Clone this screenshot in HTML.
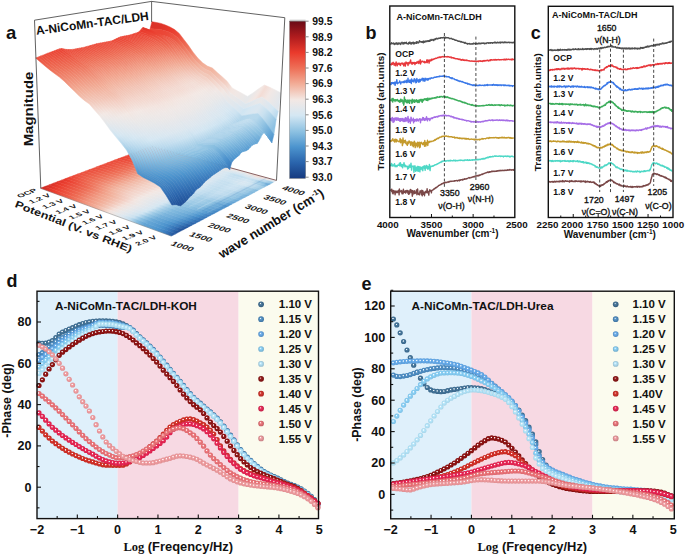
<!DOCTYPE html><html><head><meta charset="utf-8"><style>html,body{margin:0;padding:0;background:#fff;overflow:hidden}svg{display:block}text{font-family:"Liberation Sans",sans-serif}</style></head><body><svg width="685" height="554" viewBox="0 0 685 554" font-family="Liberation Sans, sans-serif"><defs><radialGradient id="dg0" cx="0.5" cy="0.5" r="0.5" fx="0.4" fy="0.38"><stop offset="0" stop-color="#fff" stop-opacity="0.95"/><stop offset="0.12" stop-color="#fff" stop-opacity="0.7"/><stop offset="0.36" stop-color="#49789c"/><stop offset="1" stop-color="#38668a"/></radialGradient><radialGradient id="lg0" cx="0.5" cy="0.5" r="0.5" fx="0.38" fy="0.35"><stop offset="0" stop-color="#fff" stop-opacity="0.9"/><stop offset="0.3" stop-color="#507da0"/><stop offset="1" stop-color="#325b7b"/></radialGradient><radialGradient id="dg1" cx="0.5" cy="0.5" r="0.5" fx="0.4" fy="0.38"><stop offset="0" stop-color="#fff" stop-opacity="0.95"/><stop offset="0.12" stop-color="#fff" stop-opacity="0.7"/><stop offset="0.36" stop-color="#5593c8"/><stop offset="1" stop-color="#4481b4"/></radialGradient><radialGradient id="lg1" cx="0.5" cy="0.5" r="0.5" fx="0.38" fy="0.35"><stop offset="0" stop-color="#fff" stop-opacity="0.9"/><stop offset="0.3" stop-color="#5c98ca"/><stop offset="1" stop-color="#3d73a1"/></radialGradient><radialGradient id="dg2" cx="0.5" cy="0.5" r="0.5" fx="0.4" fy="0.38"><stop offset="0" stop-color="#fff" stop-opacity="0.95"/><stop offset="0.12" stop-color="#fff" stop-opacity="0.7"/><stop offset="0.36" stop-color="#6bafed"/><stop offset="1" stop-color="#5a9cd9"/></radialGradient><radialGradient id="lg2" cx="0.5" cy="0.5" r="0.5" fx="0.38" fy="0.35"><stop offset="0" stop-color="#fff" stop-opacity="0.9"/><stop offset="0.3" stop-color="#72b2ee"/><stop offset="1" stop-color="#508bc2"/></radialGradient><radialGradient id="dg3" cx="0.5" cy="0.5" r="0.5" fx="0.4" fy="0.38"><stop offset="0" stop-color="#fff" stop-opacity="0.95"/><stop offset="0.12" stop-color="#fff" stop-opacity="0.7"/><stop offset="0.36" stop-color="#8dd3f8"/><stop offset="1" stop-color="#7bbfe4"/></radialGradient><radialGradient id="lg3" cx="0.5" cy="0.5" r="0.5" fx="0.38" fy="0.35"><stop offset="0" stop-color="#fff" stop-opacity="0.9"/><stop offset="0.3" stop-color="#92d5f9"/><stop offset="1" stop-color="#6eabcb"/></radialGradient><radialGradient id="dg4" cx="0.5" cy="0.5" r="0.5" fx="0.4" fy="0.38"><stop offset="0" stop-color="#fff" stop-opacity="0.95"/><stop offset="0.12" stop-color="#fff" stop-opacity="0.7"/><stop offset="0.36" stop-color="#b8e8fc"/><stop offset="1" stop-color="#a6d4e8"/></radialGradient><radialGradient id="lg4" cx="0.5" cy="0.5" r="0.5" fx="0.38" fy="0.35"><stop offset="0" stop-color="#fff" stop-opacity="0.9"/><stop offset="0.3" stop-color="#bce8fc"/><stop offset="1" stop-color="#94bdcf"/></radialGradient><radialGradient id="dg5" cx="0.5" cy="0.5" r="0.5" fx="0.4" fy="0.38"><stop offset="0" stop-color="#fff" stop-opacity="0.95"/><stop offset="0.12" stop-color="#fff" stop-opacity="0.7"/><stop offset="0.36" stop-color="#931b1b"/><stop offset="1" stop-color="#810b0b"/></radialGradient><radialGradient id="lg5" cx="0.5" cy="0.5" r="0.5" fx="0.38" fy="0.35"><stop offset="0" stop-color="#fff" stop-opacity="0.9"/><stop offset="0.3" stop-color="#982424"/><stop offset="1" stop-color="#730a0a"/></radialGradient><radialGradient id="dg6" cx="0.5" cy="0.5" r="0.5" fx="0.4" fy="0.38"><stop offset="0" stop-color="#fff" stop-opacity="0.95"/><stop offset="0.12" stop-color="#fff" stop-opacity="0.7"/><stop offset="0.36" stop-color="#d7372f"/><stop offset="1" stop-color="#c3271f"/></radialGradient><radialGradient id="lg6" cx="0.5" cy="0.5" r="0.5" fx="0.38" fy="0.35"><stop offset="0" stop-color="#fff" stop-opacity="0.9"/><stop offset="0.3" stop-color="#d83f38"/><stop offset="1" stop-color="#ae221c"/></radialGradient><radialGradient id="dg7" cx="0.5" cy="0.5" r="0.5" fx="0.4" fy="0.38"><stop offset="0" stop-color="#fff" stop-opacity="0.95"/><stop offset="0.12" stop-color="#fff" stop-opacity="0.7"/><stop offset="0.36" stop-color="#eb2d5a"/><stop offset="1" stop-color="#d71d4a"/></radialGradient><radialGradient id="lg7" cx="0.5" cy="0.5" r="0.5" fx="0.38" fy="0.35"><stop offset="0" stop-color="#fff" stop-opacity="0.9"/><stop offset="0.3" stop-color="#ec3662"/><stop offset="1" stop-color="#c01a42"/></radialGradient><radialGradient id="dg8" cx="0.5" cy="0.5" r="0.5" fx="0.4" fy="0.38"><stop offset="0" stop-color="#fff" stop-opacity="0.95"/><stop offset="0.12" stop-color="#fff" stop-opacity="0.7"/><stop offset="0.36" stop-color="#ef797e"/><stop offset="1" stop-color="#db676d"/></radialGradient><radialGradient id="lg8" cx="0.5" cy="0.5" r="0.5" fx="0.38" fy="0.35"><stop offset="0" stop-color="#fff" stop-opacity="0.9"/><stop offset="0.3" stop-color="#f07e84"/><stop offset="1" stop-color="#c35c61"/></radialGradient><radialGradient id="dg9" cx="0.5" cy="0.5" r="0.5" fx="0.4" fy="0.38"><stop offset="0" stop-color="#fff" stop-opacity="0.95"/><stop offset="0.12" stop-color="#fff" stop-opacity="0.7"/><stop offset="0.36" stop-color="#f3a0a4"/><stop offset="1" stop-color="#df8e91"/></radialGradient><radialGradient id="lg9" cx="0.5" cy="0.5" r="0.5" fx="0.38" fy="0.35"><stop offset="0" stop-color="#fff" stop-opacity="0.9"/><stop offset="0.3" stop-color="#f3a4a8"/><stop offset="1" stop-color="#c67e82"/></radialGradient><linearGradient id="sg0" gradientUnits="userSpaceOnUse" x1="149.9" y1="146.8" x2="274.8" y2="181.5"><stop offset="0.000" stop-color="#e93a2c"/><stop offset="0.044" stop-color="#e8392b"/><stop offset="0.089" stop-color="#e93a2c"/><stop offset="0.135" stop-color="#ea3f30"/><stop offset="0.181" stop-color="#eb4938"/><stop offset="0.227" stop-color="#ec5c47"/><stop offset="0.274" stop-color="#ee745c"/><stop offset="0.322" stop-color="#f0927b"/><stop offset="0.370" stop-color="#f2a892"/><stop offset="0.419" stop-color="#f2baa8"/><stop offset="0.468" stop-color="#f2b9a6"/><stop offset="0.519" stop-color="#f2c6b8"/><stop offset="0.569" stop-color="#f3d4c9"/><stop offset="0.621" stop-color="#f2e8e5"/><stop offset="0.673" stop-color="#ece8e8"/><stop offset="0.726" stop-color="#e8e8e9"/><stop offset="0.779" stop-color="#ece8e7"/><stop offset="0.833" stop-color="#f3e0da"/><stop offset="0.888" stop-color="#f3e0da"/><stop offset="0.944" stop-color="#eae8e8"/><stop offset="1.000" stop-color="#dce7ef"/></linearGradient><linearGradient id="sg1" gradientUnits="userSpaceOnUse" x1="146.6" y1="148.0" x2="271.8" y2="183.1"><stop offset="0.000" stop-color="#eb4b3a"/><stop offset="0.044" stop-color="#eb4938"/><stop offset="0.089" stop-color="#eb4a39"/><stop offset="0.135" stop-color="#ec503e"/><stop offset="0.180" stop-color="#ec5a46"/><stop offset="0.227" stop-color="#ee6d55"/><stop offset="0.274" stop-color="#ef8770"/><stop offset="0.322" stop-color="#f1a48e"/><stop offset="0.370" stop-color="#f2baa8"/><stop offset="0.419" stop-color="#f3ccbf"/><stop offset="0.468" stop-color="#f3ccbf"/><stop offset="0.518" stop-color="#f3dad2"/><stop offset="0.569" stop-color="#f2e8e4"/><stop offset="0.621" stop-color="#e5e8eb"/><stop offset="0.673" stop-color="#dde7ee"/><stop offset="0.725" stop-color="#d7e7f2"/><stop offset="0.779" stop-color="#d8e7f1"/><stop offset="0.833" stop-color="#dfe7ee"/><stop offset="0.888" stop-color="#dae7f0"/><stop offset="0.944" stop-color="#bad9ed"/><stop offset="1.000" stop-color="#8dc2e2"/></linearGradient><linearGradient id="sg2" gradientUnits="userSpaceOnUse" x1="143.4" y1="149.2" x2="268.8" y2="184.7"><stop offset="0.000" stop-color="#e4372b"/><stop offset="0.044" stop-color="#e93a2c"/><stop offset="0.089" stop-color="#ea4031"/><stop offset="0.134" stop-color="#eb4b3a"/><stop offset="0.180" stop-color="#ec5945"/><stop offset="0.227" stop-color="#ee6f57"/><stop offset="0.274" stop-color="#f08c75"/><stop offset="0.322" stop-color="#f2ab95"/><stop offset="0.370" stop-color="#f2c2b3"/><stop offset="0.419" stop-color="#f3d5cb"/><stop offset="0.468" stop-color="#f3d7ce"/><stop offset="0.518" stop-color="#f3e7e2"/><stop offset="0.569" stop-color="#ebe8e8"/><stop offset="0.620" stop-color="#dee7ee"/><stop offset="0.673" stop-color="#d5e7f2"/><stop offset="0.725" stop-color="#c4dfef"/><stop offset="0.779" stop-color="#c2deef"/><stop offset="0.833" stop-color="#cee4f1"/><stop offset="0.888" stop-color="#bfdcee"/><stop offset="0.944" stop-color="#93c5e3"/><stop offset="1.000" stop-color="#64a5d5"/></linearGradient><linearGradient id="sg3" gradientUnits="userSpaceOnUse" x1="140.1" y1="150.5" x2="265.8" y2="186.3"><stop offset="0.000" stop-color="#ea3a2c"/><stop offset="0.044" stop-color="#ea4031"/><stop offset="0.089" stop-color="#eb4737"/><stop offset="0.134" stop-color="#ec5340"/><stop offset="0.180" stop-color="#ed614c"/><stop offset="0.227" stop-color="#ee7760"/><stop offset="0.274" stop-color="#f0947d"/><stop offset="0.321" stop-color="#f2b29e"/><stop offset="0.370" stop-color="#f2c8ba"/><stop offset="0.418" stop-color="#f3dad2"/><stop offset="0.468" stop-color="#f3dcd4"/><stop offset="0.518" stop-color="#f2e8e5"/><stop offset="0.569" stop-color="#eae8e8"/><stop offset="0.620" stop-color="#dee7ee"/><stop offset="0.672" stop-color="#d6e7f2"/><stop offset="0.725" stop-color="#c8e0f0"/><stop offset="0.779" stop-color="#c8e0f0"/><stop offset="0.833" stop-color="#d5e7f3"/><stop offset="0.888" stop-color="#cce3f1"/><stop offset="0.944" stop-color="#a6cfe8"/><stop offset="1.000" stop-color="#7eb7dd"/></linearGradient><linearGradient id="sg4" gradientUnits="userSpaceOnUse" x1="136.9" y1="151.7" x2="262.8" y2="187.9"><stop offset="0.000" stop-color="#ea4131"/><stop offset="0.044" stop-color="#eb4636"/><stop offset="0.089" stop-color="#eb4e3c"/><stop offset="0.134" stop-color="#ec5a46"/><stop offset="0.180" stop-color="#ed6851"/><stop offset="0.227" stop-color="#ef7f67"/><stop offset="0.274" stop-color="#f19b85"/><stop offset="0.321" stop-color="#f2b8a5"/><stop offset="0.369" stop-color="#f3cdc0"/><stop offset="0.418" stop-color="#f3ded7"/><stop offset="0.468" stop-color="#f3dfd9"/><stop offset="0.518" stop-color="#f0e8e5"/><stop offset="0.569" stop-color="#eae8e9"/><stop offset="0.620" stop-color="#dee7ee"/><stop offset="0.672" stop-color="#d7e7f1"/><stop offset="0.725" stop-color="#cce3f1"/><stop offset="0.779" stop-color="#cde3f1"/><stop offset="0.833" stop-color="#d9e7f1"/><stop offset="0.888" stop-color="#d6e7f2"/><stop offset="0.944" stop-color="#bad9ed"/><stop offset="1.000" stop-color="#9ac8e5"/></linearGradient><linearGradient id="sg5" gradientUnits="userSpaceOnUse" x1="133.5" y1="153.0" x2="259.7" y2="189.5"><stop offset="0.000" stop-color="#eb4232"/><stop offset="0.044" stop-color="#eb4837"/><stop offset="0.089" stop-color="#ec503e"/><stop offset="0.134" stop-color="#ed5c48"/><stop offset="0.180" stop-color="#ee6a53"/><stop offset="0.226" stop-color="#ef816a"/><stop offset="0.273" stop-color="#f19d86"/><stop offset="0.321" stop-color="#f2b8a5"/><stop offset="0.369" stop-color="#f3ccc0"/><stop offset="0.418" stop-color="#f3ddd6"/><stop offset="0.468" stop-color="#f3ded8"/><stop offset="0.518" stop-color="#f1e8e5"/><stop offset="0.569" stop-color="#eae8e8"/><stop offset="0.620" stop-color="#e0e7ed"/><stop offset="0.672" stop-color="#d9e7f1"/><stop offset="0.725" stop-color="#cde3f1"/><stop offset="0.778" stop-color="#cee4f1"/><stop offset="0.833" stop-color="#d8e7f1"/><stop offset="0.888" stop-color="#d5e7f2"/><stop offset="0.943" stop-color="#b9d9ec"/><stop offset="1.000" stop-color="#98c7e4"/></linearGradient><linearGradient id="sg6" gradientUnits="userSpaceOnUse" x1="130.2" y1="154.2" x2="256.5" y2="191.1"><stop offset="0.000" stop-color="#eb4334"/><stop offset="0.044" stop-color="#eb4a39"/><stop offset="0.089" stop-color="#ec5240"/><stop offset="0.134" stop-color="#ed5e49"/><stop offset="0.180" stop-color="#ee6c55"/><stop offset="0.226" stop-color="#ef836c"/><stop offset="0.273" stop-color="#f19e87"/><stop offset="0.321" stop-color="#f2b9a6"/><stop offset="0.369" stop-color="#f3ccc0"/><stop offset="0.418" stop-color="#f3ddd5"/><stop offset="0.467" stop-color="#f3ded8"/><stop offset="0.518" stop-color="#f1e8e5"/><stop offset="0.568" stop-color="#eae8e8"/><stop offset="0.620" stop-color="#dfe7ed"/><stop offset="0.672" stop-color="#d8e7f1"/><stop offset="0.725" stop-color="#c9e1f0"/><stop offset="0.778" stop-color="#c5dfef"/><stop offset="0.833" stop-color="#d1e6f2"/><stop offset="0.888" stop-color="#c7e0f0"/><stop offset="0.943" stop-color="#a4cee7"/><stop offset="1.000" stop-color="#7fb7dd"/></linearGradient><linearGradient id="sg7" gradientUnits="userSpaceOnUse" x1="126.8" y1="155.5" x2="253.4" y2="192.8"><stop offset="0.000" stop-color="#eb4334"/><stop offset="0.044" stop-color="#eb4a39"/><stop offset="0.089" stop-color="#ec5340"/><stop offset="0.134" stop-color="#ed5f4a"/><stop offset="0.180" stop-color="#ee6e56"/><stop offset="0.226" stop-color="#ef846d"/><stop offset="0.273" stop-color="#f19e88"/><stop offset="0.321" stop-color="#f2b8a6"/><stop offset="0.369" stop-color="#f3cbbe"/><stop offset="0.418" stop-color="#f3dbd3"/><stop offset="0.467" stop-color="#f3ddd6"/><stop offset="0.517" stop-color="#f2e8e5"/><stop offset="0.568" stop-color="#ebe8e8"/><stop offset="0.620" stop-color="#e0e7ed"/><stop offset="0.672" stop-color="#d9e7f1"/><stop offset="0.725" stop-color="#c9e1f0"/><stop offset="0.778" stop-color="#c4dfef"/><stop offset="0.833" stop-color="#cfe4f2"/><stop offset="0.888" stop-color="#c4deef"/><stop offset="0.943" stop-color="#a0cce6"/><stop offset="1.000" stop-color="#7bb5dc"/></linearGradient><linearGradient id="sg8" gradientUnits="userSpaceOnUse" x1="123.3" y1="156.8" x2="250.2" y2="194.5"><stop offset="0.000" stop-color="#eb4334"/><stop offset="0.044" stop-color="#eb4a39"/><stop offset="0.089" stop-color="#ec5441"/><stop offset="0.134" stop-color="#ed604b"/><stop offset="0.180" stop-color="#ee6e57"/><stop offset="0.226" stop-color="#ef856e"/><stop offset="0.273" stop-color="#f19f88"/><stop offset="0.321" stop-color="#f2b8a5"/><stop offset="0.369" stop-color="#f2cabd"/><stop offset="0.418" stop-color="#f3dad2"/><stop offset="0.467" stop-color="#f3dcd5"/><stop offset="0.517" stop-color="#f2e8e4"/><stop offset="0.568" stop-color="#ece8e7"/><stop offset="0.619" stop-color="#e2e7ec"/><stop offset="0.672" stop-color="#dae7f0"/><stop offset="0.724" stop-color="#cbe2f1"/><stop offset="0.778" stop-color="#c5dfef"/><stop offset="0.832" stop-color="#cee4f2"/><stop offset="0.888" stop-color="#c4deef"/><stop offset="0.943" stop-color="#a1cce7"/><stop offset="1.000" stop-color="#7cb6dd"/></linearGradient><linearGradient id="sg9" gradientUnits="userSpaceOnUse" x1="119.9" y1="158.1" x2="246.9" y2="196.2"><stop offset="0.000" stop-color="#eb4434"/><stop offset="0.044" stop-color="#eb4b3a"/><stop offset="0.089" stop-color="#ec5542"/><stop offset="0.134" stop-color="#ed624c"/><stop offset="0.180" stop-color="#ee7058"/><stop offset="0.226" stop-color="#ef866f"/><stop offset="0.273" stop-color="#f19f89"/><stop offset="0.320" stop-color="#f2b8a5"/><stop offset="0.369" stop-color="#f2cabc"/><stop offset="0.417" stop-color="#f3d9d0"/><stop offset="0.467" stop-color="#f3dcd4"/><stop offset="0.517" stop-color="#f3e8e4"/><stop offset="0.568" stop-color="#ece8e7"/><stop offset="0.619" stop-color="#e2e7ec"/><stop offset="0.671" stop-color="#dae7f0"/><stop offset="0.724" stop-color="#c9e1f0"/><stop offset="0.778" stop-color="#c1ddee"/><stop offset="0.832" stop-color="#c8e1f0"/><stop offset="0.887" stop-color="#bcdaed"/><stop offset="0.943" stop-color="#97c7e4"/><stop offset="1.000" stop-color="#71aed9"/></linearGradient><linearGradient id="sg10" gradientUnits="userSpaceOnUse" x1="116.4" y1="159.4" x2="243.7" y2="197.9"><stop offset="0.000" stop-color="#eb4837"/><stop offset="0.044" stop-color="#ec4f3d"/><stop offset="0.089" stop-color="#ec5945"/><stop offset="0.134" stop-color="#ed664f"/><stop offset="0.180" stop-color="#ee745c"/><stop offset="0.226" stop-color="#f08a73"/><stop offset="0.273" stop-color="#f1a28c"/><stop offset="0.320" stop-color="#f2baa7"/><stop offset="0.369" stop-color="#f2cabd"/><stop offset="0.417" stop-color="#f3d9d1"/><stop offset="0.467" stop-color="#f3dcd4"/><stop offset="0.517" stop-color="#f3e8e4"/><stop offset="0.568" stop-color="#ece8e7"/><stop offset="0.619" stop-color="#e3e7ec"/><stop offset="0.671" stop-color="#dbe7f0"/><stop offset="0.724" stop-color="#cae2f1"/><stop offset="0.778" stop-color="#c0ddee"/><stop offset="0.832" stop-color="#c7e0f0"/><stop offset="0.887" stop-color="#bad9ed"/><stop offset="0.943" stop-color="#96c6e4"/><stop offset="1.000" stop-color="#70add9"/></linearGradient><linearGradient id="sg11" gradientUnits="userSpaceOnUse" x1="112.9" y1="160.8" x2="240.4" y2="199.7"><stop offset="0.000" stop-color="#eb4c3b"/><stop offset="0.044" stop-color="#ec5341"/><stop offset="0.089" stop-color="#ed5d49"/><stop offset="0.134" stop-color="#ee6953"/><stop offset="0.179" stop-color="#ef7861"/><stop offset="0.226" stop-color="#f08d76"/><stop offset="0.273" stop-color="#f1a58e"/><stop offset="0.320" stop-color="#f2bba9"/><stop offset="0.368" stop-color="#f3cbbe"/><stop offset="0.417" stop-color="#f3d9d1"/><stop offset="0.467" stop-color="#f3ddd5"/><stop offset="0.517" stop-color="#f3e8e4"/><stop offset="0.567" stop-color="#ece8e7"/><stop offset="0.619" stop-color="#e3e7ec"/><stop offset="0.671" stop-color="#dbe7ef"/><stop offset="0.724" stop-color="#cbe2f1"/><stop offset="0.778" stop-color="#c0ddee"/><stop offset="0.832" stop-color="#c7e0f0"/><stop offset="0.887" stop-color="#bad9ed"/><stop offset="0.943" stop-color="#97c7e4"/><stop offset="1.000" stop-color="#72aeda"/></linearGradient><linearGradient id="sg12" gradientUnits="userSpaceOnUse" x1="109.3" y1="162.1" x2="237.0" y2="201.4"><stop offset="0.000" stop-color="#eb4c3b"/><stop offset="0.044" stop-color="#ec5441"/><stop offset="0.089" stop-color="#ed5e49"/><stop offset="0.134" stop-color="#ee6a53"/><stop offset="0.179" stop-color="#ef7961"/><stop offset="0.226" stop-color="#f08e77"/><stop offset="0.273" stop-color="#f1a58e"/><stop offset="0.320" stop-color="#f2baa8"/><stop offset="0.368" stop-color="#f2cabd"/><stop offset="0.417" stop-color="#f3d8cf"/><stop offset="0.466" stop-color="#f3dcd4"/><stop offset="0.517" stop-color="#f3e8e4"/><stop offset="0.567" stop-color="#ede8e7"/><stop offset="0.619" stop-color="#e4e8eb"/><stop offset="0.671" stop-color="#dce7ef"/><stop offset="0.724" stop-color="#c9e1f0"/><stop offset="0.778" stop-color="#bcdaed"/><stop offset="0.832" stop-color="#c0dcee"/><stop offset="0.887" stop-color="#b2d5eb"/><stop offset="0.943" stop-color="#8dc2e2"/><stop offset="1.000" stop-color="#67a7d6"/></linearGradient><linearGradient id="sg13" gradientUnits="userSpaceOnUse" x1="105.7" y1="163.5" x2="233.6" y2="203.2"><stop offset="0.000" stop-color="#eb4b3a"/><stop offset="0.044" stop-color="#ec5341"/><stop offset="0.088" stop-color="#ed5e49"/><stop offset="0.134" stop-color="#ee6a53"/><stop offset="0.179" stop-color="#ef7962"/><stop offset="0.225" stop-color="#f08e77"/><stop offset="0.272" stop-color="#f1a48e"/><stop offset="0.320" stop-color="#f2b9a7"/><stop offset="0.368" stop-color="#f2c8bb"/><stop offset="0.417" stop-color="#f3d6cd"/><stop offset="0.466" stop-color="#f3dad2"/><stop offset="0.516" stop-color="#f3e7e2"/><stop offset="0.567" stop-color="#ede8e7"/><stop offset="0.619" stop-color="#e4e8eb"/><stop offset="0.671" stop-color="#dce7ef"/><stop offset="0.724" stop-color="#c7e0f0"/><stop offset="0.777" stop-color="#b8d8ec"/><stop offset="0.832" stop-color="#bad9ed"/><stop offset="0.887" stop-color="#abd1e9"/><stop offset="0.943" stop-color="#86bce0"/><stop offset="1.000" stop-color="#5fa1d4"/></linearGradient><linearGradient id="sg14" gradientUnits="userSpaceOnUse" x1="102.1" y1="164.9" x2="230.2" y2="205.0"><stop offset="0.000" stop-color="#eb4b3a"/><stop offset="0.044" stop-color="#ec5341"/><stop offset="0.088" stop-color="#ed5e49"/><stop offset="0.133" stop-color="#ee6b54"/><stop offset="0.179" stop-color="#ef7a62"/><stop offset="0.225" stop-color="#f08e77"/><stop offset="0.272" stop-color="#f1a48d"/><stop offset="0.320" stop-color="#f2b8a6"/><stop offset="0.368" stop-color="#f2c7b9"/><stop offset="0.417" stop-color="#f3d5cb"/><stop offset="0.466" stop-color="#f3dad2"/><stop offset="0.516" stop-color="#f3e7e2"/><stop offset="0.567" stop-color="#ede8e7"/><stop offset="0.618" stop-color="#e4e8eb"/><stop offset="0.671" stop-color="#dbe7f0"/><stop offset="0.724" stop-color="#c2deef"/><stop offset="0.777" stop-color="#b0d4ea"/><stop offset="0.832" stop-color="#afd3ea"/><stop offset="0.887" stop-color="#9ecae6"/><stop offset="0.943" stop-color="#78b3db"/><stop offset="1.000" stop-color="#4e95cf"/></linearGradient><linearGradient id="sg15" gradientUnits="userSpaceOnUse" x1="98.4" y1="166.2" x2="226.7" y2="206.9"><stop offset="0.000" stop-color="#eb4b39"/><stop offset="0.044" stop-color="#ec5341"/><stop offset="0.088" stop-color="#ed5e4a"/><stop offset="0.133" stop-color="#ee6b54"/><stop offset="0.179" stop-color="#ef7a62"/><stop offset="0.225" stop-color="#f08e77"/><stop offset="0.272" stop-color="#f1a38d"/><stop offset="0.320" stop-color="#f2b8a5"/><stop offset="0.368" stop-color="#f2c6b8"/><stop offset="0.416" stop-color="#f3d4c9"/><stop offset="0.466" stop-color="#f3d9d1"/><stop offset="0.516" stop-color="#f3e7e2"/><stop offset="0.567" stop-color="#ede8e7"/><stop offset="0.618" stop-color="#e3e7ec"/><stop offset="0.671" stop-color="#dae7f0"/><stop offset="0.723" stop-color="#bedbee"/><stop offset="0.777" stop-color="#a8d0e8"/><stop offset="0.832" stop-color="#a4cee7"/><stop offset="0.887" stop-color="#91c4e3"/><stop offset="0.943" stop-color="#6ba9d7"/><stop offset="1.000" stop-color="#458ac7"/></linearGradient><linearGradient id="sg16" gradientUnits="userSpaceOnUse" x1="94.7" y1="167.6" x2="223.2" y2="208.7"><stop offset="0.000" stop-color="#eb4c3a"/><stop offset="0.044" stop-color="#ec5542"/><stop offset="0.088" stop-color="#ed604b"/><stop offset="0.133" stop-color="#ee6d55"/><stop offset="0.179" stop-color="#ef7c64"/><stop offset="0.225" stop-color="#f08f78"/><stop offset="0.272" stop-color="#f1a48e"/><stop offset="0.319" stop-color="#f2b8a5"/><stop offset="0.367" stop-color="#f2c6b7"/><stop offset="0.416" stop-color="#f3d3c8"/><stop offset="0.466" stop-color="#f3d9d1"/><stop offset="0.516" stop-color="#f3e6e2"/><stop offset="0.567" stop-color="#ede8e7"/><stop offset="0.618" stop-color="#e4e8eb"/><stop offset="0.670" stop-color="#dbe7f0"/><stop offset="0.723" stop-color="#bddbed"/><stop offset="0.777" stop-color="#a7cfe8"/><stop offset="0.832" stop-color="#a2cde7"/><stop offset="0.887" stop-color="#91c4e3"/><stop offset="0.943" stop-color="#6cabd8"/><stop offset="1.000" stop-color="#478dc9"/></linearGradient><linearGradient id="sg17" gradientUnits="userSpaceOnUse" x1="90.9" y1="169.1" x2="219.7" y2="210.6"><stop offset="0.000" stop-color="#eb4d3b"/><stop offset="0.044" stop-color="#ec5643"/><stop offset="0.088" stop-color="#ed624c"/><stop offset="0.133" stop-color="#ee6e56"/><stop offset="0.179" stop-color="#ef7d66"/><stop offset="0.225" stop-color="#f0917a"/><stop offset="0.272" stop-color="#f1a58f"/><stop offset="0.319" stop-color="#f2b8a5"/><stop offset="0.367" stop-color="#f2c6b7"/><stop offset="0.416" stop-color="#f3d3c8"/><stop offset="0.465" stop-color="#f3dad1"/><stop offset="0.516" stop-color="#f3e7e3"/><stop offset="0.566" stop-color="#ede8e7"/><stop offset="0.618" stop-color="#e4e8eb"/><stop offset="0.670" stop-color="#dbe7f0"/><stop offset="0.723" stop-color="#bad9ed"/><stop offset="0.777" stop-color="#a2cde7"/><stop offset="0.832" stop-color="#9cc9e5"/><stop offset="0.887" stop-color="#8bc0e1"/><stop offset="0.943" stop-color="#68a7d6"/><stop offset="1.000" stop-color="#458ac7"/></linearGradient><linearGradient id="sg18" gradientUnits="userSpaceOnUse" x1="87.1" y1="170.5" x2="216.1" y2="212.5"><stop offset="0.000" stop-color="#eb4e3c"/><stop offset="0.044" stop-color="#ec5744"/><stop offset="0.088" stop-color="#ed634e"/><stop offset="0.133" stop-color="#ee7058"/><stop offset="0.179" stop-color="#ef7f67"/><stop offset="0.225" stop-color="#f0927b"/><stop offset="0.272" stop-color="#f1a690"/><stop offset="0.319" stop-color="#f2b8a6"/><stop offset="0.367" stop-color="#f2c6b7"/><stop offset="0.416" stop-color="#f3d3c8"/><stop offset="0.465" stop-color="#f3dad2"/><stop offset="0.515" stop-color="#f3e8e4"/><stop offset="0.566" stop-color="#ece8e7"/><stop offset="0.618" stop-color="#e3e7ec"/><stop offset="0.670" stop-color="#dae7f0"/><stop offset="0.723" stop-color="#b6d7ec"/><stop offset="0.777" stop-color="#9cc9e5"/><stop offset="0.831" stop-color="#95c6e4"/><stop offset="0.887" stop-color="#84bbdf"/><stop offset="0.943" stop-color="#61a3d4"/><stop offset="1.000" stop-color="#4185c3"/></linearGradient><linearGradient id="sg19" gradientUnits="userSpaceOnUse" x1="83.3" y1="171.9" x2="212.5" y2="214.4"><stop offset="0.000" stop-color="#eb4e3c"/><stop offset="0.044" stop-color="#ec5844"/><stop offset="0.088" stop-color="#ed644e"/><stop offset="0.133" stop-color="#ee7058"/><stop offset="0.179" stop-color="#ef7f68"/><stop offset="0.225" stop-color="#f0927b"/><stop offset="0.271" stop-color="#f1a690"/><stop offset="0.319" stop-color="#f2b8a5"/><stop offset="0.367" stop-color="#f2c5b6"/><stop offset="0.416" stop-color="#f3d2c7"/><stop offset="0.465" stop-color="#f3dad2"/><stop offset="0.515" stop-color="#f3e8e4"/><stop offset="0.566" stop-color="#ebe8e8"/><stop offset="0.618" stop-color="#e2e7ec"/><stop offset="0.670" stop-color="#d9e7f1"/><stop offset="0.723" stop-color="#b2d5eb"/><stop offset="0.777" stop-color="#96c6e4"/><stop offset="0.831" stop-color="#8ec2e2"/><stop offset="0.887" stop-color="#7eb7dd"/><stop offset="0.943" stop-color="#5b9fd3"/><stop offset="1.000" stop-color="#3e81c0"/></linearGradient><linearGradient id="sg20" gradientUnits="userSpaceOnUse" x1="79.4" y1="173.4" x2="208.8" y2="216.3"><stop offset="0.000" stop-color="#eb4d3c"/><stop offset="0.044" stop-color="#ec5844"/><stop offset="0.088" stop-color="#ed644e"/><stop offset="0.133" stop-color="#ee7159"/><stop offset="0.178" stop-color="#ef8068"/><stop offset="0.225" stop-color="#f0927b"/><stop offset="0.271" stop-color="#f1a690"/><stop offset="0.319" stop-color="#f2b8a5"/><stop offset="0.367" stop-color="#f2c4b5"/><stop offset="0.415" stop-color="#f3d2c7"/><stop offset="0.465" stop-color="#f3dbd3"/><stop offset="0.515" stop-color="#f2e8e4"/><stop offset="0.566" stop-color="#eae8e8"/><stop offset="0.617" stop-color="#e1e7ed"/><stop offset="0.670" stop-color="#d8e7f1"/><stop offset="0.723" stop-color="#add2e9"/><stop offset="0.777" stop-color="#8fc2e2"/><stop offset="0.831" stop-color="#85bcdf"/><stop offset="0.887" stop-color="#75b1db"/><stop offset="0.943" stop-color="#5399d0"/><stop offset="1.000" stop-color="#3a7abc"/></linearGradient><linearGradient id="sg21" gradientUnits="userSpaceOnUse" x1="75.5" y1="174.9" x2="205.1" y2="218.3"><stop offset="0.000" stop-color="#eb4c3b"/><stop offset="0.044" stop-color="#ec5744"/><stop offset="0.088" stop-color="#ed644e"/><stop offset="0.133" stop-color="#ee7058"/><stop offset="0.178" stop-color="#ef7f68"/><stop offset="0.224" stop-color="#f0927b"/><stop offset="0.271" stop-color="#f1a58f"/><stop offset="0.319" stop-color="#f2b7a4"/><stop offset="0.367" stop-color="#f2c4b4"/><stop offset="0.415" stop-color="#f3d1c6"/><stop offset="0.465" stop-color="#f3dbd3"/><stop offset="0.515" stop-color="#f2e8e5"/><stop offset="0.566" stop-color="#e9e8e9"/><stop offset="0.617" stop-color="#e0e7ed"/><stop offset="0.669" stop-color="#d6e7f2"/><stop offset="0.723" stop-color="#a8d0e8"/><stop offset="0.776" stop-color="#89bee0"/><stop offset="0.831" stop-color="#7eb7dd"/><stop offset="0.887" stop-color="#6eacd8"/><stop offset="0.943" stop-color="#4c94ce"/><stop offset="1.000" stop-color="#3675b8"/></linearGradient><linearGradient id="sg22" gradientUnits="userSpaceOnUse" x1="71.6" y1="176.4" x2="201.3" y2="220.3"><stop offset="0.000" stop-color="#eb4636"/><stop offset="0.044" stop-color="#ec523f"/><stop offset="0.088" stop-color="#ed5f4a"/><stop offset="0.133" stop-color="#ee6c55"/><stop offset="0.178" stop-color="#ef7b63"/><stop offset="0.224" stop-color="#f08d76"/><stop offset="0.271" stop-color="#f1a18a"/><stop offset="0.318" stop-color="#f2b39e"/><stop offset="0.366" stop-color="#f2c0af"/><stop offset="0.415" stop-color="#f3cdc1"/><stop offset="0.465" stop-color="#f3d9d0"/><stop offset="0.515" stop-color="#f2e8e4"/><stop offset="0.565" stop-color="#e9e8e9"/><stop offset="0.617" stop-color="#e0e7ed"/><stop offset="0.669" stop-color="#d5e7f2"/><stop offset="0.722" stop-color="#a4cde7"/><stop offset="0.776" stop-color="#83bbdf"/><stop offset="0.831" stop-color="#77b2db"/><stop offset="0.886" stop-color="#67a7d6"/><stop offset="0.943" stop-color="#478dc9"/><stop offset="1.000" stop-color="#306db2"/></linearGradient><linearGradient id="sg23" gradientUnits="userSpaceOnUse" x1="67.6" y1="177.9" x2="197.5" y2="222.3"><stop offset="0.000" stop-color="#ea3e2f"/><stop offset="0.044" stop-color="#eb4a39"/><stop offset="0.088" stop-color="#ec5744"/><stop offset="0.133" stop-color="#ed654f"/><stop offset="0.178" stop-color="#ee725b"/><stop offset="0.224" stop-color="#ef856e"/><stop offset="0.271" stop-color="#f19982"/><stop offset="0.318" stop-color="#f2ab95"/><stop offset="0.366" stop-color="#f2b9a6"/><stop offset="0.415" stop-color="#f2c7b9"/><stop offset="0.464" stop-color="#f3d4ca"/><stop offset="0.514" stop-color="#f3e6e1"/><stop offset="0.565" stop-color="#ebe8e8"/><stop offset="0.617" stop-color="#e1e7ed"/><stop offset="0.669" stop-color="#d5e7f2"/><stop offset="0.722" stop-color="#a3cde7"/><stop offset="0.776" stop-color="#81b9de"/><stop offset="0.831" stop-color="#74b0da"/><stop offset="0.886" stop-color="#62a4d5"/><stop offset="0.943" stop-color="#458ac7"/><stop offset="1.000" stop-color="#2c68ae"/></linearGradient><linearGradient id="sg24" gradientUnits="userSpaceOnUse" x1="63.6" y1="179.4" x2="193.6" y2="224.3"><stop offset="0.000" stop-color="#e4372b"/><stop offset="0.044" stop-color="#eb4132"/><stop offset="0.088" stop-color="#ec4f3d"/><stop offset="0.133" stop-color="#ed5d49"/><stop offset="0.178" stop-color="#ee6b54"/><stop offset="0.224" stop-color="#ef7d65"/><stop offset="0.271" stop-color="#f0917a"/><stop offset="0.318" stop-color="#f1a48d"/><stop offset="0.366" stop-color="#f2b29d"/><stop offset="0.415" stop-color="#f2c1b0"/><stop offset="0.464" stop-color="#f3cfc4"/><stop offset="0.514" stop-color="#f3e2dd"/><stop offset="0.565" stop-color="#ece8e7"/><stop offset="0.617" stop-color="#e1e7ed"/><stop offset="0.669" stop-color="#d5e7f2"/><stop offset="0.722" stop-color="#a0cce6"/><stop offset="0.776" stop-color="#7db6dd"/><stop offset="0.831" stop-color="#6facd9"/><stop offset="0.886" stop-color="#5c9fd3"/><stop offset="0.943" stop-color="#4185c3"/><stop offset="1.000" stop-color="#2961a9"/></linearGradient><linearGradient id="sg25" gradientUnits="userSpaceOnUse" x1="59.5" y1="180.9" x2="189.7" y2="226.4"><stop offset="0.000" stop-color="#e1352a"/><stop offset="0.044" stop-color="#ea3f30"/><stop offset="0.088" stop-color="#eb4d3c"/><stop offset="0.132" stop-color="#ec5b47"/><stop offset="0.178" stop-color="#ed6852"/><stop offset="0.224" stop-color="#ef7a62"/><stop offset="0.271" stop-color="#f08e77"/><stop offset="0.318" stop-color="#f1a18a"/><stop offset="0.366" stop-color="#f2af99"/><stop offset="0.415" stop-color="#f2bead"/><stop offset="0.464" stop-color="#f3cec2"/><stop offset="0.514" stop-color="#f3e2dc"/><stop offset="0.565" stop-color="#ebe8e8"/><stop offset="0.616" stop-color="#e0e7ed"/><stop offset="0.669" stop-color="#d4e7f3"/><stop offset="0.722" stop-color="#9bc9e5"/><stop offset="0.776" stop-color="#77b2db"/><stop offset="0.831" stop-color="#68a8d7"/><stop offset="0.886" stop-color="#569bd1"/><stop offset="0.943" stop-color="#3d7fbf"/><stop offset="1.000" stop-color="#255aa2"/></linearGradient><linearGradient id="sg26" gradientUnits="userSpaceOnUse" x1="55.4" y1="182.5" x2="185.8" y2="228.5"><stop offset="0.000" stop-color="#dd3329"/><stop offset="0.044" stop-color="#ea3c2d"/><stop offset="0.088" stop-color="#eb4a39"/><stop offset="0.132" stop-color="#ec5844"/><stop offset="0.178" stop-color="#ed654f"/><stop offset="0.224" stop-color="#ee765f"/><stop offset="0.270" stop-color="#f08a73"/><stop offset="0.318" stop-color="#f19d86"/><stop offset="0.366" stop-color="#f2ab95"/><stop offset="0.414" stop-color="#f2bba9"/><stop offset="0.464" stop-color="#f3cdc0"/><stop offset="0.514" stop-color="#f3e2dc"/><stop offset="0.565" stop-color="#ebe8e8"/><stop offset="0.616" stop-color="#dfe7ee"/><stop offset="0.669" stop-color="#d0e5f2"/><stop offset="0.722" stop-color="#96c6e4"/><stop offset="0.776" stop-color="#71aed9"/><stop offset="0.830" stop-color="#61a3d4"/><stop offset="0.886" stop-color="#4d95ce"/><stop offset="0.943" stop-color="#3979bb"/><stop offset="1.000" stop-color="#22539a"/></linearGradient><linearGradient id="sg27" gradientUnits="userSpaceOnUse" x1="51.2" y1="184.1" x2="181.8" y2="230.6"><stop offset="0.000" stop-color="#d93128"/><stop offset="0.043" stop-color="#e8392b"/><stop offset="0.088" stop-color="#eb4736"/><stop offset="0.132" stop-color="#ec5441"/><stop offset="0.178" stop-color="#ed624c"/><stop offset="0.224" stop-color="#ee725a"/><stop offset="0.270" stop-color="#ef866f"/><stop offset="0.317" stop-color="#f19982"/><stop offset="0.365" stop-color="#f2a891"/><stop offset="0.414" stop-color="#f2b8a5"/><stop offset="0.463" stop-color="#f3cbbe"/><stop offset="0.514" stop-color="#f3e2dc"/><stop offset="0.564" stop-color="#eae8e8"/><stop offset="0.616" stop-color="#dee7ee"/><stop offset="0.668" stop-color="#cce3f1"/><stop offset="0.722" stop-color="#90c3e3"/><stop offset="0.776" stop-color="#6baad7"/><stop offset="0.830" stop-color="#5b9fd3"/><stop offset="0.886" stop-color="#4a91cc"/><stop offset="0.943" stop-color="#3675b8"/><stop offset="1.000" stop-color="#204e95"/></linearGradient><linearGradient id="sg28" gradientUnits="userSpaceOnUse" x1="47.0" y1="185.7" x2="177.7" y2="232.7"><stop offset="0.000" stop-color="#d42e27"/><stop offset="0.043" stop-color="#e3362a"/><stop offset="0.088" stop-color="#eb4333"/><stop offset="0.132" stop-color="#ec503e"/><stop offset="0.177" stop-color="#ed5d49"/><stop offset="0.223" stop-color="#ee6e56"/><stop offset="0.270" stop-color="#ef816a"/><stop offset="0.317" stop-color="#f0957e"/><stop offset="0.365" stop-color="#f1a48d"/><stop offset="0.414" stop-color="#f2b5a1"/><stop offset="0.463" stop-color="#f2cabc"/><stop offset="0.513" stop-color="#f3e2dc"/><stop offset="0.564" stop-color="#e9e8e9"/><stop offset="0.616" stop-color="#dde7ef"/><stop offset="0.668" stop-color="#c9e1f0"/><stop offset="0.721" stop-color="#8dc1e2"/><stop offset="0.775" stop-color="#68a8d7"/><stop offset="0.830" stop-color="#5a9ed2"/><stop offset="0.886" stop-color="#4a92cc"/><stop offset="0.943" stop-color="#3877ba"/><stop offset="1.000" stop-color="#215198"/></linearGradient><linearGradient id="sg29" gradientUnits="userSpaceOnUse" x1="42.7" y1="187.3" x2="173.6" y2="234.9"><stop offset="0.000" stop-color="#ce2c25"/><stop offset="0.043" stop-color="#de3429"/><stop offset="0.087" stop-color="#ea3e2f"/><stop offset="0.132" stop-color="#eb4b3a"/><stop offset="0.177" stop-color="#ec5945"/><stop offset="0.223" stop-color="#ed6952"/><stop offset="0.270" stop-color="#ef7c65"/><stop offset="0.317" stop-color="#f09079"/><stop offset="0.365" stop-color="#f1a089"/><stop offset="0.414" stop-color="#f2b29e"/><stop offset="0.463" stop-color="#f2c9bb"/><stop offset="0.513" stop-color="#f3e3dd"/><stop offset="0.564" stop-color="#e8e8e9"/><stop offset="0.616" stop-color="#dbe7f0"/><stop offset="0.668" stop-color="#c4deef"/><stop offset="0.721" stop-color="#88bee0"/><stop offset="0.775" stop-color="#64a5d5"/><stop offset="0.830" stop-color="#589dd2"/><stop offset="0.886" stop-color="#4b93cd"/><stop offset="0.942" stop-color="#3b7bbd"/><stop offset="1.000" stop-color="#23569d"/></linearGradient><linearGradient id="sg30" gradientUnits="userSpaceOnUse" x1="151.0" y1="25.2" x2="279.4" y2="102.9"><stop offset="0.000" stop-color="#dc3329"/><stop offset="0.027" stop-color="#dc3329"/><stop offset="0.055" stop-color="#dd3329"/><stop offset="0.085" stop-color="#e1362a"/><stop offset="0.117" stop-color="#e8392b"/><stop offset="0.152" stop-color="#ea4031"/><stop offset="0.190" stop-color="#eb4b3a"/><stop offset="0.237" stop-color="#ed5f4a"/><stop offset="0.285" stop-color="#ee725a"/><stop offset="0.334" stop-color="#f08a72"/><stop offset="0.381" stop-color="#f19d87"/><stop offset="0.424" stop-color="#f2ac95"/><stop offset="0.463" stop-color="#f2b39e"/><stop offset="0.498" stop-color="#f2b49f"/><stop offset="0.542" stop-color="#f2beac"/><stop offset="0.586" stop-color="#f2c7b9"/><stop offset="0.630" stop-color="#f3d2c7"/><stop offset="0.682" stop-color="#f3e6e1"/><stop offset="0.722" stop-color="#f1e8e5"/><stop offset="0.762" stop-color="#ece8e7"/><stop offset="0.804" stop-color="#e6e8ea"/><stop offset="0.825" stop-color="#ede8e7"/><stop offset="0.846" stop-color="#f3e7e3"/><stop offset="0.867" stop-color="#f3dcd5"/><stop offset="0.910" stop-color="#f2e8e5"/><stop offset="0.954" stop-color="#e9e8e9"/><stop offset="1.000" stop-color="#e1e7ed"/></linearGradient><linearGradient id="sg31" gradientUnits="userSpaceOnUse" x1="149.2" y1="32.4" x2="277.3" y2="115.1"><stop offset="0.000" stop-color="#eb4938"/><stop offset="0.024" stop-color="#eb4636"/><stop offset="0.048" stop-color="#eb4434"/><stop offset="0.076" stop-color="#eb4636"/><stop offset="0.106" stop-color="#eb4a39"/><stop offset="0.139" stop-color="#ec513f"/><stop offset="0.176" stop-color="#ec5b47"/><stop offset="0.221" stop-color="#ee6d55"/><stop offset="0.268" stop-color="#ef816a"/><stop offset="0.316" stop-color="#f19780"/><stop offset="0.362" stop-color="#f2aa94"/><stop offset="0.405" stop-color="#f2b7a4"/><stop offset="0.444" stop-color="#f2bead"/><stop offset="0.479" stop-color="#f2bfae"/><stop offset="0.522" stop-color="#f2c9bc"/><stop offset="0.566" stop-color="#f3d3c9"/><stop offset="0.611" stop-color="#f3ded7"/><stop offset="0.664" stop-color="#ede8e7"/><stop offset="0.705" stop-color="#e9e8e9"/><stop offset="0.747" stop-color="#e3e7ec"/><stop offset="0.790" stop-color="#dbe7ef"/><stop offset="0.812" stop-color="#e0e7ed"/><stop offset="0.834" stop-color="#e5e8eb"/><stop offset="0.858" stop-color="#e9e8e9"/><stop offset="0.903" stop-color="#dfe7ee"/><stop offset="0.950" stop-color="#d4e7f3"/><stop offset="1.000" stop-color="#b9d9ed"/></linearGradient><linearGradient id="sg32" gradientUnits="userSpaceOnUse" x1="147.4" y1="34.0" x2="275.2" y2="125.0"><stop offset="0.000" stop-color="#eb4e3c"/><stop offset="0.023" stop-color="#eb4b3a"/><stop offset="0.046" stop-color="#eb4a39"/><stop offset="0.073" stop-color="#eb4d3b"/><stop offset="0.102" stop-color="#ec513f"/><stop offset="0.134" stop-color="#ec5845"/><stop offset="0.170" stop-color="#ed634d"/><stop offset="0.215" stop-color="#ee755d"/><stop offset="0.261" stop-color="#f08a73"/><stop offset="0.310" stop-color="#f1a08a"/><stop offset="0.355" stop-color="#f2b39e"/><stop offset="0.398" stop-color="#f2c0b0"/><stop offset="0.436" stop-color="#f2c8b9"/><stop offset="0.471" stop-color="#f2c9bb"/><stop offset="0.514" stop-color="#f3d4c9"/><stop offset="0.558" stop-color="#f3ded7"/><stop offset="0.603" stop-color="#f2e8e4"/><stop offset="0.656" stop-color="#e7e8ea"/><stop offset="0.697" stop-color="#e2e7ec"/><stop offset="0.740" stop-color="#dbe7f0"/><stop offset="0.784" stop-color="#d0e5f2"/><stop offset="0.806" stop-color="#d6e7f2"/><stop offset="0.828" stop-color="#d9e7f1"/><stop offset="0.852" stop-color="#dbe7f0"/><stop offset="0.898" stop-color="#c9e1f0"/><stop offset="0.948" stop-color="#acd2e9"/><stop offset="1.000" stop-color="#8dc1e2"/></linearGradient><linearGradient id="sg33" gradientUnits="userSpaceOnUse" x1="145.6" y1="31.9" x2="272.9" y2="139.9"><stop offset="0.000" stop-color="#eb4434"/><stop offset="0.023" stop-color="#eb4434"/><stop offset="0.046" stop-color="#eb4535"/><stop offset="0.072" stop-color="#eb4a39"/><stop offset="0.100" stop-color="#ec503e"/><stop offset="0.131" stop-color="#ec5945"/><stop offset="0.166" stop-color="#ed654f"/><stop offset="0.211" stop-color="#ef7962"/><stop offset="0.256" stop-color="#f08f78"/><stop offset="0.304" stop-color="#f2a790"/><stop offset="0.349" stop-color="#f2b9a7"/><stop offset="0.390" stop-color="#f2c7b9"/><stop offset="0.427" stop-color="#f3d0c5"/><stop offset="0.460" stop-color="#f3d3c8"/><stop offset="0.503" stop-color="#f3ded7"/><stop offset="0.547" stop-color="#f2e8e5"/><stop offset="0.591" stop-color="#ebe8e8"/><stop offset="0.644" stop-color="#dfe7ee"/><stop offset="0.685" stop-color="#d9e7f1"/><stop offset="0.727" stop-color="#cde3f1"/><stop offset="0.772" stop-color="#b4d6eb"/><stop offset="0.794" stop-color="#b7d8ec"/><stop offset="0.817" stop-color="#b9d9ec"/><stop offset="0.842" stop-color="#b7d8ec"/><stop offset="0.890" stop-color="#96c6e4"/><stop offset="0.943" stop-color="#72afda"/><stop offset="1.000" stop-color="#4c94ce"/></linearGradient><linearGradient id="sg34" gradientUnits="userSpaceOnUse" x1="143.8" y1="29.1" x2="271.2" y2="141.7"><stop offset="0.000" stop-color="#e7382b"/><stop offset="0.024" stop-color="#ea3a2c"/><stop offset="0.049" stop-color="#ea3e2f"/><stop offset="0.077" stop-color="#eb4535"/><stop offset="0.106" stop-color="#eb4d3c"/><stop offset="0.138" stop-color="#ec5844"/><stop offset="0.174" stop-color="#ed654f"/><stop offset="0.219" stop-color="#ef7a63"/><stop offset="0.265" stop-color="#f0917a"/><stop offset="0.313" stop-color="#f2a993"/><stop offset="0.358" stop-color="#f2bcab"/><stop offset="0.399" stop-color="#f2cbbe"/><stop offset="0.437" stop-color="#f3d4ca"/><stop offset="0.470" stop-color="#f3d7ce"/><stop offset="0.512" stop-color="#f3e3dd"/><stop offset="0.555" stop-color="#efe8e6"/><stop offset="0.600" stop-color="#e9e8e9"/><stop offset="0.652" stop-color="#dde7ef"/><stop offset="0.692" stop-color="#d6e7f2"/><stop offset="0.734" stop-color="#c7e0f0"/><stop offset="0.779" stop-color="#aed3ea"/><stop offset="0.801" stop-color="#b1d4ea"/><stop offset="0.822" stop-color="#b2d5eb"/><stop offset="0.846" stop-color="#b0d4ea"/><stop offset="0.893" stop-color="#8fc3e2"/><stop offset="0.945" stop-color="#6dabd8"/><stop offset="1.000" stop-color="#4a91cc"/></linearGradient><linearGradient id="sg35" gradientUnits="userSpaceOnUse" x1="142.0" y1="27.9" x2="269.7" y2="139.5"><stop offset="0.000" stop-color="#e0352a"/><stop offset="0.026" stop-color="#e5382b"/><stop offset="0.052" stop-color="#ea3b2d"/><stop offset="0.081" stop-color="#eb4333"/><stop offset="0.112" stop-color="#eb4d3b"/><stop offset="0.145" stop-color="#ec5844"/><stop offset="0.182" stop-color="#ed6650"/><stop offset="0.227" stop-color="#ef7c64"/><stop offset="0.274" stop-color="#f0937c"/><stop offset="0.322" stop-color="#f2ab95"/><stop offset="0.367" stop-color="#f2bead"/><stop offset="0.409" stop-color="#f3cdc0"/><stop offset="0.446" stop-color="#f3d6cc"/><stop offset="0.480" stop-color="#f3d9d0"/><stop offset="0.523" stop-color="#f3e4df"/><stop offset="0.566" stop-color="#efe8e6"/><stop offset="0.610" stop-color="#e8e8e9"/><stop offset="0.662" stop-color="#dde7ef"/><stop offset="0.703" stop-color="#d7e7f2"/><stop offset="0.744" stop-color="#c9e1f0"/><stop offset="0.789" stop-color="#b0d4ea"/><stop offset="0.810" stop-color="#b4d6eb"/><stop offset="0.830" stop-color="#b6d7ec"/><stop offset="0.853" stop-color="#b6d7ec"/><stop offset="0.898" stop-color="#98c7e4"/><stop offset="0.947" stop-color="#78b2db"/><stop offset="1.000" stop-color="#569bd1"/></linearGradient><linearGradient id="sg36" gradientUnits="userSpaceOnUse" x1="140.2" y1="30.5" x2="268.2" y2="137.3"><stop offset="0.000" stop-color="#ea3a2c"/><stop offset="0.026" stop-color="#ea3e2f"/><stop offset="0.053" stop-color="#eb4333"/><stop offset="0.082" stop-color="#eb4a39"/><stop offset="0.113" stop-color="#ec5441"/><stop offset="0.146" stop-color="#ed5f4a"/><stop offset="0.183" stop-color="#ee6c55"/><stop offset="0.229" stop-color="#ef826b"/><stop offset="0.275" stop-color="#f19982"/><stop offset="0.324" stop-color="#f2b09b"/><stop offset="0.369" stop-color="#f2c2b3"/><stop offset="0.411" stop-color="#f3d0c5"/><stop offset="0.449" stop-color="#f3d9d0"/><stop offset="0.484" stop-color="#f3dcd4"/><stop offset="0.527" stop-color="#f3e7e2"/><stop offset="0.571" stop-color="#eee8e6"/><stop offset="0.615" stop-color="#e8e8e9"/><stop offset="0.667" stop-color="#dde7ef"/><stop offset="0.708" stop-color="#d7e7f1"/><stop offset="0.750" stop-color="#cae2f1"/><stop offset="0.795" stop-color="#b2d5eb"/><stop offset="0.816" stop-color="#b6d7ec"/><stop offset="0.836" stop-color="#bad9ed"/><stop offset="0.858" stop-color="#bbdaed"/><stop offset="0.902" stop-color="#a0cbe6"/><stop offset="0.950" stop-color="#82bade"/><stop offset="1.000" stop-color="#64a5d5"/></linearGradient><linearGradient id="sg37" gradientUnits="userSpaceOnUse" x1="138.3" y1="32.2" x2="266.7" y2="134.9"><stop offset="0.000" stop-color="#ea3f30"/><stop offset="0.027" stop-color="#eb4333"/><stop offset="0.054" stop-color="#eb4837"/><stop offset="0.084" stop-color="#ec503e"/><stop offset="0.115" stop-color="#ec5945"/><stop offset="0.149" stop-color="#ed644e"/><stop offset="0.186" stop-color="#ee7159"/><stop offset="0.232" stop-color="#f08870"/><stop offset="0.279" stop-color="#f19e87"/><stop offset="0.327" stop-color="#f2b4a0"/><stop offset="0.373" stop-color="#f2c6b7"/><stop offset="0.415" stop-color="#f3d3c9"/><stop offset="0.454" stop-color="#f3dcd4"/><stop offset="0.489" stop-color="#f3ded7"/><stop offset="0.533" stop-color="#f3e8e4"/><stop offset="0.577" stop-color="#ede8e7"/><stop offset="0.622" stop-color="#e7e8ea"/><stop offset="0.674" stop-color="#dde7ef"/><stop offset="0.714" stop-color="#d8e7f1"/><stop offset="0.757" stop-color="#cce3f1"/><stop offset="0.801" stop-color="#b4d6eb"/><stop offset="0.822" stop-color="#b9d9ed"/><stop offset="0.842" stop-color="#bfdcee"/><stop offset="0.864" stop-color="#c1ddee"/><stop offset="0.906" stop-color="#a9d0e8"/><stop offset="0.952" stop-color="#8dc1e2"/><stop offset="1.000" stop-color="#72afda"/></linearGradient><linearGradient id="sg38" gradientUnits="userSpaceOnUse" x1="136.5" y1="32.9" x2="265.1" y2="132.4"><stop offset="0.000" stop-color="#ea4131"/><stop offset="0.028" stop-color="#eb4535"/><stop offset="0.055" stop-color="#eb4a39"/><stop offset="0.086" stop-color="#ec523f"/><stop offset="0.117" stop-color="#ec5b47"/><stop offset="0.152" stop-color="#ed6650"/><stop offset="0.190" stop-color="#ee745c"/><stop offset="0.236" stop-color="#f08a73"/><stop offset="0.283" stop-color="#f1a089"/><stop offset="0.332" stop-color="#f2b6a2"/><stop offset="0.378" stop-color="#f2c7b9"/><stop offset="0.420" stop-color="#f3d4ca"/><stop offset="0.460" stop-color="#f3ddd5"/><stop offset="0.495" stop-color="#f3dfd9"/><stop offset="0.539" stop-color="#f2e8e4"/><stop offset="0.584" stop-color="#ede8e7"/><stop offset="0.629" stop-color="#e7e8ea"/><stop offset="0.680" stop-color="#dde7ef"/><stop offset="0.721" stop-color="#d9e7f1"/><stop offset="0.764" stop-color="#cee4f2"/><stop offset="0.808" stop-color="#b7d8ec"/><stop offset="0.829" stop-color="#bddbed"/><stop offset="0.849" stop-color="#c3deef"/><stop offset="0.869" stop-color="#c8e1f0"/><stop offset="0.910" stop-color="#b2d5eb"/><stop offset="0.954" stop-color="#99c8e5"/><stop offset="1.000" stop-color="#81b9de"/></linearGradient><linearGradient id="sg39" gradientUnits="userSpaceOnUse" x1="134.6" y1="33.5" x2="263.4" y2="133.4"><stop offset="0.000" stop-color="#eb4132"/><stop offset="0.028" stop-color="#eb4636"/><stop offset="0.055" stop-color="#eb4b3a"/><stop offset="0.086" stop-color="#ec5340"/><stop offset="0.118" stop-color="#ed5c48"/><stop offset="0.152" stop-color="#ed6751"/><stop offset="0.190" stop-color="#ee755d"/><stop offset="0.236" stop-color="#f08b74"/><stop offset="0.282" stop-color="#f1a08a"/><stop offset="0.331" stop-color="#f2b6a2"/><stop offset="0.377" stop-color="#f2c7b9"/><stop offset="0.419" stop-color="#f3d4ca"/><stop offset="0.459" stop-color="#f3dcd5"/><stop offset="0.494" stop-color="#f3dfd8"/><stop offset="0.538" stop-color="#f3e8e4"/><stop offset="0.583" stop-color="#ede8e7"/><stop offset="0.628" stop-color="#e8e8e9"/><stop offset="0.680" stop-color="#dee7ee"/><stop offset="0.721" stop-color="#d9e7f0"/><stop offset="0.763" stop-color="#d0e5f2"/><stop offset="0.809" stop-color="#b8d8ec"/><stop offset="0.830" stop-color="#bddbed"/><stop offset="0.849" stop-color="#c3deef"/><stop offset="0.870" stop-color="#c7e0f0"/><stop offset="0.910" stop-color="#b1d5eb"/><stop offset="0.954" stop-color="#98c7e5"/><stop offset="1.000" stop-color="#80b8de"/></linearGradient><linearGradient id="sg40" gradientUnits="userSpaceOnUse" x1="132.8" y1="34.1" x2="261.7" y2="135.4"><stop offset="0.000" stop-color="#eb4233"/><stop offset="0.027" stop-color="#eb4736"/><stop offset="0.055" stop-color="#eb4c3a"/><stop offset="0.085" stop-color="#ec5441"/><stop offset="0.117" stop-color="#ed5d49"/><stop offset="0.151" stop-color="#ed6852"/><stop offset="0.189" stop-color="#ee765e"/><stop offset="0.234" stop-color="#f08c75"/><stop offset="0.281" stop-color="#f1a18b"/><stop offset="0.329" stop-color="#f2b6a3"/><stop offset="0.375" stop-color="#f2c7b9"/><stop offset="0.417" stop-color="#f3d4c9"/><stop offset="0.456" stop-color="#f3dcd4"/><stop offset="0.492" stop-color="#f3ded8"/><stop offset="0.536" stop-color="#f3e8e4"/><stop offset="0.581" stop-color="#eee8e7"/><stop offset="0.626" stop-color="#e8e8e9"/><stop offset="0.677" stop-color="#dfe7ee"/><stop offset="0.718" stop-color="#dae7f0"/><stop offset="0.761" stop-color="#d0e5f2"/><stop offset="0.807" stop-color="#b7d8ec"/><stop offset="0.828" stop-color="#bcdaed"/><stop offset="0.848" stop-color="#c0ddee"/><stop offset="0.869" stop-color="#c3deef"/><stop offset="0.910" stop-color="#add2e9"/><stop offset="0.954" stop-color="#93c5e3"/><stop offset="1.000" stop-color="#7bb5dc"/></linearGradient><linearGradient id="sg41" gradientUnits="userSpaceOnUse" x1="130.9" y1="34.7" x2="259.9" y2="139.2"><stop offset="0.000" stop-color="#eb4333"/><stop offset="0.027" stop-color="#eb4737"/><stop offset="0.055" stop-color="#eb4d3b"/><stop offset="0.084" stop-color="#ec5542"/><stop offset="0.116" stop-color="#ed5f4a"/><stop offset="0.149" stop-color="#ee6a53"/><stop offset="0.186" stop-color="#ee7760"/><stop offset="0.232" stop-color="#f08d76"/><stop offset="0.278" stop-color="#f1a28b"/><stop offset="0.325" stop-color="#f2b7a3"/><stop offset="0.370" stop-color="#f2c7b9"/><stop offset="0.412" stop-color="#f3d4c9"/><stop offset="0.451" stop-color="#f3dcd4"/><stop offset="0.487" stop-color="#f3ded8"/><stop offset="0.531" stop-color="#f3e8e4"/><stop offset="0.576" stop-color="#ede8e7"/><stop offset="0.620" stop-color="#e8e8e9"/><stop offset="0.672" stop-color="#dee7ee"/><stop offset="0.713" stop-color="#d9e7f0"/><stop offset="0.756" stop-color="#cee4f2"/><stop offset="0.803" stop-color="#b4d6eb"/><stop offset="0.825" stop-color="#b7d8ec"/><stop offset="0.845" stop-color="#bad9ed"/><stop offset="0.866" stop-color="#bbdaed"/><stop offset="0.907" stop-color="#a3cde7"/><stop offset="0.953" stop-color="#88bee0"/><stop offset="1.000" stop-color="#6dabd8"/></linearGradient><linearGradient id="sg42" gradientUnits="userSpaceOnUse" x1="129.0" y1="35.2" x2="258.0" y2="142.8"><stop offset="0.000" stop-color="#eb4434"/><stop offset="0.027" stop-color="#eb4838"/><stop offset="0.054" stop-color="#eb4e3c"/><stop offset="0.083" stop-color="#ec5643"/><stop offset="0.114" stop-color="#ed604b"/><stop offset="0.147" stop-color="#ee6b54"/><stop offset="0.184" stop-color="#ef7961"/><stop offset="0.229" stop-color="#f08e77"/><stop offset="0.275" stop-color="#f1a38c"/><stop offset="0.322" stop-color="#f2b7a4"/><stop offset="0.366" stop-color="#f2c7b9"/><stop offset="0.408" stop-color="#f3d3c9"/><stop offset="0.447" stop-color="#f3dcd4"/><stop offset="0.482" stop-color="#f3dfd8"/><stop offset="0.526" stop-color="#f3e8e4"/><stop offset="0.571" stop-color="#ede8e7"/><stop offset="0.615" stop-color="#e8e8e9"/><stop offset="0.667" stop-color="#dee7ee"/><stop offset="0.708" stop-color="#d9e7f1"/><stop offset="0.752" stop-color="#cce3f1"/><stop offset="0.799" stop-color="#b1d4ea"/><stop offset="0.821" stop-color="#b2d5eb"/><stop offset="0.842" stop-color="#b4d6eb"/><stop offset="0.864" stop-color="#b3d6eb"/><stop offset="0.905" stop-color="#9ac8e5"/><stop offset="0.951" stop-color="#7db6dd"/><stop offset="1.000" stop-color="#61a3d4"/></linearGradient><linearGradient id="sg43" gradientUnits="userSpaceOnUse" x1="127.1" y1="35.6" x2="256.3" y2="143.6"><stop offset="0.000" stop-color="#eb4434"/><stop offset="0.027" stop-color="#eb4838"/><stop offset="0.054" stop-color="#eb4e3c"/><stop offset="0.084" stop-color="#ec5643"/><stop offset="0.114" stop-color="#ed604b"/><stop offset="0.148" stop-color="#ee6b54"/><stop offset="0.184" stop-color="#ef7962"/><stop offset="0.229" stop-color="#f08e77"/><stop offset="0.274" stop-color="#f1a38c"/><stop offset="0.321" stop-color="#f2b7a3"/><stop offset="0.366" stop-color="#f2c7b9"/><stop offset="0.407" stop-color="#f3d3c8"/><stop offset="0.446" stop-color="#f3dbd3"/><stop offset="0.482" stop-color="#f3ded7"/><stop offset="0.526" stop-color="#f3e8e4"/><stop offset="0.570" stop-color="#eee8e6"/><stop offset="0.615" stop-color="#e9e8e9"/><stop offset="0.666" stop-color="#dfe7ee"/><stop offset="0.708" stop-color="#dae7f0"/><stop offset="0.752" stop-color="#cee4f1"/><stop offset="0.800" stop-color="#b1d5eb"/><stop offset="0.822" stop-color="#b3d5eb"/><stop offset="0.843" stop-color="#b4d6eb"/><stop offset="0.865" stop-color="#b2d5eb"/><stop offset="0.906" stop-color="#99c8e5"/><stop offset="0.952" stop-color="#7db6dd"/><stop offset="1.000" stop-color="#61a3d4"/></linearGradient><linearGradient id="sg44" gradientUnits="userSpaceOnUse" x1="125.2" y1="36.0" x2="254.6" y2="144.2"><stop offset="0.000" stop-color="#eb4334"/><stop offset="0.027" stop-color="#eb4838"/><stop offset="0.054" stop-color="#eb4e3c"/><stop offset="0.084" stop-color="#ec5743"/><stop offset="0.115" stop-color="#ed614b"/><stop offset="0.148" stop-color="#ee6c55"/><stop offset="0.185" stop-color="#ef7a62"/><stop offset="0.229" stop-color="#f08f78"/><stop offset="0.275" stop-color="#f1a38c"/><stop offset="0.321" stop-color="#f2b6a3"/><stop offset="0.366" stop-color="#f2c6b8"/><stop offset="0.407" stop-color="#f3d2c7"/><stop offset="0.446" stop-color="#f3dad2"/><stop offset="0.482" stop-color="#f3ddd6"/><stop offset="0.526" stop-color="#f3e7e3"/><stop offset="0.571" stop-color="#eee8e6"/><stop offset="0.616" stop-color="#e9e8e9"/><stop offset="0.667" stop-color="#e0e7ed"/><stop offset="0.708" stop-color="#dae7f0"/><stop offset="0.752" stop-color="#cfe4f2"/><stop offset="0.801" stop-color="#b2d5eb"/><stop offset="0.823" stop-color="#b3d6eb"/><stop offset="0.844" stop-color="#b4d6eb"/><stop offset="0.866" stop-color="#b2d5eb"/><stop offset="0.907" stop-color="#9ac8e5"/><stop offset="0.952" stop-color="#7eb7dd"/><stop offset="1.000" stop-color="#62a3d5"/></linearGradient><linearGradient id="sg45" gradientUnits="userSpaceOnUse" x1="123.3" y1="36.3" x2="252.8" y2="144.8"><stop offset="0.000" stop-color="#eb4334"/><stop offset="0.027" stop-color="#eb4838"/><stop offset="0.055" stop-color="#ec4e3d"/><stop offset="0.084" stop-color="#ec5744"/><stop offset="0.115" stop-color="#ed614c"/><stop offset="0.148" stop-color="#ee6c55"/><stop offset="0.185" stop-color="#ef7a63"/><stop offset="0.229" stop-color="#f08f78"/><stop offset="0.275" stop-color="#f1a38c"/><stop offset="0.321" stop-color="#f2b6a3"/><stop offset="0.366" stop-color="#f2c6b7"/><stop offset="0.407" stop-color="#f3d1c6"/><stop offset="0.446" stop-color="#f3dad1"/><stop offset="0.482" stop-color="#f3ddd5"/><stop offset="0.526" stop-color="#f3e6e2"/><stop offset="0.571" stop-color="#efe8e6"/><stop offset="0.616" stop-color="#eae8e9"/><stop offset="0.667" stop-color="#e0e7ed"/><stop offset="0.709" stop-color="#dbe7f0"/><stop offset="0.753" stop-color="#d0e5f2"/><stop offset="0.802" stop-color="#b2d5eb"/><stop offset="0.824" stop-color="#b3d6eb"/><stop offset="0.845" stop-color="#b4d6eb"/><stop offset="0.867" stop-color="#b2d5eb"/><stop offset="0.907" stop-color="#9ac8e5"/><stop offset="0.953" stop-color="#7eb7dd"/><stop offset="1.000" stop-color="#63a4d5"/></linearGradient><linearGradient id="sg46" gradientUnits="userSpaceOnUse" x1="121.3" y1="36.7" x2="251.1" y2="146.5"><stop offset="0.000" stop-color="#eb4333"/><stop offset="0.027" stop-color="#eb4938"/><stop offset="0.055" stop-color="#ec4f3d"/><stop offset="0.084" stop-color="#ec5844"/><stop offset="0.115" stop-color="#ed624c"/><stop offset="0.148" stop-color="#ee6d55"/><stop offset="0.185" stop-color="#ef7b63"/><stop offset="0.229" stop-color="#f08f78"/><stop offset="0.274" stop-color="#f1a38c"/><stop offset="0.320" stop-color="#f2b6a3"/><stop offset="0.364" stop-color="#f2c5b7"/><stop offset="0.405" stop-color="#f3d1c5"/><stop offset="0.444" stop-color="#f3d9d1"/><stop offset="0.481" stop-color="#f3dcd5"/><stop offset="0.525" stop-color="#f3e6e1"/><stop offset="0.570" stop-color="#efe8e6"/><stop offset="0.614" stop-color="#eae8e8"/><stop offset="0.665" stop-color="#e1e7ed"/><stop offset="0.707" stop-color="#dbe7ef"/><stop offset="0.752" stop-color="#d0e5f2"/><stop offset="0.801" stop-color="#b1d5eb"/><stop offset="0.824" stop-color="#b2d5eb"/><stop offset="0.845" stop-color="#b1d5eb"/><stop offset="0.867" stop-color="#afd4ea"/><stop offset="0.907" stop-color="#97c7e4"/><stop offset="0.952" stop-color="#7bb5dc"/><stop offset="1.000" stop-color="#5fa1d4"/></linearGradient><linearGradient id="sg47" gradientUnits="userSpaceOnUse" x1="119.4" y1="37.2" x2="249.2" y2="148.7"><stop offset="0.000" stop-color="#eb4434"/><stop offset="0.027" stop-color="#eb4938"/><stop offset="0.054" stop-color="#ec4f3d"/><stop offset="0.084" stop-color="#ec5845"/><stop offset="0.114" stop-color="#ed624d"/><stop offset="0.147" stop-color="#ee6e56"/><stop offset="0.183" stop-color="#ef7c64"/><stop offset="0.227" stop-color="#f09079"/><stop offset="0.272" stop-color="#f1a38d"/><stop offset="0.318" stop-color="#f2b6a2"/><stop offset="0.362" stop-color="#f2c5b6"/><stop offset="0.402" stop-color="#f3d0c5"/><stop offset="0.441" stop-color="#f3d9d0"/><stop offset="0.478" stop-color="#f3dcd4"/><stop offset="0.522" stop-color="#f3e6e1"/><stop offset="0.567" stop-color="#efe8e6"/><stop offset="0.611" stop-color="#eae8e8"/><stop offset="0.662" stop-color="#e1e7ed"/><stop offset="0.704" stop-color="#dbe7ef"/><stop offset="0.749" stop-color="#d0e5f2"/><stop offset="0.799" stop-color="#b0d4ea"/><stop offset="0.822" stop-color="#afd4ea"/><stop offset="0.843" stop-color="#aed3ea"/><stop offset="0.866" stop-color="#abd1e9"/><stop offset="0.906" stop-color="#92c4e3"/><stop offset="0.952" stop-color="#76b1db"/><stop offset="1.000" stop-color="#599dd2"/></linearGradient><linearGradient id="sg48" gradientUnits="userSpaceOnUse" x1="117.4" y1="38.2" x2="247.4" y2="150.1"><stop offset="0.000" stop-color="#eb4636"/><stop offset="0.027" stop-color="#eb4b3a"/><stop offset="0.054" stop-color="#ec523f"/><stop offset="0.084" stop-color="#ec5a46"/><stop offset="0.114" stop-color="#ed644f"/><stop offset="0.147" stop-color="#ee6f58"/><stop offset="0.183" stop-color="#ef7e66"/><stop offset="0.226" stop-color="#f0927b"/><stop offset="0.271" stop-color="#f1a48e"/><stop offset="0.317" stop-color="#f2b7a4"/><stop offset="0.360" stop-color="#f2c6b7"/><stop offset="0.400" stop-color="#f3d0c5"/><stop offset="0.440" stop-color="#f3d9d0"/><stop offset="0.476" stop-color="#f3dcd4"/><stop offset="0.520" stop-color="#f3e6e1"/><stop offset="0.565" stop-color="#efe8e6"/><stop offset="0.610" stop-color="#eae8e8"/><stop offset="0.660" stop-color="#e1e7ed"/><stop offset="0.702" stop-color="#dce7ef"/><stop offset="0.748" stop-color="#d0e5f2"/><stop offset="0.798" stop-color="#b0d4ea"/><stop offset="0.821" stop-color="#aed3ea"/><stop offset="0.843" stop-color="#add2e9"/><stop offset="0.866" stop-color="#a9d0e9"/><stop offset="0.906" stop-color="#90c3e3"/><stop offset="0.952" stop-color="#73b0da"/><stop offset="1.000" stop-color="#569bd1"/></linearGradient><linearGradient id="sg49" gradientUnits="userSpaceOnUse" x1="115.5" y1="39.1" x2="245.7" y2="150.9"><stop offset="0.000" stop-color="#eb4837"/><stop offset="0.027" stop-color="#eb4d3c"/><stop offset="0.055" stop-color="#ec5441"/><stop offset="0.084" stop-color="#ed5d48"/><stop offset="0.114" stop-color="#ed6650"/><stop offset="0.147" stop-color="#ee725a"/><stop offset="0.183" stop-color="#ef8068"/><stop offset="0.226" stop-color="#f0937c"/><stop offset="0.270" stop-color="#f1a68f"/><stop offset="0.316" stop-color="#f2b8a5"/><stop offset="0.359" stop-color="#f2c6b8"/><stop offset="0.399" stop-color="#f3d0c5"/><stop offset="0.439" stop-color="#f3d9d0"/><stop offset="0.475" stop-color="#f3dcd4"/><stop offset="0.519" stop-color="#f3e6e1"/><stop offset="0.564" stop-color="#efe8e6"/><stop offset="0.609" stop-color="#eae8e8"/><stop offset="0.659" stop-color="#e2e7ec"/><stop offset="0.701" stop-color="#dce7ef"/><stop offset="0.747" stop-color="#d1e5f2"/><stop offset="0.798" stop-color="#b0d4ea"/><stop offset="0.821" stop-color="#aed3ea"/><stop offset="0.843" stop-color="#acd2e9"/><stop offset="0.866" stop-color="#a9d0e8"/><stop offset="0.906" stop-color="#90c3e2"/><stop offset="0.952" stop-color="#73b0da"/><stop offset="1.000" stop-color="#579bd1"/></linearGradient><linearGradient id="sg50" gradientUnits="userSpaceOnUse" x1="113.5" y1="40.0" x2="243.9" y2="151.5"><stop offset="0.000" stop-color="#eb4a39"/><stop offset="0.027" stop-color="#ec4f3d"/><stop offset="0.055" stop-color="#ec5643"/><stop offset="0.084" stop-color="#ed5f4a"/><stop offset="0.115" stop-color="#ed6952"/><stop offset="0.147" stop-color="#ee745c"/><stop offset="0.183" stop-color="#ef826a"/><stop offset="0.226" stop-color="#f0957e"/><stop offset="0.270" stop-color="#f2a791"/><stop offset="0.316" stop-color="#f2b9a6"/><stop offset="0.359" stop-color="#f2c7b8"/><stop offset="0.398" stop-color="#f3d1c6"/><stop offset="0.438" stop-color="#f3d9d0"/><stop offset="0.475" stop-color="#f3dcd5"/><stop offset="0.519" stop-color="#f3e6e1"/><stop offset="0.564" stop-color="#efe8e6"/><stop offset="0.609" stop-color="#ebe8e8"/><stop offset="0.659" stop-color="#e2e7ec"/><stop offset="0.701" stop-color="#dce7ef"/><stop offset="0.747" stop-color="#d1e6f2"/><stop offset="0.798" stop-color="#b0d4ea"/><stop offset="0.822" stop-color="#aed3ea"/><stop offset="0.844" stop-color="#acd2e9"/><stop offset="0.867" stop-color="#a9d0e8"/><stop offset="0.906" stop-color="#90c3e3"/><stop offset="0.952" stop-color="#74b0da"/><stop offset="1.000" stop-color="#589cd2"/></linearGradient><linearGradient id="sg51" gradientUnits="userSpaceOnUse" x1="111.5" y1="41.0" x2="242.1" y2="152.0"><stop offset="0.000" stop-color="#eb4c3b"/><stop offset="0.027" stop-color="#ec513f"/><stop offset="0.055" stop-color="#ec5844"/><stop offset="0.085" stop-color="#ed614c"/><stop offset="0.115" stop-color="#ee6b54"/><stop offset="0.147" stop-color="#ee765e"/><stop offset="0.183" stop-color="#ef846c"/><stop offset="0.226" stop-color="#f09780"/><stop offset="0.270" stop-color="#f2a892"/><stop offset="0.315" stop-color="#f2baa7"/><stop offset="0.358" stop-color="#f2c7b9"/><stop offset="0.398" stop-color="#f3d1c6"/><stop offset="0.437" stop-color="#f3d9d1"/><stop offset="0.474" stop-color="#f3ddd5"/><stop offset="0.518" stop-color="#f3e6e1"/><stop offset="0.564" stop-color="#efe8e6"/><stop offset="0.608" stop-color="#ebe8e8"/><stop offset="0.658" stop-color="#e2e7ec"/><stop offset="0.701" stop-color="#dde7ef"/><stop offset="0.747" stop-color="#d2e6f2"/><stop offset="0.798" stop-color="#b0d4ea"/><stop offset="0.822" stop-color="#aed3ea"/><stop offset="0.844" stop-color="#acd2e9"/><stop offset="0.867" stop-color="#a8d0e8"/><stop offset="0.907" stop-color="#91c3e3"/><stop offset="0.952" stop-color="#75b0da"/><stop offset="1.000" stop-color="#599dd2"/></linearGradient><linearGradient id="sg52" gradientUnits="userSpaceOnUse" x1="109.5" y1="41.4" x2="240.2" y2="153.9"><stop offset="0.000" stop-color="#eb4c3b"/><stop offset="0.027" stop-color="#ec523f"/><stop offset="0.055" stop-color="#ec5845"/><stop offset="0.084" stop-color="#ed614c"/><stop offset="0.115" stop-color="#ee6b54"/><stop offset="0.147" stop-color="#ee775f"/><stop offset="0.183" stop-color="#ef846d"/><stop offset="0.225" stop-color="#f19780"/><stop offset="0.269" stop-color="#f2a892"/><stop offset="0.313" stop-color="#f2b9a7"/><stop offset="0.356" stop-color="#f2c7b8"/><stop offset="0.395" stop-color="#f3d0c5"/><stop offset="0.435" stop-color="#f3d8d0"/><stop offset="0.472" stop-color="#f3dcd4"/><stop offset="0.516" stop-color="#f3e5e0"/><stop offset="0.561" stop-color="#efe8e6"/><stop offset="0.606" stop-color="#ebe8e8"/><stop offset="0.656" stop-color="#e2e7ec"/><stop offset="0.698" stop-color="#dde7ef"/><stop offset="0.745" stop-color="#d2e6f2"/><stop offset="0.797" stop-color="#afd3ea"/><stop offset="0.821" stop-color="#add2e9"/><stop offset="0.843" stop-color="#aad1e9"/><stop offset="0.867" stop-color="#a5cee8"/><stop offset="0.906" stop-color="#8dc2e2"/><stop offset="0.952" stop-color="#71aed9"/><stop offset="1.000" stop-color="#549ad0"/></linearGradient><linearGradient id="sg53" gradientUnits="userSpaceOnUse" x1="107.5" y1="41.8" x2="238.4" y2="156.0"><stop offset="0.000" stop-color="#eb4c3a"/><stop offset="0.027" stop-color="#ec523f"/><stop offset="0.055" stop-color="#ec5845"/><stop offset="0.084" stop-color="#ed614c"/><stop offset="0.114" stop-color="#ee6b54"/><stop offset="0.146" stop-color="#ee775f"/><stop offset="0.182" stop-color="#ef846d"/><stop offset="0.224" stop-color="#f19780"/><stop offset="0.267" stop-color="#f2a892"/><stop offset="0.311" stop-color="#f2b9a6"/><stop offset="0.354" stop-color="#f2c6b7"/><stop offset="0.393" stop-color="#f3cfc4"/><stop offset="0.432" stop-color="#f3d8cf"/><stop offset="0.469" stop-color="#f3dbd4"/><stop offset="0.513" stop-color="#f3e5e0"/><stop offset="0.558" stop-color="#f0e8e6"/><stop offset="0.603" stop-color="#ebe8e8"/><stop offset="0.653" stop-color="#e3e7ec"/><stop offset="0.695" stop-color="#dde7ef"/><stop offset="0.742" stop-color="#d1e5f2"/><stop offset="0.795" stop-color="#aed3ea"/><stop offset="0.819" stop-color="#aad1e9"/><stop offset="0.842" stop-color="#a7cfe8"/><stop offset="0.866" stop-color="#a1cce7"/><stop offset="0.905" stop-color="#89bfe1"/><stop offset="0.951" stop-color="#6cabd8"/><stop offset="1.000" stop-color="#4f96cf"/></linearGradient><linearGradient id="sg54" gradientUnits="userSpaceOnUse" x1="105.5" y1="42.1" x2="236.5" y2="157.4"><stop offset="0.000" stop-color="#eb4c3a"/><stop offset="0.027" stop-color="#ec513f"/><stop offset="0.055" stop-color="#ec5845"/><stop offset="0.084" stop-color="#ed614c"/><stop offset="0.114" stop-color="#ee6b54"/><stop offset="0.146" stop-color="#ee775f"/><stop offset="0.181" stop-color="#ef846d"/><stop offset="0.223" stop-color="#f09780"/><stop offset="0.266" stop-color="#f2a892"/><stop offset="0.310" stop-color="#f2b8a5"/><stop offset="0.352" stop-color="#f2c5b6"/><stop offset="0.391" stop-color="#f3cec3"/><stop offset="0.431" stop-color="#f3d7ce"/><stop offset="0.468" stop-color="#f3dbd3"/><stop offset="0.512" stop-color="#f3e4df"/><stop offset="0.557" stop-color="#f0e8e6"/><stop offset="0.602" stop-color="#ebe8e8"/><stop offset="0.651" stop-color="#e3e7ec"/><stop offset="0.694" stop-color="#dde7ef"/><stop offset="0.741" stop-color="#d1e5f2"/><stop offset="0.794" stop-color="#add2ea"/><stop offset="0.819" stop-color="#a9d0e9"/><stop offset="0.842" stop-color="#a5cee8"/><stop offset="0.866" stop-color="#9fcbe6"/><stop offset="0.905" stop-color="#88bee0"/><stop offset="0.951" stop-color="#6aa9d7"/><stop offset="1.000" stop-color="#4c94ce"/></linearGradient><linearGradient id="sg55" gradientUnits="userSpaceOnUse" x1="103.5" y1="42.5" x2="234.6" y2="159.0"><stop offset="0.000" stop-color="#eb4b3a"/><stop offset="0.027" stop-color="#ec513f"/><stop offset="0.055" stop-color="#ec5845"/><stop offset="0.084" stop-color="#ed624c"/><stop offset="0.114" stop-color="#ee6b54"/><stop offset="0.146" stop-color="#ee775f"/><stop offset="0.181" stop-color="#ef846d"/><stop offset="0.223" stop-color="#f09780"/><stop offset="0.265" stop-color="#f2a791"/><stop offset="0.309" stop-color="#f2b8a5"/><stop offset="0.351" stop-color="#f2c5b6"/><stop offset="0.389" stop-color="#f3cec1"/><stop offset="0.429" stop-color="#f3d6cd"/><stop offset="0.466" stop-color="#f3dad2"/><stop offset="0.510" stop-color="#f3e4de"/><stop offset="0.555" stop-color="#f0e8e5"/><stop offset="0.600" stop-color="#ebe8e8"/><stop offset="0.649" stop-color="#e3e7ec"/><stop offset="0.692" stop-color="#dde7ef"/><stop offset="0.739" stop-color="#d1e5f2"/><stop offset="0.793" stop-color="#acd2e9"/><stop offset="0.818" stop-color="#a7cfe8"/><stop offset="0.841" stop-color="#a3cde7"/><stop offset="0.865" stop-color="#9ccae6"/><stop offset="0.904" stop-color="#85bcdf"/><stop offset="0.951" stop-color="#67a7d6"/><stop offset="1.000" stop-color="#4a92cc"/></linearGradient><linearGradient id="sg56" gradientUnits="userSpaceOnUse" x1="101.5" y1="42.8" x2="232.7" y2="161.0"><stop offset="0.000" stop-color="#eb4b3a"/><stop offset="0.027" stop-color="#ec513f"/><stop offset="0.055" stop-color="#ec5845"/><stop offset="0.084" stop-color="#ed624c"/><stop offset="0.114" stop-color="#ee6c54"/><stop offset="0.145" stop-color="#ee775f"/><stop offset="0.180" stop-color="#ef856d"/><stop offset="0.222" stop-color="#f09780"/><stop offset="0.264" stop-color="#f2a791"/><stop offset="0.307" stop-color="#f2b7a4"/><stop offset="0.349" stop-color="#f2c4b5"/><stop offset="0.387" stop-color="#f3cdc0"/><stop offset="0.426" stop-color="#f3d6cc"/><stop offset="0.464" stop-color="#f3dad2"/><stop offset="0.507" stop-color="#f3e4de"/><stop offset="0.553" stop-color="#f0e8e5"/><stop offset="0.597" stop-color="#ebe8e8"/><stop offset="0.647" stop-color="#e3e7ec"/><stop offset="0.689" stop-color="#dde7ef"/><stop offset="0.737" stop-color="#d0e5f2"/><stop offset="0.791" stop-color="#aad1e9"/><stop offset="0.816" stop-color="#a5cee8"/><stop offset="0.840" stop-color="#a0cbe6"/><stop offset="0.864" stop-color="#99c8e5"/><stop offset="0.903" stop-color="#81b9de"/><stop offset="0.950" stop-color="#63a4d5"/><stop offset="1.000" stop-color="#488eca"/></linearGradient><linearGradient id="sg57" gradientUnits="userSpaceOnUse" x1="99.4" y1="43.2" x2="230.6" y2="169.5"><stop offset="0.000" stop-color="#eb4b3a"/><stop offset="0.026" stop-color="#ec513f"/><stop offset="0.053" stop-color="#ec5845"/><stop offset="0.081" stop-color="#ed624c"/><stop offset="0.110" stop-color="#ee6c55"/><stop offset="0.140" stop-color="#ee7760"/><stop offset="0.174" stop-color="#ef856d"/><stop offset="0.214" stop-color="#f09680"/><stop offset="0.256" stop-color="#f2a791"/><stop offset="0.298" stop-color="#f2b7a4"/><stop offset="0.338" stop-color="#f2c4b4"/><stop offset="0.376" stop-color="#f3cdc0"/><stop offset="0.414" stop-color="#f3d5cc"/><stop offset="0.451" stop-color="#f3dad2"/><stop offset="0.494" stop-color="#f3e4df"/><stop offset="0.539" stop-color="#efe8e6"/><stop offset="0.583" stop-color="#eae8e8"/><stop offset="0.632" stop-color="#e1e7ec"/><stop offset="0.675" stop-color="#dbe7f0"/><stop offset="0.723" stop-color="#c9e1f0"/><stop offset="0.778" stop-color="#a0cce6"/><stop offset="0.805" stop-color="#98c7e5"/><stop offset="0.829" stop-color="#90c3e2"/><stop offset="0.856" stop-color="#85bcdf"/><stop offset="0.897" stop-color="#6aa9d7"/><stop offset="0.947" stop-color="#4a90cc"/><stop offset="1.000" stop-color="#3776b9"/></linearGradient><linearGradient id="sg58" gradientUnits="userSpaceOnUse" x1="97.3" y1="43.6" x2="228.8" y2="168.6"><stop offset="0.000" stop-color="#eb4a39"/><stop offset="0.027" stop-color="#ec513f"/><stop offset="0.054" stop-color="#ec5845"/><stop offset="0.082" stop-color="#ed624d"/><stop offset="0.111" stop-color="#ee6c55"/><stop offset="0.142" stop-color="#ee7860"/><stop offset="0.176" stop-color="#ef856d"/><stop offset="0.216" stop-color="#f09680"/><stop offset="0.257" stop-color="#f2a791"/><stop offset="0.300" stop-color="#f2b6a3"/><stop offset="0.340" stop-color="#f2c3b3"/><stop offset="0.377" stop-color="#f3ccbf"/><stop offset="0.416" stop-color="#f3d5cb"/><stop offset="0.453" stop-color="#f3dad1"/><stop offset="0.496" stop-color="#f3e4de"/><stop offset="0.542" stop-color="#f0e8e6"/><stop offset="0.586" stop-color="#ebe8e8"/><stop offset="0.634" stop-color="#e2e7ec"/><stop offset="0.677" stop-color="#dce7ef"/><stop offset="0.726" stop-color="#cae2f1"/><stop offset="0.781" stop-color="#a2cde7"/><stop offset="0.808" stop-color="#9bc9e5"/><stop offset="0.833" stop-color="#92c4e3"/><stop offset="0.858" stop-color="#89bee0"/><stop offset="0.899" stop-color="#6facd9"/><stop offset="0.948" stop-color="#4d95ce"/><stop offset="1.000" stop-color="#3b7bbd"/></linearGradient><linearGradient id="sg59" gradientUnits="userSpaceOnUse" x1="95.3" y1="44.1" x2="227.0" y2="167.3"><stop offset="0.000" stop-color="#eb4b3a"/><stop offset="0.027" stop-color="#ec523f"/><stop offset="0.054" stop-color="#ec5945"/><stop offset="0.083" stop-color="#ed634d"/><stop offset="0.113" stop-color="#ee6d55"/><stop offset="0.144" stop-color="#ef7860"/><stop offset="0.178" stop-color="#ef856e"/><stop offset="0.218" stop-color="#f09780"/><stop offset="0.260" stop-color="#f2a791"/><stop offset="0.302" stop-color="#f2b6a3"/><stop offset="0.342" stop-color="#f2c2b3"/><stop offset="0.380" stop-color="#f3cbbe"/><stop offset="0.419" stop-color="#f3d4ca"/><stop offset="0.456" stop-color="#f3d9d1"/><stop offset="0.500" stop-color="#f3e3de"/><stop offset="0.545" stop-color="#f0e8e5"/><stop offset="0.589" stop-color="#ebe8e8"/><stop offset="0.638" stop-color="#e3e7ec"/><stop offset="0.681" stop-color="#dce7ef"/><stop offset="0.729" stop-color="#cce3f1"/><stop offset="0.785" stop-color="#a4cee7"/><stop offset="0.812" stop-color="#9dcae6"/><stop offset="0.836" stop-color="#96c6e4"/><stop offset="0.861" stop-color="#8dc1e2"/><stop offset="0.901" stop-color="#75b1da"/><stop offset="0.949" stop-color="#559ad1"/><stop offset="1.000" stop-color="#3f82c1"/></linearGradient><linearGradient id="sg60" gradientUnits="userSpaceOnUse" x1="93.2" y1="44.7" x2="225.1" y2="167.7"><stop offset="0.000" stop-color="#eb4b3a"/><stop offset="0.027" stop-color="#ec5240"/><stop offset="0.055" stop-color="#ec5a46"/><stop offset="0.084" stop-color="#ed634e"/><stop offset="0.113" stop-color="#ee6d56"/><stop offset="0.144" stop-color="#ef7961"/><stop offset="0.178" stop-color="#ef866f"/><stop offset="0.219" stop-color="#f19781"/><stop offset="0.260" stop-color="#f2a791"/><stop offset="0.302" stop-color="#f2b6a3"/><stop offset="0.342" stop-color="#f2c2b3"/><stop offset="0.379" stop-color="#f2cbbe"/><stop offset="0.419" stop-color="#f3d4ca"/><stop offset="0.456" stop-color="#f3d9d1"/><stop offset="0.500" stop-color="#f3e3de"/><stop offset="0.545" stop-color="#f0e8e5"/><stop offset="0.589" stop-color="#ebe8e8"/><stop offset="0.638" stop-color="#e3e7ec"/><stop offset="0.681" stop-color="#dce7ef"/><stop offset="0.730" stop-color="#cde3f1"/><stop offset="0.786" stop-color="#a4cee7"/><stop offset="0.812" stop-color="#9dcae6"/><stop offset="0.837" stop-color="#96c6e4"/><stop offset="0.862" stop-color="#8dc1e2"/><stop offset="0.901" stop-color="#76b1db"/><stop offset="0.949" stop-color="#569bd1"/><stop offset="1.000" stop-color="#4083c2"/></linearGradient><linearGradient id="sg61" gradientUnits="userSpaceOnUse" x1="91.1" y1="45.3" x2="223.2" y2="168.3"><stop offset="0.000" stop-color="#eb4c3b"/><stop offset="0.027" stop-color="#ec5340"/><stop offset="0.055" stop-color="#ec5b47"/><stop offset="0.084" stop-color="#ed644e"/><stop offset="0.114" stop-color="#ee6e57"/><stop offset="0.145" stop-color="#ef7a62"/><stop offset="0.179" stop-color="#ef8770"/><stop offset="0.219" stop-color="#f19881"/><stop offset="0.260" stop-color="#f2a891"/><stop offset="0.302" stop-color="#f2b6a3"/><stop offset="0.342" stop-color="#f2c2b3"/><stop offset="0.379" stop-color="#f2cabd"/><stop offset="0.418" stop-color="#f3d4c9"/><stop offset="0.456" stop-color="#f3d9d1"/><stop offset="0.500" stop-color="#f3e3de"/><stop offset="0.545" stop-color="#f0e8e6"/><stop offset="0.589" stop-color="#ebe8e8"/><stop offset="0.638" stop-color="#e3e7ec"/><stop offset="0.681" stop-color="#dce7ef"/><stop offset="0.730" stop-color="#cce3f1"/><stop offset="0.787" stop-color="#a3cde7"/><stop offset="0.813" stop-color="#9cc9e5"/><stop offset="0.838" stop-color="#95c6e4"/><stop offset="0.863" stop-color="#8cc1e2"/><stop offset="0.902" stop-color="#76b1db"/><stop offset="0.949" stop-color="#579cd1"/><stop offset="1.000" stop-color="#4184c3"/></linearGradient><linearGradient id="sg62" gradientUnits="userSpaceOnUse" x1="89.0" y1="45.9" x2="221.2" y2="169.7"><stop offset="0.000" stop-color="#eb4d3b"/><stop offset="0.028" stop-color="#ec5441"/><stop offset="0.055" stop-color="#ec5c47"/><stop offset="0.084" stop-color="#ed654f"/><stop offset="0.114" stop-color="#ee6f57"/><stop offset="0.145" stop-color="#ef7b63"/><stop offset="0.179" stop-color="#f08871"/><stop offset="0.219" stop-color="#f19982"/><stop offset="0.259" stop-color="#f2a892"/><stop offset="0.301" stop-color="#f2b7a3"/><stop offset="0.341" stop-color="#f2c2b3"/><stop offset="0.378" stop-color="#f2cabd"/><stop offset="0.417" stop-color="#f3d4c9"/><stop offset="0.455" stop-color="#f3d9d1"/><stop offset="0.498" stop-color="#f3e4de"/><stop offset="0.544" stop-color="#f0e8e6"/><stop offset="0.588" stop-color="#ebe8e8"/><stop offset="0.636" stop-color="#e3e7ec"/><stop offset="0.679" stop-color="#dce7ef"/><stop offset="0.729" stop-color="#cbe2f1"/><stop offset="0.786" stop-color="#a2cce7"/><stop offset="0.813" stop-color="#9ac8e5"/><stop offset="0.838" stop-color="#93c5e3"/><stop offset="0.863" stop-color="#8abfe1"/><stop offset="0.901" stop-color="#74b0da"/><stop offset="0.949" stop-color="#559ad1"/><stop offset="1.000" stop-color="#4083c2"/></linearGradient><linearGradient id="sg63" gradientUnits="userSpaceOnUse" x1="86.9" y1="46.5" x2="219.3" y2="171.0"><stop offset="0.000" stop-color="#eb4d3c"/><stop offset="0.028" stop-color="#ec5442"/><stop offset="0.055" stop-color="#ed5c48"/><stop offset="0.084" stop-color="#ed6650"/><stop offset="0.114" stop-color="#ee7058"/><stop offset="0.145" stop-color="#ef7c64"/><stop offset="0.178" stop-color="#f08971"/><stop offset="0.218" stop-color="#f19982"/><stop offset="0.259" stop-color="#f2a892"/><stop offset="0.300" stop-color="#f2b7a4"/><stop offset="0.340" stop-color="#f2c2b3"/><stop offset="0.376" stop-color="#f2cabd"/><stop offset="0.416" stop-color="#f3d4c9"/><stop offset="0.453" stop-color="#f3dad1"/><stop offset="0.497" stop-color="#f3e4df"/><stop offset="0.543" stop-color="#efe8e6"/><stop offset="0.587" stop-color="#eae8e8"/><stop offset="0.635" stop-color="#e2e7ec"/><stop offset="0.678" stop-color="#dce7ef"/><stop offset="0.728" stop-color="#cae2f1"/><stop offset="0.785" stop-color="#a0cbe6"/><stop offset="0.812" stop-color="#98c7e4"/><stop offset="0.837" stop-color="#91c3e3"/><stop offset="0.863" stop-color="#88bee0"/><stop offset="0.901" stop-color="#72afda"/><stop offset="0.949" stop-color="#5399d0"/><stop offset="1.000" stop-color="#3f81c1"/></linearGradient><linearGradient id="sg64" gradientUnits="userSpaceOnUse" x1="84.7" y1="47.1" x2="217.3" y2="172.3"><stop offset="0.000" stop-color="#eb4e3c"/><stop offset="0.028" stop-color="#ec5542"/><stop offset="0.056" stop-color="#ed5d49"/><stop offset="0.085" stop-color="#ed6751"/><stop offset="0.114" stop-color="#ee7159"/><stop offset="0.145" stop-color="#ef7d65"/><stop offset="0.178" stop-color="#f08972"/><stop offset="0.218" stop-color="#f19a83"/><stop offset="0.258" stop-color="#f2a993"/><stop offset="0.299" stop-color="#f2b7a4"/><stop offset="0.339" stop-color="#f2c2b3"/><stop offset="0.375" stop-color="#f2cabd"/><stop offset="0.414" stop-color="#f3d4ca"/><stop offset="0.452" stop-color="#f3dad2"/><stop offset="0.496" stop-color="#f3e5e0"/><stop offset="0.542" stop-color="#efe8e6"/><stop offset="0.586" stop-color="#eae8e8"/><stop offset="0.633" stop-color="#e2e7ec"/><stop offset="0.676" stop-color="#dbe7ef"/><stop offset="0.726" stop-color="#c8e1f0"/><stop offset="0.785" stop-color="#9ecae6"/><stop offset="0.812" stop-color="#96c6e4"/><stop offset="0.837" stop-color="#8ec2e2"/><stop offset="0.863" stop-color="#86bcdf"/><stop offset="0.901" stop-color="#70add9"/><stop offset="0.949" stop-color="#5197cf"/><stop offset="1.000" stop-color="#3e80c0"/></linearGradient><linearGradient id="sg65" gradientUnits="userSpaceOnUse" x1="82.6" y1="47.6" x2="215.3" y2="173.6"><stop offset="0.000" stop-color="#eb4e3c"/><stop offset="0.028" stop-color="#ec5542"/><stop offset="0.056" stop-color="#ed5d49"/><stop offset="0.085" stop-color="#ed6751"/><stop offset="0.114" stop-color="#ee7159"/><stop offset="0.145" stop-color="#ef7d65"/><stop offset="0.179" stop-color="#f08a73"/><stop offset="0.218" stop-color="#f19a83"/><stop offset="0.258" stop-color="#f2a993"/><stop offset="0.299" stop-color="#f2b7a4"/><stop offset="0.338" stop-color="#f2c2b2"/><stop offset="0.374" stop-color="#f2cabd"/><stop offset="0.413" stop-color="#f3d4c9"/><stop offset="0.451" stop-color="#f3dad2"/><stop offset="0.495" stop-color="#f3e5e0"/><stop offset="0.541" stop-color="#efe8e6"/><stop offset="0.585" stop-color="#e9e8e9"/><stop offset="0.632" stop-color="#e2e7ec"/><stop offset="0.675" stop-color="#dbe7f0"/><stop offset="0.726" stop-color="#c7e0f0"/><stop offset="0.784" stop-color="#9cc9e5"/><stop offset="0.812" stop-color="#94c5e3"/><stop offset="0.837" stop-color="#8cc1e1"/><stop offset="0.863" stop-color="#83bbdf"/><stop offset="0.901" stop-color="#6eacd8"/><stop offset="0.949" stop-color="#4f96cf"/><stop offset="1.000" stop-color="#3d7fbf"/></linearGradient><linearGradient id="sg66" gradientUnits="userSpaceOnUse" x1="80.4" y1="48.0" x2="213.3" y2="174.8"><stop offset="0.000" stop-color="#eb4e3c"/><stop offset="0.028" stop-color="#ec5542"/><stop offset="0.056" stop-color="#ed5e49"/><stop offset="0.085" stop-color="#ed6751"/><stop offset="0.114" stop-color="#ee715a"/><stop offset="0.145" stop-color="#ef7d66"/><stop offset="0.179" stop-color="#f08a73"/><stop offset="0.218" stop-color="#f19a83"/><stop offset="0.258" stop-color="#f2a993"/><stop offset="0.298" stop-color="#f2b7a3"/><stop offset="0.337" stop-color="#f2c2b2"/><stop offset="0.373" stop-color="#f2cabc"/><stop offset="0.412" stop-color="#f3d3c9"/><stop offset="0.451" stop-color="#f3dad2"/><stop offset="0.494" stop-color="#f3e5e0"/><stop offset="0.540" stop-color="#eee8e6"/><stop offset="0.584" stop-color="#e9e8e9"/><stop offset="0.631" stop-color="#e1e7ed"/><stop offset="0.674" stop-color="#dae7f0"/><stop offset="0.725" stop-color="#c6dff0"/><stop offset="0.784" stop-color="#9ac8e5"/><stop offset="0.812" stop-color="#92c4e3"/><stop offset="0.837" stop-color="#8abfe1"/><stop offset="0.864" stop-color="#81b9de"/><stop offset="0.901" stop-color="#6cabd8"/><stop offset="0.949" stop-color="#4e95cf"/><stop offset="1.000" stop-color="#3c7dbe"/></linearGradient><linearGradient id="sg67" gradientUnits="userSpaceOnUse" x1="78.2" y1="48.4" x2="211.3" y2="176.4"><stop offset="0.000" stop-color="#eb4d3c"/><stop offset="0.028" stop-color="#ec5542"/><stop offset="0.056" stop-color="#ed5e49"/><stop offset="0.085" stop-color="#ed6851"/><stop offset="0.115" stop-color="#ee725a"/><stop offset="0.145" stop-color="#ef7d66"/><stop offset="0.179" stop-color="#f08a73"/><stop offset="0.217" stop-color="#f19a83"/><stop offset="0.257" stop-color="#f2a993"/><stop offset="0.297" stop-color="#f2b7a3"/><stop offset="0.336" stop-color="#f2c2b2"/><stop offset="0.371" stop-color="#f2c9bc"/><stop offset="0.411" stop-color="#f3d3c9"/><stop offset="0.449" stop-color="#f3dbd2"/><stop offset="0.493" stop-color="#f3e6e1"/><stop offset="0.538" stop-color="#eee8e6"/><stop offset="0.582" stop-color="#e9e8e9"/><stop offset="0.629" stop-color="#e1e7ed"/><stop offset="0.673" stop-color="#dae7f0"/><stop offset="0.723" stop-color="#c4deef"/><stop offset="0.783" stop-color="#97c7e4"/><stop offset="0.811" stop-color="#8fc2e2"/><stop offset="0.837" stop-color="#87bde0"/><stop offset="0.863" stop-color="#7eb7dd"/><stop offset="0.901" stop-color="#6aa9d7"/><stop offset="0.948" stop-color="#4b93cd"/><stop offset="1.000" stop-color="#3a7bbc"/></linearGradient><linearGradient id="sg68" gradientUnits="userSpaceOnUse" x1="76.1" y1="48.8" x2="209.3" y2="178.2"><stop offset="0.000" stop-color="#eb4d3c"/><stop offset="0.028" stop-color="#ec5542"/><stop offset="0.056" stop-color="#ed5e49"/><stop offset="0.085" stop-color="#ed6851"/><stop offset="0.115" stop-color="#ee725a"/><stop offset="0.145" stop-color="#ef7e66"/><stop offset="0.178" stop-color="#f08a73"/><stop offset="0.217" stop-color="#f19a83"/><stop offset="0.256" stop-color="#f2a993"/><stop offset="0.296" stop-color="#f2b6a3"/><stop offset="0.334" stop-color="#f2c1b1"/><stop offset="0.370" stop-color="#f2c9bb"/><stop offset="0.409" stop-color="#f3d3c9"/><stop offset="0.448" stop-color="#f3dbd3"/><stop offset="0.491" stop-color="#f3e6e2"/><stop offset="0.537" stop-color="#ede8e7"/><stop offset="0.580" stop-color="#e8e8e9"/><stop offset="0.627" stop-color="#e0e7ed"/><stop offset="0.671" stop-color="#d9e7f1"/><stop offset="0.722" stop-color="#c2ddef"/><stop offset="0.782" stop-color="#95c6e4"/><stop offset="0.810" stop-color="#8cc0e1"/><stop offset="0.836" stop-color="#84bbdf"/><stop offset="0.863" stop-color="#7bb5dc"/><stop offset="0.900" stop-color="#66a6d6"/><stop offset="0.948" stop-color="#4a91cc"/><stop offset="1.000" stop-color="#3878ba"/></linearGradient><linearGradient id="sg69" gradientUnits="userSpaceOnUse" x1="73.9" y1="49.2" x2="207.3" y2="179.8"><stop offset="0.000" stop-color="#eb4d3b"/><stop offset="0.028" stop-color="#ec5542"/><stop offset="0.057" stop-color="#ed5e49"/><stop offset="0.086" stop-color="#ed6851"/><stop offset="0.115" stop-color="#ee725a"/><stop offset="0.145" stop-color="#ef7e66"/><stop offset="0.178" stop-color="#f08a73"/><stop offset="0.217" stop-color="#f19a83"/><stop offset="0.256" stop-color="#f2a993"/><stop offset="0.295" stop-color="#f2b6a3"/><stop offset="0.333" stop-color="#f2c1b1"/><stop offset="0.368" stop-color="#f2c9bb"/><stop offset="0.408" stop-color="#f3d3c9"/><stop offset="0.446" stop-color="#f3dbd3"/><stop offset="0.490" stop-color="#f3e7e3"/><stop offset="0.535" stop-color="#ede8e7"/><stop offset="0.579" stop-color="#e7e8ea"/><stop offset="0.626" stop-color="#e0e7ed"/><stop offset="0.669" stop-color="#d8e7f1"/><stop offset="0.720" stop-color="#bfdcee"/><stop offset="0.781" stop-color="#92c4e3"/><stop offset="0.810" stop-color="#89bee0"/><stop offset="0.836" stop-color="#81b9de"/><stop offset="0.863" stop-color="#78b2db"/><stop offset="0.900" stop-color="#63a4d5"/><stop offset="0.948" stop-color="#488eca"/><stop offset="1.000" stop-color="#3776b9"/></linearGradient><linearGradient id="sg70" gradientUnits="userSpaceOnUse" x1="71.6" y1="49.6" x2="205.2" y2="181.4"><stop offset="0.000" stop-color="#eb4d3b"/><stop offset="0.028" stop-color="#ec5542"/><stop offset="0.057" stop-color="#ed5e49"/><stop offset="0.086" stop-color="#ed6852"/><stop offset="0.115" stop-color="#ee725a"/><stop offset="0.145" stop-color="#ef7e66"/><stop offset="0.178" stop-color="#f08b73"/><stop offset="0.216" stop-color="#f19a84"/><stop offset="0.255" stop-color="#f2a993"/><stop offset="0.295" stop-color="#f2b6a3"/><stop offset="0.332" stop-color="#f2c1b1"/><stop offset="0.367" stop-color="#f2c9bb"/><stop offset="0.407" stop-color="#f3d3c9"/><stop offset="0.445" stop-color="#f3dcd4"/><stop offset="0.489" stop-color="#f3e8e4"/><stop offset="0.534" stop-color="#ece8e7"/><stop offset="0.578" stop-color="#e7e8ea"/><stop offset="0.624" stop-color="#dfe7ee"/><stop offset="0.668" stop-color="#d7e7f1"/><stop offset="0.719" stop-color="#bddbed"/><stop offset="0.780" stop-color="#8fc2e2"/><stop offset="0.809" stop-color="#86bce0"/><stop offset="0.836" stop-color="#7eb7dd"/><stop offset="0.863" stop-color="#74b0da"/><stop offset="0.899" stop-color="#61a2d4"/><stop offset="0.948" stop-color="#478cc9"/><stop offset="1.000" stop-color="#3574b7"/></linearGradient><linearGradient id="sg71" gradientUnits="userSpaceOnUse" x1="69.4" y1="49.5" x2="203.1" y2="183.8"><stop offset="0.000" stop-color="#eb4b3a"/><stop offset="0.028" stop-color="#ec5341"/><stop offset="0.057" stop-color="#ed5d48"/><stop offset="0.086" stop-color="#ed6750"/><stop offset="0.115" stop-color="#ee7159"/><stop offset="0.145" stop-color="#ef7d65"/><stop offset="0.178" stop-color="#f08972"/><stop offset="0.216" stop-color="#f19982"/><stop offset="0.254" stop-color="#f2a891"/><stop offset="0.293" stop-color="#f2b5a1"/><stop offset="0.330" stop-color="#f2c0af"/><stop offset="0.365" stop-color="#f2c7b9"/><stop offset="0.404" stop-color="#f3d3c8"/><stop offset="0.443" stop-color="#f3dcd4"/><stop offset="0.486" stop-color="#f3e8e4"/><stop offset="0.531" stop-color="#ece8e7"/><stop offset="0.575" stop-color="#e6e8ea"/><stop offset="0.621" stop-color="#dee7ee"/><stop offset="0.664" stop-color="#d6e7f2"/><stop offset="0.716" stop-color="#bad9ed"/><stop offset="0.778" stop-color="#8bc0e1"/><stop offset="0.807" stop-color="#82bade"/><stop offset="0.834" stop-color="#79b3dc"/><stop offset="0.861" stop-color="#6fadd9"/><stop offset="0.898" stop-color="#5b9fd3"/><stop offset="0.947" stop-color="#4488c6"/><stop offset="1.000" stop-color="#326fb4"/></linearGradient><linearGradient id="sg72" gradientUnits="userSpaceOnUse" x1="67.2" y1="49.5" x2="201.0" y2="186.4"><stop offset="0.000" stop-color="#eb4938"/><stop offset="0.028" stop-color="#ec523f"/><stop offset="0.057" stop-color="#ec5b47"/><stop offset="0.086" stop-color="#ed654f"/><stop offset="0.115" stop-color="#ee6f58"/><stop offset="0.144" stop-color="#ef7b63"/><stop offset="0.177" stop-color="#f08871"/><stop offset="0.214" stop-color="#f19781"/><stop offset="0.253" stop-color="#f1a690"/><stop offset="0.291" stop-color="#f2b49f"/><stop offset="0.328" stop-color="#f2beae"/><stop offset="0.362" stop-color="#f2c6b8"/><stop offset="0.401" stop-color="#f3d2c7"/><stop offset="0.440" stop-color="#f3dbd3"/><stop offset="0.483" stop-color="#f3e8e4"/><stop offset="0.528" stop-color="#ece8e8"/><stop offset="0.572" stop-color="#e6e8eb"/><stop offset="0.617" stop-color="#dde7ee"/><stop offset="0.661" stop-color="#d6e7f2"/><stop offset="0.713" stop-color="#b8d8ec"/><stop offset="0.776" stop-color="#88bee0"/><stop offset="0.805" stop-color="#7eb7dd"/><stop offset="0.832" stop-color="#75b0da"/><stop offset="0.860" stop-color="#6aa9d7"/><stop offset="0.897" stop-color="#569bd1"/><stop offset="0.946" stop-color="#4084c2"/><stop offset="1.000" stop-color="#2e6ab0"/></linearGradient><linearGradient id="sg73" gradientUnits="userSpaceOnUse" x1="64.9" y1="49.2" x2="199.0" y2="187.9"><stop offset="0.000" stop-color="#eb4636"/><stop offset="0.028" stop-color="#ec4f3d"/><stop offset="0.057" stop-color="#ec5945"/><stop offset="0.086" stop-color="#ed634e"/><stop offset="0.115" stop-color="#ee6d56"/><stop offset="0.145" stop-color="#ef7961"/><stop offset="0.177" stop-color="#ef866e"/><stop offset="0.214" stop-color="#f0957e"/><stop offset="0.252" stop-color="#f1a48e"/><stop offset="0.290" stop-color="#f2b29d"/><stop offset="0.327" stop-color="#f2bcab"/><stop offset="0.361" stop-color="#f2c4b5"/><stop offset="0.400" stop-color="#f3d0c5"/><stop offset="0.438" stop-color="#f3dad2"/><stop offset="0.482" stop-color="#f3e7e3"/><stop offset="0.527" stop-color="#ece8e7"/><stop offset="0.570" stop-color="#e5e8eb"/><stop offset="0.616" stop-color="#dde7ee"/><stop offset="0.659" stop-color="#d5e7f2"/><stop offset="0.712" stop-color="#b6d7ec"/><stop offset="0.775" stop-color="#86bce0"/><stop offset="0.804" stop-color="#7cb5dc"/><stop offset="0.832" stop-color="#72afda"/><stop offset="0.860" stop-color="#68a7d6"/><stop offset="0.897" stop-color="#5499d0"/><stop offset="0.946" stop-color="#3f82c1"/><stop offset="1.000" stop-color="#2d68af"/></linearGradient><linearGradient id="sg74" gradientUnits="userSpaceOnUse" x1="62.6" y1="48.7" x2="196.9" y2="189.4"><stop offset="0.000" stop-color="#eb4333"/><stop offset="0.028" stop-color="#eb4c3b"/><stop offset="0.057" stop-color="#ec5643"/><stop offset="0.086" stop-color="#ed604b"/><stop offset="0.115" stop-color="#ee6b54"/><stop offset="0.145" stop-color="#ee765e"/><stop offset="0.177" stop-color="#ef836b"/><stop offset="0.214" stop-color="#f0927b"/><stop offset="0.252" stop-color="#f1a18b"/><stop offset="0.290" stop-color="#f2af99"/><stop offset="0.326" stop-color="#f2baa8"/><stop offset="0.360" stop-color="#f2c2b2"/><stop offset="0.399" stop-color="#f3cec2"/><stop offset="0.437" stop-color="#f3d9d0"/><stop offset="0.480" stop-color="#f3e6e2"/><stop offset="0.526" stop-color="#ece8e7"/><stop offset="0.569" stop-color="#e5e8eb"/><stop offset="0.614" stop-color="#dde7ef"/><stop offset="0.658" stop-color="#d5e7f3"/><stop offset="0.711" stop-color="#b5d7eb"/><stop offset="0.774" stop-color="#84bbdf"/><stop offset="0.804" stop-color="#7ab4dc"/><stop offset="0.831" stop-color="#70add9"/><stop offset="0.860" stop-color="#65a6d6"/><stop offset="0.896" stop-color="#5298d0"/><stop offset="0.946" stop-color="#3e80c0"/><stop offset="1.000" stop-color="#2c66ae"/></linearGradient><linearGradient id="sg75" gradientUnits="userSpaceOnUse" x1="60.3" y1="48.5" x2="194.8" y2="191.8"><stop offset="0.000" stop-color="#ea4031"/><stop offset="0.028" stop-color="#eb4a39"/><stop offset="0.057" stop-color="#ec5441"/><stop offset="0.086" stop-color="#ed5f4a"/><stop offset="0.115" stop-color="#ed6952"/><stop offset="0.144" stop-color="#ee745c"/><stop offset="0.177" stop-color="#ef8169"/><stop offset="0.213" stop-color="#f09079"/><stop offset="0.250" stop-color="#f19f89"/><stop offset="0.288" stop-color="#f2ad97"/><stop offset="0.324" stop-color="#f2b8a6"/><stop offset="0.357" stop-color="#f2c0b0"/><stop offset="0.396" stop-color="#f3cdc1"/><stop offset="0.435" stop-color="#f3d8cf"/><stop offset="0.478" stop-color="#f3e6e1"/><stop offset="0.523" stop-color="#ece8e7"/><stop offset="0.566" stop-color="#e5e8eb"/><stop offset="0.611" stop-color="#dde7ef"/><stop offset="0.655" stop-color="#d4e7f3"/><stop offset="0.708" stop-color="#b2d5eb"/><stop offset="0.771" stop-color="#81b9de"/><stop offset="0.802" stop-color="#76b1db"/><stop offset="0.830" stop-color="#6caad8"/><stop offset="0.858" stop-color="#61a2d4"/><stop offset="0.895" stop-color="#4d95ce"/><stop offset="0.945" stop-color="#3b7cbd"/><stop offset="1.000" stop-color="#2962aa"/></linearGradient><linearGradient id="sg76" gradientUnits="userSpaceOnUse" x1="58.0" y1="49.4" x2="192.6" y2="194.8"><stop offset="0.000" stop-color="#eb4232"/><stop offset="0.028" stop-color="#eb4b3a"/><stop offset="0.057" stop-color="#ec5542"/><stop offset="0.086" stop-color="#ed604b"/><stop offset="0.114" stop-color="#ee6a53"/><stop offset="0.144" stop-color="#ee755e"/><stop offset="0.175" stop-color="#ef826b"/><stop offset="0.212" stop-color="#f0927b"/><stop offset="0.249" stop-color="#f1a08a"/><stop offset="0.285" stop-color="#f2ae98"/><stop offset="0.321" stop-color="#f2b9a7"/><stop offset="0.354" stop-color="#f2c1b1"/><stop offset="0.393" stop-color="#f3cec2"/><stop offset="0.431" stop-color="#f3dad1"/><stop offset="0.474" stop-color="#f3e8e4"/><stop offset="0.519" stop-color="#ebe8e8"/><stop offset="0.562" stop-color="#e3e7ec"/><stop offset="0.607" stop-color="#dbe7f0"/><stop offset="0.650" stop-color="#d0e5f2"/><stop offset="0.703" stop-color="#add3ea"/><stop offset="0.768" stop-color="#7cb5dc"/><stop offset="0.799" stop-color="#70add9"/><stop offset="0.827" stop-color="#65a6d6"/><stop offset="0.856" stop-color="#5a9ed2"/><stop offset="0.894" stop-color="#498fcb"/><stop offset="0.944" stop-color="#3777b9"/><stop offset="1.000" stop-color="#265da4"/></linearGradient><linearGradient id="sg77" gradientUnits="userSpaceOnUse" x1="55.7" y1="50.2" x2="190.5" y2="196.4"><stop offset="0.000" stop-color="#eb4333"/><stop offset="0.028" stop-color="#eb4d3b"/><stop offset="0.057" stop-color="#ec5744"/><stop offset="0.086" stop-color="#ed624c"/><stop offset="0.115" stop-color="#ee6c55"/><stop offset="0.144" stop-color="#ee775f"/><stop offset="0.176" stop-color="#ef846c"/><stop offset="0.211" stop-color="#f0937c"/><stop offset="0.248" stop-color="#f1a28b"/><stop offset="0.285" stop-color="#f2af9a"/><stop offset="0.320" stop-color="#f2baa8"/><stop offset="0.352" stop-color="#f2c2b2"/><stop offset="0.391" stop-color="#f3cfc4"/><stop offset="0.430" stop-color="#f3dbd3"/><stop offset="0.473" stop-color="#f2e8e4"/><stop offset="0.518" stop-color="#e9e8e9"/><stop offset="0.560" stop-color="#e2e7ec"/><stop offset="0.605" stop-color="#dae7f0"/><stop offset="0.648" stop-color="#cce3f1"/><stop offset="0.702" stop-color="#aad1e9"/><stop offset="0.767" stop-color="#78b3db"/><stop offset="0.798" stop-color="#6caad8"/><stop offset="0.827" stop-color="#62a3d5"/><stop offset="0.856" stop-color="#569bd1"/><stop offset="0.893" stop-color="#478dc9"/><stop offset="0.944" stop-color="#3675b8"/><stop offset="1.000" stop-color="#265ba2"/></linearGradient><linearGradient id="sg78" gradientUnits="userSpaceOnUse" x1="53.4" y1="51.1" x2="188.3" y2="198.5"><stop offset="0.000" stop-color="#eb4434"/><stop offset="0.029" stop-color="#eb4e3c"/><stop offset="0.057" stop-color="#ec5945"/><stop offset="0.086" stop-color="#ed634e"/><stop offset="0.115" stop-color="#ee6d56"/><stop offset="0.144" stop-color="#ef7861"/><stop offset="0.175" stop-color="#ef856e"/><stop offset="0.211" stop-color="#f0947d"/><stop offset="0.247" stop-color="#f1a38c"/><stop offset="0.283" stop-color="#f2b09b"/><stop offset="0.318" stop-color="#f2bba9"/><stop offset="0.350" stop-color="#f2c3b4"/><stop offset="0.389" stop-color="#f3d1c5"/><stop offset="0.428" stop-color="#f3ddd5"/><stop offset="0.471" stop-color="#f1e8e5"/><stop offset="0.515" stop-color="#e8e8e9"/><stop offset="0.558" stop-color="#e1e7ed"/><stop offset="0.602" stop-color="#d8e7f1"/><stop offset="0.646" stop-color="#c8e1f0"/><stop offset="0.700" stop-color="#a5cee8"/><stop offset="0.765" stop-color="#73afda"/><stop offset="0.796" stop-color="#67a7d6"/><stop offset="0.825" stop-color="#5da0d3"/><stop offset="0.855" stop-color="#5198d0"/><stop offset="0.892" stop-color="#458ac7"/><stop offset="0.944" stop-color="#3471b6"/><stop offset="1.000" stop-color="#24589f"/></linearGradient><linearGradient id="sg79" gradientUnits="userSpaceOnUse" x1="51.1" y1="52.0" x2="186.2" y2="201.3"><stop offset="0.000" stop-color="#eb4636"/><stop offset="0.029" stop-color="#ec503e"/><stop offset="0.057" stop-color="#ec5a46"/><stop offset="0.086" stop-color="#ed654f"/><stop offset="0.114" stop-color="#ee6f57"/><stop offset="0.143" stop-color="#ef7a62"/><stop offset="0.174" stop-color="#ef866f"/><stop offset="0.210" stop-color="#f0967f"/><stop offset="0.246" stop-color="#f1a48e"/><stop offset="0.281" stop-color="#f2b19c"/><stop offset="0.316" stop-color="#f2bcab"/><stop offset="0.348" stop-color="#f2c4b5"/><stop offset="0.386" stop-color="#f3d2c7"/><stop offset="0.425" stop-color="#f3dfd8"/><stop offset="0.467" stop-color="#f0e8e6"/><stop offset="0.512" stop-color="#e7e8ea"/><stop offset="0.555" stop-color="#dfe7ee"/><stop offset="0.598" stop-color="#d6e7f2"/><stop offset="0.642" stop-color="#c4deef"/><stop offset="0.696" stop-color="#a0cce6"/><stop offset="0.762" stop-color="#6eabd8"/><stop offset="0.794" stop-color="#61a3d5"/><stop offset="0.823" stop-color="#579bd1"/><stop offset="0.854" stop-color="#4b93cd"/><stop offset="0.891" stop-color="#4285c4"/><stop offset="0.943" stop-color="#306cb2"/><stop offset="1.000" stop-color="#22539a"/></linearGradient><linearGradient id="sg80" gradientUnits="userSpaceOnUse" x1="48.8" y1="52.9" x2="184.0" y2="203.2"><stop offset="0.000" stop-color="#eb4737"/><stop offset="0.029" stop-color="#ec513f"/><stop offset="0.057" stop-color="#ec5c47"/><stop offset="0.086" stop-color="#ed6650"/><stop offset="0.115" stop-color="#ee7058"/><stop offset="0.143" stop-color="#ef7b64"/><stop offset="0.174" stop-color="#f08870"/><stop offset="0.209" stop-color="#f19780"/><stop offset="0.245" stop-color="#f1a58f"/><stop offset="0.280" stop-color="#f2b29e"/><stop offset="0.314" stop-color="#f2bdac"/><stop offset="0.346" stop-color="#f2c5b6"/><stop offset="0.384" stop-color="#f3d3c9"/><stop offset="0.423" stop-color="#f3e1da"/><stop offset="0.466" stop-color="#eee8e6"/><stop offset="0.510" stop-color="#e5e8eb"/><stop offset="0.553" stop-color="#dde7ef"/><stop offset="0.596" stop-color="#d4e7f3"/><stop offset="0.640" stop-color="#bfdcee"/><stop offset="0.694" stop-color="#9bc9e5"/><stop offset="0.761" stop-color="#69a8d7"/><stop offset="0.793" stop-color="#5da0d3"/><stop offset="0.822" stop-color="#5298d0"/><stop offset="0.853" stop-color="#4990cb"/><stop offset="0.890" stop-color="#3f82c1"/><stop offset="0.942" stop-color="#2e69b0"/><stop offset="1.000" stop-color="#205097"/></linearGradient><linearGradient id="sg81" gradientUnits="userSpaceOnUse" x1="46.4" y1="53.8" x2="181.8" y2="205.0"><stop offset="0.000" stop-color="#eb4938"/><stop offset="0.029" stop-color="#ec5340"/><stop offset="0.058" stop-color="#ed5d49"/><stop offset="0.087" stop-color="#ed6851"/><stop offset="0.115" stop-color="#ee725a"/><stop offset="0.144" stop-color="#ef7d65"/><stop offset="0.175" stop-color="#f08972"/><stop offset="0.209" stop-color="#f19881"/><stop offset="0.245" stop-color="#f2a690"/><stop offset="0.280" stop-color="#f2b49f"/><stop offset="0.313" stop-color="#f2beae"/><stop offset="0.345" stop-color="#f2c6b8"/><stop offset="0.383" stop-color="#f3d5cb"/><stop offset="0.422" stop-color="#f3e3dd"/><stop offset="0.464" stop-color="#ede8e7"/><stop offset="0.509" stop-color="#e4e8eb"/><stop offset="0.551" stop-color="#dbe7ef"/><stop offset="0.594" stop-color="#d0e5f2"/><stop offset="0.638" stop-color="#bbdaed"/><stop offset="0.693" stop-color="#96c6e4"/><stop offset="0.760" stop-color="#63a4d5"/><stop offset="0.792" stop-color="#579cd1"/><stop offset="0.822" stop-color="#4d95ce"/><stop offset="0.853" stop-color="#478cc9"/><stop offset="0.890" stop-color="#3d7fbf"/><stop offset="0.942" stop-color="#2c67ae"/><stop offset="1.000" stop-color="#1f4e95"/></linearGradient><linearGradient id="sg82" gradientUnits="userSpaceOnUse" x1="44.0" y1="54.7" x2="179.6" y2="205.8"><stop offset="0.000" stop-color="#eb4a39"/><stop offset="0.029" stop-color="#ec5441"/><stop offset="0.058" stop-color="#ed5f4a"/><stop offset="0.087" stop-color="#ee6953"/><stop offset="0.116" stop-color="#ee735c"/><stop offset="0.144" stop-color="#ef7e67"/><stop offset="0.175" stop-color="#f08b73"/><stop offset="0.210" stop-color="#f19983"/><stop offset="0.245" stop-color="#f2a892"/><stop offset="0.280" stop-color="#f2b5a1"/><stop offset="0.314" stop-color="#f2c0af"/><stop offset="0.345" stop-color="#f2c8ba"/><stop offset="0.383" stop-color="#f3d7cd"/><stop offset="0.422" stop-color="#f3e5e0"/><stop offset="0.465" stop-color="#ece8e8"/><stop offset="0.509" stop-color="#e2e7ec"/><stop offset="0.552" stop-color="#d9e7f0"/><stop offset="0.594" stop-color="#cce3f1"/><stop offset="0.638" stop-color="#b6d7ec"/><stop offset="0.693" stop-color="#91c4e3"/><stop offset="0.760" stop-color="#5fa1d4"/><stop offset="0.792" stop-color="#5399d0"/><stop offset="0.823" stop-color="#4b92cd"/><stop offset="0.854" stop-color="#458ac7"/><stop offset="0.890" stop-color="#3d7ebf"/><stop offset="0.942" stop-color="#2c66ae"/><stop offset="1.000" stop-color="#1f4e95"/></linearGradient><linearGradient id="sg83" gradientUnits="userSpaceOnUse" x1="41.7" y1="55.6" x2="177.4" y2="205.0"><stop offset="0.000" stop-color="#eb4c3a"/><stop offset="0.029" stop-color="#ec5643"/><stop offset="0.059" stop-color="#ed614b"/><stop offset="0.089" stop-color="#ee6b54"/><stop offset="0.117" stop-color="#ee755d"/><stop offset="0.146" stop-color="#ef8068"/><stop offset="0.177" stop-color="#f08c75"/><stop offset="0.212" stop-color="#f19b84"/><stop offset="0.247" stop-color="#f2a993"/><stop offset="0.282" stop-color="#f2b6a3"/><stop offset="0.316" stop-color="#f2c1b1"/><stop offset="0.347" stop-color="#f2c9bc"/><stop offset="0.386" stop-color="#f3d8cf"/><stop offset="0.425" stop-color="#f3e7e3"/><stop offset="0.467" stop-color="#eae8e8"/><stop offset="0.512" stop-color="#e0e7ed"/><stop offset="0.555" stop-color="#d8e7f1"/><stop offset="0.597" stop-color="#c8e1f0"/><stop offset="0.641" stop-color="#b2d5eb"/><stop offset="0.696" stop-color="#8dc2e2"/><stop offset="0.764" stop-color="#5b9fd3"/><stop offset="0.796" stop-color="#5197cf"/><stop offset="0.826" stop-color="#4a91cc"/><stop offset="0.856" stop-color="#458bc7"/><stop offset="0.892" stop-color="#3e80c0"/><stop offset="0.943" stop-color="#2e6ab0"/><stop offset="1.000" stop-color="#215299"/></linearGradient><linearGradient id="sg84" gradientUnits="userSpaceOnUse" x1="39.3" y1="56.6" x2="175.2" y2="204.7"><stop offset="0.000" stop-color="#eb4d3c"/><stop offset="0.030" stop-color="#ec5844"/><stop offset="0.060" stop-color="#ed624d"/><stop offset="0.090" stop-color="#ee6d55"/><stop offset="0.119" stop-color="#ee775f"/><stop offset="0.148" stop-color="#ef816a"/><stop offset="0.179" stop-color="#f08d76"/><stop offset="0.214" stop-color="#f19c86"/><stop offset="0.249" stop-color="#f2ab94"/><stop offset="0.284" stop-color="#f2b7a4"/><stop offset="0.318" stop-color="#f2c2b3"/><stop offset="0.349" stop-color="#f2cbbe"/><stop offset="0.388" stop-color="#f3dad2"/><stop offset="0.427" stop-color="#f2e8e4"/><stop offset="0.470" stop-color="#e9e8e9"/><stop offset="0.515" stop-color="#dee7ee"/><stop offset="0.557" stop-color="#d5e7f2"/><stop offset="0.600" stop-color="#c3deef"/><stop offset="0.643" stop-color="#acd2e9"/><stop offset="0.699" stop-color="#88bee0"/><stop offset="0.767" stop-color="#579bd1"/><stop offset="0.799" stop-color="#4d95ce"/><stop offset="0.828" stop-color="#4990cb"/><stop offset="0.858" stop-color="#458ac7"/><stop offset="0.893" stop-color="#3f81c1"/><stop offset="0.944" stop-color="#306cb2"/><stop offset="1.000" stop-color="#23559c"/></linearGradient><linearGradient id="sg85" gradientUnits="userSpaceOnUse" x1="36.9" y1="57.5" x2="173.0" y2="204.9"><stop offset="0.000" stop-color="#ec4e3d"/><stop offset="0.030" stop-color="#ec5945"/><stop offset="0.061" stop-color="#ed644e"/><stop offset="0.091" stop-color="#ee6e56"/><stop offset="0.120" stop-color="#ef7860"/><stop offset="0.149" stop-color="#ef826b"/><stop offset="0.181" stop-color="#f08e77"/><stop offset="0.216" stop-color="#f19d87"/><stop offset="0.251" stop-color="#f2ac96"/><stop offset="0.286" stop-color="#f2b9a6"/><stop offset="0.319" stop-color="#f2c4b5"/><stop offset="0.350" stop-color="#f3cdc0"/><stop offset="0.389" stop-color="#f3ddd6"/><stop offset="0.429" stop-color="#f0e8e5"/><stop offset="0.472" stop-color="#e6e8ea"/><stop offset="0.517" stop-color="#dbe7ef"/><stop offset="0.559" stop-color="#cfe5f2"/><stop offset="0.601" stop-color="#bbdaed"/><stop offset="0.645" stop-color="#a4cee7"/><stop offset="0.700" stop-color="#80b9de"/><stop offset="0.768" stop-color="#4f96cf"/><stop offset="0.801" stop-color="#4990cb"/><stop offset="0.830" stop-color="#468cc8"/><stop offset="0.860" stop-color="#4387c5"/><stop offset="0.894" stop-color="#3e80c0"/><stop offset="0.945" stop-color="#306cb2"/><stop offset="1.000" stop-color="#24569e"/></linearGradient><linearGradient id="cbg" x1="0" y1="0" x2="0" y2="1"><stop offset="0" stop-color="#6a0a16"/><stop offset="0.1" stop-color="#b01c1e"/><stop offset="0.2" stop-color="#ea3a2c"/><stop offset="0.3" stop-color="#ee7058"/><stop offset="0.4" stop-color="#f2ae98"/><stop offset="0.5" stop-color="#f3e8e4"/><stop offset="0.6" stop-color="#d4e7f3"/><stop offset="0.7" stop-color="#8ec2e2"/><stop offset="0.8" stop-color="#4c94ce"/><stop offset="0.9" stop-color="#2a64ac"/><stop offset="1" stop-color="#163a80"/></linearGradient></defs><rect width="685" height="554" fill="#fff"/><rect x="37" y="291.2" width="80.64" height="227.40000000000003" fill="#dff0fb"/><rect x="117.64" y="291.2" width="120.96" height="227.40000000000003" fill="#f7d9e3"/><rect x="238.60" y="291.2" width="79.90" height="227.40000000000003" fill="#fbfbee"/><g fill="url(#dg0)"><circle cx="39.0" cy="343.1" r="2.6"/><circle cx="42.4" cy="343.3" r="2.6"/><circle cx="45.7" cy="343.1" r="2.6"/><circle cx="49.1" cy="342.2" r="2.6"/><circle cx="52.4" cy="340.6" r="2.6"/><circle cx="55.8" cy="337.7" r="2.6"/><circle cx="59.2" cy="334.1" r="2.6"/><circle cx="62.5" cy="332.0" r="2.6"/><circle cx="65.9" cy="330.5" r="2.6"/><circle cx="69.2" cy="329.1" r="2.6"/><circle cx="72.6" cy="327.7" r="2.6"/><circle cx="76.0" cy="326.2" r="2.6"/><circle cx="79.3" cy="324.7" r="2.6"/><circle cx="82.7" cy="323.5" r="2.6"/><circle cx="86.0" cy="322.5" r="2.6"/><circle cx="89.4" cy="321.8" r="2.6"/><circle cx="92.8" cy="321.3" r="2.6"/><circle cx="96.1" cy="321.0" r="2.6"/><circle cx="99.5" cy="320.8" r="2.6"/><circle cx="102.8" cy="320.8" r="2.6"/><circle cx="106.2" cy="320.9" r="2.6"/><circle cx="109.6" cy="321.0" r="2.6"/><circle cx="112.9" cy="321.3" r="2.6"/><circle cx="116.3" cy="321.9" r="2.6"/><circle cx="119.6" cy="322.7" r="2.6"/><circle cx="123.0" cy="323.8" r="2.6"/><circle cx="126.4" cy="325.5" r="2.6"/><circle cx="129.7" cy="327.5" r="2.6"/><circle cx="133.1" cy="330.4" r="2.6"/><circle cx="136.4" cy="333.7" r="2.6"/><circle cx="139.8" cy="336.8" r="2.6"/><circle cx="143.2" cy="339.8" r="2.6"/><circle cx="146.5" cy="342.8" r="2.6"/><circle cx="149.9" cy="346.1" r="2.6"/><circle cx="153.2" cy="349.4" r="2.6"/><circle cx="156.6" cy="353.0" r="2.6"/><circle cx="160.0" cy="357.0" r="2.6"/><circle cx="163.3" cy="361.1" r="2.6"/><circle cx="166.7" cy="365.2" r="2.6"/><circle cx="170.0" cy="369.3" r="2.6"/><circle cx="173.4" cy="373.3" r="2.6"/><circle cx="176.8" cy="377.3" r="2.6"/><circle cx="180.1" cy="381.3" r="2.6"/><circle cx="183.5" cy="385.4" r="2.6"/><circle cx="186.8" cy="389.6" r="2.6"/><circle cx="190.2" cy="393.7" r="2.6"/><circle cx="193.6" cy="397.3" r="2.6"/><circle cx="196.9" cy="400.3" r="2.6"/><circle cx="200.3" cy="403.2" r="2.6"/><circle cx="203.6" cy="406.1" r="2.6"/><circle cx="207.0" cy="409.0" r="2.6"/><circle cx="210.4" cy="411.9" r="2.6"/><circle cx="213.7" cy="414.8" r="2.6"/><circle cx="217.1" cy="418.1" r="2.6"/><circle cx="220.4" cy="421.8" r="2.6"/><circle cx="223.8" cy="426.1" r="2.6"/><circle cx="227.2" cy="430.6" r="2.6"/><circle cx="230.5" cy="435.2" r="2.6"/><circle cx="233.9" cy="439.9" r="2.6"/><circle cx="237.2" cy="444.8" r="2.6"/><circle cx="240.6" cy="449.6" r="2.6"/><circle cx="244.0" cy="453.7" r="2.6"/><circle cx="247.3" cy="457.2" r="2.6"/><circle cx="250.7" cy="460.4" r="2.6"/><circle cx="254.0" cy="463.5" r="2.6"/><circle cx="257.4" cy="466.4" r="2.6"/><circle cx="260.8" cy="469.2" r="2.6"/><circle cx="264.1" cy="471.5" r="2.6"/><circle cx="267.5" cy="473.4" r="2.6"/><circle cx="270.8" cy="475.0" r="2.6"/><circle cx="274.2" cy="476.5" r="2.6"/><circle cx="277.6" cy="478.2" r="2.6"/><circle cx="280.9" cy="479.9" r="2.6"/><circle cx="284.3" cy="481.6" r="2.6"/><circle cx="287.6" cy="483.1" r="2.6"/><circle cx="291.0" cy="484.3" r="2.6"/><circle cx="294.4" cy="485.6" r="2.6"/><circle cx="297.7" cy="487.1" r="2.6"/><circle cx="301.1" cy="488.9" r="2.6"/><circle cx="304.4" cy="491.0" r="2.6"/><circle cx="307.8" cy="493.4" r="2.6"/><circle cx="311.2" cy="496.3" r="2.6"/><circle cx="314.5" cy="499.7" r="2.6"/><circle cx="317.9" cy="503.5" r="2.6"/></g><g fill="url(#dg1)"><circle cx="39.0" cy="354.7" r="2.6"/><circle cx="42.4" cy="352.7" r="2.6"/><circle cx="45.7" cy="350.0" r="2.6"/><circle cx="49.1" cy="347.0" r="2.6"/><circle cx="52.4" cy="344.3" r="2.6"/><circle cx="55.8" cy="341.7" r="2.6"/><circle cx="59.2" cy="339.6" r="2.6"/><circle cx="62.5" cy="337.7" r="2.6"/><circle cx="65.9" cy="335.9" r="2.6"/><circle cx="69.2" cy="333.9" r="2.6"/><circle cx="72.6" cy="332.0" r="2.6"/><circle cx="76.0" cy="330.4" r="2.6"/><circle cx="79.3" cy="329.0" r="2.6"/><circle cx="82.7" cy="327.8" r="2.6"/><circle cx="86.0" cy="326.9" r="2.6"/><circle cx="89.4" cy="326.2" r="2.6"/><circle cx="92.8" cy="325.7" r="2.6"/><circle cx="96.1" cy="325.4" r="2.6"/><circle cx="99.5" cy="325.3" r="2.6"/><circle cx="102.8" cy="325.3" r="2.6"/><circle cx="106.2" cy="325.4" r="2.6"/><circle cx="109.6" cy="325.5" r="2.6"/><circle cx="112.9" cy="325.9" r="2.6"/><circle cx="116.3" cy="326.7" r="2.6"/><circle cx="119.6" cy="327.3" r="2.6"/><circle cx="123.0" cy="327.4" r="2.6"/><circle cx="126.4" cy="327.4" r="2.6"/><circle cx="129.7" cy="327.6" r="2.6"/><circle cx="133.1" cy="330.2" r="2.6"/><circle cx="136.4" cy="334.1" r="2.6"/><circle cx="139.8" cy="337.3" r="2.6"/><circle cx="143.2" cy="340.3" r="2.6"/><circle cx="146.5" cy="343.3" r="2.6"/><circle cx="149.9" cy="346.6" r="2.6"/><circle cx="153.2" cy="349.9" r="2.6"/><circle cx="156.6" cy="353.5" r="2.6"/><circle cx="160.0" cy="357.5" r="2.6"/><circle cx="163.3" cy="361.6" r="2.6"/><circle cx="166.7" cy="365.7" r="2.6"/><circle cx="170.0" cy="369.8" r="2.6"/><circle cx="173.4" cy="373.8" r="2.6"/><circle cx="176.8" cy="377.8" r="2.6"/><circle cx="180.1" cy="381.8" r="2.6"/><circle cx="183.5" cy="385.9" r="2.6"/><circle cx="186.8" cy="390.1" r="2.6"/><circle cx="190.2" cy="394.2" r="2.6"/><circle cx="193.6" cy="397.8" r="2.6"/><circle cx="196.9" cy="400.8" r="2.6"/><circle cx="200.3" cy="403.7" r="2.6"/><circle cx="203.6" cy="406.6" r="2.6"/><circle cx="207.0" cy="409.5" r="2.6"/><circle cx="210.4" cy="412.4" r="2.6"/><circle cx="213.7" cy="415.3" r="2.6"/><circle cx="217.1" cy="418.6" r="2.6"/><circle cx="220.4" cy="422.3" r="2.6"/><circle cx="223.8" cy="426.6" r="2.6"/><circle cx="227.2" cy="431.1" r="2.6"/><circle cx="230.5" cy="435.7" r="2.6"/><circle cx="233.9" cy="440.4" r="2.6"/><circle cx="237.2" cy="445.3" r="2.6"/><circle cx="240.6" cy="450.1" r="2.6"/><circle cx="244.0" cy="454.2" r="2.6"/><circle cx="247.3" cy="457.7" r="2.6"/><circle cx="250.7" cy="460.9" r="2.6"/><circle cx="254.0" cy="464.0" r="2.6"/><circle cx="257.4" cy="466.9" r="2.6"/><circle cx="260.8" cy="469.7" r="2.6"/><circle cx="264.1" cy="472.0" r="2.6"/><circle cx="267.5" cy="473.9" r="2.6"/><circle cx="270.8" cy="475.5" r="2.6"/><circle cx="274.2" cy="477.0" r="2.6"/><circle cx="277.6" cy="478.7" r="2.6"/><circle cx="280.9" cy="480.4" r="2.6"/><circle cx="284.3" cy="482.1" r="2.6"/><circle cx="287.6" cy="483.6" r="2.6"/><circle cx="291.0" cy="484.8" r="2.6"/><circle cx="294.4" cy="486.1" r="2.6"/><circle cx="297.7" cy="487.6" r="2.6"/><circle cx="301.1" cy="489.4" r="2.6"/><circle cx="304.4" cy="491.5" r="2.6"/><circle cx="307.8" cy="493.9" r="2.6"/><circle cx="311.2" cy="496.8" r="2.6"/><circle cx="314.5" cy="500.2" r="2.6"/><circle cx="317.9" cy="504.0" r="2.6"/></g><g fill="url(#dg2)"><circle cx="39.0" cy="360.4" r="2.6"/><circle cx="42.4" cy="357.4" r="2.6"/><circle cx="45.7" cy="354.5" r="2.6"/><circle cx="49.1" cy="351.5" r="2.6"/><circle cx="52.4" cy="348.6" r="2.6"/><circle cx="55.8" cy="345.8" r="2.6"/><circle cx="59.2" cy="343.1" r="2.6"/><circle cx="62.5" cy="340.7" r="2.6"/><circle cx="65.9" cy="338.5" r="2.6"/><circle cx="69.2" cy="336.5" r="2.6"/><circle cx="72.6" cy="334.5" r="2.6"/><circle cx="76.0" cy="332.6" r="2.6"/><circle cx="79.3" cy="330.8" r="2.6"/><circle cx="82.7" cy="329.3" r="2.6"/><circle cx="86.0" cy="328.0" r="2.6"/><circle cx="89.4" cy="326.7" r="2.6"/><circle cx="92.8" cy="325.1" r="2.6"/><circle cx="96.1" cy="323.4" r="2.6"/><circle cx="99.5" cy="322.4" r="2.6"/><circle cx="102.8" cy="322.4" r="2.6"/><circle cx="106.2" cy="322.5" r="2.6"/><circle cx="109.6" cy="322.6" r="2.6"/><circle cx="112.9" cy="322.9" r="2.6"/><circle cx="116.3" cy="323.5" r="2.6"/><circle cx="119.6" cy="324.3" r="2.6"/><circle cx="123.0" cy="325.3" r="2.6"/><circle cx="126.4" cy="326.5" r="2.6"/><circle cx="129.7" cy="328.2" r="2.6"/><circle cx="133.1" cy="331.1" r="2.6"/><circle cx="136.4" cy="334.5" r="2.6"/><circle cx="139.8" cy="337.6" r="2.6"/><circle cx="143.2" cy="340.6" r="2.6"/><circle cx="146.5" cy="343.6" r="2.6"/><circle cx="149.9" cy="346.9" r="2.6"/><circle cx="153.2" cy="350.2" r="2.6"/><circle cx="156.6" cy="353.8" r="2.6"/><circle cx="160.0" cy="357.8" r="2.6"/><circle cx="163.3" cy="361.9" r="2.6"/><circle cx="166.7" cy="366.0" r="2.6"/><circle cx="170.0" cy="370.1" r="2.6"/><circle cx="173.4" cy="374.1" r="2.6"/><circle cx="176.8" cy="378.1" r="2.6"/><circle cx="180.1" cy="382.1" r="2.6"/><circle cx="183.5" cy="386.2" r="2.6"/><circle cx="186.8" cy="390.4" r="2.6"/><circle cx="190.2" cy="394.5" r="2.6"/><circle cx="193.6" cy="398.1" r="2.6"/><circle cx="196.9" cy="401.1" r="2.6"/><circle cx="200.3" cy="404.0" r="2.6"/><circle cx="203.6" cy="406.9" r="2.6"/><circle cx="207.0" cy="409.8" r="2.6"/><circle cx="210.4" cy="412.7" r="2.6"/><circle cx="213.7" cy="415.6" r="2.6"/><circle cx="217.1" cy="418.9" r="2.6"/><circle cx="220.4" cy="422.6" r="2.6"/><circle cx="223.8" cy="426.9" r="2.6"/><circle cx="227.2" cy="431.4" r="2.6"/><circle cx="230.5" cy="436.0" r="2.6"/><circle cx="233.9" cy="440.7" r="2.6"/><circle cx="237.2" cy="445.6" r="2.6"/><circle cx="240.6" cy="450.4" r="2.6"/><circle cx="244.0" cy="454.5" r="2.6"/><circle cx="247.3" cy="458.0" r="2.6"/><circle cx="250.7" cy="461.2" r="2.6"/><circle cx="254.0" cy="464.3" r="2.6"/><circle cx="257.4" cy="467.2" r="2.6"/><circle cx="260.8" cy="470.0" r="2.6"/><circle cx="264.1" cy="472.3" r="2.6"/><circle cx="267.5" cy="474.2" r="2.6"/><circle cx="270.8" cy="475.8" r="2.6"/><circle cx="274.2" cy="477.3" r="2.6"/><circle cx="277.6" cy="479.0" r="2.6"/><circle cx="280.9" cy="480.7" r="2.6"/><circle cx="284.3" cy="482.4" r="2.6"/><circle cx="287.6" cy="483.9" r="2.6"/><circle cx="291.0" cy="485.1" r="2.6"/><circle cx="294.4" cy="486.4" r="2.6"/><circle cx="297.7" cy="487.9" r="2.6"/><circle cx="301.1" cy="489.7" r="2.6"/><circle cx="304.4" cy="491.8" r="2.6"/><circle cx="307.8" cy="494.2" r="2.6"/><circle cx="311.2" cy="497.1" r="2.6"/><circle cx="314.5" cy="500.5" r="2.6"/><circle cx="317.9" cy="504.3" r="2.6"/></g><g fill="url(#dg3)"><circle cx="39.0" cy="367.0" r="2.6"/><circle cx="42.4" cy="363.6" r="2.6"/><circle cx="45.7" cy="360.3" r="2.6"/><circle cx="49.1" cy="356.9" r="2.6"/><circle cx="52.4" cy="353.6" r="2.6"/><circle cx="55.8" cy="350.3" r="2.6"/><circle cx="59.2" cy="347.2" r="2.6"/><circle cx="62.5" cy="344.4" r="2.6"/><circle cx="65.9" cy="341.9" r="2.6"/><circle cx="69.2" cy="339.5" r="2.6"/><circle cx="72.6" cy="337.3" r="2.6"/><circle cx="76.0" cy="335.2" r="2.6"/><circle cx="79.3" cy="333.3" r="2.6"/><circle cx="82.7" cy="331.8" r="2.6"/><circle cx="86.0" cy="330.5" r="2.6"/><circle cx="89.4" cy="329.2" r="2.6"/><circle cx="92.8" cy="327.6" r="2.6"/><circle cx="96.1" cy="325.1" r="2.6"/><circle cx="99.5" cy="323.4" r="2.6"/><circle cx="102.8" cy="323.4" r="2.6"/><circle cx="106.2" cy="323.5" r="2.6"/><circle cx="109.6" cy="323.6" r="2.6"/><circle cx="112.9" cy="323.9" r="2.6"/><circle cx="116.3" cy="324.5" r="2.6"/><circle cx="119.6" cy="325.3" r="2.6"/><circle cx="123.0" cy="326.1" r="2.6"/><circle cx="126.4" cy="327.1" r="2.6"/><circle cx="129.7" cy="328.5" r="2.6"/><circle cx="133.1" cy="331.3" r="2.6"/><circle cx="136.4" cy="334.8" r="2.6"/><circle cx="139.8" cy="337.9" r="2.6"/><circle cx="143.2" cy="340.9" r="2.6"/><circle cx="146.5" cy="343.9" r="2.6"/><circle cx="149.9" cy="347.2" r="2.6"/><circle cx="153.2" cy="350.5" r="2.6"/><circle cx="156.6" cy="354.1" r="2.6"/><circle cx="160.0" cy="358.1" r="2.6"/><circle cx="163.3" cy="362.2" r="2.6"/><circle cx="166.7" cy="366.3" r="2.6"/><circle cx="170.0" cy="370.4" r="2.6"/><circle cx="173.4" cy="374.4" r="2.6"/><circle cx="176.8" cy="378.4" r="2.6"/><circle cx="180.1" cy="382.4" r="2.6"/><circle cx="183.5" cy="386.5" r="2.6"/><circle cx="186.8" cy="390.7" r="2.6"/><circle cx="190.2" cy="394.8" r="2.6"/><circle cx="193.6" cy="398.4" r="2.6"/><circle cx="196.9" cy="401.4" r="2.6"/><circle cx="200.3" cy="404.3" r="2.6"/><circle cx="203.6" cy="407.2" r="2.6"/><circle cx="207.0" cy="410.1" r="2.6"/><circle cx="210.4" cy="413.0" r="2.6"/><circle cx="213.7" cy="415.9" r="2.6"/><circle cx="217.1" cy="419.2" r="2.6"/><circle cx="220.4" cy="422.9" r="2.6"/><circle cx="223.8" cy="427.2" r="2.6"/><circle cx="227.2" cy="431.7" r="2.6"/><circle cx="230.5" cy="436.3" r="2.6"/><circle cx="233.9" cy="441.0" r="2.6"/><circle cx="237.2" cy="445.9" r="2.6"/><circle cx="240.6" cy="450.7" r="2.6"/><circle cx="244.0" cy="454.8" r="2.6"/><circle cx="247.3" cy="458.3" r="2.6"/><circle cx="250.7" cy="461.5" r="2.6"/><circle cx="254.0" cy="464.6" r="2.6"/><circle cx="257.4" cy="467.5" r="2.6"/><circle cx="260.8" cy="470.3" r="2.6"/><circle cx="264.1" cy="472.6" r="2.6"/><circle cx="267.5" cy="474.5" r="2.6"/><circle cx="270.8" cy="476.1" r="2.6"/><circle cx="274.2" cy="477.6" r="2.6"/><circle cx="277.6" cy="479.3" r="2.6"/><circle cx="280.9" cy="481.0" r="2.6"/><circle cx="284.3" cy="482.7" r="2.6"/><circle cx="287.6" cy="484.2" r="2.6"/><circle cx="291.0" cy="485.4" r="2.6"/><circle cx="294.4" cy="486.7" r="2.6"/><circle cx="297.7" cy="488.2" r="2.6"/><circle cx="301.1" cy="490.0" r="2.6"/><circle cx="304.4" cy="492.1" r="2.6"/><circle cx="307.8" cy="494.5" r="2.6"/><circle cx="311.2" cy="497.4" r="2.6"/><circle cx="314.5" cy="500.8" r="2.6"/><circle cx="317.9" cy="504.6" r="2.6"/></g><g fill="url(#dg4)"><circle cx="39.0" cy="373.4" r="2.6"/><circle cx="42.4" cy="369.8" r="2.6"/><circle cx="45.7" cy="366.2" r="2.6"/><circle cx="49.1" cy="362.6" r="2.6"/><circle cx="52.4" cy="359.0" r="2.6"/><circle cx="55.8" cy="355.3" r="2.6"/><circle cx="59.2" cy="351.8" r="2.6"/><circle cx="62.5" cy="348.8" r="2.6"/><circle cx="65.9" cy="346.1" r="2.6"/><circle cx="69.2" cy="343.6" r="2.6"/><circle cx="72.6" cy="341.1" r="2.6"/><circle cx="76.0" cy="338.6" r="2.6"/><circle cx="79.3" cy="336.4" r="2.6"/><circle cx="82.7" cy="334.6" r="2.6"/><circle cx="86.0" cy="333.0" r="2.6"/><circle cx="89.4" cy="331.4" r="2.6"/><circle cx="92.8" cy="329.5" r="2.6"/><circle cx="96.1" cy="326.4" r="2.6"/><circle cx="99.5" cy="324.3" r="2.6"/><circle cx="102.8" cy="324.2" r="2.6"/><circle cx="106.2" cy="324.3" r="2.6"/><circle cx="109.6" cy="324.4" r="2.6"/><circle cx="112.9" cy="324.7" r="2.6"/><circle cx="116.3" cy="325.4" r="2.6"/><circle cx="119.6" cy="326.1" r="2.6"/><circle cx="123.0" cy="326.8" r="2.6"/><circle cx="126.4" cy="327.5" r="2.6"/><circle cx="129.7" cy="328.7" r="2.6"/><circle cx="133.1" cy="331.5" r="2.6"/><circle cx="136.4" cy="335.1" r="2.6"/><circle cx="139.8" cy="338.2" r="2.6"/><circle cx="143.2" cy="341.2" r="2.6"/><circle cx="146.5" cy="344.2" r="2.6"/><circle cx="149.9" cy="347.5" r="2.6"/><circle cx="153.2" cy="350.8" r="2.6"/><circle cx="156.6" cy="354.4" r="2.6"/><circle cx="160.0" cy="358.4" r="2.6"/><circle cx="163.3" cy="362.5" r="2.6"/><circle cx="166.7" cy="366.6" r="2.6"/><circle cx="170.0" cy="370.7" r="2.6"/><circle cx="173.4" cy="374.7" r="2.6"/><circle cx="176.8" cy="378.7" r="2.6"/><circle cx="180.1" cy="382.7" r="2.6"/><circle cx="183.5" cy="386.8" r="2.6"/><circle cx="186.8" cy="391.0" r="2.6"/><circle cx="190.2" cy="395.1" r="2.6"/><circle cx="193.6" cy="398.7" r="2.6"/><circle cx="196.9" cy="401.7" r="2.6"/><circle cx="200.3" cy="404.6" r="2.6"/><circle cx="203.6" cy="407.5" r="2.6"/><circle cx="207.0" cy="410.4" r="2.6"/><circle cx="210.4" cy="413.3" r="2.6"/><circle cx="213.7" cy="416.2" r="2.6"/><circle cx="217.1" cy="419.5" r="2.6"/><circle cx="220.4" cy="423.2" r="2.6"/><circle cx="223.8" cy="427.5" r="2.6"/><circle cx="227.2" cy="432.0" r="2.6"/><circle cx="230.5" cy="436.6" r="2.6"/><circle cx="233.9" cy="441.3" r="2.6"/><circle cx="237.2" cy="446.2" r="2.6"/><circle cx="240.6" cy="451.0" r="2.6"/><circle cx="244.0" cy="455.1" r="2.6"/><circle cx="247.3" cy="458.6" r="2.6"/><circle cx="250.7" cy="461.8" r="2.6"/><circle cx="254.0" cy="464.9" r="2.6"/><circle cx="257.4" cy="467.8" r="2.6"/><circle cx="260.8" cy="470.6" r="2.6"/><circle cx="264.1" cy="472.9" r="2.6"/><circle cx="267.5" cy="474.8" r="2.6"/><circle cx="270.8" cy="476.4" r="2.6"/><circle cx="274.2" cy="477.9" r="2.6"/><circle cx="277.6" cy="479.6" r="2.6"/><circle cx="280.9" cy="481.3" r="2.6"/><circle cx="284.3" cy="483.0" r="2.6"/><circle cx="287.6" cy="484.5" r="2.6"/><circle cx="291.0" cy="485.7" r="2.6"/><circle cx="294.4" cy="487.0" r="2.6"/><circle cx="297.7" cy="488.5" r="2.6"/><circle cx="301.1" cy="490.3" r="2.6"/><circle cx="304.4" cy="492.4" r="2.6"/><circle cx="307.8" cy="494.8" r="2.6"/><circle cx="311.2" cy="497.7" r="2.6"/><circle cx="314.5" cy="501.1" r="2.6"/><circle cx="317.9" cy="504.9" r="2.6"/></g><g fill="url(#dg5)"><circle cx="39.0" cy="385.5" r="2.6"/><circle cx="42.4" cy="379.8" r="2.6"/><circle cx="45.7" cy="374.2" r="2.6"/><circle cx="49.1" cy="369.0" r="2.6"/><circle cx="52.4" cy="364.6" r="2.6"/><circle cx="55.8" cy="359.8" r="2.6"/><circle cx="59.2" cy="355.3" r="2.6"/><circle cx="62.5" cy="352.2" r="2.6"/><circle cx="65.9" cy="349.6" r="2.6"/><circle cx="69.2" cy="347.0" r="2.6"/><circle cx="72.6" cy="344.6" r="2.6"/><circle cx="76.0" cy="342.3" r="2.6"/><circle cx="79.3" cy="340.2" r="2.6"/><circle cx="82.7" cy="338.2" r="2.6"/><circle cx="86.0" cy="336.3" r="2.6"/><circle cx="89.4" cy="334.8" r="2.6"/><circle cx="92.8" cy="333.6" r="2.6"/><circle cx="96.1" cy="332.6" r="2.6"/><circle cx="99.5" cy="331.9" r="2.6"/><circle cx="102.8" cy="331.5" r="2.6"/><circle cx="106.2" cy="331.1" r="2.6"/><circle cx="109.6" cy="331.0" r="2.6"/><circle cx="112.9" cy="331.2" r="2.6"/><circle cx="116.3" cy="331.7" r="2.6"/><circle cx="119.6" cy="332.4" r="2.6"/><circle cx="123.0" cy="333.6" r="2.6"/><circle cx="126.4" cy="335.4" r="2.6"/><circle cx="129.7" cy="337.5" r="2.6"/><circle cx="133.1" cy="340.0" r="2.6"/><circle cx="136.4" cy="342.9" r="2.6"/><circle cx="139.8" cy="345.7" r="2.6"/><circle cx="143.2" cy="348.7" r="2.6"/><circle cx="146.5" cy="351.8" r="2.6"/><circle cx="149.9" cy="355.1" r="2.6"/><circle cx="153.2" cy="358.5" r="2.6"/><circle cx="156.6" cy="362.1" r="2.6"/><circle cx="160.0" cy="366.1" r="2.6"/><circle cx="163.3" cy="370.2" r="2.6"/><circle cx="166.7" cy="374.1" r="2.6"/><circle cx="170.0" cy="377.7" r="2.6"/><circle cx="173.4" cy="381.4" r="2.6"/><circle cx="176.8" cy="385.6" r="2.6"/><circle cx="180.1" cy="390.0" r="2.6"/><circle cx="183.5" cy="394.2" r="2.6"/><circle cx="186.8" cy="398.0" r="2.6"/><circle cx="190.2" cy="401.6" r="2.6"/><circle cx="193.6" cy="404.7" r="2.6"/><circle cx="196.9" cy="407.2" r="2.6"/><circle cx="200.3" cy="409.8" r="2.6"/><circle cx="203.6" cy="413.5" r="2.6"/><circle cx="207.0" cy="417.9" r="2.6"/><circle cx="210.4" cy="422.1" r="2.6"/><circle cx="213.7" cy="425.5" r="2.6"/><circle cx="217.1" cy="428.6" r="2.6"/><circle cx="220.4" cy="432.1" r="2.6"/><circle cx="223.8" cy="436.4" r="2.6"/><circle cx="227.2" cy="441.2" r="2.6"/><circle cx="230.5" cy="446.0" r="2.6"/><circle cx="233.9" cy="450.4" r="2.6"/><circle cx="237.2" cy="454.7" r="2.6"/><circle cx="240.6" cy="458.6" r="2.6"/><circle cx="244.0" cy="462.0" r="2.6"/><circle cx="247.3" cy="464.9" r="2.6"/><circle cx="250.7" cy="467.5" r="2.6"/><circle cx="254.0" cy="469.7" r="2.6"/><circle cx="257.4" cy="471.6" r="2.6"/><circle cx="260.8" cy="473.2" r="2.6"/><circle cx="264.1" cy="474.7" r="2.6"/><circle cx="267.5" cy="476.1" r="2.6"/><circle cx="270.8" cy="477.4" r="2.6"/><circle cx="274.2" cy="478.7" r="2.6"/><circle cx="277.6" cy="480.0" r="2.6"/><circle cx="280.9" cy="481.4" r="2.6"/><circle cx="284.3" cy="482.8" r="2.6"/><circle cx="287.6" cy="484.1" r="2.6"/><circle cx="291.0" cy="485.3" r="2.6"/><circle cx="294.4" cy="486.7" r="2.6"/><circle cx="297.7" cy="488.3" r="2.6"/><circle cx="301.1" cy="490.5" r="2.6"/><circle cx="304.4" cy="493.0" r="2.6"/><circle cx="307.8" cy="495.6" r="2.6"/><circle cx="311.2" cy="498.2" r="2.6"/><circle cx="314.5" cy="500.9" r="2.6"/><circle cx="317.9" cy="503.6" r="2.6"/></g><g fill="url(#dg6)"><circle cx="39.0" cy="427.4" r="2.6"/><circle cx="42.4" cy="431.1" r="2.6"/><circle cx="45.7" cy="434.8" r="2.6"/><circle cx="49.1" cy="438.1" r="2.6"/><circle cx="52.4" cy="441.1" r="2.6"/><circle cx="55.8" cy="443.7" r="2.6"/><circle cx="59.2" cy="446.1" r="2.6"/><circle cx="62.5" cy="448.3" r="2.6"/><circle cx="65.9" cy="450.4" r="2.6"/><circle cx="69.2" cy="452.2" r="2.6"/><circle cx="72.6" cy="454.0" r="2.6"/><circle cx="76.0" cy="455.6" r="2.6"/><circle cx="79.3" cy="457.1" r="2.6"/><circle cx="82.7" cy="458.5" r="2.6"/><circle cx="86.0" cy="459.8" r="2.6"/><circle cx="89.4" cy="460.9" r="2.6"/><circle cx="92.8" cy="461.9" r="2.6"/><circle cx="96.1" cy="463.0" r="2.6"/><circle cx="99.5" cy="464.0" r="2.6"/><circle cx="102.8" cy="464.8" r="2.6"/><circle cx="106.2" cy="465.2" r="2.6"/><circle cx="109.6" cy="465.2" r="2.6"/><circle cx="112.9" cy="465.3" r="2.6"/><circle cx="116.3" cy="465.3" r="2.6"/><circle cx="119.6" cy="465.3" r="2.6"/><circle cx="123.0" cy="465.2" r="2.6"/><circle cx="126.4" cy="464.0" r="2.6"/><circle cx="129.7" cy="462.0" r="2.6"/><circle cx="133.1" cy="459.5" r="2.6"/><circle cx="136.4" cy="456.9" r="2.6"/><circle cx="139.8" cy="454.6" r="2.6"/><circle cx="143.2" cy="452.1" r="2.6"/><circle cx="146.5" cy="449.5" r="2.6"/><circle cx="149.9" cy="446.7" r="2.6"/><circle cx="153.2" cy="443.9" r="2.6"/><circle cx="156.6" cy="441.0" r="2.6"/><circle cx="160.0" cy="437.6" r="2.6"/><circle cx="163.3" cy="434.0" r="2.6"/><circle cx="166.7" cy="430.4" r="2.6"/><circle cx="170.0" cy="427.1" r="2.6"/><circle cx="173.4" cy="424.6" r="2.6"/><circle cx="176.8" cy="422.9" r="2.6"/><circle cx="180.1" cy="421.3" r="2.6"/><circle cx="183.5" cy="419.9" r="2.6"/><circle cx="186.8" cy="419.0" r="2.6"/><circle cx="190.2" cy="418.8" r="2.6"/><circle cx="193.6" cy="419.6" r="2.6"/><circle cx="196.9" cy="421.0" r="2.6"/><circle cx="200.3" cy="422.8" r="2.6"/><circle cx="203.6" cy="424.7" r="2.6"/><circle cx="207.0" cy="427.2" r="2.6"/><circle cx="210.4" cy="430.3" r="2.6"/><circle cx="213.7" cy="434.0" r="2.6"/><circle cx="217.1" cy="439.5" r="2.6"/><circle cx="220.4" cy="445.9" r="2.6"/><circle cx="223.8" cy="450.9" r="2.6"/><circle cx="227.2" cy="455.4" r="2.6"/><circle cx="230.5" cy="459.3" r="2.6"/><circle cx="233.9" cy="462.8" r="2.6"/><circle cx="237.2" cy="465.9" r="2.6"/><circle cx="240.6" cy="468.6" r="2.6"/><circle cx="244.0" cy="470.6" r="2.6"/><circle cx="247.3" cy="472.3" r="2.6"/><circle cx="250.7" cy="473.7" r="2.6"/><circle cx="254.0" cy="475.0" r="2.6"/><circle cx="257.4" cy="476.1" r="2.6"/><circle cx="260.8" cy="477.0" r="2.6"/><circle cx="264.1" cy="478.0" r="2.6"/><circle cx="267.5" cy="479.0" r="2.6"/><circle cx="270.8" cy="480.0" r="2.6"/><circle cx="274.2" cy="481.0" r="2.6"/><circle cx="277.6" cy="482.0" r="2.6"/><circle cx="280.9" cy="482.9" r="2.6"/><circle cx="284.3" cy="484.0" r="2.6"/><circle cx="287.6" cy="485.1" r="2.6"/><circle cx="291.0" cy="486.4" r="2.6"/><circle cx="294.4" cy="487.8" r="2.6"/><circle cx="297.7" cy="489.4" r="2.6"/><circle cx="301.1" cy="491.2" r="2.6"/><circle cx="304.4" cy="493.3" r="2.6"/><circle cx="307.8" cy="495.6" r="2.6"/><circle cx="311.2" cy="497.9" r="2.6"/><circle cx="314.5" cy="500.5" r="2.6"/><circle cx="317.9" cy="503.2" r="2.6"/></g><g fill="url(#dg7)"><circle cx="39.0" cy="412.9" r="2.6"/><circle cx="42.4" cy="416.4" r="2.6"/><circle cx="45.7" cy="420.2" r="2.6"/><circle cx="49.1" cy="423.9" r="2.6"/><circle cx="52.4" cy="427.3" r="2.6"/><circle cx="55.8" cy="430.2" r="2.6"/><circle cx="59.2" cy="432.9" r="2.6"/><circle cx="62.5" cy="435.5" r="2.6"/><circle cx="65.9" cy="437.9" r="2.6"/><circle cx="69.2" cy="440.2" r="2.6"/><circle cx="72.6" cy="442.4" r="2.6"/><circle cx="76.0" cy="444.5" r="2.6"/><circle cx="79.3" cy="446.6" r="2.6"/><circle cx="82.7" cy="448.6" r="2.6"/><circle cx="86.0" cy="450.5" r="2.6"/><circle cx="89.4" cy="452.3" r="2.6"/><circle cx="92.8" cy="454.2" r="2.6"/><circle cx="96.1" cy="456.2" r="2.6"/><circle cx="99.5" cy="458.0" r="2.6"/><circle cx="102.8" cy="459.6" r="2.6"/><circle cx="106.2" cy="460.9" r="2.6"/><circle cx="109.6" cy="461.8" r="2.6"/><circle cx="112.9" cy="462.6" r="2.6"/><circle cx="116.3" cy="463.2" r="2.6"/><circle cx="119.6" cy="463.4" r="2.6"/><circle cx="123.0" cy="463.0" r="2.6"/><circle cx="126.4" cy="462.4" r="2.6"/><circle cx="129.7" cy="461.6" r="2.6"/><circle cx="133.1" cy="460.5" r="2.6"/><circle cx="136.4" cy="459.2" r="2.6"/><circle cx="139.8" cy="457.5" r="2.6"/><circle cx="143.2" cy="455.4" r="2.6"/><circle cx="146.5" cy="453.2" r="2.6"/><circle cx="149.9" cy="450.9" r="2.6"/><circle cx="153.2" cy="448.5" r="2.6"/><circle cx="156.6" cy="446.0" r="2.6"/><circle cx="160.0" cy="443.5" r="2.6"/><circle cx="163.3" cy="440.7" r="2.6"/><circle cx="166.7" cy="437.1" r="2.6"/><circle cx="170.0" cy="432.7" r="2.6"/><circle cx="173.4" cy="429.2" r="2.6"/><circle cx="176.8" cy="427.4" r="2.6"/><circle cx="180.1" cy="425.8" r="2.6"/><circle cx="183.5" cy="424.6" r="2.6"/><circle cx="186.8" cy="423.9" r="2.6"/><circle cx="190.2" cy="423.9" r="2.6"/><circle cx="193.6" cy="424.5" r="2.6"/><circle cx="196.9" cy="425.7" r="2.6"/><circle cx="200.3" cy="427.1" r="2.6"/><circle cx="203.6" cy="428.9" r="2.6"/><circle cx="207.0" cy="431.7" r="2.6"/><circle cx="210.4" cy="435.1" r="2.6"/><circle cx="213.7" cy="438.8" r="2.6"/><circle cx="217.1" cy="443.2" r="2.6"/><circle cx="220.4" cy="448.0" r="2.6"/><circle cx="223.8" cy="452.4" r="2.6"/><circle cx="227.2" cy="456.5" r="2.6"/><circle cx="230.5" cy="460.3" r="2.6"/><circle cx="233.9" cy="463.6" r="2.6"/><circle cx="237.2" cy="466.6" r="2.6"/><circle cx="240.6" cy="469.3" r="2.6"/><circle cx="244.0" cy="471.3" r="2.6"/><circle cx="247.3" cy="473.0" r="2.6"/><circle cx="250.7" cy="474.5" r="2.6"/><circle cx="254.0" cy="475.8" r="2.6"/><circle cx="257.4" cy="476.9" r="2.6"/><circle cx="260.8" cy="477.8" r="2.6"/><circle cx="264.1" cy="478.8" r="2.6"/><circle cx="267.5" cy="479.8" r="2.6"/><circle cx="270.8" cy="480.8" r="2.6"/><circle cx="274.2" cy="481.8" r="2.6"/><circle cx="277.6" cy="482.8" r="2.6"/><circle cx="280.9" cy="483.7" r="2.6"/><circle cx="284.3" cy="484.8" r="2.6"/><circle cx="287.6" cy="485.9" r="2.6"/><circle cx="291.0" cy="487.1" r="2.6"/><circle cx="294.4" cy="488.5" r="2.6"/><circle cx="297.7" cy="490.1" r="2.6"/><circle cx="301.1" cy="491.9" r="2.6"/><circle cx="304.4" cy="494.0" r="2.6"/><circle cx="307.8" cy="496.3" r="2.6"/><circle cx="311.2" cy="498.6" r="2.6"/><circle cx="314.5" cy="501.1" r="2.6"/><circle cx="317.9" cy="503.7" r="2.6"/></g><g fill="url(#dg8)"><circle cx="39.0" cy="393.5" r="2.6"/><circle cx="42.4" cy="396.2" r="2.6"/><circle cx="45.7" cy="399.0" r="2.6"/><circle cx="49.1" cy="401.8" r="2.6"/><circle cx="52.4" cy="404.8" r="2.6"/><circle cx="55.8" cy="407.9" r="2.6"/><circle cx="59.2" cy="411.2" r="2.6"/><circle cx="62.5" cy="414.6" r="2.6"/><circle cx="65.9" cy="418.0" r="2.6"/><circle cx="69.2" cy="421.4" r="2.6"/><circle cx="72.6" cy="424.8" r="2.6"/><circle cx="76.0" cy="428.3" r="2.6"/><circle cx="79.3" cy="431.9" r="2.6"/><circle cx="82.7" cy="435.3" r="2.6"/><circle cx="86.0" cy="438.6" r="2.6"/><circle cx="89.4" cy="441.6" r="2.6"/><circle cx="92.8" cy="444.3" r="2.6"/><circle cx="96.1" cy="447.0" r="2.6"/><circle cx="99.5" cy="449.5" r="2.6"/><circle cx="102.8" cy="451.7" r="2.6"/><circle cx="106.2" cy="453.5" r="2.6"/><circle cx="109.6" cy="455.1" r="2.6"/><circle cx="112.9" cy="456.6" r="2.6"/><circle cx="116.3" cy="457.7" r="2.6"/><circle cx="119.6" cy="458.0" r="2.6"/><circle cx="123.0" cy="457.7" r="2.6"/><circle cx="126.4" cy="457.3" r="2.6"/><circle cx="129.7" cy="456.7" r="2.6"/><circle cx="133.1" cy="455.8" r="2.6"/><circle cx="136.4" cy="454.6" r="2.6"/><circle cx="139.8" cy="453.0" r="2.6"/><circle cx="143.2" cy="451.2" r="2.6"/><circle cx="146.5" cy="449.1" r="2.6"/><circle cx="149.9" cy="446.9" r="2.6"/><circle cx="153.2" cy="444.4" r="2.6"/><circle cx="156.6" cy="441.6" r="2.6"/><circle cx="160.0" cy="438.6" r="2.6"/><circle cx="163.3" cy="435.5" r="2.6"/><circle cx="166.7" cy="432.6" r="2.6"/><circle cx="170.0" cy="430.5" r="2.6"/><circle cx="173.4" cy="428.9" r="2.6"/><circle cx="176.8" cy="428.1" r="2.6"/><circle cx="180.1" cy="427.8" r="2.6"/><circle cx="183.5" cy="428.7" r="2.6"/><circle cx="186.8" cy="430.5" r="2.6"/><circle cx="190.2" cy="432.8" r="2.6"/><circle cx="193.6" cy="435.2" r="2.6"/><circle cx="196.9" cy="438.4" r="2.6"/><circle cx="200.3" cy="442.2" r="2.6"/><circle cx="203.6" cy="446.2" r="2.6"/><circle cx="207.0" cy="450.9" r="2.6"/><circle cx="210.4" cy="455.1" r="2.6"/><circle cx="213.7" cy="458.6" r="2.6"/><circle cx="217.1" cy="461.7" r="2.6"/><circle cx="220.4" cy="464.7" r="2.6"/><circle cx="223.8" cy="467.6" r="2.6"/><circle cx="227.2" cy="470.4" r="2.6"/><circle cx="230.5" cy="472.8" r="2.6"/><circle cx="233.9" cy="474.9" r="2.6"/><circle cx="237.2" cy="476.7" r="2.6"/><circle cx="240.6" cy="478.2" r="2.6"/><circle cx="244.0" cy="479.5" r="2.6"/><circle cx="247.3" cy="480.7" r="2.6"/><circle cx="250.7" cy="481.7" r="2.6"/><circle cx="254.0" cy="482.4" r="2.6"/><circle cx="257.4" cy="483.0" r="2.6"/><circle cx="260.8" cy="483.5" r="2.6"/><circle cx="264.1" cy="484.0" r="2.6"/><circle cx="267.5" cy="484.4" r="2.6"/><circle cx="270.8" cy="484.8" r="2.6"/><circle cx="274.2" cy="485.4" r="2.6"/><circle cx="277.6" cy="486.0" r="2.6"/><circle cx="280.9" cy="486.7" r="2.6"/><circle cx="284.3" cy="487.4" r="2.6"/><circle cx="287.6" cy="488.2" r="2.6"/><circle cx="291.0" cy="489.1" r="2.6"/><circle cx="294.4" cy="490.2" r="2.6"/><circle cx="297.7" cy="491.5" r="2.6"/><circle cx="301.1" cy="493.2" r="2.6"/><circle cx="304.4" cy="495.3" r="2.6"/><circle cx="307.8" cy="497.7" r="2.6"/><circle cx="311.2" cy="500.4" r="2.6"/><circle cx="314.5" cy="503.5" r="2.6"/><circle cx="317.9" cy="506.9" r="2.6"/></g><g fill="url(#dg9)"><circle cx="39.0" cy="345.3" r="2.6"/><circle cx="42.4" cy="347.1" r="2.6"/><circle cx="45.7" cy="349.1" r="2.6"/><circle cx="49.1" cy="351.7" r="2.6"/><circle cx="52.4" cy="354.8" r="2.6"/><circle cx="55.8" cy="358.8" r="2.6"/><circle cx="59.2" cy="363.3" r="2.6"/><circle cx="62.5" cy="368.2" r="2.6"/><circle cx="65.9" cy="373.8" r="2.6"/><circle cx="69.2" cy="379.3" r="2.6"/><circle cx="72.6" cy="385.0" r="2.6"/><circle cx="76.0" cy="391.1" r="2.6"/><circle cx="79.3" cy="396.8" r="2.6"/><circle cx="82.7" cy="401.7" r="2.6"/><circle cx="86.0" cy="406.1" r="2.6"/><circle cx="89.4" cy="411.0" r="2.6"/><circle cx="92.8" cy="417.5" r="2.6"/><circle cx="96.1" cy="424.7" r="2.6"/><circle cx="99.5" cy="431.0" r="2.6"/><circle cx="102.8" cy="436.9" r="2.6"/><circle cx="106.2" cy="442.0" r="2.6"/><circle cx="109.6" cy="445.7" r="2.6"/><circle cx="112.9" cy="448.6" r="2.6"/><circle cx="116.3" cy="451.3" r="2.6"/><circle cx="119.6" cy="453.9" r="2.6"/><circle cx="123.0" cy="456.3" r="2.6"/><circle cx="126.4" cy="458.1" r="2.6"/><circle cx="129.7" cy="459.6" r="2.6"/><circle cx="133.1" cy="460.6" r="2.6"/><circle cx="136.4" cy="461.4" r="2.6"/><circle cx="139.8" cy="462.3" r="2.6"/><circle cx="143.2" cy="463.0" r="2.6"/><circle cx="146.5" cy="463.0" r="2.6"/><circle cx="149.9" cy="463.0" r="2.6"/><circle cx="153.2" cy="462.7" r="2.6"/><circle cx="156.6" cy="461.8" r="2.6"/><circle cx="160.0" cy="461.0" r="2.6"/><circle cx="163.3" cy="460.0" r="2.6"/><circle cx="166.7" cy="459.2" r="2.6"/><circle cx="170.0" cy="458.3" r="2.6"/><circle cx="173.4" cy="457.2" r="2.6"/><circle cx="176.8" cy="456.2" r="2.6"/><circle cx="180.1" cy="455.8" r="2.6"/><circle cx="183.5" cy="456.0" r="2.6"/><circle cx="186.8" cy="456.5" r="2.6"/><circle cx="190.2" cy="457.2" r="2.6"/><circle cx="193.6" cy="458.0" r="2.6"/><circle cx="196.9" cy="459.3" r="2.6"/><circle cx="200.3" cy="461.2" r="2.6"/><circle cx="203.6" cy="463.2" r="2.6"/><circle cx="207.0" cy="465.0" r="2.6"/><circle cx="210.4" cy="466.7" r="2.6"/><circle cx="213.7" cy="468.4" r="2.6"/><circle cx="217.1" cy="470.2" r="2.6"/><circle cx="220.4" cy="472.2" r="2.6"/><circle cx="223.8" cy="474.5" r="2.6"/><circle cx="227.2" cy="476.8" r="2.6"/><circle cx="230.5" cy="478.9" r="2.6"/><circle cx="233.9" cy="480.5" r="2.6"/><circle cx="237.2" cy="481.8" r="2.6"/><circle cx="240.6" cy="482.9" r="2.6"/><circle cx="244.0" cy="483.8" r="2.6"/><circle cx="247.3" cy="484.5" r="2.6"/><circle cx="250.7" cy="485.1" r="2.6"/><circle cx="254.0" cy="485.6" r="2.6"/><circle cx="257.4" cy="486.0" r="2.6"/><circle cx="260.8" cy="486.3" r="2.6"/><circle cx="264.1" cy="486.6" r="2.6"/><circle cx="267.5" cy="486.9" r="2.6"/><circle cx="270.8" cy="487.2" r="2.6"/><circle cx="274.2" cy="487.6" r="2.6"/><circle cx="277.6" cy="488.1" r="2.6"/><circle cx="280.9" cy="488.7" r="2.6"/><circle cx="284.3" cy="489.5" r="2.6"/><circle cx="287.6" cy="490.3" r="2.6"/><circle cx="291.0" cy="491.3" r="2.6"/><circle cx="294.4" cy="492.3" r="2.6"/><circle cx="297.7" cy="493.5" r="2.6"/><circle cx="301.1" cy="494.9" r="2.6"/><circle cx="304.4" cy="496.7" r="2.6"/><circle cx="307.8" cy="498.8" r="2.6"/><circle cx="311.2" cy="501.3" r="2.6"/><circle cx="314.5" cy="504.4" r="2.6"/><circle cx="317.9" cy="507.9" r="2.6"/></g><rect x="37" y="291.2" width="281.5" height="227.40000000000003" fill="none" stroke="#111" stroke-width="1.4"/><line x1="57.16" y1="518.60" x2="57.16" y2="516.10" stroke="#111" stroke-width="1.1" /><line x1="77.32" y1="518.60" x2="77.32" y2="514.60" stroke="#111" stroke-width="1.1" /><line x1="97.48" y1="518.60" x2="97.48" y2="516.10" stroke="#111" stroke-width="1.1" /><line x1="117.64" y1="518.60" x2="117.64" y2="514.60" stroke="#111" stroke-width="1.1" /><line x1="137.80" y1="518.60" x2="137.80" y2="516.10" stroke="#111" stroke-width="1.1" /><line x1="157.96" y1="518.60" x2="157.96" y2="514.60" stroke="#111" stroke-width="1.1" /><line x1="178.12" y1="518.60" x2="178.12" y2="516.10" stroke="#111" stroke-width="1.1" /><line x1="198.28" y1="518.60" x2="198.28" y2="514.60" stroke="#111" stroke-width="1.1" /><line x1="218.44" y1="518.60" x2="218.44" y2="516.10" stroke="#111" stroke-width="1.1" /><line x1="238.60" y1="518.60" x2="238.60" y2="514.60" stroke="#111" stroke-width="1.1" /><line x1="258.76" y1="518.60" x2="258.76" y2="516.10" stroke="#111" stroke-width="1.1" /><line x1="278.92" y1="518.60" x2="278.92" y2="514.60" stroke="#111" stroke-width="1.1" /><line x1="299.08" y1="518.60" x2="299.08" y2="516.10" stroke="#111" stroke-width="1.1" /><text x="37.0" y="533.8" font-size="12.6" font-weight="bold" text-anchor="middle" fill="#111" >−2</text><text x="77.3" y="533.8" font-size="12.6" font-weight="bold" text-anchor="middle" fill="#111" >−1</text><text x="117.6" y="533.8" font-size="12.6" font-weight="bold" text-anchor="middle" fill="#111" >0</text><text x="158.0" y="533.8" font-size="12.6" font-weight="bold" text-anchor="middle" fill="#111" >1</text><text x="198.3" y="533.8" font-size="12.6" font-weight="bold" text-anchor="middle" fill="#111" >2</text><text x="238.6" y="533.8" font-size="12.6" font-weight="bold" text-anchor="middle" fill="#111" >3</text><text x="278.9" y="533.8" font-size="12.6" font-weight="bold" text-anchor="middle" fill="#111" >4</text><text x="319.2" y="533.8" font-size="12.6" font-weight="bold" text-anchor="middle" fill="#111" >5</text><line x1="37.00" y1="507.85" x2="39.50" y2="507.85" stroke="#111" stroke-width="1.1" /><line x1="37.00" y1="487.20" x2="41.00" y2="487.20" stroke="#111" stroke-width="1.1" /><text x="31.5" y="491.6" font-size="12.6" font-weight="bold" text-anchor="end" fill="#111" >0</text><line x1="37.00" y1="466.55" x2="39.50" y2="466.55" stroke="#111" stroke-width="1.1" /><line x1="37.00" y1="445.90" x2="41.00" y2="445.90" stroke="#111" stroke-width="1.1" /><text x="31.5" y="450.3" font-size="12.6" font-weight="bold" text-anchor="end" fill="#111" >20</text><line x1="37.00" y1="425.25" x2="39.50" y2="425.25" stroke="#111" stroke-width="1.1" /><line x1="37.00" y1="404.60" x2="41.00" y2="404.60" stroke="#111" stroke-width="1.1" /><text x="31.5" y="409.0" font-size="12.6" font-weight="bold" text-anchor="end" fill="#111" >40</text><line x1="37.00" y1="383.95" x2="39.50" y2="383.95" stroke="#111" stroke-width="1.1" /><line x1="37.00" y1="363.30" x2="41.00" y2="363.30" stroke="#111" stroke-width="1.1" /><text x="31.5" y="367.7" font-size="12.6" font-weight="bold" text-anchor="end" fill="#111" >60</text><line x1="37.00" y1="342.65" x2="39.50" y2="342.65" stroke="#111" stroke-width="1.1" /><line x1="37.00" y1="322.00" x2="41.00" y2="322.00" stroke="#111" stroke-width="1.1" /><text x="31.5" y="326.4" font-size="12.6" font-weight="bold" text-anchor="end" fill="#111" >80</text><line x1="37.00" y1="301.35" x2="39.50" y2="301.35" stroke="#111" stroke-width="1.1" /><text x="54.9" y="309.5" font-size="11.8" font-weight="bold" text-anchor="start" fill="#111" >A-NiCoMn-TAC/LDH-KOH</text><text x="6.5" y="286.8" font-size="18" font-weight="bold" text-anchor="start" fill="#111" >d</text><text x="0" y="0" font-size="12.4" font-weight="bold" fill="#111" text-anchor="middle" transform="translate(11.2,400.5) rotate(-90)">-Phase (deg)</text><text x="123.4" y="550.5" font-size="12.5" font-weight="bold" fill="#111"><tspan font-family="Liberation Serif, serif">Log</tspan><tspan font-size="12.9"> (Freqency/Hz)</tspan></text><circle cx="261.1" cy="304.3" r="2.85" fill="url(#lg0)"/><text x="278.8" y="308.4" font-size="11.5" font-weight="bold" text-anchor="start" fill="#111" >1.10 V</text><circle cx="261.1" cy="319.2" r="2.85" fill="url(#lg1)"/><text x="278.8" y="323.3" font-size="11.5" font-weight="bold" text-anchor="start" fill="#111" >1.15 V</text><circle cx="261.1" cy="334.1" r="2.85" fill="url(#lg2)"/><text x="278.8" y="338.2" font-size="11.5" font-weight="bold" text-anchor="start" fill="#111" >1.20 V</text><circle cx="261.1" cy="349.0" r="2.85" fill="url(#lg3)"/><text x="278.8" y="353.1" font-size="11.5" font-weight="bold" text-anchor="start" fill="#111" >1.25 V</text><circle cx="261.1" cy="363.9" r="2.85" fill="url(#lg4)"/><text x="278.8" y="368.0" font-size="11.5" font-weight="bold" text-anchor="start" fill="#111" >1.30 V</text><circle cx="261.1" cy="378.8" r="2.85" fill="url(#lg5)"/><text x="278.8" y="382.9" font-size="11.5" font-weight="bold" text-anchor="start" fill="#111" >1.35 V</text><circle cx="261.1" cy="393.7" r="2.85" fill="url(#lg6)"/><text x="278.8" y="397.8" font-size="11.5" font-weight="bold" text-anchor="start" fill="#111" >1.40 V</text><circle cx="261.1" cy="408.6" r="2.85" fill="url(#lg7)"/><text x="278.8" y="412.7" font-size="11.5" font-weight="bold" text-anchor="start" fill="#111" >1.45 V</text><circle cx="261.1" cy="423.5" r="2.85" fill="url(#lg8)"/><text x="278.8" y="427.6" font-size="11.5" font-weight="bold" text-anchor="start" fill="#111" >1.50 V</text><circle cx="261.1" cy="438.4" r="2.85" fill="url(#lg9)"/><text x="278.8" y="442.5" font-size="11.5" font-weight="bold" text-anchor="start" fill="#111" >1.55 V</text><rect x="390.7" y="291.2" width="80.72" height="227.59999999999997" fill="#dff0fb"/><rect x="471.42" y="291.2" width="121.08" height="227.59999999999997" fill="#f7d9e3"/><rect x="592.50" y="291.2" width="81.80" height="227.59999999999997" fill="#fbfbee"/><g fill="url(#dg0)"><circle cx="393.4" cy="319.0" r="2.6"/><circle cx="396.8" cy="324.9" r="2.6"/><circle cx="400.2" cy="332.8" r="2.6"/><circle cx="403.6" cy="341.5" r="2.6"/><circle cx="407.0" cy="350.0" r="2.6"/><circle cx="410.3" cy="357.6" r="2.6"/><circle cx="413.7" cy="365.2" r="2.6"/><circle cx="417.1" cy="372.0" r="2.6"/><circle cx="420.5" cy="378.2" r="2.6"/><circle cx="423.9" cy="383.8" r="2.6"/><circle cx="427.3" cy="387.5" r="2.6"/><circle cx="430.7" cy="389.9" r="2.6"/><circle cx="434.1" cy="391.0" r="2.6"/><circle cx="437.5" cy="391.4" r="2.6"/><circle cx="440.9" cy="391.7" r="2.6"/><circle cx="444.2" cy="391.5" r="2.6"/><circle cx="447.6" cy="390.7" r="2.6"/><circle cx="451.0" cy="389.9" r="2.6"/><circle cx="454.4" cy="389.4" r="2.6"/><circle cx="457.8" cy="389.0" r="2.6"/><circle cx="461.2" cy="388.6" r="2.6"/><circle cx="464.6" cy="388.0" r="2.6"/><circle cx="468.0" cy="387.6" r="2.6"/><circle cx="471.4" cy="387.6" r="2.6"/><circle cx="474.8" cy="387.8" r="2.6"/><circle cx="478.1" cy="388.1" r="2.6"/><circle cx="481.5" cy="388.7" r="2.6"/><circle cx="484.9" cy="389.7" r="2.6"/><circle cx="488.3" cy="390.8" r="2.6"/><circle cx="491.7" cy="392.0" r="2.6"/><circle cx="495.1" cy="393.3" r="2.6"/><circle cx="498.5" cy="394.7" r="2.6"/><circle cx="501.9" cy="396.2" r="2.6"/><circle cx="505.3" cy="397.9" r="2.6"/><circle cx="508.7" cy="399.9" r="2.6"/><circle cx="512.0" cy="402.5" r="2.6"/><circle cx="515.4" cy="405.8" r="2.6"/><circle cx="518.8" cy="410.0" r="2.6"/><circle cx="522.2" cy="415.1" r="2.6"/><circle cx="525.6" cy="420.7" r="2.6"/><circle cx="529.0" cy="427.0" r="2.6"/><circle cx="532.4" cy="434.1" r="2.6"/><circle cx="535.8" cy="441.9" r="2.6"/><circle cx="539.2" cy="451.6" r="2.6"/><circle cx="542.6" cy="459.5" r="2.6"/><circle cx="546.0" cy="465.0" r="2.6"/><circle cx="549.3" cy="468.6" r="2.6"/><circle cx="552.7" cy="470.9" r="2.6"/><circle cx="556.1" cy="472.7" r="2.6"/><circle cx="559.5" cy="474.2" r="2.6"/><circle cx="562.9" cy="475.5" r="2.6"/><circle cx="566.3" cy="476.9" r="2.6"/><circle cx="569.7" cy="478.3" r="2.6"/><circle cx="573.1" cy="479.6" r="2.6"/><circle cx="576.5" cy="480.9" r="2.6"/><circle cx="579.9" cy="482.1" r="2.6"/><circle cx="583.2" cy="483.3" r="2.6"/><circle cx="586.6" cy="484.5" r="2.6"/><circle cx="590.0" cy="485.6" r="2.6"/><circle cx="593.4" cy="486.6" r="2.6"/><circle cx="596.8" cy="487.3" r="2.6"/><circle cx="600.2" cy="487.8" r="2.6"/><circle cx="603.6" cy="488.4" r="2.6"/><circle cx="607.0" cy="488.8" r="2.6"/><circle cx="610.4" cy="489.2" r="2.6"/><circle cx="613.8" cy="489.5" r="2.6"/><circle cx="617.1" cy="489.7" r="2.6"/><circle cx="620.5" cy="489.9" r="2.6"/><circle cx="623.9" cy="490.1" r="2.6"/><circle cx="627.3" cy="490.3" r="2.6"/><circle cx="630.7" cy="490.4" r="2.6"/><circle cx="634.1" cy="490.6" r="2.6"/><circle cx="637.5" cy="490.8" r="2.6"/><circle cx="640.9" cy="491.1" r="2.6"/><circle cx="644.3" cy="491.4" r="2.6"/><circle cx="647.6" cy="491.7" r="2.6"/><circle cx="651.0" cy="492.2" r="2.6"/><circle cx="654.4" cy="492.6" r="2.6"/><circle cx="657.8" cy="493.1" r="2.6"/><circle cx="661.2" cy="493.7" r="2.6"/><circle cx="664.6" cy="494.4" r="2.6"/><circle cx="668.0" cy="495.3" r="2.6"/><circle cx="671.4" cy="496.2" r="2.6"/></g><g fill="url(#dg1)"><circle cx="393.4" cy="375.1" r="2.6"/><circle cx="396.8" cy="376.4" r="2.6"/><circle cx="400.2" cy="376.6" r="2.6"/><circle cx="403.6" cy="376.1" r="2.6"/><circle cx="407.0" cy="375.5" r="2.6"/><circle cx="410.3" cy="374.6" r="2.6"/><circle cx="413.7" cy="373.4" r="2.6"/><circle cx="417.1" cy="372.4" r="2.6"/><circle cx="420.5" cy="371.3" r="2.6"/><circle cx="423.9" cy="370.3" r="2.6"/><circle cx="427.3" cy="369.6" r="2.6"/><circle cx="430.7" cy="368.9" r="2.6"/><circle cx="434.1" cy="368.4" r="2.6"/><circle cx="437.5" cy="367.9" r="2.6"/><circle cx="440.9" cy="367.6" r="2.6"/><circle cx="444.2" cy="367.6" r="2.6"/><circle cx="447.6" cy="367.8" r="2.6"/><circle cx="451.0" cy="368.0" r="2.6"/><circle cx="454.4" cy="368.3" r="2.6"/><circle cx="457.8" cy="368.9" r="2.6"/><circle cx="461.2" cy="369.6" r="2.6"/><circle cx="464.6" cy="370.6" r="2.6"/><circle cx="468.0" cy="371.7" r="2.6"/><circle cx="471.4" cy="372.9" r="2.6"/><circle cx="474.8" cy="374.2" r="2.6"/><circle cx="478.1" cy="375.6" r="2.6"/><circle cx="481.5" cy="377.2" r="2.6"/><circle cx="484.9" cy="378.9" r="2.6"/><circle cx="488.3" cy="380.9" r="2.6"/><circle cx="491.7" cy="383.3" r="2.6"/><circle cx="495.1" cy="386.0" r="2.6"/><circle cx="498.5" cy="389.0" r="2.6"/><circle cx="501.9" cy="392.1" r="2.6"/><circle cx="505.3" cy="395.3" r="2.6"/><circle cx="508.7" cy="398.6" r="2.6"/><circle cx="512.0" cy="401.9" r="2.6"/><circle cx="515.4" cy="405.7" r="2.6"/><circle cx="518.8" cy="410.6" r="2.6"/><circle cx="522.2" cy="416.3" r="2.6"/><circle cx="525.6" cy="422.2" r="2.6"/><circle cx="529.0" cy="428.7" r="2.6"/><circle cx="532.4" cy="436.0" r="2.6"/><circle cx="535.8" cy="444.4" r="2.6"/><circle cx="539.2" cy="455.0" r="2.6"/><circle cx="542.6" cy="461.5" r="2.6"/><circle cx="546.0" cy="466.2" r="2.6"/><circle cx="549.3" cy="469.2" r="2.6"/><circle cx="552.7" cy="471.3" r="2.6"/><circle cx="556.1" cy="473.0" r="2.6"/><circle cx="559.5" cy="474.5" r="2.6"/><circle cx="562.9" cy="475.8" r="2.6"/><circle cx="566.3" cy="477.2" r="2.6"/><circle cx="569.7" cy="478.6" r="2.6"/><circle cx="573.1" cy="480.0" r="2.6"/><circle cx="576.5" cy="481.3" r="2.6"/><circle cx="579.9" cy="482.4" r="2.6"/><circle cx="583.2" cy="483.6" r="2.6"/><circle cx="586.6" cy="484.7" r="2.6"/><circle cx="590.0" cy="485.7" r="2.6"/><circle cx="593.4" cy="486.6" r="2.6"/><circle cx="596.8" cy="487.3" r="2.6"/><circle cx="600.2" cy="487.9" r="2.6"/><circle cx="603.6" cy="488.5" r="2.6"/><circle cx="607.0" cy="489.0" r="2.6"/><circle cx="610.4" cy="489.5" r="2.6"/><circle cx="613.8" cy="489.9" r="2.6"/><circle cx="617.1" cy="490.2" r="2.6"/><circle cx="620.5" cy="490.5" r="2.6"/><circle cx="623.9" cy="490.8" r="2.6"/><circle cx="627.3" cy="491.0" r="2.6"/><circle cx="630.7" cy="491.2" r="2.6"/><circle cx="634.1" cy="491.5" r="2.6"/><circle cx="637.5" cy="491.8" r="2.6"/><circle cx="640.9" cy="492.1" r="2.6"/><circle cx="644.3" cy="492.4" r="2.6"/><circle cx="647.6" cy="492.8" r="2.6"/><circle cx="651.0" cy="493.1" r="2.6"/><circle cx="654.4" cy="493.6" r="2.6"/><circle cx="657.8" cy="494.1" r="2.6"/><circle cx="661.2" cy="494.8" r="2.6"/><circle cx="664.6" cy="495.7" r="2.6"/><circle cx="668.0" cy="496.9" r="2.6"/><circle cx="671.4" cy="498.3" r="2.6"/></g><g fill="url(#dg2)"><circle cx="393.4" cy="362.8" r="2.6"/><circle cx="396.8" cy="362.3" r="2.6"/><circle cx="400.2" cy="361.8" r="2.6"/><circle cx="403.6" cy="361.5" r="2.6"/><circle cx="407.0" cy="361.3" r="2.6"/><circle cx="410.3" cy="361.1" r="2.6"/><circle cx="413.7" cy="361.0" r="2.6"/><circle cx="417.1" cy="360.9" r="2.6"/><circle cx="420.5" cy="360.8" r="2.6"/><circle cx="423.9" cy="360.8" r="2.6"/><circle cx="427.3" cy="360.9" r="2.6"/><circle cx="430.7" cy="361.1" r="2.6"/><circle cx="434.1" cy="361.3" r="2.6"/><circle cx="437.5" cy="361.7" r="2.6"/><circle cx="440.9" cy="362.1" r="2.6"/><circle cx="444.2" cy="362.5" r="2.6"/><circle cx="447.6" cy="363.0" r="2.6"/><circle cx="451.0" cy="363.6" r="2.6"/><circle cx="454.4" cy="364.4" r="2.6"/><circle cx="457.8" cy="365.2" r="2.6"/><circle cx="461.2" cy="366.3" r="2.6"/><circle cx="464.6" cy="367.6" r="2.6"/><circle cx="468.0" cy="368.9" r="2.6"/><circle cx="471.4" cy="370.2" r="2.6"/><circle cx="474.8" cy="371.5" r="2.6"/><circle cx="478.1" cy="372.9" r="2.6"/><circle cx="481.5" cy="374.6" r="2.6"/><circle cx="484.9" cy="377.0" r="2.6"/><circle cx="488.3" cy="380.2" r="2.6"/><circle cx="491.7" cy="383.5" r="2.6"/><circle cx="495.1" cy="386.5" r="2.6"/><circle cx="498.5" cy="389.1" r="2.6"/><circle cx="501.9" cy="391.7" r="2.6"/><circle cx="505.3" cy="394.5" r="2.6"/><circle cx="508.7" cy="397.6" r="2.6"/><circle cx="512.0" cy="401.2" r="2.6"/><circle cx="515.4" cy="405.6" r="2.6"/><circle cx="518.8" cy="411.1" r="2.6"/><circle cx="522.2" cy="417.0" r="2.6"/><circle cx="525.6" cy="423.4" r="2.6"/><circle cx="529.0" cy="430.3" r="2.6"/><circle cx="532.4" cy="438.2" r="2.6"/><circle cx="535.8" cy="448.0" r="2.6"/><circle cx="539.2" cy="456.8" r="2.6"/><circle cx="542.6" cy="462.2" r="2.6"/><circle cx="546.0" cy="466.0" r="2.6"/><circle cx="549.3" cy="468.4" r="2.6"/><circle cx="552.7" cy="470.2" r="2.6"/><circle cx="556.1" cy="471.8" r="2.6"/><circle cx="559.5" cy="473.1" r="2.6"/><circle cx="562.9" cy="474.4" r="2.6"/><circle cx="566.3" cy="475.8" r="2.6"/><circle cx="569.7" cy="477.2" r="2.6"/><circle cx="573.1" cy="478.5" r="2.6"/><circle cx="576.5" cy="479.6" r="2.6"/><circle cx="579.9" cy="480.7" r="2.6"/><circle cx="583.2" cy="481.8" r="2.6"/><circle cx="586.6" cy="482.8" r="2.6"/><circle cx="590.0" cy="483.7" r="2.6"/><circle cx="593.4" cy="484.6" r="2.6"/><circle cx="596.8" cy="485.3" r="2.6"/><circle cx="600.2" cy="485.9" r="2.6"/><circle cx="603.6" cy="486.5" r="2.6"/><circle cx="607.0" cy="487.0" r="2.6"/><circle cx="610.4" cy="487.5" r="2.6"/><circle cx="613.8" cy="487.9" r="2.6"/><circle cx="617.1" cy="488.2" r="2.6"/><circle cx="620.5" cy="488.5" r="2.6"/><circle cx="623.9" cy="488.8" r="2.6"/><circle cx="627.3" cy="489.0" r="2.6"/><circle cx="630.7" cy="489.2" r="2.6"/><circle cx="634.1" cy="489.5" r="2.6"/><circle cx="637.5" cy="489.8" r="2.6"/><circle cx="640.9" cy="490.1" r="2.6"/><circle cx="644.3" cy="490.4" r="2.6"/><circle cx="647.6" cy="490.8" r="2.6"/><circle cx="651.0" cy="491.1" r="2.6"/><circle cx="654.4" cy="491.6" r="2.6"/><circle cx="657.8" cy="492.1" r="2.6"/><circle cx="661.2" cy="492.8" r="2.6"/><circle cx="664.6" cy="493.7" r="2.6"/><circle cx="668.0" cy="494.9" r="2.6"/><circle cx="671.4" cy="496.3" r="2.6"/></g><g fill="url(#dg3)"><circle cx="393.4" cy="421.5" r="2.6"/><circle cx="396.8" cy="416.1" r="2.6"/><circle cx="400.2" cy="410.3" r="2.6"/><circle cx="403.6" cy="405.1" r="2.6"/><circle cx="407.0" cy="400.4" r="2.6"/><circle cx="410.3" cy="396.2" r="2.6"/><circle cx="413.7" cy="392.3" r="2.6"/><circle cx="417.1" cy="388.5" r="2.6"/><circle cx="420.5" cy="384.6" r="2.6"/><circle cx="423.9" cy="381.3" r="2.6"/><circle cx="427.3" cy="378.9" r="2.6"/><circle cx="430.7" cy="376.8" r="2.6"/><circle cx="434.1" cy="375.3" r="2.6"/><circle cx="437.5" cy="374.0" r="2.6"/><circle cx="440.9" cy="373.1" r="2.6"/><circle cx="444.2" cy="372.9" r="2.6"/><circle cx="447.6" cy="372.8" r="2.6"/><circle cx="451.0" cy="372.7" r="2.6"/><circle cx="454.4" cy="372.8" r="2.6"/><circle cx="457.8" cy="373.1" r="2.6"/><circle cx="461.2" cy="373.5" r="2.6"/><circle cx="464.6" cy="374.3" r="2.6"/><circle cx="468.0" cy="375.3" r="2.6"/><circle cx="471.4" cy="376.4" r="2.6"/><circle cx="474.8" cy="377.8" r="2.6"/><circle cx="478.1" cy="379.3" r="2.6"/><circle cx="481.5" cy="380.9" r="2.6"/><circle cx="484.9" cy="382.6" r="2.6"/><circle cx="488.3" cy="384.5" r="2.6"/><circle cx="491.7" cy="386.5" r="2.6"/><circle cx="495.1" cy="388.7" r="2.6"/><circle cx="498.5" cy="391.0" r="2.6"/><circle cx="501.9" cy="393.6" r="2.6"/><circle cx="505.3" cy="396.4" r="2.6"/><circle cx="508.7" cy="399.7" r="2.6"/><circle cx="512.0" cy="403.6" r="2.6"/><circle cx="515.4" cy="408.4" r="2.6"/><circle cx="518.8" cy="414.1" r="2.6"/><circle cx="522.2" cy="420.3" r="2.6"/><circle cx="525.6" cy="426.9" r="2.6"/><circle cx="529.0" cy="434.2" r="2.6"/><circle cx="532.4" cy="442.5" r="2.6"/><circle cx="535.8" cy="453.2" r="2.6"/><circle cx="539.2" cy="460.2" r="2.6"/><circle cx="542.6" cy="465.1" r="2.6"/><circle cx="546.0" cy="468.2" r="2.6"/><circle cx="549.3" cy="470.3" r="2.6"/><circle cx="552.7" cy="472.1" r="2.6"/><circle cx="556.1" cy="473.5" r="2.6"/><circle cx="559.5" cy="474.8" r="2.6"/><circle cx="562.9" cy="476.1" r="2.6"/><circle cx="566.3" cy="477.5" r="2.6"/><circle cx="569.7" cy="478.8" r="2.6"/><circle cx="573.1" cy="480.0" r="2.6"/><circle cx="576.5" cy="481.2" r="2.6"/><circle cx="579.9" cy="482.2" r="2.6"/><circle cx="583.2" cy="483.2" r="2.6"/><circle cx="586.6" cy="484.2" r="2.6"/><circle cx="590.0" cy="485.1" r="2.6"/><circle cx="593.4" cy="485.9" r="2.6"/><circle cx="596.8" cy="486.6" r="2.6"/><circle cx="600.2" cy="487.2" r="2.6"/><circle cx="603.6" cy="487.8" r="2.6"/><circle cx="607.0" cy="488.3" r="2.6"/><circle cx="610.4" cy="488.8" r="2.6"/><circle cx="613.8" cy="489.2" r="2.6"/><circle cx="617.1" cy="489.5" r="2.6"/><circle cx="620.5" cy="489.8" r="2.6"/><circle cx="623.9" cy="490.1" r="2.6"/><circle cx="627.3" cy="490.3" r="2.6"/><circle cx="630.7" cy="490.5" r="2.6"/><circle cx="634.1" cy="490.8" r="2.6"/><circle cx="637.5" cy="491.1" r="2.6"/><circle cx="640.9" cy="491.4" r="2.6"/><circle cx="644.3" cy="491.7" r="2.6"/><circle cx="647.6" cy="492.1" r="2.6"/><circle cx="651.0" cy="492.4" r="2.6"/><circle cx="654.4" cy="492.9" r="2.6"/><circle cx="657.8" cy="493.4" r="2.6"/><circle cx="661.2" cy="494.1" r="2.6"/><circle cx="664.6" cy="495.0" r="2.6"/><circle cx="668.0" cy="496.2" r="2.6"/><circle cx="671.4" cy="497.6" r="2.6"/></g><g fill="url(#dg4)"><circle cx="393.4" cy="462.9" r="2.6"/><circle cx="396.8" cy="460.6" r="2.6"/><circle cx="400.2" cy="457.9" r="2.6"/><circle cx="403.6" cy="455.0" r="2.6"/><circle cx="407.0" cy="451.5" r="2.6"/><circle cx="410.3" cy="447.9" r="2.6"/><circle cx="413.7" cy="444.0" r="2.6"/><circle cx="417.1" cy="439.8" r="2.6"/><circle cx="420.5" cy="435.4" r="2.6"/><circle cx="423.9" cy="430.5" r="2.6"/><circle cx="427.3" cy="425.7" r="2.6"/><circle cx="430.7" cy="420.8" r="2.6"/><circle cx="434.1" cy="416.0" r="2.6"/><circle cx="437.5" cy="411.5" r="2.6"/><circle cx="440.9" cy="407.0" r="2.6"/><circle cx="444.2" cy="403.1" r="2.6"/><circle cx="447.6" cy="400.3" r="2.6"/><circle cx="451.0" cy="398.2" r="2.6"/><circle cx="454.4" cy="396.4" r="2.6"/><circle cx="457.8" cy="394.5" r="2.6"/><circle cx="461.2" cy="392.7" r="2.6"/><circle cx="464.6" cy="391.5" r="2.6"/><circle cx="468.0" cy="390.6" r="2.6"/><circle cx="471.4" cy="390.0" r="2.6"/><circle cx="474.8" cy="390.0" r="2.6"/><circle cx="478.1" cy="390.3" r="2.6"/><circle cx="481.5" cy="390.7" r="2.6"/><circle cx="484.9" cy="391.4" r="2.6"/><circle cx="488.3" cy="392.3" r="2.6"/><circle cx="491.7" cy="393.4" r="2.6"/><circle cx="495.1" cy="394.5" r="2.6"/><circle cx="498.5" cy="395.8" r="2.6"/><circle cx="501.9" cy="397.3" r="2.6"/><circle cx="505.3" cy="399.3" r="2.6"/><circle cx="508.7" cy="402.4" r="2.6"/><circle cx="512.0" cy="406.7" r="2.6"/><circle cx="515.4" cy="411.9" r="2.6"/><circle cx="518.8" cy="417.9" r="2.6"/><circle cx="522.2" cy="424.2" r="2.6"/><circle cx="525.6" cy="431.0" r="2.6"/><circle cx="529.0" cy="438.7" r="2.6"/><circle cx="532.4" cy="447.5" r="2.6"/><circle cx="535.8" cy="457.9" r="2.6"/><circle cx="539.2" cy="464.0" r="2.6"/><circle cx="542.6" cy="468.4" r="2.6"/><circle cx="546.0" cy="471.1" r="2.6"/><circle cx="549.3" cy="473.1" r="2.6"/><circle cx="552.7" cy="474.7" r="2.6"/><circle cx="556.1" cy="476.1" r="2.6"/><circle cx="559.5" cy="477.3" r="2.6"/><circle cx="562.9" cy="478.7" r="2.6"/><circle cx="566.3" cy="480.0" r="2.6"/><circle cx="569.7" cy="481.3" r="2.6"/><circle cx="573.1" cy="482.5" r="2.6"/><circle cx="576.5" cy="483.6" r="2.6"/><circle cx="579.9" cy="484.6" r="2.6"/><circle cx="583.2" cy="485.6" r="2.6"/><circle cx="586.6" cy="486.5" r="2.6"/><circle cx="590.0" cy="487.3" r="2.6"/><circle cx="593.4" cy="488.1" r="2.6"/><circle cx="596.8" cy="488.8" r="2.6"/><circle cx="600.2" cy="489.4" r="2.6"/><circle cx="603.6" cy="490.0" r="2.6"/><circle cx="607.0" cy="490.5" r="2.6"/><circle cx="610.4" cy="491.0" r="2.6"/><circle cx="613.8" cy="491.4" r="2.6"/><circle cx="617.1" cy="491.7" r="2.6"/><circle cx="620.5" cy="492.0" r="2.6"/><circle cx="623.9" cy="492.3" r="2.6"/><circle cx="627.3" cy="492.5" r="2.6"/><circle cx="630.7" cy="492.7" r="2.6"/><circle cx="634.1" cy="493.0" r="2.6"/><circle cx="637.5" cy="493.3" r="2.6"/><circle cx="640.9" cy="493.6" r="2.6"/><circle cx="644.3" cy="493.9" r="2.6"/><circle cx="647.6" cy="494.3" r="2.6"/><circle cx="651.0" cy="494.6" r="2.6"/><circle cx="654.4" cy="495.1" r="2.6"/><circle cx="657.8" cy="495.6" r="2.6"/><circle cx="661.2" cy="496.3" r="2.6"/><circle cx="664.6" cy="497.2" r="2.6"/><circle cx="668.0" cy="498.4" r="2.6"/><circle cx="671.4" cy="499.8" r="2.6"/></g><g fill="url(#dg5)"><circle cx="393.4" cy="483.5" r="2.6"/><circle cx="396.8" cy="483.1" r="2.6"/><circle cx="400.2" cy="482.6" r="2.6"/><circle cx="403.6" cy="482.0" r="2.6"/><circle cx="407.0" cy="481.4" r="2.6"/><circle cx="410.3" cy="480.8" r="2.6"/><circle cx="413.7" cy="480.1" r="2.6"/><circle cx="417.1" cy="479.4" r="2.6"/><circle cx="420.5" cy="478.5" r="2.6"/><circle cx="423.9" cy="477.6" r="2.6"/><circle cx="427.3" cy="476.5" r="2.6"/><circle cx="430.7" cy="475.3" r="2.6"/><circle cx="434.1" cy="473.8" r="2.6"/><circle cx="437.5" cy="472.2" r="2.6"/><circle cx="440.9" cy="470.5" r="2.6"/><circle cx="444.2" cy="468.8" r="2.6"/><circle cx="447.6" cy="467.0" r="2.6"/><circle cx="451.0" cy="465.0" r="2.6"/><circle cx="454.4" cy="463.0" r="2.6"/><circle cx="457.8" cy="460.7" r="2.6"/><circle cx="461.2" cy="458.3" r="2.6"/><circle cx="464.6" cy="455.8" r="2.6"/><circle cx="468.0" cy="453.3" r="2.6"/><circle cx="471.4" cy="450.7" r="2.6"/><circle cx="474.8" cy="447.9" r="2.6"/><circle cx="478.1" cy="445.2" r="2.6"/><circle cx="481.5" cy="442.8" r="2.6"/><circle cx="484.9" cy="440.7" r="2.6"/><circle cx="488.3" cy="438.7" r="2.6"/><circle cx="491.7" cy="437.9" r="2.6"/><circle cx="495.1" cy="438.3" r="2.6"/><circle cx="498.5" cy="439.1" r="2.6"/><circle cx="501.9" cy="440.3" r="2.6"/><circle cx="505.3" cy="442.0" r="2.6"/><circle cx="508.7" cy="445.0" r="2.6"/><circle cx="512.0" cy="448.3" r="2.6"/><circle cx="515.4" cy="452.0" r="2.6"/><circle cx="518.8" cy="455.9" r="2.6"/><circle cx="522.2" cy="459.8" r="2.6"/><circle cx="525.6" cy="463.5" r="2.6"/><circle cx="529.0" cy="467.2" r="2.6"/><circle cx="532.4" cy="470.7" r="2.6"/><circle cx="535.8" cy="473.9" r="2.6"/><circle cx="539.2" cy="476.5" r="2.6"/><circle cx="542.6" cy="478.8" r="2.6"/><circle cx="546.0" cy="480.9" r="2.6"/><circle cx="549.3" cy="482.8" r="2.6"/><circle cx="552.7" cy="484.3" r="2.6"/><circle cx="556.1" cy="485.5" r="2.6"/><circle cx="559.5" cy="486.7" r="2.6"/><circle cx="562.9" cy="487.6" r="2.6"/><circle cx="566.3" cy="488.4" r="2.6"/><circle cx="569.7" cy="488.9" r="2.6"/><circle cx="573.1" cy="489.5" r="2.6"/><circle cx="576.5" cy="490.0" r="2.6"/><circle cx="579.9" cy="490.4" r="2.6"/><circle cx="583.2" cy="490.8" r="2.6"/><circle cx="586.6" cy="491.1" r="2.6"/><circle cx="590.0" cy="491.4" r="2.6"/><circle cx="593.4" cy="491.5" r="2.6"/><circle cx="596.8" cy="491.5" r="2.6"/><circle cx="600.2" cy="491.5" r="2.6"/><circle cx="603.6" cy="491.5" r="2.6"/><circle cx="607.0" cy="491.5" r="2.6"/><circle cx="610.4" cy="491.5" r="2.6"/><circle cx="613.8" cy="491.5" r="2.6"/><circle cx="617.1" cy="491.5" r="2.6"/><circle cx="620.5" cy="491.4" r="2.6"/><circle cx="623.9" cy="491.2" r="2.6"/><circle cx="627.3" cy="491.1" r="2.6"/><circle cx="630.7" cy="490.9" r="2.6"/><circle cx="634.1" cy="490.7" r="2.6"/><circle cx="637.5" cy="490.6" r="2.6"/><circle cx="640.9" cy="490.5" r="2.6"/><circle cx="644.3" cy="490.5" r="2.6"/><circle cx="647.6" cy="490.6" r="2.6"/><circle cx="651.0" cy="490.9" r="2.6"/><circle cx="654.4" cy="491.2" r="2.6"/><circle cx="657.8" cy="491.6" r="2.6"/><circle cx="661.2" cy="492.2" r="2.6"/><circle cx="664.6" cy="493.2" r="2.6"/><circle cx="668.0" cy="494.5" r="2.6"/><circle cx="671.4" cy="495.9" r="2.6"/></g><g fill="url(#dg6)"><circle cx="393.4" cy="484.3" r="2.6"/><circle cx="396.8" cy="484.0" r="2.6"/><circle cx="400.2" cy="483.7" r="2.6"/><circle cx="403.6" cy="483.3" r="2.6"/><circle cx="407.0" cy="482.9" r="2.6"/><circle cx="410.3" cy="482.5" r="2.6"/><circle cx="413.7" cy="482.0" r="2.6"/><circle cx="417.1" cy="481.5" r="2.6"/><circle cx="420.5" cy="480.9" r="2.6"/><circle cx="423.9" cy="480.3" r="2.6"/><circle cx="427.3" cy="479.6" r="2.6"/><circle cx="430.7" cy="478.9" r="2.6"/><circle cx="434.1" cy="478.2" r="2.6"/><circle cx="437.5" cy="477.4" r="2.6"/><circle cx="440.9" cy="476.6" r="2.6"/><circle cx="444.2" cy="475.6" r="2.6"/><circle cx="447.6" cy="474.6" r="2.6"/><circle cx="451.0" cy="473.4" r="2.6"/><circle cx="454.4" cy="472.0" r="2.6"/><circle cx="457.8" cy="470.6" r="2.6"/><circle cx="461.2" cy="469.1" r="2.6"/><circle cx="464.6" cy="467.5" r="2.6"/><circle cx="468.0" cy="465.8" r="2.6"/><circle cx="471.4" cy="464.0" r="2.6"/><circle cx="474.8" cy="462.3" r="2.6"/><circle cx="478.1" cy="460.7" r="2.6"/><circle cx="481.5" cy="459.1" r="2.6"/><circle cx="484.9" cy="457.5" r="2.6"/><circle cx="488.3" cy="456.1" r="2.6"/><circle cx="491.7" cy="454.6" r="2.6"/><circle cx="495.1" cy="453.5" r="2.6"/><circle cx="498.5" cy="452.6" r="2.6"/><circle cx="501.9" cy="451.9" r="2.6"/><circle cx="505.3" cy="451.7" r="2.6"/><circle cx="508.7" cy="452.5" r="2.6"/><circle cx="512.0" cy="453.9" r="2.6"/><circle cx="515.4" cy="455.7" r="2.6"/><circle cx="518.8" cy="458.3" r="2.6"/><circle cx="522.2" cy="461.7" r="2.6"/><circle cx="525.6" cy="464.9" r="2.6"/><circle cx="529.0" cy="467.6" r="2.6"/><circle cx="532.4" cy="470.3" r="2.6"/><circle cx="535.8" cy="472.7" r="2.6"/><circle cx="539.2" cy="474.8" r="2.6"/><circle cx="542.6" cy="476.6" r="2.6"/><circle cx="546.0" cy="478.3" r="2.6"/><circle cx="549.3" cy="479.9" r="2.6"/><circle cx="552.7" cy="481.4" r="2.6"/><circle cx="556.1" cy="483.0" r="2.6"/><circle cx="559.5" cy="484.5" r="2.6"/><circle cx="562.9" cy="485.9" r="2.6"/><circle cx="566.3" cy="486.9" r="2.6"/><circle cx="569.7" cy="487.5" r="2.6"/><circle cx="573.1" cy="488.1" r="2.6"/><circle cx="576.5" cy="488.7" r="2.6"/><circle cx="579.9" cy="489.1" r="2.6"/><circle cx="583.2" cy="489.6" r="2.6"/><circle cx="586.6" cy="489.9" r="2.6"/><circle cx="590.0" cy="490.2" r="2.6"/><circle cx="593.4" cy="490.4" r="2.6"/><circle cx="596.8" cy="490.6" r="2.6"/><circle cx="600.2" cy="490.7" r="2.6"/><circle cx="603.6" cy="490.8" r="2.6"/><circle cx="607.0" cy="490.9" r="2.6"/><circle cx="610.4" cy="490.9" r="2.6"/><circle cx="613.8" cy="491.0" r="2.6"/><circle cx="617.1" cy="491.0" r="2.6"/><circle cx="620.5" cy="491.1" r="2.6"/><circle cx="623.9" cy="491.1" r="2.6"/><circle cx="627.3" cy="491.1" r="2.6"/><circle cx="630.7" cy="491.1" r="2.6"/><circle cx="634.1" cy="491.2" r="2.6"/><circle cx="637.5" cy="491.2" r="2.6"/><circle cx="640.9" cy="491.3" r="2.6"/><circle cx="644.3" cy="491.3" r="2.6"/><circle cx="647.6" cy="491.6" r="2.6"/><circle cx="651.0" cy="491.9" r="2.6"/><circle cx="654.4" cy="492.3" r="2.6"/><circle cx="657.8" cy="492.8" r="2.6"/><circle cx="661.2" cy="493.4" r="2.6"/><circle cx="664.6" cy="494.3" r="2.6"/><circle cx="668.0" cy="495.4" r="2.6"/><circle cx="671.4" cy="496.7" r="2.6"/></g><g fill="url(#dg7)"><circle cx="393.4" cy="484.1" r="2.6"/><circle cx="396.8" cy="483.6" r="2.6"/><circle cx="400.2" cy="483.1" r="2.6"/><circle cx="403.6" cy="482.6" r="2.6"/><circle cx="407.0" cy="482.1" r="2.6"/><circle cx="410.3" cy="481.6" r="2.6"/><circle cx="413.7" cy="481.1" r="2.6"/><circle cx="417.1" cy="480.6" r="2.6"/><circle cx="420.5" cy="480.1" r="2.6"/><circle cx="423.9" cy="479.7" r="2.6"/><circle cx="427.3" cy="479.2" r="2.6"/><circle cx="430.7" cy="478.7" r="2.6"/><circle cx="434.1" cy="478.3" r="2.6"/><circle cx="437.5" cy="477.8" r="2.6"/><circle cx="440.9" cy="477.3" r="2.6"/><circle cx="444.2" cy="476.8" r="2.6"/><circle cx="447.6" cy="476.3" r="2.6"/><circle cx="451.0" cy="475.8" r="2.6"/><circle cx="454.4" cy="475.3" r="2.6"/><circle cx="457.8" cy="474.7" r="2.6"/><circle cx="461.2" cy="474.2" r="2.6"/><circle cx="464.6" cy="473.5" r="2.6"/><circle cx="468.0" cy="472.9" r="2.6"/><circle cx="471.4" cy="472.1" r="2.6"/><circle cx="474.8" cy="471.1" r="2.6"/><circle cx="478.1" cy="470.1" r="2.6"/><circle cx="481.5" cy="469.1" r="2.6"/><circle cx="484.9" cy="468.1" r="2.6"/><circle cx="488.3" cy="467.0" r="2.6"/><circle cx="491.7" cy="466.0" r="2.6"/><circle cx="495.1" cy="465.1" r="2.6"/><circle cx="498.5" cy="464.2" r="2.6"/><circle cx="501.9" cy="463.3" r="2.6"/><circle cx="505.3" cy="462.7" r="2.6"/><circle cx="508.7" cy="462.4" r="2.6"/><circle cx="512.0" cy="462.6" r="2.6"/><circle cx="515.4" cy="463.2" r="2.6"/><circle cx="518.8" cy="464.0" r="2.6"/><circle cx="522.2" cy="465.0" r="2.6"/><circle cx="525.6" cy="466.1" r="2.6"/><circle cx="529.0" cy="467.7" r="2.6"/><circle cx="532.4" cy="469.6" r="2.6"/><circle cx="535.8" cy="471.5" r="2.6"/><circle cx="539.2" cy="473.2" r="2.6"/><circle cx="542.6" cy="475.0" r="2.6"/><circle cx="546.0" cy="476.7" r="2.6"/><circle cx="549.3" cy="478.4" r="2.6"/><circle cx="552.7" cy="480.0" r="2.6"/><circle cx="556.1" cy="481.6" r="2.6"/><circle cx="559.5" cy="483.1" r="2.6"/><circle cx="562.9" cy="484.4" r="2.6"/><circle cx="566.3" cy="485.5" r="2.6"/><circle cx="569.7" cy="486.2" r="2.6"/><circle cx="573.1" cy="486.9" r="2.6"/><circle cx="576.5" cy="487.5" r="2.6"/><circle cx="579.9" cy="488.1" r="2.6"/><circle cx="583.2" cy="488.6" r="2.6"/><circle cx="586.6" cy="489.0" r="2.6"/><circle cx="590.0" cy="489.4" r="2.6"/><circle cx="593.4" cy="489.7" r="2.6"/><circle cx="596.8" cy="489.9" r="2.6"/><circle cx="600.2" cy="490.1" r="2.6"/><circle cx="603.6" cy="490.2" r="2.6"/><circle cx="607.0" cy="490.3" r="2.6"/><circle cx="610.4" cy="490.4" r="2.6"/><circle cx="613.8" cy="490.5" r="2.6"/><circle cx="617.1" cy="490.5" r="2.6"/><circle cx="620.5" cy="490.6" r="2.6"/><circle cx="623.9" cy="490.6" r="2.6"/><circle cx="627.3" cy="490.6" r="2.6"/><circle cx="630.7" cy="490.7" r="2.6"/><circle cx="634.1" cy="490.7" r="2.6"/><circle cx="637.5" cy="490.7" r="2.6"/><circle cx="640.9" cy="490.8" r="2.6"/><circle cx="644.3" cy="490.8" r="2.6"/><circle cx="647.6" cy="491.1" r="2.6"/><circle cx="651.0" cy="491.4" r="2.6"/><circle cx="654.4" cy="491.9" r="2.6"/><circle cx="657.8" cy="492.4" r="2.6"/><circle cx="661.2" cy="493.1" r="2.6"/><circle cx="664.6" cy="493.9" r="2.6"/><circle cx="668.0" cy="495.0" r="2.6"/><circle cx="671.4" cy="496.2" r="2.6"/></g><g fill="url(#dg8)"><circle cx="393.4" cy="486.4" r="2.6"/><circle cx="396.8" cy="486.1" r="2.6"/><circle cx="400.2" cy="485.8" r="2.6"/><circle cx="403.6" cy="485.4" r="2.6"/><circle cx="407.0" cy="485.0" r="2.6"/><circle cx="410.3" cy="484.7" r="2.6"/><circle cx="413.7" cy="484.3" r="2.6"/><circle cx="417.1" cy="484.0" r="2.6"/><circle cx="420.5" cy="483.6" r="2.6"/><circle cx="423.9" cy="483.2" r="2.6"/><circle cx="427.3" cy="482.8" r="2.6"/><circle cx="430.7" cy="482.4" r="2.6"/><circle cx="434.1" cy="482.0" r="2.6"/><circle cx="437.5" cy="481.7" r="2.6"/><circle cx="440.9" cy="481.3" r="2.6"/><circle cx="444.2" cy="480.9" r="2.6"/><circle cx="447.6" cy="480.6" r="2.6"/><circle cx="451.0" cy="480.1" r="2.6"/><circle cx="454.4" cy="479.7" r="2.6"/><circle cx="457.8" cy="479.2" r="2.6"/><circle cx="461.2" cy="478.7" r="2.6"/><circle cx="464.6" cy="477.9" r="2.6"/><circle cx="468.0" cy="477.0" r="2.6"/><circle cx="471.4" cy="476.0" r="2.6"/><circle cx="474.8" cy="475.0" r="2.6"/><circle cx="478.1" cy="474.2" r="2.6"/><circle cx="481.5" cy="473.7" r="2.6"/><circle cx="484.9" cy="473.3" r="2.6"/><circle cx="488.3" cy="473.0" r="2.6"/><circle cx="491.7" cy="472.7" r="2.6"/><circle cx="495.1" cy="472.4" r="2.6"/><circle cx="498.5" cy="472.2" r="2.6"/><circle cx="501.9" cy="471.9" r="2.6"/><circle cx="505.3" cy="471.6" r="2.6"/><circle cx="508.7" cy="471.3" r="2.6"/><circle cx="512.0" cy="471.1" r="2.6"/><circle cx="515.4" cy="471.0" r="2.6"/><circle cx="518.8" cy="471.0" r="2.6"/><circle cx="522.2" cy="471.4" r="2.6"/><circle cx="525.6" cy="472.1" r="2.6"/><circle cx="529.0" cy="473.0" r="2.6"/><circle cx="532.4" cy="473.9" r="2.6"/><circle cx="535.8" cy="474.9" r="2.6"/><circle cx="539.2" cy="475.8" r="2.6"/><circle cx="542.6" cy="476.8" r="2.6"/><circle cx="546.0" cy="477.8" r="2.6"/><circle cx="549.3" cy="478.9" r="2.6"/><circle cx="552.7" cy="480.1" r="2.6"/><circle cx="556.1" cy="481.2" r="2.6"/><circle cx="559.5" cy="482.2" r="2.6"/><circle cx="562.9" cy="483.2" r="2.6"/><circle cx="566.3" cy="484.0" r="2.6"/><circle cx="569.7" cy="484.6" r="2.6"/><circle cx="573.1" cy="485.2" r="2.6"/><circle cx="576.5" cy="485.8" r="2.6"/><circle cx="579.9" cy="486.3" r="2.6"/><circle cx="583.2" cy="486.8" r="2.6"/><circle cx="586.6" cy="487.3" r="2.6"/><circle cx="590.0" cy="487.7" r="2.6"/><circle cx="593.4" cy="488.2" r="2.6"/><circle cx="596.8" cy="488.6" r="2.6"/><circle cx="600.2" cy="488.9" r="2.6"/><circle cx="603.6" cy="489.3" r="2.6"/><circle cx="607.0" cy="489.6" r="2.6"/><circle cx="610.4" cy="489.9" r="2.6"/><circle cx="613.8" cy="490.3" r="2.6"/><circle cx="617.1" cy="490.7" r="2.6"/><circle cx="620.5" cy="491.1" r="2.6"/><circle cx="623.9" cy="491.5" r="2.6"/><circle cx="627.3" cy="491.9" r="2.6"/><circle cx="630.7" cy="492.3" r="2.6"/><circle cx="634.1" cy="492.7" r="2.6"/><circle cx="637.5" cy="493.2" r="2.6"/><circle cx="640.9" cy="493.7" r="2.6"/><circle cx="644.3" cy="494.3" r="2.6"/><circle cx="647.6" cy="494.9" r="2.6"/><circle cx="651.0" cy="495.7" r="2.6"/><circle cx="654.4" cy="496.6" r="2.6"/><circle cx="657.8" cy="497.7" r="2.6"/><circle cx="661.2" cy="499.1" r="2.6"/><circle cx="664.6" cy="500.8" r="2.6"/><circle cx="668.0" cy="502.7" r="2.6"/><circle cx="671.4" cy="505.0" r="2.6"/></g><g fill="url(#dg9)"><circle cx="393.4" cy="488.4" r="2.6"/><circle cx="396.8" cy="488.7" r="2.6"/><circle cx="400.2" cy="489.0" r="2.6"/><circle cx="403.6" cy="489.4" r="2.6"/><circle cx="407.0" cy="489.8" r="2.6"/><circle cx="410.3" cy="490.0" r="2.6"/><circle cx="413.7" cy="489.1" r="2.6"/><circle cx="417.1" cy="487.8" r="2.6"/><circle cx="420.5" cy="486.8" r="2.6"/><circle cx="423.9" cy="486.0" r="2.6"/><circle cx="427.3" cy="485.2" r="2.6"/><circle cx="430.7" cy="484.6" r="2.6"/><circle cx="434.1" cy="484.2" r="2.6"/><circle cx="437.5" cy="483.9" r="2.6"/><circle cx="440.9" cy="483.7" r="2.6"/><circle cx="444.2" cy="483.5" r="2.6"/><circle cx="447.6" cy="483.3" r="2.6"/><circle cx="451.0" cy="483.1" r="2.6"/><circle cx="454.4" cy="482.8" r="2.6"/><circle cx="457.8" cy="482.6" r="2.6"/><circle cx="461.2" cy="482.3" r="2.6"/><circle cx="464.6" cy="481.8" r="2.6"/><circle cx="468.0" cy="481.2" r="2.6"/><circle cx="471.4" cy="480.6" r="2.6"/><circle cx="474.8" cy="480.1" r="2.6"/><circle cx="478.1" cy="479.8" r="2.6"/><circle cx="481.5" cy="479.7" r="2.6"/><circle cx="484.9" cy="479.8" r="2.6"/><circle cx="488.3" cy="480.0" r="2.6"/><circle cx="491.7" cy="480.2" r="2.6"/><circle cx="495.1" cy="480.5" r="2.6"/><circle cx="498.5" cy="480.7" r="2.6"/><circle cx="501.9" cy="480.9" r="2.6"/><circle cx="505.3" cy="481.0" r="2.6"/><circle cx="508.7" cy="481.1" r="2.6"/><circle cx="512.0" cy="481.1" r="2.6"/><circle cx="515.4" cy="481.1" r="2.6"/><circle cx="518.8" cy="481.1" r="2.6"/><circle cx="522.2" cy="481.1" r="2.6"/><circle cx="525.6" cy="481.1" r="2.6"/><circle cx="529.0" cy="481.1" r="2.6"/><circle cx="532.4" cy="481.1" r="2.6"/><circle cx="535.8" cy="481.1" r="2.6"/><circle cx="539.2" cy="481.1" r="2.6"/><circle cx="542.6" cy="481.4" r="2.6"/><circle cx="546.0" cy="481.8" r="2.6"/><circle cx="549.3" cy="482.3" r="2.6"/><circle cx="552.7" cy="483.0" r="2.6"/><circle cx="556.1" cy="483.7" r="2.6"/><circle cx="559.5" cy="484.4" r="2.6"/><circle cx="562.9" cy="485.0" r="2.6"/><circle cx="566.3" cy="485.5" r="2.6"/><circle cx="569.7" cy="485.9" r="2.6"/><circle cx="573.1" cy="486.2" r="2.6"/><circle cx="576.5" cy="486.5" r="2.6"/><circle cx="579.9" cy="486.9" r="2.6"/><circle cx="583.2" cy="487.2" r="2.6"/><circle cx="586.6" cy="487.5" r="2.6"/><circle cx="590.0" cy="487.8" r="2.6"/><circle cx="593.4" cy="488.2" r="2.6"/><circle cx="596.8" cy="488.6" r="2.6"/><circle cx="600.2" cy="489.0" r="2.6"/><circle cx="603.6" cy="489.5" r="2.6"/><circle cx="607.0" cy="489.9" r="2.6"/><circle cx="610.4" cy="490.4" r="2.6"/><circle cx="613.8" cy="491.0" r="2.6"/><circle cx="617.1" cy="491.5" r="2.6"/><circle cx="620.5" cy="492.1" r="2.6"/><circle cx="623.9" cy="492.6" r="2.6"/><circle cx="627.3" cy="493.2" r="2.6"/><circle cx="630.7" cy="493.8" r="2.6"/><circle cx="634.1" cy="494.5" r="2.6"/><circle cx="637.5" cy="495.1" r="2.6"/><circle cx="640.9" cy="495.9" r="2.6"/><circle cx="644.3" cy="496.7" r="2.6"/><circle cx="647.6" cy="497.5" r="2.6"/><circle cx="651.0" cy="498.5" r="2.6"/><circle cx="654.4" cy="499.6" r="2.6"/><circle cx="657.8" cy="500.8" r="2.6"/><circle cx="661.2" cy="502.4" r="2.6"/><circle cx="664.6" cy="504.2" r="2.6"/><circle cx="668.0" cy="506.4" r="2.6"/><circle cx="671.4" cy="508.9" r="2.6"/></g><rect x="390.7" y="291.2" width="283.59999999999997" height="227.59999999999997" fill="none" stroke="#111" stroke-width="1.4"/><line x1="410.88" y1="518.80" x2="410.88" y2="516.30" stroke="#111" stroke-width="1.1" /><line x1="431.06" y1="518.80" x2="431.06" y2="514.80" stroke="#111" stroke-width="1.1" /><line x1="451.24" y1="518.80" x2="451.24" y2="516.30" stroke="#111" stroke-width="1.1" /><line x1="471.42" y1="518.80" x2="471.42" y2="514.80" stroke="#111" stroke-width="1.1" /><line x1="491.60" y1="518.80" x2="491.60" y2="516.30" stroke="#111" stroke-width="1.1" /><line x1="511.78" y1="518.80" x2="511.78" y2="514.80" stroke="#111" stroke-width="1.1" /><line x1="531.96" y1="518.80" x2="531.96" y2="516.30" stroke="#111" stroke-width="1.1" /><line x1="552.14" y1="518.80" x2="552.14" y2="514.80" stroke="#111" stroke-width="1.1" /><line x1="572.32" y1="518.80" x2="572.32" y2="516.30" stroke="#111" stroke-width="1.1" /><line x1="592.50" y1="518.80" x2="592.50" y2="514.80" stroke="#111" stroke-width="1.1" /><line x1="612.68" y1="518.80" x2="612.68" y2="516.30" stroke="#111" stroke-width="1.1" /><line x1="632.86" y1="518.80" x2="632.86" y2="514.80" stroke="#111" stroke-width="1.1" /><line x1="653.04" y1="518.80" x2="653.04" y2="516.30" stroke="#111" stroke-width="1.1" /><text x="390.7" y="534.0" font-size="12.6" font-weight="bold" text-anchor="middle" fill="#111" >−2</text><text x="431.1" y="534.0" font-size="12.6" font-weight="bold" text-anchor="middle" fill="#111" >−1</text><text x="471.4" y="534.0" font-size="12.6" font-weight="bold" text-anchor="middle" fill="#111" >0</text><text x="511.8" y="534.0" font-size="12.6" font-weight="bold" text-anchor="middle" fill="#111" >1</text><text x="552.1" y="534.0" font-size="12.6" font-weight="bold" text-anchor="middle" fill="#111" >2</text><text x="592.5" y="534.0" font-size="12.6" font-weight="bold" text-anchor="middle" fill="#111" >3</text><text x="632.9" y="534.0" font-size="12.6" font-weight="bold" text-anchor="middle" fill="#111" >4</text><text x="673.2" y="534.0" font-size="12.6" font-weight="bold" text-anchor="middle" fill="#111" >5</text><line x1="390.70" y1="510.10" x2="393.20" y2="510.10" stroke="#111" stroke-width="1.1" /><line x1="390.70" y1="494.40" x2="394.70" y2="494.40" stroke="#111" stroke-width="1.1" /><text x="385.2" y="498.8" font-size="12.6" font-weight="bold" text-anchor="end" fill="#111" >0</text><line x1="390.70" y1="478.70" x2="393.20" y2="478.70" stroke="#111" stroke-width="1.1" /><line x1="390.70" y1="463.00" x2="394.70" y2="463.00" stroke="#111" stroke-width="1.1" /><text x="385.2" y="467.4" font-size="12.6" font-weight="bold" text-anchor="end" fill="#111" >20</text><line x1="390.70" y1="447.30" x2="393.20" y2="447.30" stroke="#111" stroke-width="1.1" /><line x1="390.70" y1="431.60" x2="394.70" y2="431.60" stroke="#111" stroke-width="1.1" /><text x="385.2" y="436.0" font-size="12.6" font-weight="bold" text-anchor="end" fill="#111" >40</text><line x1="390.70" y1="415.90" x2="393.20" y2="415.90" stroke="#111" stroke-width="1.1" /><line x1="390.70" y1="400.20" x2="394.70" y2="400.20" stroke="#111" stroke-width="1.1" /><text x="385.2" y="404.6" font-size="12.6" font-weight="bold" text-anchor="end" fill="#111" >60</text><line x1="390.70" y1="384.50" x2="393.20" y2="384.50" stroke="#111" stroke-width="1.1" /><line x1="390.70" y1="368.80" x2="394.70" y2="368.80" stroke="#111" stroke-width="1.1" /><text x="385.2" y="373.2" font-size="12.6" font-weight="bold" text-anchor="end" fill="#111" >80</text><line x1="390.70" y1="353.10" x2="393.20" y2="353.10" stroke="#111" stroke-width="1.1" /><line x1="390.70" y1="337.40" x2="394.70" y2="337.40" stroke="#111" stroke-width="1.1" /><text x="385.2" y="341.8" font-size="12.6" font-weight="bold" text-anchor="end" fill="#111" >100</text><line x1="390.70" y1="321.70" x2="393.20" y2="321.70" stroke="#111" stroke-width="1.1" /><line x1="390.70" y1="306.00" x2="394.70" y2="306.00" stroke="#111" stroke-width="1.1" /><text x="385.2" y="310.4" font-size="12.6" font-weight="bold" text-anchor="end" fill="#111" >120</text><line x1="390.70" y1="290.30" x2="393.20" y2="290.30" stroke="#111" stroke-width="1.1" /><text x="411.5" y="309.5" font-size="11.8" font-weight="bold" text-anchor="start" fill="#111" >A-NiCoMn-TAC/LDH-Urea</text><text x="361.5" y="289.6" font-size="18" font-weight="bold" text-anchor="start" fill="#111" >e</text><text x="0" y="0" font-size="12.4" font-weight="bold" fill="#111" text-anchor="middle" transform="translate(361.3,404.6) rotate(-90)">-Phase (deg)</text><text x="477.5" y="550.5" font-size="12.5" font-weight="bold" fill="#111"><tspan font-family="Liberation Serif, serif">Log</tspan><tspan font-size="12.9"> (Freqency/Hz)</tspan></text><circle cx="615.7" cy="304.3" r="2.85" fill="url(#lg0)"/><text x="632.5" y="308.4" font-size="11.5" font-weight="bold" text-anchor="start" fill="#111" >1.10 V</text><circle cx="615.7" cy="319.2" r="2.85" fill="url(#lg1)"/><text x="632.5" y="323.3" font-size="11.5" font-weight="bold" text-anchor="start" fill="#111" >1.15 V</text><circle cx="615.7" cy="334.1" r="2.85" fill="url(#lg2)"/><text x="632.5" y="338.2" font-size="11.5" font-weight="bold" text-anchor="start" fill="#111" >1.20 V</text><circle cx="615.7" cy="349.0" r="2.85" fill="url(#lg3)"/><text x="632.5" y="353.1" font-size="11.5" font-weight="bold" text-anchor="start" fill="#111" >1.25 V</text><circle cx="615.7" cy="363.9" r="2.85" fill="url(#lg4)"/><text x="632.5" y="368.0" font-size="11.5" font-weight="bold" text-anchor="start" fill="#111" >1.30 V</text><circle cx="615.7" cy="378.8" r="2.85" fill="url(#lg5)"/><text x="632.5" y="382.9" font-size="11.5" font-weight="bold" text-anchor="start" fill="#111" >1.35 V</text><circle cx="615.7" cy="393.7" r="2.85" fill="url(#lg6)"/><text x="632.5" y="397.8" font-size="11.5" font-weight="bold" text-anchor="start" fill="#111" >1.40V</text><circle cx="615.7" cy="408.6" r="2.85" fill="url(#lg7)"/><text x="632.5" y="412.7" font-size="11.5" font-weight="bold" text-anchor="start" fill="#111" >1.45 V</text><circle cx="615.7" cy="423.5" r="2.85" fill="url(#lg8)"/><text x="632.5" y="427.6" font-size="11.5" font-weight="bold" text-anchor="start" fill="#111" >1.50 V</text><circle cx="615.7" cy="438.4" r="2.85" fill="url(#lg9)"/><text x="632.5" y="442.5" font-size="11.5" font-weight="bold" text-anchor="start" fill="#111" >1.55 V</text><polyline points="390.5,44.6 390.8,43.9 391.2,43.7 391.5,42.7 391.8,43.5 392.1,43.5 392.5,43.6 392.8,43.4 393.1,43.7 393.5,43.4 393.8,43.0 394.1,44.1 394.5,44.1 394.8,44.5 395.1,43.7 395.4,43.4 395.8,43.4 396.1,42.8 396.4,44.1 396.8,43.0 397.1,43.0 397.4,43.5 397.8,44.4 398.1,43.7 398.4,43.0 398.7,43.2 399.1,43.9 399.4,43.5 399.7,43.1 400.1,43.4 400.4,43.9 400.7,44.5 401.1,42.9 401.4,43.2 401.7,43.1 402.0,42.2 402.4,43.0 402.7,42.9 403.0,44.0 403.4,43.4 403.7,42.6 404.0,43.7 404.4,43.2 404.7,42.5 405.0,43.1 405.3,43.1 405.7,42.9 406.0,43.4 406.3,42.2 406.7,43.2 407.0,43.8 407.3,43.7 407.7,43.8 408.0,43.8 408.3,44.0 408.6,42.6 409.0,43.6 409.3,42.2 409.6,42.9 410.0,42.2 410.3,43.7 410.6,43.8 411.0,43.0 411.3,44.0 411.6,42.7 411.9,43.1 412.3,43.1 412.6,42.4 412.9,43.2 413.3,43.9 413.6,42.3 413.9,43.3 414.3,42.7 414.6,43.7 414.9,43.0 415.2,43.1 415.6,43.0 415.9,42.8 416.2,41.9 416.6,43.3 416.9,41.8 417.2,42.6 417.6,42.8 417.9,42.0 418.2,42.5 418.5,43.0 418.9,42.3 419.2,41.8 419.5,40.7 419.9,41.7 420.2,41.8 420.5,41.8 420.9,41.6 421.2,42.2 421.5,41.7 421.8,41.9 422.2,42.3 422.5,41.4 422.8,41.7 423.2,42.9 423.5,42.2 423.8,41.0 424.2,41.6 424.5,41.9 424.8,42.2 425.1,41.6 425.5,41.2 425.8,41.0 426.1,41.7 426.5,41.5 426.8,41.0 427.1,41.1 427.5,40.9 427.8,41.5 428.1,40.7 428.4,41.2 428.8,41.3 429.1,41.1 429.4,40.3 429.8,41.4 430.1,40.2 430.4,40.7 430.8,40.0 431.1,39.4 431.4,40.4 431.7,40.3 432.1,40.0 432.4,40.1 432.7,39.6 433.1,39.4 433.4,39.6 433.7,40.5 434.1,39.9 434.4,39.2 434.7,39.6 435.0,39.0 435.4,39.0 435.7,39.4 436.0,38.8 436.4,38.3 436.7,38.5 437.0,38.7 437.4,38.7 437.7,38.9 438.0,38.2 438.3,38.6 438.7,38.4 439.0,38.2 439.3,38.4 439.7,38.2 440.0,37.9 440.3,38.2 440.7,37.7 441.0,37.9 441.3,37.8 441.6,37.9 442.0,37.6 442.3,37.7 442.6,37.6 443.0,37.9 443.3,37.5 443.6,37.6 444.0,37.5 444.3,37.3 444.6,38.2 444.9,37.6 445.3,37.3 445.6,38.0 445.9,37.4 446.3,37.8 446.6,37.9 446.9,37.6 447.3,37.7 447.6,37.8 447.9,37.9 448.2,37.6 448.6,37.8 448.9,38.1 449.2,38.4 449.6,38.4 449.9,38.7 450.2,38.6 450.6,38.4 450.9,38.6 451.2,38.3 451.5,38.6 451.9,38.7 452.2,39.1 452.5,39.3 452.9,39.1 453.2,39.2 453.5,39.1 453.9,39.5 454.2,39.7 454.5,39.8 454.8,39.7 455.2,40.4 455.5,40.3 455.8,40.1 456.2,40.2 456.5,40.3 456.8,40.5 457.2,40.6 457.5,40.8 457.8,40.9 458.1,41.2 458.5,41.2 458.8,41.0 459.1,41.2 459.5,41.2 459.8,41.2 460.1,41.8 460.5,41.4 460.8,42.0 461.1,41.6 461.4,41.8 461.8,42.1 462.1,42.0 462.4,42.2 462.8,42.1 463.1,42.2 463.4,42.4 463.8,42.4 464.1,43.0 464.4,42.7 464.7,43.2 465.1,42.3 465.4,43.0 465.7,43.2 466.1,43.1 466.4,43.5 466.7,43.5 467.1,43.4 467.4,43.6 467.7,44.2 468.0,43.6 468.4,43.7 468.7,43.6 469.0,43.7 469.4,43.4 469.7,43.7 470.0,44.2 470.4,43.9 470.7,43.8 471.0,43.9 471.3,44.1 471.7,43.8 472.0,44.1 472.3,43.9 472.7,43.7 473.0,44.0 473.3,43.1 473.7,43.5 474.0,43.7 474.3,43.4 474.6,43.6 475.0,43.5 475.3,43.4 475.6,44.2 476.0,43.7 476.3,43.5 476.6,43.8 477.0,43.5 477.3,43.7 477.6,43.6 477.9,43.9 478.3,43.2 478.6,43.6 478.9,43.5 479.3,43.2 479.6,43.7 479.9,43.2 480.3,43.8 480.6,43.5 480.9,43.5 481.2,43.4 481.6,43.5 481.9,42.9 482.2,43.3 482.6,43.2 482.9,43.4 483.2,43.3 483.6,43.4 483.9,43.1 484.2,43.7 484.5,43.7 484.9,43.2 485.2,43.2 485.5,43.3 485.9,43.5 486.2,43.6 486.5,42.9 486.9,43.0 487.2,42.9 487.5,42.8 487.8,42.7 488.2,43.1 488.5,42.8 488.8,43.3 489.2,43.2 489.5,42.8 489.8,42.7 490.2,42.8 490.5,43.2 490.8,42.7 491.1,42.6 491.5,42.9 491.8,42.9 492.1,42.7 492.5,43.2 492.8,42.8 493.1,42.9 493.5,42.6 493.8,42.7 494.1,42.7 494.4,42.2 494.8,42.8 495.1,42.3 495.4,42.7 495.8,42.3 496.1,43.1 496.4,42.7 496.8,42.8 497.1,42.8 497.4,42.3 497.7,42.1 498.1,42.5 498.4,42.8 498.7,42.6 499.1,42.7 499.4,42.7 499.7,42.2 500.1,42.6 500.4,42.9 500.7,42.4 501.0,42.1 501.4,42.5 501.7,42.4 502.0,42.6 502.4,42.3 502.7,42.5 503.0,42.0 503.4,42.7 503.7,42.8 504.0,42.8 504.3,42.2 504.7,42.6 505.0,41.8 505.3,42.6 505.7,42.5 506.0,42.3 506.3,42.6 506.7,42.5 507.0,42.7 507.3,42.5 507.6,42.6 508.0,42.1 508.3,42.2 508.6,42.4 509.0,42.6 509.3,42.5 509.6,42.8 510.0,42.3 510.3,42.4 510.6,42.6 510.9,42.4 511.3,42.6 511.6,42.4 511.9,42.8 512.3,42.4 512.6,42.7 512.9,42.5 513.3,42.8 513.6,42.2 513.9,42.6" fill="none" stroke="#505050" stroke-width="1.4" stroke-linejoin="round" /><polyline points="390.5,63.9 390.8,64.3 391.2,65.0 391.5,63.3 391.8,63.2 392.1,64.4 392.5,64.3 392.8,62.7 393.1,62.3 393.5,63.1 393.8,63.2 394.1,65.1 394.5,64.3 394.8,63.5 395.1,63.6 395.4,65.7 395.8,63.7 396.1,62.0 396.4,63.6 396.8,63.0 397.1,65.9 397.4,65.3 397.8,64.3 398.1,63.9 398.4,63.1 398.7,63.8 399.1,64.3 399.4,64.6 399.7,63.1 400.1,63.8 400.4,65.5 400.7,65.0 401.1,63.8 401.4,63.2 401.7,63.1 402.0,63.3 402.4,63.1 402.7,64.1 403.0,64.3 403.4,64.0 403.7,65.8 404.0,63.1 404.4,63.7 404.7,63.1 405.0,63.4 405.3,66.1 405.7,63.3 406.0,61.9 406.3,63.1 406.7,63.6 407.0,62.7 407.3,62.6 407.7,63.8 408.0,65.5 408.3,62.8 408.6,62.7 409.0,63.9 409.3,62.2 409.6,63.0 410.0,62.9 410.3,62.1 410.6,59.9 411.0,62.6 411.3,63.6 411.6,63.8 411.9,64.1 412.3,62.5 412.6,64.1 412.9,63.2 413.3,62.8 413.6,63.2 413.9,62.4 414.3,63.0 414.6,62.5 414.9,64.6 415.2,62.7 415.6,63.5 415.9,63.2 416.2,62.6 416.6,62.1 416.9,63.3 417.2,62.1 417.6,61.9 417.9,61.9 418.2,61.2 418.5,63.0 418.9,63.5 419.2,61.5 419.5,62.1 419.9,61.3 420.2,59.7 420.5,64.0 420.9,62.6 421.2,61.5 421.5,61.9 421.8,61.3 422.2,61.2 422.5,61.1 422.8,61.1 423.2,61.9 423.5,62.1 423.8,61.9 424.2,62.4 424.5,61.4 424.8,62.9 425.1,62.7 425.5,62.0 425.8,62.3 426.1,61.8 426.5,61.9 426.8,59.9 427.1,62.8 427.5,61.9 427.8,60.0 428.1,61.0 428.4,61.6 428.8,60.1 429.1,63.1 429.4,60.3 429.8,59.9 430.1,61.1 430.4,60.4 430.8,59.8 431.1,60.4 431.4,59.1 431.7,60.6 432.1,59.4 432.4,59.7 432.7,59.3 433.1,59.5 433.4,59.5 433.7,58.9 434.1,59.2 434.4,58.8 434.7,58.6 435.0,58.6 435.4,58.3 435.7,58.3 436.0,58.5 436.4,58.2 436.7,58.4 437.0,58.1 437.4,57.7 437.7,57.4 438.0,57.5 438.3,57.7 438.7,57.5 439.0,57.2 439.3,57.5 439.7,56.9 440.0,56.9 440.3,57.1 440.7,57.5 441.0,57.0 441.3,56.7 441.6,57.0 442.0,56.9 442.3,56.9 442.6,56.6 443.0,56.5 443.3,56.7 443.6,56.7 444.0,57.0 444.3,57.1 444.6,56.4 444.9,56.5 445.3,56.6 445.6,56.6 445.9,56.8 446.3,56.8 446.6,56.8 446.9,57.0 447.3,56.8 447.6,56.6 447.9,56.5 448.2,56.7 448.6,56.7 448.9,56.6 449.2,57.2 449.6,57.2 449.9,57.1 450.2,57.1 450.6,57.0 450.9,57.2 451.2,57.9 451.5,57.1 451.9,57.7 452.2,57.9 452.5,57.8 452.9,57.8 453.2,58.1 453.5,57.8 453.9,58.2 454.2,58.5 454.5,58.0 454.8,58.2 455.2,58.5 455.5,58.7 455.8,58.9 456.2,58.8 456.5,58.6 456.8,58.6 457.2,58.9 457.5,59.0 457.8,58.8 458.1,59.1 458.5,59.2 458.8,59.4 459.1,59.0 459.5,59.4 459.8,59.1 460.1,59.3 460.5,59.4 460.8,59.8 461.1,60.3 461.4,59.6 461.8,59.7 462.1,59.9 462.4,59.4 462.8,60.0 463.1,59.6 463.4,60.2 463.8,60.3 464.1,60.1 464.4,59.9 464.7,60.5 465.1,60.2 465.4,60.2 465.7,60.4 466.1,59.9 466.4,60.4 466.7,60.6 467.1,60.5 467.4,60.5 467.7,60.3 468.0,60.7 468.4,60.7 468.7,60.7 469.0,60.6 469.4,60.9 469.7,61.1 470.0,60.9 470.4,61.1 470.7,61.2 471.0,61.3 471.3,61.0 471.7,61.0 472.0,60.9 472.3,61.1 472.7,61.2 473.0,61.3 473.3,61.1 473.7,61.2 474.0,61.0 474.3,61.5 474.6,61.1 475.0,61.3 475.3,61.1 475.6,61.2 476.0,61.1 476.3,61.7 476.6,61.4 477.0,61.3 477.3,61.1 477.6,61.2 477.9,61.4 478.3,61.7 478.6,61.0 478.9,61.1 479.3,61.2 479.6,61.1 479.9,60.8 480.3,61.2 480.6,61.3 480.9,60.8 481.2,61.2 481.6,61.3 481.9,61.3 482.2,60.9 482.6,61.5 482.9,61.1 483.2,60.7 483.6,61.1 483.9,60.6 484.2,61.0 484.5,60.5 484.9,60.9 485.2,60.6 485.5,60.9 485.9,60.8 486.2,60.7 486.5,60.5 486.9,60.7 487.2,60.1 487.5,60.5 487.8,60.5 488.2,60.5 488.5,60.5 488.8,61.1 489.2,60.3 489.5,60.4 489.8,60.2 490.2,60.5 490.5,59.7 490.8,60.5 491.1,59.9 491.5,59.6 491.8,59.8 492.1,60.0 492.5,60.0 492.8,60.0 493.1,60.1 493.5,59.9 493.8,59.9 494.1,59.5 494.4,60.0 494.8,60.1 495.1,59.8 495.4,59.5 495.8,59.6 496.1,60.2 496.4,59.7 496.8,59.7 497.1,59.6 497.4,59.9 497.7,59.7 498.1,59.6 498.4,59.4 498.7,59.7 499.1,60.0 499.4,59.7 499.7,59.9 500.1,59.7 500.4,59.7 500.7,59.7 501.0,59.7 501.4,59.9 501.7,59.7 502.0,59.5 502.4,59.6 502.7,59.6 503.0,59.7 503.4,59.6 503.7,59.7 504.0,59.2 504.3,59.6 504.7,59.8 505.0,59.2 505.3,59.9 505.7,59.6 506.0,59.5 506.3,59.1 506.7,59.7 507.0,59.3 507.3,59.4 507.6,59.6 508.0,59.2 508.3,59.2 508.6,59.2 509.0,59.4 509.3,59.6 509.6,59.5 510.0,59.5 510.3,59.4 510.6,59.5 510.9,59.3 511.3,59.9 511.6,59.5 511.9,59.0 512.3,59.2 512.6,59.8 512.9,59.1 513.3,59.3 513.6,59.5 513.9,59.2" fill="none" stroke="#e8383c" stroke-width="1.4" stroke-linejoin="round" /><polyline points="390.5,84.2 390.8,84.6 391.2,82.8 391.5,84.1 391.8,82.7 392.1,82.5 392.5,83.4 392.8,83.4 393.1,82.7 393.5,83.7 393.8,82.8 394.1,83.9 394.5,82.2 394.8,83.5 395.1,85.4 395.4,83.4 395.8,81.9 396.1,82.9 396.4,83.1 396.8,79.6 397.1,82.1 397.4,83.7 397.8,83.2 398.1,82.8 398.4,83.0 398.7,82.8 399.1,82.6 399.4,82.4 399.7,81.0 400.1,82.2 400.4,82.1 400.7,84.0 401.1,82.5 401.4,82.2 401.7,82.0 402.0,82.1 402.4,81.9 402.7,82.5 403.0,82.0 403.4,82.6 403.7,81.5 404.0,81.4 404.4,82.5 404.7,81.0 405.0,81.9 405.3,82.0 405.7,82.1 406.0,81.4 406.3,80.3 406.7,82.5 407.0,80.9 407.3,80.7 407.7,82.0 408.0,78.3 408.3,81.5 408.6,81.7 409.0,81.8 409.3,82.3 409.6,80.4 410.0,79.9 410.3,82.3 410.6,80.8 411.0,80.8 411.3,83.5 411.6,78.9 411.9,80.9 412.3,81.4 412.6,80.9 412.9,80.2 413.3,80.5 413.6,81.8 413.9,82.0 414.3,78.6 414.6,79.3 414.9,80.9 415.2,80.6 415.6,80.4 415.9,82.8 416.2,79.3 416.6,82.3 416.9,78.5 417.2,80.8 417.6,80.6 417.9,81.0 418.2,80.1 418.5,79.9 418.9,82.4 419.2,80.3 419.5,79.3 419.9,79.8 420.2,81.5 420.5,79.5 420.9,80.1 421.2,80.2 421.5,79.6 421.8,79.2 422.2,78.2 422.5,79.9 422.8,79.3 423.2,81.0 423.5,78.5 423.8,79.7 424.2,79.1 424.5,80.4 424.8,81.3 425.1,78.3 425.5,80.1 425.8,78.9 426.1,78.5 426.5,79.8 426.8,79.5 427.1,79.6 427.5,78.7 427.8,80.2 428.1,78.5 428.4,79.9 428.8,78.7 429.1,78.8 429.4,78.9 429.8,78.2 430.1,78.7 430.4,78.9 430.8,78.1 431.1,78.0 431.4,77.7 431.7,78.1 432.1,78.2 432.4,78.1 432.7,78.0 433.1,78.1 433.4,77.7 433.7,77.8 434.1,77.3 434.4,77.2 434.7,77.4 435.0,77.1 435.4,77.3 435.7,77.4 436.0,77.1 436.4,76.8 436.7,76.7 437.0,77.1 437.4,76.6 437.7,76.7 438.0,76.6 438.3,76.6 438.7,76.7 439.0,76.3 439.3,76.1 439.7,76.7 440.0,76.3 440.3,76.4 440.7,76.2 441.0,76.4 441.3,76.4 441.6,76.4 442.0,76.1 442.3,76.0 442.6,76.2 443.0,76.1 443.3,76.2 443.6,76.0 444.0,75.6 444.3,76.3 444.6,76.4 444.9,76.4 445.3,76.6 445.6,76.5 445.9,76.3 446.3,76.7 446.6,76.5 446.9,76.9 447.3,76.7 447.6,76.9 447.9,76.9 448.2,76.9 448.6,76.7 448.9,77.1 449.2,76.7 449.6,77.5 449.9,77.7 450.2,78.0 450.6,77.8 450.9,77.6 451.2,77.6 451.5,78.5 451.9,77.9 452.2,78.5 452.5,77.9 452.9,78.5 453.2,78.8 453.5,78.9 453.9,78.9 454.2,78.9 454.5,79.0 454.8,79.6 455.2,79.6 455.5,79.6 455.8,79.8 456.2,79.7 456.5,80.2 456.8,80.4 457.2,80.1 457.5,80.4 457.8,80.7 458.1,80.4 458.5,81.1 458.8,81.1 459.1,80.9 459.5,81.2 459.8,81.5 460.1,80.9 460.5,81.4 460.8,81.4 461.1,81.5 461.4,81.8 461.8,81.6 462.1,81.5 462.4,81.6 462.8,82.0 463.1,82.3 463.4,82.3 463.8,82.3 464.1,82.5 464.4,82.9 464.7,82.8 465.1,82.7 465.4,82.9 465.7,83.3 466.1,83.1 466.4,83.2 466.7,83.4 467.1,83.3 467.4,83.8 467.7,83.3 468.0,84.2 468.4,83.9 468.7,83.8 469.0,84.2 469.4,83.9 469.7,84.5 470.0,84.6 470.4,84.4 470.7,84.6 471.0,84.9 471.3,84.7 471.7,84.9 472.0,85.0 472.3,85.4 472.7,85.0 473.0,85.2 473.3,85.5 473.7,84.7 474.0,85.2 474.3,84.9 474.6,84.9 475.0,85.8 475.3,85.4 475.6,85.7 476.0,85.3 476.3,85.5 476.6,85.3 477.0,85.3 477.3,85.4 477.6,85.4 477.9,85.7 478.3,85.3 478.6,85.5 478.9,85.3 479.3,85.4 479.6,85.1 479.9,85.6 480.3,85.2 480.6,85.3 480.9,85.3 481.2,85.5 481.6,85.4 481.9,85.3 482.2,85.3 482.6,85.3 482.9,85.4 483.2,85.3 483.6,85.5 483.9,85.6 484.2,85.3 484.5,84.9 484.9,85.6 485.2,85.6 485.5,85.1 485.9,85.0 486.2,84.7 486.5,85.3 486.9,84.9 487.2,85.5 487.5,84.5 487.8,85.1 488.2,85.2 488.5,85.0 488.8,84.9 489.2,85.1 489.5,84.9 489.8,85.0 490.2,85.0 490.5,84.9 490.8,85.0 491.1,85.2 491.5,84.9 491.8,85.0 492.1,84.8 492.5,85.2 492.8,84.7 493.1,85.2 493.5,84.3 493.8,84.8 494.1,84.7 494.4,85.2 494.8,85.1 495.1,84.7 495.4,84.9 495.8,85.3 496.1,85.0 496.4,85.2 496.8,84.7 497.1,84.7 497.4,85.2 497.7,85.6 498.1,84.9 498.4,85.2 498.7,84.9 499.1,85.4 499.4,85.0 499.7,85.0 500.1,84.7 500.4,85.0 500.7,85.2 501.0,85.5 501.4,84.9 501.7,85.4 502.0,85.1 502.4,85.1 502.7,85.0 503.0,84.9 503.4,85.0 503.7,85.6 504.0,85.0 504.3,85.2 504.7,85.5 505.0,84.9 505.3,85.4 505.7,85.2 506.0,85.4 506.3,85.6 506.7,85.4 507.0,85.4 507.3,85.6 507.6,85.6 508.0,85.3 508.3,85.5 508.6,85.2 509.0,85.8 509.3,85.3 509.6,85.6 510.0,86.0 510.3,85.8 510.6,85.6 510.9,85.5 511.3,85.6 511.6,85.9 511.9,85.8 512.3,85.8 512.6,86.4 512.9,85.7 513.3,85.8 513.6,85.8 513.9,86.0" fill="none" stroke="#3a78e8" stroke-width="1.4" stroke-linejoin="round" /><polyline points="390.5,100.5 390.8,100.0 391.2,100.8 391.5,100.7 391.8,100.1 392.1,98.5 392.5,101.0 392.8,102.0 393.1,98.4 393.5,100.3 393.8,99.5 394.1,99.8 394.5,100.5 394.8,100.2 395.1,101.5 395.4,99.8 395.8,100.3 396.1,99.7 396.4,100.3 396.8,100.8 397.1,100.4 397.4,99.5 397.8,100.5 398.1,100.7 398.4,101.5 398.7,100.6 399.1,100.3 399.4,100.7 399.7,102.2 400.1,102.0 400.4,101.7 400.7,99.1 401.1,99.3 401.4,101.5 401.7,100.8 402.0,101.1 402.4,100.0 402.7,100.3 403.0,103.2 403.4,101.4 403.7,105.1 404.0,103.6 404.4,97.0 404.7,99.7 405.0,100.5 405.3,101.6 405.7,99.7 406.0,101.1 406.3,102.2 406.7,101.2 407.0,103.0 407.3,100.3 407.7,100.5 408.0,100.0 408.3,102.6 408.6,100.9 409.0,100.5 409.3,100.0 409.6,103.4 410.0,100.9 410.3,100.6 410.6,100.3 411.0,100.5 411.3,100.4 411.6,101.1 411.9,103.4 412.3,99.1 412.6,101.0 412.9,102.3 413.3,100.6 413.6,100.2 413.9,100.0 414.3,100.1 414.6,102.4 414.9,100.0 415.2,100.3 415.6,101.0 415.9,100.9 416.2,101.9 416.6,99.7 416.9,100.9 417.2,100.4 417.6,102.2 417.9,102.5 418.2,100.7 418.5,100.3 418.9,100.1 419.2,102.5 419.5,100.4 419.9,99.8 420.2,99.4 420.5,100.5 420.9,100.9 421.2,100.0 421.5,99.4 421.8,100.1 422.2,102.4 422.5,99.5 422.8,99.7 423.2,100.6 423.5,100.7 423.8,99.2 424.2,99.5 424.5,99.1 424.8,98.7 425.1,99.5 425.5,99.6 425.8,98.8 426.1,100.2 426.5,98.8 426.8,100.2 427.1,98.6 427.5,98.2 427.8,100.6 428.1,98.2 428.4,99.5 428.8,99.2 429.1,99.6 429.4,99.1 429.8,98.2 430.1,98.5 430.4,99.1 430.8,98.6 431.1,99.0 431.4,98.2 431.7,98.2 432.1,98.0 432.4,98.1 432.7,98.4 433.1,97.9 433.4,98.2 433.7,98.1 434.1,98.1 434.4,97.8 434.7,97.8 435.0,98.2 435.4,97.4 435.7,97.7 436.0,97.9 436.4,97.6 436.7,97.8 437.0,96.7 437.4,97.2 437.7,97.0 438.0,97.1 438.3,97.1 438.7,97.2 439.0,96.9 439.3,97.2 439.7,96.6 440.0,97.2 440.3,96.9 440.7,96.5 441.0,96.5 441.3,96.4 441.6,96.6 442.0,96.8 442.3,97.1 442.6,97.0 443.0,96.5 443.3,96.3 443.6,96.7 444.0,96.5 444.3,96.8 444.6,96.7 444.9,97.4 445.3,96.5 445.6,97.0 445.9,97.4 446.3,97.0 446.6,96.9 446.9,97.5 447.3,96.8 447.6,96.9 447.9,97.1 448.2,97.5 448.6,97.7 448.9,97.6 449.2,98.2 449.6,97.8 449.9,97.9 450.2,97.9 450.6,98.4 450.9,98.2 451.2,98.2 451.5,98.8 451.9,98.8 452.2,98.8 452.5,98.5 452.9,98.6 453.2,98.9 453.5,99.0 453.9,99.1 454.2,99.2 454.5,99.6 454.8,99.3 455.2,99.7 455.5,99.7 455.8,99.8 456.2,99.9 456.5,100.2 456.8,100.3 457.2,100.1 457.5,100.5 457.8,100.5 458.1,100.7 458.5,100.7 458.8,101.0 459.1,101.0 459.5,100.8 459.8,100.8 460.1,100.9 460.5,101.4 460.8,101.2 461.1,101.4 461.4,101.6 461.8,102.0 462.1,102.3 462.4,101.9 462.8,102.5 463.1,102.2 463.4,102.5 463.8,102.3 464.1,102.2 464.4,102.7 464.7,103.0 465.1,102.5 465.4,102.9 465.7,103.1 466.1,103.3 466.4,103.1 466.7,103.3 467.1,103.8 467.4,104.1 467.7,103.8 468.0,104.1 468.4,104.1 468.7,104.2 469.0,104.2 469.4,104.3 469.7,104.3 470.0,104.6 470.4,104.9 470.7,104.8 471.0,105.0 471.3,104.8 471.7,105.2 472.0,104.5 472.3,104.9 472.7,105.2 473.0,105.0 473.3,105.6 473.7,105.6 474.0,105.4 474.3,105.7 474.6,105.4 475.0,105.5 475.3,105.7 475.6,105.5 476.0,106.1 476.3,105.7 476.6,106.1 477.0,105.9 477.3,106.0 477.6,105.7 477.9,105.8 478.3,105.8 478.6,105.9 478.9,106.2 479.3,105.7 479.6,105.8 479.9,105.9 480.3,106.0 480.6,105.8 480.9,105.7 481.2,105.6 481.6,105.7 481.9,105.7 482.2,105.5 482.6,105.6 482.9,105.8 483.2,105.6 483.6,105.4 483.9,105.7 484.2,105.7 484.5,105.6 484.9,105.6 485.2,105.3 485.5,105.4 485.9,105.4 486.2,105.4 486.5,104.9 486.9,105.3 487.2,105.3 487.5,105.3 487.8,105.1 488.2,105.2 488.5,104.7 488.8,104.8 489.2,104.5 489.5,105.0 489.8,105.4 490.2,105.4 490.5,104.8 490.8,105.2 491.1,105.3 491.5,104.9 491.8,104.6 492.1,105.3 492.5,104.9 492.8,104.9 493.1,105.4 493.5,105.1 493.8,105.2 494.1,105.4 494.4,105.0 494.8,104.8 495.1,105.2 495.4,105.0 495.8,105.2 496.1,105.1 496.4,104.9 496.8,105.0 497.1,105.0 497.4,105.0 497.7,105.0 498.1,105.1 498.4,105.1 498.7,104.8 499.1,105.2 499.4,104.8 499.7,105.6 500.1,104.9 500.4,105.1 500.7,105.4 501.0,105.1 501.4,104.8 501.7,104.8 502.0,105.2 502.4,105.2 502.7,105.3 503.0,105.2 503.4,105.1 503.7,105.3 504.0,105.5 504.3,105.0 504.7,106.0 505.0,105.1 505.3,105.5 505.7,105.7 506.0,105.5 506.3,105.4 506.7,105.5 507.0,105.6 507.3,104.8 507.6,105.5 508.0,105.3 508.3,105.2 508.6,105.4 509.0,105.5 509.3,105.6 509.6,105.4 510.0,105.8 510.3,105.1 510.6,105.3 510.9,105.3 511.3,105.6 511.6,105.5 511.9,105.8 512.3,105.5 512.6,106.0 512.9,105.9 513.3,105.6 513.6,105.4 513.9,105.6" fill="none" stroke="#3cae5c" stroke-width="1.4" stroke-linejoin="round" /><polyline points="390.5,118.0 390.8,120.3 391.2,119.9 391.5,118.3 391.8,120.9 392.1,119.1 392.5,117.5 392.8,118.3 393.1,122.4 393.5,119.4 393.8,118.7 394.1,121.7 394.5,119.1 394.8,119.5 395.1,117.7 395.4,119.8 395.8,119.2 396.1,118.7 396.4,120.2 396.8,117.8 397.1,119.9 397.4,119.8 397.8,120.1 398.1,117.9 398.4,119.8 398.7,120.3 399.1,118.8 399.4,119.7 399.7,121.0 400.1,118.7 400.4,121.2 400.7,121.0 401.1,118.4 401.4,119.1 401.7,120.3 402.0,120.1 402.4,120.9 402.7,118.4 403.0,118.6 403.4,119.5 403.7,121.5 404.0,121.1 404.4,119.3 404.7,118.8 405.0,121.5 405.3,117.8 405.7,119.8 406.0,117.8 406.3,121.0 406.7,120.3 407.0,118.8 407.3,120.8 407.7,118.4 408.0,116.4 408.3,122.5 408.6,118.3 409.0,120.3 409.3,121.2 409.6,121.2 410.0,119.6 410.3,123.3 410.6,120.5 411.0,117.2 411.3,118.0 411.6,120.8 411.9,119.5 412.3,120.2 412.6,120.0 412.9,120.8 413.3,118.3 413.6,122.9 413.9,120.4 414.3,119.6 414.6,120.0 414.9,121.3 415.2,119.9 415.6,119.5 415.9,119.9 416.2,119.1 416.6,121.0 416.9,118.9 417.2,119.0 417.6,119.8 417.9,120.2 418.2,121.1 418.5,120.8 418.9,119.5 419.2,119.0 419.5,118.9 419.9,118.8 420.2,119.2 420.5,122.7 420.9,119.0 421.2,119.9 421.5,119.4 421.8,120.1 422.2,119.0 422.5,120.0 422.8,117.4 423.2,119.9 423.5,117.8 423.8,119.7 424.2,119.9 424.5,120.4 424.8,119.9 425.1,118.4 425.5,120.0 425.8,119.2 426.1,119.7 426.5,116.7 426.8,118.4 427.1,119.3 427.5,120.8 427.8,118.5 428.1,119.3 428.4,119.2 428.8,118.6 429.1,118.4 429.4,119.3 429.8,120.5 430.1,118.9 430.4,119.2 430.8,118.6 431.1,118.1 431.4,118.5 431.7,117.9 432.1,117.9 432.4,118.6 432.7,117.7 433.1,117.9 433.4,117.5 433.7,117.6 434.1,117.6 434.4,116.8 434.7,117.2 435.0,117.4 435.4,117.3 435.7,117.1 436.0,116.7 436.4,116.9 436.7,116.6 437.0,116.5 437.4,116.6 437.7,117.0 438.0,116.2 438.3,116.5 438.7,116.3 439.0,115.8 439.3,115.9 439.7,116.0 440.0,115.8 440.3,115.9 440.7,115.6 441.0,115.5 441.3,115.9 441.6,115.6 442.0,115.4 442.3,115.5 442.6,115.9 443.0,115.3 443.3,115.1 443.6,115.6 444.0,115.9 444.3,115.7 444.6,115.1 444.9,115.0 445.3,115.7 445.6,115.4 445.9,115.6 446.3,115.5 446.6,115.9 446.9,115.6 447.3,115.6 447.6,115.7 447.9,115.5 448.2,115.9 448.6,115.9 448.9,115.5 449.2,115.8 449.6,115.9 449.9,115.9 450.2,116.4 450.6,116.7 450.9,116.6 451.2,116.3 451.5,116.3 451.9,117.0 452.2,116.8 452.5,117.0 452.9,116.8 453.2,116.8 453.5,117.8 453.9,117.3 454.2,117.5 454.5,117.4 454.8,118.1 455.2,117.8 455.5,117.9 455.8,118.1 456.2,118.2 456.5,118.6 456.8,118.0 457.2,118.6 457.5,118.4 457.8,118.6 458.1,118.6 458.5,118.9 458.8,118.6 459.1,118.9 459.5,119.2 459.8,119.0 460.1,119.1 460.5,119.3 460.8,119.4 461.1,119.3 461.4,119.5 461.8,119.3 462.1,119.8 462.4,119.4 462.8,119.4 463.1,119.9 463.4,119.6 463.8,119.8 464.1,120.0 464.4,120.3 464.7,120.1 465.1,120.2 465.4,120.3 465.7,120.5 466.1,120.4 466.4,120.6 466.7,121.0 467.1,120.7 467.4,120.7 467.7,120.7 468.0,120.8 468.4,120.7 468.7,120.8 469.0,121.0 469.4,121.3 469.7,121.4 470.0,121.2 470.4,121.5 470.7,121.2 471.0,122.0 471.3,122.1 471.7,121.6 472.0,121.8 472.3,121.7 472.7,121.9 473.0,121.7 473.3,121.5 473.7,122.1 474.0,121.7 474.3,122.0 474.6,121.8 475.0,121.8 475.3,122.2 475.6,122.4 476.0,122.0 476.3,122.0 476.6,122.1 477.0,122.0 477.3,121.7 477.6,122.1 477.9,121.6 478.3,122.2 478.6,121.9 478.9,122.1 479.3,121.7 479.6,121.8 479.9,122.0 480.3,122.2 480.6,122.0 480.9,121.9 481.2,121.5 481.6,121.8 481.9,121.7 482.2,121.5 482.6,121.8 482.9,121.3 483.2,121.8 483.6,121.2 483.9,121.2 484.2,121.2 484.5,120.9 484.9,121.0 485.2,121.1 485.5,120.6 485.9,120.8 486.2,120.6 486.5,120.7 486.9,121.0 487.2,120.6 487.5,120.6 487.8,120.6 488.2,120.3 488.5,120.5 488.8,120.3 489.2,120.3 489.5,120.0 489.8,120.2 490.2,120.5 490.5,120.5 490.8,120.2 491.1,120.2 491.5,120.1 491.8,120.0 492.1,119.8 492.5,120.6 492.8,120.0 493.1,120.2 493.5,120.5 493.8,120.1 494.1,120.2 494.4,120.2 494.8,120.1 495.1,120.2 495.4,120.1 495.8,120.4 496.1,120.3 496.4,119.9 496.8,119.9 497.1,120.1 497.4,120.1 497.7,120.0 498.1,120.4 498.4,120.1 498.7,120.1 499.1,120.2 499.4,119.8 499.7,120.3 500.1,120.4 500.4,120.5 500.7,120.0 501.0,120.1 501.4,120.3 501.7,120.2 502.0,119.9 502.4,120.5 502.7,120.2 503.0,120.4 503.4,120.1 503.7,120.5 504.0,120.2 504.3,120.2 504.7,120.5 505.0,120.6 505.3,120.2 505.7,120.6 506.0,120.8 506.3,120.5 506.7,120.1 507.0,120.6 507.3,120.7 507.6,120.3 508.0,120.9 508.3,120.5 508.6,120.5 509.0,120.8 509.3,120.6 509.6,120.9 510.0,120.6 510.3,120.7 510.6,120.7 510.9,120.8 511.3,120.9 511.6,120.9 511.9,120.7 512.3,121.0 512.6,120.8 512.9,121.2 513.3,121.1 513.6,120.9 513.9,120.8" fill="none" stroke="#a66ee6" stroke-width="1.4" stroke-linejoin="round" /><polyline points="390.5,140.2 390.8,141.5 391.2,140.4 391.5,141.1 391.8,140.2 392.1,140.0 392.5,139.7 392.8,138.6 393.1,140.7 393.5,140.4 393.8,140.4 394.1,141.2 394.5,139.6 394.8,142.1 395.1,139.2 395.4,140.8 395.8,139.5 396.1,140.4 396.4,141.8 396.8,139.4 397.1,140.9 397.4,140.9 397.8,141.0 398.1,141.1 398.4,141.6 398.7,141.4 399.1,141.3 399.4,141.8 399.7,141.7 400.1,138.4 400.4,140.0 400.7,142.7 401.1,140.9 401.4,140.0 401.7,140.8 402.0,140.2 402.4,145.6 402.7,144.1 403.0,138.0 403.4,142.6 403.7,141.4 404.0,142.8 404.4,140.8 404.7,142.1 405.0,141.9 405.3,140.1 405.7,143.2 406.0,141.5 406.3,144.0 406.7,144.1 407.0,143.4 407.3,145.4 407.7,142.0 408.0,144.1 408.3,142.9 408.6,143.0 409.0,140.9 409.3,141.1 409.6,142.0 410.0,142.4 410.3,143.1 410.6,145.2 411.0,141.6 411.3,142.5 411.6,143.5 411.9,142.1 412.3,145.6 412.6,142.9 412.9,142.4 413.3,146.7 413.6,143.8 413.9,145.5 414.3,141.1 414.6,143.5 414.9,142.3 415.2,147.6 415.6,143.9 415.9,143.5 416.2,143.2 416.6,145.4 416.9,143.8 417.2,147.0 417.6,142.1 417.9,143.0 418.2,146.1 418.5,145.3 418.9,142.9 419.2,142.1 419.5,147.7 419.9,143.9 420.2,147.1 420.5,142.7 420.9,143.9 421.2,142.1 421.5,142.6 421.8,143.2 422.2,143.2 422.5,144.1 422.8,144.7 423.2,144.2 423.5,142.4 423.8,142.7 424.2,142.9 424.5,146.2 424.8,140.5 425.1,145.6 425.5,142.4 425.8,146.1 426.1,143.7 426.5,143.6 426.8,142.1 427.1,144.6 427.5,140.1 427.8,145.5 428.1,142.2 428.4,142.9 428.8,141.7 429.1,142.5 429.4,141.5 429.8,142.0 430.1,141.3 430.4,141.8 430.8,141.5 431.1,141.3 431.4,141.6 431.7,141.6 432.1,141.3 432.4,141.2 432.7,141.1 433.1,141.1 433.4,140.9 433.7,140.6 434.1,140.8 434.4,140.0 434.7,140.2 435.0,139.5 435.4,140.2 435.7,139.4 436.0,139.3 436.4,139.4 436.7,138.9 437.0,138.6 437.4,138.2 437.7,138.3 438.0,138.7 438.3,138.1 438.7,138.3 439.0,137.9 439.3,137.5 439.7,137.1 440.0,137.3 440.3,137.3 440.7,137.0 441.0,137.0 441.3,137.0 441.6,136.6 442.0,136.3 442.3,136.5 442.6,136.6 443.0,136.2 443.3,136.1 443.6,136.1 444.0,136.2 444.3,136.3 444.6,136.3 444.9,136.0 445.3,136.3 445.6,136.2 445.9,136.1 446.3,135.9 446.6,136.1 446.9,136.3 447.3,136.4 447.6,136.5 447.9,136.5 448.2,136.6 448.6,136.3 448.9,136.8 449.2,136.8 449.6,136.8 449.9,136.6 450.2,136.7 450.6,136.7 450.9,136.6 451.2,136.8 451.5,136.6 451.9,136.6 452.2,137.2 452.5,137.2 452.9,137.3 453.2,137.1 453.5,137.3 453.9,137.4 454.2,137.3 454.5,137.0 454.8,138.0 455.2,137.8 455.5,137.9 455.8,137.7 456.2,137.5 456.5,137.8 456.8,137.9 457.2,137.5 457.5,137.8 457.8,138.1 458.1,138.3 458.5,138.2 458.8,138.0 459.1,137.8 459.5,138.6 459.8,138.2 460.1,138.4 460.5,138.2 460.8,138.0 461.1,138.8 461.4,138.5 461.8,138.6 462.1,138.2 462.4,138.4 462.8,138.8 463.1,138.4 463.4,138.4 463.8,138.3 464.1,138.3 464.4,138.8 464.7,138.7 465.1,138.3 465.4,139.1 465.7,139.0 466.1,139.1 466.4,138.4 466.7,138.9 467.1,139.2 467.4,138.7 467.7,138.8 468.0,138.9 468.4,138.6 468.7,139.1 469.0,139.3 469.4,139.3 469.7,139.5 470.0,139.2 470.4,139.2 470.7,139.2 471.0,139.1 471.3,139.0 471.7,139.1 472.0,139.3 472.3,139.2 472.7,139.4 473.0,139.4 473.3,139.5 473.7,139.3 474.0,139.0 474.3,139.2 474.6,139.9 475.0,139.6 475.3,139.4 475.6,139.4 476.0,139.5 476.3,139.4 476.6,139.5 477.0,139.7 477.3,139.8 477.6,139.4 477.9,139.4 478.3,139.4 478.6,139.5 478.9,139.7 479.3,139.2 479.6,139.9 479.9,139.5 480.3,139.5 480.6,139.1 480.9,139.1 481.2,139.1 481.6,139.1 481.9,138.6 482.2,139.1 482.6,138.6 482.9,139.0 483.2,139.1 483.6,138.8 483.9,138.7 484.2,138.6 484.5,138.6 484.9,138.6 485.2,138.7 485.5,138.6 485.9,138.7 486.2,138.3 486.5,138.1 486.9,138.1 487.2,137.9 487.5,138.0 487.8,137.9 488.2,138.4 488.5,138.0 488.8,138.3 489.2,137.4 489.5,137.9 489.8,138.0 490.2,137.8 490.5,137.6 490.8,137.7 491.1,137.7 491.5,137.7 491.8,137.7 492.1,137.8 492.5,137.7 492.8,137.7 493.1,137.6 493.5,137.7 493.8,137.5 494.1,137.8 494.4,137.6 494.8,137.8 495.1,137.5 495.4,137.6 495.8,137.6 496.1,137.4 496.4,137.9 496.8,137.7 497.1,137.6 497.4,137.9 497.7,137.6 498.1,137.6 498.4,137.9 498.7,138.2 499.1,137.7 499.4,138.0 499.7,137.7 500.1,137.5 500.4,137.8 500.7,137.9 501.0,137.7 501.4,137.8 501.7,137.4 502.0,137.2 502.4,137.7 502.7,137.4 503.0,137.7 503.4,137.5 503.7,137.7 504.0,137.9 504.3,137.3 504.7,137.7 505.0,137.7 505.3,138.0 505.7,137.7 506.0,137.6 506.3,137.6 506.7,138.1 507.0,137.6 507.3,137.8 507.6,137.8 508.0,137.5 508.3,137.6 508.6,137.4 509.0,137.6 509.3,138.0 509.6,137.9 510.0,137.5 510.3,138.2 510.6,137.6 510.9,137.7 511.3,138.3 511.6,138.1 511.9,138.0 512.3,138.3 512.6,138.0 512.9,138.1 513.3,138.0 513.6,138.1 513.9,138.1" fill="none" stroke="#c49a2c" stroke-width="1.4" stroke-linejoin="round" /><polyline points="390.5,166.4 390.8,164.8 391.2,165.2 391.5,163.4 391.8,163.8 392.1,166.0 392.5,165.0 392.8,165.1 393.1,166.0 393.5,165.1 393.8,165.5 394.1,165.2 394.5,163.6 394.8,166.0 395.1,166.8 395.4,166.5 395.8,165.5 396.1,165.7 396.4,165.8 396.8,166.8 397.1,166.5 397.4,165.1 397.8,165.3 398.1,165.3 398.4,164.9 398.7,164.9 399.1,165.3 399.4,163.2 399.7,165.8 400.1,165.8 400.4,162.6 400.7,165.3 401.1,164.8 401.4,166.6 401.7,164.5 402.0,165.5 402.4,166.7 402.7,167.8 403.0,164.4 403.4,165.9 403.7,165.2 404.0,162.7 404.4,165.0 404.7,166.1 405.0,166.9 405.3,165.1 405.7,166.1 406.0,166.6 406.3,166.5 406.7,166.1 407.0,166.1 407.3,166.3 407.7,169.1 408.0,167.4 408.3,166.7 408.6,168.3 409.0,166.4 409.3,165.0 409.6,166.2 410.0,167.4 410.3,165.8 410.6,166.4 411.0,163.2 411.3,166.6 411.6,170.1 411.9,167.1 412.3,166.2 412.6,166.3 412.9,166.2 413.3,166.0 413.6,167.0 413.9,172.2 414.3,169.0 414.6,167.7 414.9,165.6 415.2,166.8 415.6,171.3 415.9,169.8 416.2,167.8 416.6,167.2 416.9,168.9 417.2,171.0 417.6,166.9 417.9,166.3 418.2,166.9 418.5,171.2 418.9,166.7 419.2,169.9 419.5,166.9 419.9,171.9 420.2,167.3 420.5,167.1 420.9,169.2 421.2,167.7 421.5,167.4 421.8,167.4 422.2,170.0 422.5,167.0 422.8,170.7 423.2,166.8 423.5,167.5 423.8,167.0 424.2,165.6 424.5,168.5 424.8,166.4 425.1,170.3 425.5,167.2 425.8,167.5 426.1,165.4 426.5,168.1 426.8,165.5 427.1,167.8 427.5,166.4 427.8,169.3 428.1,166.8 428.4,166.8 428.8,168.6 429.1,166.8 429.4,164.4 429.8,169.1 430.1,170.6 430.4,166.9 430.8,166.2 431.1,166.1 431.4,166.5 431.7,166.4 432.1,166.1 432.4,166.3 432.7,165.7 433.1,165.8 433.4,166.0 433.7,165.5 434.1,165.5 434.4,165.4 434.7,165.2 435.0,164.7 435.4,164.8 435.7,164.8 436.0,164.6 436.4,164.6 436.7,164.4 437.0,164.0 437.4,163.8 437.7,164.0 438.0,163.7 438.3,163.3 438.7,163.1 439.0,163.2 439.3,163.0 439.7,162.6 440.0,162.5 440.3,162.3 440.7,162.1 441.0,162.4 441.3,161.5 441.6,161.8 442.0,161.3 442.3,161.3 442.6,161.5 443.0,161.0 443.3,161.0 443.6,160.9 444.0,160.9 444.3,161.1 444.6,161.2 444.9,160.8 445.3,161.1 445.6,160.7 445.9,161.4 446.3,160.8 446.6,160.8 446.9,160.9 447.3,160.9 447.6,160.8 447.9,160.4 448.2,161.0 448.6,160.9 448.9,160.7 449.2,160.5 449.6,160.8 449.9,161.0 450.2,160.3 450.6,160.4 450.9,160.7 451.2,160.5 451.5,160.6 451.9,160.6 452.2,160.8 452.5,160.8 452.9,160.8 453.2,160.8 453.5,160.5 453.9,160.1 454.2,160.6 454.5,160.7 454.8,160.7 455.2,160.4 455.5,161.0 455.8,160.2 456.2,160.7 456.5,160.6 456.8,160.7 457.2,160.8 457.5,160.6 457.8,160.5 458.1,160.4 458.5,160.6 458.8,160.5 459.1,160.6 459.5,160.2 459.8,160.1 460.1,160.4 460.5,160.5 460.8,160.0 461.1,160.1 461.4,160.3 461.8,160.4 462.1,160.4 462.4,160.5 462.8,160.3 463.1,160.4 463.4,160.6 463.8,160.2 464.1,160.7 464.4,160.2 464.7,160.3 465.1,159.8 465.4,160.2 465.7,160.1 466.1,160.1 466.4,160.2 466.7,159.9 467.1,160.2 467.4,159.7 467.7,160.0 468.0,160.4 468.4,160.1 468.7,160.2 469.0,159.9 469.4,159.8 469.7,160.4 470.0,160.3 470.4,160.2 470.7,160.0 471.0,160.3 471.3,159.9 471.7,160.1 472.0,160.1 472.3,159.8 472.7,160.3 473.0,160.0 473.3,160.1 473.7,159.6 474.0,159.6 474.3,159.8 474.6,160.0 475.0,160.1 475.3,159.9 475.6,159.8 476.0,159.9 476.3,159.7 476.6,159.8 477.0,159.8 477.3,159.5 477.6,159.8 477.9,159.3 478.3,159.4 478.6,159.7 478.9,159.4 479.3,159.6 479.6,159.5 479.9,159.3 480.3,159.6 480.6,159.4 480.9,159.1 481.2,159.0 481.6,159.1 481.9,158.7 482.2,159.2 482.6,158.8 482.9,158.4 483.2,158.5 483.6,158.9 483.9,158.6 484.2,158.9 484.5,158.4 484.9,158.4 485.2,158.6 485.5,158.6 485.9,157.8 486.2,158.1 486.5,157.6 486.9,157.7 487.2,157.3 487.5,157.7 487.8,157.3 488.2,157.2 488.5,157.7 488.8,157.4 489.2,157.1 489.5,156.7 489.8,157.1 490.2,156.5 490.5,156.7 490.8,157.0 491.1,156.9 491.5,156.7 491.8,156.8 492.1,156.6 492.5,156.3 492.8,156.5 493.1,156.8 493.5,156.4 493.8,156.4 494.1,156.4 494.4,156.0 494.8,156.0 495.1,155.9 495.4,156.3 495.8,156.1 496.1,155.9 496.4,155.9 496.8,156.4 497.1,156.4 497.4,156.3 497.7,156.2 498.1,156.3 498.4,156.2 498.7,156.3 499.1,156.1 499.4,156.0 499.7,156.0 500.1,156.3 500.4,156.6 500.7,156.0 501.0,156.0 501.4,156.4 501.7,156.4 502.0,156.1 502.4,156.1 502.7,156.1 503.0,156.3 503.4,156.9 503.7,156.1 504.0,156.3 504.3,156.1 504.7,156.3 505.0,156.3 505.3,156.3 505.7,156.0 506.0,156.0 506.3,156.5 506.7,156.3 507.0,156.3 507.3,156.4 507.6,156.1 508.0,156.5 508.3,156.1 508.6,156.1 509.0,156.1 509.3,156.3 509.6,156.9 510.0,156.4 510.3,156.4 510.6,156.7 510.9,156.3 511.3,156.1 511.6,156.3 511.9,156.3 512.3,156.1 512.6,156.4 512.9,156.5 513.3,156.9 513.6,156.7 513.9,156.5" fill="none" stroke="#4ed8c6" stroke-width="1.4" stroke-linejoin="round" /><polyline points="390.5,190.8 390.8,190.6 391.2,189.5 391.5,191.2 391.8,189.1 392.1,191.2 392.5,193.0 392.8,191.0 393.1,193.9 393.5,190.5 393.8,192.6 394.1,191.6 394.5,191.1 394.8,191.9 395.1,194.7 395.4,192.0 395.8,191.0 396.1,192.0 396.4,192.5 396.8,192.6 397.1,191.2 397.4,192.6 397.8,192.0 398.1,191.3 398.4,190.5 398.7,190.4 399.1,194.9 399.4,189.0 399.7,191.4 400.1,190.7 400.4,191.5 400.7,191.6 401.1,191.9 401.4,191.0 401.7,190.5 402.0,193.7 402.4,193.0 402.7,192.2 403.0,193.8 403.4,189.3 403.7,192.8 404.0,192.0 404.4,191.4 404.7,192.2 405.0,192.4 405.3,190.8 405.7,193.0 406.0,192.0 406.3,191.7 406.7,190.5 407.0,190.6 407.3,192.1 407.7,190.4 408.0,193.5 408.3,191.0 408.6,194.3 409.0,191.5 409.3,192.1 409.6,193.7 410.0,190.0 410.3,192.0 410.6,189.5 411.0,192.2 411.3,192.4 411.6,191.3 411.9,190.3 412.3,196.2 412.6,190.6 412.9,194.6 413.3,191.3 413.6,191.6 413.9,193.0 414.3,190.8 414.6,193.5 414.9,191.9 415.2,193.2 415.6,193.0 415.9,192.2 416.2,190.8 416.6,189.9 416.9,194.7 417.2,190.9 417.6,189.0 417.9,191.9 418.2,193.9 418.5,194.4 418.9,194.5 419.2,193.4 419.5,194.8 419.9,191.6 420.2,190.6 420.5,192.0 420.9,191.8 421.2,192.4 421.5,194.6 421.8,190.1 422.2,195.8 422.5,193.8 422.8,190.6 423.2,192.4 423.5,194.3 423.8,192.7 424.2,192.2 424.5,195.8 424.8,192.7 425.1,191.9 425.5,192.3 425.8,191.1 426.1,192.8 426.5,191.2 426.8,192.0 427.1,188.7 427.5,192.7 427.8,192.1 428.1,191.3 428.4,192.0 428.8,195.1 429.1,191.9 429.4,191.5 429.8,189.6 430.1,191.1 430.4,190.5 430.8,191.1 431.1,191.0 431.4,192.9 431.7,190.5 432.1,190.4 432.4,190.2 432.7,190.1 433.1,189.8 433.4,189.3 433.7,189.6 434.1,188.9 434.4,188.6 434.7,188.8 435.0,188.1 435.4,188.2 435.7,187.6 436.0,187.8 436.4,187.6 436.7,187.0 437.0,187.0 437.4,186.8 437.7,186.4 438.0,186.3 438.3,185.9 438.7,185.5 439.0,185.3 439.3,185.3 439.7,185.2 440.0,185.0 440.3,184.7 440.7,184.6 441.0,184.2 441.3,184.4 441.6,183.7 442.0,183.9 442.3,183.5 442.6,183.4 443.0,183.7 443.3,183.3 443.6,182.8 444.0,183.0 444.3,182.7 444.6,183.2 444.9,182.5 445.3,182.6 445.6,182.4 445.9,182.3 446.3,182.5 446.6,182.5 446.9,182.5 447.3,182.1 447.6,182.0 447.9,182.1 448.2,181.9 448.6,182.2 448.9,181.5 449.2,181.9 449.6,181.5 449.9,181.5 450.2,181.3 450.6,181.3 450.9,181.6 451.2,181.3 451.5,181.2 451.9,181.1 452.2,181.1 452.5,181.2 452.9,181.4 453.2,181.2 453.5,181.1 453.9,181.0 454.2,181.2 454.5,180.7 454.8,181.0 455.2,180.6 455.5,180.6 455.8,180.9 456.2,180.7 456.5,180.6 456.8,180.4 457.2,180.6 457.5,180.9 457.8,180.5 458.1,180.5 458.5,180.3 458.8,180.5 459.1,180.1 459.5,180.8 459.8,180.1 460.1,180.0 460.5,180.2 460.8,179.6 461.1,179.6 461.4,179.6 461.8,179.6 462.1,180.0 462.4,179.3 462.8,180.0 463.1,179.6 463.4,179.6 463.8,179.3 464.1,178.8 464.4,178.8 464.7,179.3 465.1,178.9 465.4,178.9 465.7,178.8 466.1,179.0 466.4,178.9 466.7,178.6 467.1,178.5 467.4,178.6 467.7,178.1 468.0,178.1 468.4,177.9 468.7,177.9 469.0,177.6 469.4,178.1 469.7,177.8 470.0,178.1 470.4,177.6 470.7,177.6 471.0,177.4 471.3,177.6 471.7,177.4 472.0,177.2 472.3,177.2 472.7,176.9 473.0,176.9 473.3,176.7 473.7,177.0 474.0,176.5 474.3,176.4 474.6,176.7 475.0,176.4 475.3,176.1 475.6,176.0 476.0,176.1 476.3,175.9 476.6,176.0 477.0,175.6 477.3,175.5 477.6,175.9 477.9,176.0 478.3,175.8 478.6,175.3 478.9,175.4 479.3,175.1 479.6,175.5 479.9,175.0 480.3,174.9 480.6,175.1 480.9,174.9 481.2,174.5 481.6,174.2 481.9,174.2 482.2,173.9 482.6,174.4 482.9,173.9 483.2,174.0 483.6,173.7 483.9,173.4 484.2,173.5 484.5,173.4 484.9,173.2 485.2,173.1 485.5,173.1 485.9,172.7 486.2,172.8 486.5,172.6 486.9,172.4 487.2,172.5 487.5,172.0 487.8,172.0 488.2,172.2 488.5,172.5 488.8,172.2 489.2,171.8 489.5,172.2 489.8,171.9 490.2,171.6 490.5,171.7 490.8,172.0 491.1,171.7 491.5,171.4 491.8,171.2 492.1,171.6 492.5,171.1 492.8,171.2 493.1,171.5 493.5,171.1 493.8,171.1 494.1,171.3 494.4,171.1 494.8,171.4 495.1,171.1 495.4,171.2 495.8,171.2 496.1,170.9 496.4,171.1 496.8,171.2 497.1,170.9 497.4,170.7 497.7,170.8 498.1,171.1 498.4,170.8 498.7,170.6 499.1,170.4 499.4,170.7 499.7,170.4 500.1,170.8 500.4,170.4 500.7,170.3 501.0,170.7 501.4,170.6 501.7,170.6 502.0,170.3 502.4,170.6 502.7,170.5 503.0,170.4 503.4,170.5 503.7,170.5 504.0,170.3 504.3,170.6 504.7,170.4 505.0,170.2 505.3,170.3 505.7,170.2 506.0,170.5 506.3,170.2 506.7,170.1 507.0,170.1 507.3,170.3 507.6,169.7 508.0,169.8 508.3,170.0 508.6,170.1 509.0,170.2 509.3,169.9 509.6,169.7 510.0,169.5 510.3,169.9 510.6,169.9 510.9,170.0 511.3,170.1 511.6,169.7 511.9,170.2 512.3,169.8 512.6,169.9 512.9,169.9 513.3,169.5 513.6,170.4 513.9,169.8" fill="none" stroke="#7a4848" stroke-width="1.4" stroke-linejoin="round" /><line x1="444.40" y1="33.00" x2="444.40" y2="188.00" stroke="#333" stroke-width="0.9" stroke-dasharray="3,2.2"/><line x1="475.90" y1="36.60" x2="475.90" y2="181.00" stroke="#333" stroke-width="0.9" stroke-dasharray="3,2.2"/><rect x="389.8" y="6" width="124.99999999999994" height="211.5" fill="none" stroke="#111" stroke-width="1.4"/><line x1="410.63" y1="217.50" x2="410.63" y2="215.50" stroke="#111" stroke-width="1" /><line x1="431.47" y1="217.50" x2="431.47" y2="214.00" stroke="#111" stroke-width="1" /><line x1="452.30" y1="217.50" x2="452.30" y2="215.50" stroke="#111" stroke-width="1" /><line x1="473.13" y1="217.50" x2="473.13" y2="214.00" stroke="#111" stroke-width="1" /><line x1="493.97" y1="217.50" x2="493.97" y2="215.50" stroke="#111" stroke-width="1" /><text x="387.8" y="227.6" font-size="9.8" font-weight="bold" text-anchor="middle" fill="#111" >4000</text><text x="431.5" y="227.6" font-size="9.8" font-weight="bold" text-anchor="middle" fill="#111" >3500</text><text x="473.1" y="227.6" font-size="9.8" font-weight="bold" text-anchor="middle" fill="#111" >3000</text><text x="516.8" y="227.6" font-size="9.8" font-weight="bold" text-anchor="middle" fill="#111" >2500</text><text x="452.5" y="237.2" font-size="10" font-weight="bold" fill="#111" text-anchor="middle">Wavenumber (cm<tspan font-size="6.5" dy="-4">-1</tspan><tspan dy="4">)</tspan></text><text x="0" y="0" font-size="9.9" font-weight="bold" fill="#111" text-anchor="middle" transform="translate(383.5,111.5) rotate(-90)">Transmittance (arb.units)</text><text x="396.5" y="19.5" font-size="9" font-weight="bold" text-anchor="start" fill="#111" >A-NiCoMn-TAC/LDH</text><text x="365.5" y="39.0" font-size="18" font-weight="bold" text-anchor="start" fill="#111" >b</text><text x="395.3" y="57.4" font-size="8.6" font-weight="bold" text-anchor="start" fill="#111" >OCP</text><text x="395.3" y="76.1" font-size="8.6" font-weight="bold" text-anchor="start" fill="#111" >1.2 V</text><text x="395.3" y="93.7" font-size="8.6" font-weight="bold" text-anchor="start" fill="#111" >1.3 V</text><text x="395.3" y="112.4" font-size="8.6" font-weight="bold" text-anchor="start" fill="#111" >1.4 V</text><text x="395.3" y="133.0" font-size="8.6" font-weight="bold" text-anchor="start" fill="#111" >1.5 V</text><text x="395.3" y="156.6" font-size="8.6" font-weight="bold" text-anchor="start" fill="#111" >1.6 V</text><text x="395.3" y="179.8" font-size="8.6" font-weight="bold" text-anchor="start" fill="#111" >1.7 V</text><text x="395.3" y="204.6" font-size="8.6" font-weight="bold" text-anchor="start" fill="#111" >1.8 V</text><text x="449.8" y="196.4" font-size="8.8" font-weight="normal" text-anchor="middle" fill="#111" stroke="#111" stroke-width="0.35">3350</text><text x="451.5" y="208.6" font-size="8.8" font-weight="normal" text-anchor="middle" fill="#111" stroke="#111" stroke-width="0.35">ν(O-H)</text><text x="479.6" y="189.6" font-size="8.8" font-weight="normal" text-anchor="middle" fill="#111" stroke="#111" stroke-width="0.35">2960</text><text x="480.8" y="202.0" font-size="8.8" font-weight="normal" text-anchor="middle" fill="#111" stroke="#111" stroke-width="0.35">ν(N-H)</text><polyline points="549.0,50.7 549.3,50.1 549.7,49.9 550.0,50.0 550.3,50.0 550.7,49.7 551.0,49.5 551.3,50.5 551.6,50.0 552.0,50.3 552.3,50.6 552.6,50.0 553.0,50.2 553.3,50.5 553.6,50.3 554.0,50.2 554.3,49.9 554.6,49.9 554.9,50.3 555.3,50.0 555.6,50.4 555.9,50.3 556.3,50.2 556.6,50.3 556.9,50.1 557.3,50.4 557.6,49.4 557.9,49.8 558.2,50.1 558.6,50.5 558.9,49.5 559.2,49.8 559.6,50.1 559.9,50.3 560.2,49.8 560.6,49.3 560.9,50.0 561.2,50.1 561.5,50.0 561.9,50.0 562.2,50.0 562.5,49.6 562.9,50.0 563.2,50.1 563.5,49.8 563.9,49.6 564.2,49.6 564.5,50.0 564.8,49.6 565.2,50.1 565.5,49.8 565.8,49.7 566.2,50.0 566.5,49.7 566.8,50.3 567.2,50.1 567.5,49.5 567.8,49.6 568.1,49.1 568.5,49.9 568.8,49.8 569.1,49.7 569.5,49.2 569.8,50.1 570.1,50.0 570.5,49.5 570.8,49.4 571.1,49.4 571.4,49.8 571.8,49.6 572.1,49.5 572.4,49.4 572.8,49.1 573.1,49.3 573.4,49.0 573.8,49.8 574.1,49.4 574.4,49.4 574.7,49.3 575.1,49.1 575.4,48.8 575.7,49.2 576.1,49.2 576.4,49.3 576.7,49.6 577.1,49.6 577.4,49.1 577.7,49.1 578.0,49.6 578.4,48.7 578.7,49.2 579.0,49.5 579.4,49.3 579.7,49.2 580.0,49.5 580.4,49.1 580.7,49.0 581.0,49.3 581.3,49.2 581.7,49.4 582.0,49.6 582.3,49.6 582.7,48.5 583.0,49.3 583.3,49.4 583.7,49.4 584.0,49.1 584.3,49.1 584.6,49.3 585.0,48.9 585.3,48.7 585.6,49.3 586.0,49.3 586.3,48.8 586.6,49.4 587.0,48.8 587.3,49.2 587.6,48.7 587.9,49.1 588.3,48.8 588.6,48.9 588.9,49.1 589.3,49.2 589.6,48.7 589.9,49.4 590.3,48.7 590.6,48.5 590.9,48.8 591.2,49.5 591.6,48.8 591.9,48.5 592.2,48.7 592.6,49.0 592.9,49.0 593.2,49.0 593.6,49.1 593.9,49.4 594.2,48.8 594.5,48.9 594.9,48.8 595.2,48.9 595.5,49.1 595.9,48.9 596.2,48.4 596.5,49.0 596.9,49.1 597.2,48.7 597.5,49.2 597.8,48.9 598.2,48.2 598.5,48.4 598.8,48.2 599.2,48.4 599.5,48.2 599.8,48.5 600.2,48.6 600.5,47.8 600.8,48.6 601.1,48.3 601.5,48.5 601.8,48.1 602.1,47.4 602.5,48.0 602.8,48.1 603.1,48.0 603.5,47.8 603.8,47.4 604.1,47.4 604.4,47.4 604.8,47.2 605.1,47.5 605.4,47.5 605.8,47.5 606.1,47.3 606.4,47.0 606.8,47.2 607.1,46.9 607.4,46.5 607.7,46.9 608.1,46.5 608.4,46.4 608.7,46.7 609.1,46.4 609.4,46.4 609.7,46.7 610.1,46.5 610.4,46.3 610.7,46.1 611.0,45.5 611.4,45.4 611.7,45.9 612.0,47.0 612.4,46.3 612.7,46.3 613.0,46.7 613.4,47.0 613.7,46.9 614.0,47.1 614.3,47.1 614.7,47.0 615.0,47.1 615.3,46.7 615.7,47.4 616.0,47.5 616.3,47.6 616.7,47.9 617.0,47.3 617.3,47.4 617.6,48.0 618.0,47.4 618.3,48.0 618.6,48.0 619.0,48.2 619.3,47.8 619.6,48.3 620.0,47.8 620.3,48.4 620.6,48.3 620.9,48.2 621.3,48.4 621.6,48.7 621.9,48.1 622.3,48.4 622.6,48.1 622.9,48.7 623.3,48.7 623.6,48.2 623.9,48.4 624.2,48.1 624.6,48.5 624.9,48.7 625.2,48.3 625.6,48.5 625.9,48.0 626.2,48.9 626.6,48.1 626.9,48.5 627.2,48.3 627.5,48.8 627.9,48.4 628.2,48.3 628.5,48.1 628.9,48.8 629.2,47.9 629.5,48.9 629.9,48.8 630.2,49.0 630.5,48.2 630.8,48.2 631.2,48.5 631.5,48.8 631.8,48.2 632.2,48.8 632.5,48.1 632.8,48.7 633.2,48.5 633.5,48.5 633.8,48.5 634.1,48.7 634.5,48.0 634.8,48.8 635.1,48.3 635.5,48.4 635.8,48.2 636.1,48.7 636.5,48.6 636.8,48.4 637.1,48.2 637.4,49.0 637.8,48.4 638.1,48.6 638.4,48.3 638.8,48.7 639.1,48.7 639.4,48.6 639.8,48.7 640.1,48.7 640.4,47.5 640.7,47.9 641.1,47.7 641.4,48.2 641.7,48.0 642.1,47.6 642.4,48.3 642.7,47.8 643.1,48.2 643.4,47.5 643.7,47.8 644.0,47.9 644.4,47.3 644.7,47.5 645.0,47.3 645.4,47.1 645.7,47.2 646.0,46.5 646.4,47.2 646.7,46.9 647.0,46.5 647.3,47.0 647.7,46.1 648.0,46.3 648.3,46.9 648.7,46.6 649.0,46.2 649.3,46.7 649.7,46.1 650.0,46.1 650.3,46.0 650.6,46.2 651.0,46.0 651.3,45.5 651.6,45.6 652.0,45.8 652.3,45.9 652.6,45.6 653.0,45.7 653.3,45.6 653.6,45.0 653.9,45.2 654.3,45.8 654.6,45.1 654.9,45.3 655.3,44.6 655.6,45.9 655.9,44.7 656.3,45.0 656.6,44.9 656.9,44.3 657.2,44.6 657.6,44.9 657.9,44.3 658.2,44.8 658.6,44.3 658.9,44.7 659.2,45.0 659.6,43.9 659.9,44.3 660.2,43.9 660.5,43.8 660.9,44.0 661.2,44.0 661.5,44.0 661.9,43.9 662.2,43.1 662.5,43.5 662.9,43.0 663.2,43.6 663.5,43.7 663.8,43.5 664.2,43.2 664.5,43.4 664.8,43.4 665.2,43.3 665.5,42.9 665.8,42.9 666.2,43.3 666.5,42.8 666.8,42.8 667.1,42.7 667.5,42.7 667.8,42.6 668.1,42.3 668.5,42.2 668.8,42.1 669.1,42.2 669.5,42.2 669.8,41.5 670.1,42.3 670.4,41.5 670.8,41.7 671.1,41.3 671.4,41.3 671.8,41.4 672.1,41.5" fill="none" stroke="#505050" stroke-width="1.45" stroke-linejoin="round" /><polyline points="549.0,70.3 549.3,70.4 549.7,70.0 550.0,70.5 550.3,69.6 550.7,70.1 551.0,70.0 551.3,69.8 551.6,69.8 552.0,69.6 552.3,69.9 552.6,69.6 553.0,69.9 553.3,69.8 553.6,69.7 554.0,69.6 554.3,69.3 554.6,69.7 554.9,69.7 555.3,69.3 555.6,69.1 555.9,69.2 556.3,69.6 556.6,68.8 556.9,69.4 557.3,69.1 557.6,69.4 557.9,68.7 558.2,69.3 558.6,68.8 558.9,69.2 559.2,69.5 559.6,69.0 559.9,69.6 560.2,69.0 560.6,69.2 560.9,69.6 561.2,69.2 561.5,69.0 561.9,68.2 562.2,68.6 562.5,68.9 562.9,68.6 563.2,68.5 563.5,68.9 563.9,68.3 564.2,68.4 564.5,68.9 564.8,69.3 565.2,68.5 565.5,68.7 565.8,68.8 566.2,68.5 566.5,68.4 566.8,68.7 567.2,68.3 567.5,68.4 567.8,69.1 568.1,68.0 568.5,69.1 568.8,69.0 569.1,68.4 569.5,68.9 569.8,68.6 570.1,68.3 570.5,68.4 570.8,68.3 571.1,69.0 571.4,68.2 571.8,68.1 572.1,68.4 572.4,68.3 572.8,69.1 573.1,68.3 573.4,68.3 573.8,68.3 574.1,68.3 574.4,67.9 574.7,68.5 575.1,68.3 575.4,68.4 575.7,68.9 576.1,68.8 576.4,68.8 576.7,68.3 577.1,68.5 577.4,68.4 577.7,68.5 578.0,68.5 578.4,68.4 578.7,68.9 579.0,68.4 579.4,69.1 579.7,68.8 580.0,68.7 580.4,68.8 580.7,68.6 581.0,68.7 581.3,69.1 581.7,68.7 582.0,70.1 582.3,68.5 582.7,68.5 583.0,69.3 583.3,68.8 583.7,68.8 584.0,68.7 584.3,68.9 584.6,68.8 585.0,69.3 585.3,68.9 585.6,69.1 586.0,69.3 586.3,69.2 586.6,69.0 587.0,68.9 587.3,68.8 587.6,68.8 587.9,69.5 588.3,69.1 588.6,69.2 588.9,69.4 589.3,69.5 589.6,69.7 589.9,69.6 590.3,69.4 590.6,69.2 590.9,69.7 591.2,69.6 591.6,69.6 591.9,69.4 592.2,69.8 592.6,70.0 592.9,69.8 593.2,70.1 593.6,70.0 593.9,69.9 594.2,70.4 594.5,70.0 594.9,70.3 595.2,69.8 595.5,70.5 595.9,70.2 596.2,70.4 596.5,70.3 596.9,70.6 597.2,70.3 597.5,70.2 597.8,70.6 598.2,70.7 598.5,70.5 598.8,70.9 599.2,71.0 599.5,70.5 599.8,70.8 600.2,70.8 600.5,70.2 600.8,70.2 601.1,69.8 601.5,70.7 601.8,70.0 602.1,69.9 602.5,70.0 602.8,70.1 603.1,69.6 603.5,69.7 603.8,69.4 604.1,69.9 604.4,68.3 604.8,68.2 605.1,67.9 605.4,68.1 605.8,67.4 606.1,67.7 606.4,66.7 606.8,67.3 607.1,67.0 607.4,67.0 607.7,66.6 608.1,66.3 608.4,66.2 608.7,65.4 609.1,65.8 609.4,65.8 609.7,66.2 610.1,65.6 610.4,65.1 610.7,66.2 611.0,65.3 611.4,65.7 611.7,65.4 612.0,64.8 612.4,66.1 612.7,65.9 613.0,66.3 613.4,66.1 613.7,66.6 614.0,67.0 614.3,66.9 614.7,66.8 615.0,66.8 615.3,67.1 615.7,66.9 616.0,67.4 616.3,67.7 616.7,67.2 617.0,67.4 617.3,68.4 617.6,68.0 618.0,68.7 618.3,68.5 618.6,68.6 619.0,68.6 619.3,69.2 619.6,69.3 620.0,69.0 620.3,68.5 620.6,68.8 620.9,69.2 621.3,69.0 621.6,69.5 621.9,69.5 622.3,69.5 622.6,69.5 622.9,69.4 623.3,69.5 623.6,69.4 623.9,69.0 624.2,69.3 624.6,69.3 624.9,69.6 625.2,69.1 625.6,69.0 625.9,69.8 626.2,69.4 626.6,69.5 626.9,69.6 627.2,69.0 627.5,69.4 627.9,69.1 628.2,68.7 628.5,69.1 628.9,69.0 629.2,69.1 629.5,68.8 629.9,68.8 630.2,68.5 630.5,69.0 630.8,68.1 631.2,68.7 631.5,68.5 631.8,68.5 632.2,68.6 632.5,68.4 632.8,68.0 633.2,67.8 633.5,67.8 633.8,68.1 634.1,68.2 634.5,68.2 634.8,68.2 635.1,68.2 635.5,68.0 635.8,67.7 636.1,67.9 636.5,67.8 636.8,68.5 637.1,68.2 637.4,67.6 637.8,67.8 638.1,68.2 638.4,67.8 638.8,68.0 639.1,67.7 639.4,67.7 639.8,67.7 640.1,67.3 640.4,67.2 640.7,67.2 641.1,67.6 641.4,67.3 641.7,66.7 642.1,67.4 642.4,67.1 642.7,67.2 643.1,66.9 643.4,66.8 643.7,66.1 644.0,66.7 644.4,66.0 644.7,66.4 645.0,66.9 645.4,66.4 645.7,66.4 646.0,66.0 646.4,66.2 646.7,65.6 647.0,65.9 647.3,66.0 647.7,65.7 648.0,65.4 648.3,65.0 648.7,65.4 649.0,65.3 649.3,65.3 649.7,65.5 650.0,64.8 650.3,65.5 650.6,64.8 651.0,65.9 651.3,65.4 651.6,65.2 652.0,64.7 652.3,64.9 652.6,64.9 653.0,64.6 653.3,64.6 653.6,65.0 653.9,64.7 654.3,65.2 654.6,64.9 654.9,64.5 655.3,64.6 655.6,64.4 655.9,64.0 656.3,64.5 656.6,64.0 656.9,64.6 657.2,64.4 657.6,63.4 657.9,64.1 658.2,63.7 658.6,64.4 658.9,63.8 659.2,63.9 659.6,64.0 659.9,63.4 660.2,63.7 660.5,64.0 660.9,63.4 661.2,63.7 661.5,63.4 661.9,64.1 662.2,64.0 662.5,63.4 662.9,63.3 663.2,63.5 663.5,63.3 663.8,63.3 664.2,63.1 664.5,63.8 664.8,63.9 665.2,63.4 665.5,62.7 665.8,62.8 666.2,63.3 666.5,62.9 666.8,63.0 667.1,63.2 667.5,63.1 667.8,63.6 668.1,62.8 668.5,63.2 668.8,62.8 669.1,63.2 669.5,62.6 669.8,63.0 670.1,63.5 670.4,63.0 670.8,63.3 671.1,63.0 671.4,63.2 671.8,63.1 672.1,63.3" fill="none" stroke="#e8383c" stroke-width="1.45" stroke-linejoin="round" /><polyline points="549.0,86.2 549.3,86.4 549.7,86.7 550.0,86.3 550.3,86.7 550.7,86.8 551.0,86.6 551.3,85.9 551.6,87.0 552.0,86.1 552.3,86.5 552.6,86.6 553.0,87.0 553.3,86.5 553.6,86.2 554.0,86.7 554.3,87.0 554.6,86.2 554.9,86.7 555.3,86.5 555.6,86.6 555.9,86.4 556.3,86.6 556.6,86.7 556.9,87.2 557.3,85.9 557.6,87.0 557.9,86.5 558.2,86.2 558.6,86.1 558.9,86.9 559.2,86.0 559.6,87.1 559.9,86.1 560.2,86.6 560.6,86.2 560.9,86.1 561.2,86.3 561.5,87.1 561.9,86.6 562.2,86.6 562.5,86.8 562.9,86.9 563.2,86.2 563.5,86.6 563.9,86.5 564.2,86.4 564.5,85.9 564.8,86.8 565.2,86.7 565.5,86.4 565.8,87.6 566.2,86.1 566.5,86.4 566.8,86.6 567.2,86.3 567.5,86.5 567.8,87.0 568.1,86.2 568.5,85.9 568.8,86.3 569.1,86.2 569.5,86.3 569.8,86.3 570.1,86.5 570.5,87.2 570.8,86.5 571.1,87.1 571.4,86.5 571.8,86.3 572.1,85.9 572.4,86.5 572.8,86.6 573.1,87.3 573.4,85.9 573.8,86.3 574.1,86.4 574.4,86.4 574.7,86.5 575.1,86.2 575.4,86.5 575.7,86.2 576.1,86.2 576.4,86.6 576.7,86.9 577.1,86.3 577.4,86.0 577.7,86.4 578.0,86.6 578.4,86.6 578.7,87.0 579.0,86.3 579.4,86.5 579.7,86.4 580.0,87.2 580.4,86.8 580.7,86.6 581.0,86.5 581.3,87.0 581.7,86.3 582.0,87.1 582.3,87.1 582.7,87.0 583.0,86.9 583.3,86.9 583.7,87.2 584.0,86.9 584.3,87.3 584.6,86.5 585.0,87.4 585.3,87.0 585.6,87.4 586.0,87.2 586.3,87.0 586.6,87.1 587.0,87.0 587.3,87.5 587.6,86.8 587.9,86.8 588.3,87.6 588.6,87.5 588.9,87.1 589.3,87.6 589.6,87.0 589.9,87.5 590.3,87.1 590.6,87.8 590.9,87.6 591.2,87.7 591.6,87.1 591.9,87.4 592.2,87.4 592.6,87.8 592.9,88.0 593.2,87.5 593.6,88.0 593.9,88.2 594.2,88.4 594.5,88.4 594.9,88.5 595.2,88.9 595.5,88.2 595.9,89.1 596.2,88.4 596.5,88.9 596.9,88.7 597.2,89.1 597.5,89.0 597.8,89.5 598.2,88.7 598.5,89.5 598.8,89.4 599.2,89.6 599.5,89.1 599.8,89.7 600.2,89.3 600.5,89.3 600.8,88.9 601.1,88.8 601.5,88.8 601.8,88.0 602.1,87.2 602.5,87.4 602.8,87.3 603.1,86.5 603.5,86.3 603.8,85.7 604.1,86.0 604.4,85.3 604.8,85.7 605.1,85.4 605.4,85.4 605.8,84.9 606.1,84.6 606.4,84.0 606.8,84.3 607.1,82.8 607.4,82.8 607.7,83.5 608.1,82.5 608.4,82.1 608.7,82.1 609.1,82.4 609.4,82.3 609.7,82.1 610.1,81.7 610.4,81.7 610.7,82.0 611.0,81.7 611.4,82.1 611.7,81.7 612.0,82.6 612.4,82.5 612.7,82.7 613.0,82.8 613.4,82.5 613.7,83.9 614.0,83.6 614.3,84.1 614.7,84.4 615.0,85.0 615.3,85.0 615.7,85.9 616.0,85.9 616.3,85.8 616.7,86.1 617.0,87.2 617.3,86.4 617.6,86.8 618.0,86.9 618.3,87.6 618.6,87.8 619.0,88.5 619.3,88.1 619.6,88.2 620.0,89.4 620.3,88.4 620.6,89.4 620.9,89.1 621.3,90.0 621.6,89.7 621.9,90.3 622.3,90.1 622.6,90.3 622.9,89.9 623.3,90.3 623.6,90.3 623.9,90.3 624.2,90.6 624.6,90.5 624.9,91.0 625.2,89.8 625.6,90.3 625.9,90.1 626.2,90.3 626.6,90.5 626.9,90.7 627.2,90.5 627.5,89.7 627.9,89.7 628.2,89.6 628.5,89.9 628.9,89.4 629.2,89.7 629.5,89.3 629.9,89.6 630.2,89.6 630.5,90.0 630.8,89.6 631.2,89.4 631.5,89.7 631.8,89.2 632.2,89.8 632.5,89.4 632.8,89.5 633.2,89.2 633.5,89.3 633.8,89.1 634.1,89.0 634.5,89.2 634.8,89.3 635.1,88.6 635.5,89.0 635.8,89.3 636.1,88.9 636.5,89.3 636.8,89.2 637.1,88.6 637.4,88.7 637.8,89.3 638.1,89.2 638.4,88.9 638.8,88.8 639.1,88.1 639.4,88.7 639.8,88.2 640.1,88.7 640.4,88.7 640.7,88.6 641.1,88.8 641.4,88.7 641.7,88.2 642.1,88.5 642.4,88.9 642.7,89.2 643.1,88.2 643.4,88.7 643.7,88.9 644.0,88.7 644.4,88.4 644.7,88.8 645.0,89.0 645.4,88.5 645.7,88.2 646.0,88.0 646.4,88.6 646.7,88.8 647.0,88.3 647.3,88.3 647.7,88.2 648.0,88.9 648.3,88.0 648.7,88.5 649.0,88.0 649.3,88.4 649.7,88.3 650.0,88.5 650.3,88.1 650.6,87.9 651.0,87.9 651.3,87.7 651.6,88.3 652.0,88.0 652.3,87.4 652.6,88.0 653.0,87.7 653.3,87.3 653.6,87.7 653.9,87.7 654.3,87.5 654.6,87.5 654.9,87.2 655.3,87.1 655.6,88.0 655.9,87.0 656.3,87.5 656.6,87.3 656.9,87.1 657.2,86.4 657.6,87.2 657.9,86.5 658.2,87.3 658.6,86.4 658.9,86.1 659.2,86.7 659.6,86.1 659.9,86.2 660.2,86.3 660.5,85.6 660.9,85.3 661.2,85.6 661.5,85.8 661.9,85.4 662.2,85.2 662.5,85.7 662.9,85.5 663.2,85.1 663.5,85.6 663.8,84.8 664.2,84.9 664.5,84.5 664.8,84.9 665.2,85.0 665.5,84.6 665.8,84.2 666.2,84.7 666.5,84.5 666.8,84.7 667.1,84.2 667.5,84.7 667.8,84.5 668.1,85.0 668.5,84.8 668.8,84.8 669.1,85.0 669.5,85.3 669.8,85.6 670.1,85.2 670.4,85.4 670.8,85.3 671.1,85.6 671.4,85.3 671.8,85.8 672.1,86.5" fill="none" stroke="#3a78e8" stroke-width="1.45" stroke-linejoin="round" /><polyline points="549.0,103.6 549.3,103.5 549.7,103.5 550.0,103.4 550.3,103.9 550.7,103.5 551.0,103.4 551.3,104.2 551.6,104.0 552.0,103.8 552.3,103.5 552.6,104.1 553.0,104.3 553.3,103.7 553.6,103.9 554.0,103.9 554.3,104.2 554.6,103.9 554.9,103.9 555.3,103.7 555.6,103.6 555.9,103.9 556.3,103.9 556.6,103.7 556.9,103.5 557.3,103.8 557.6,103.7 557.9,103.9 558.2,104.2 558.6,104.2 558.9,104.3 559.2,103.4 559.6,104.4 559.9,103.6 560.2,104.1 560.6,103.9 560.9,104.2 561.2,103.7 561.5,104.2 561.9,103.5 562.2,104.4 562.5,103.7 562.9,104.7 563.2,103.9 563.5,104.0 563.9,104.0 564.2,104.2 564.5,104.0 564.8,104.0 565.2,103.9 565.5,104.1 565.8,104.5 566.2,104.0 566.5,104.2 566.8,104.0 567.2,104.1 567.5,104.3 567.8,104.3 568.1,103.9 568.5,104.4 568.8,104.2 569.1,104.4 569.5,105.0 569.8,104.3 570.1,103.8 570.5,104.7 570.8,104.1 571.1,104.2 571.4,104.2 571.8,104.6 572.1,103.9 572.4,104.2 572.8,104.2 573.1,104.6 573.4,104.5 573.8,104.4 574.1,104.5 574.4,104.2 574.7,104.2 575.1,104.8 575.4,104.4 575.7,104.6 576.1,104.4 576.4,104.2 576.7,104.2 577.1,104.7 577.4,105.2 577.7,104.6 578.0,105.1 578.4,104.6 578.7,104.7 579.0,104.9 579.4,104.4 579.7,104.7 580.0,104.6 580.4,104.9 580.7,104.2 581.0,105.1 581.3,105.1 581.7,104.9 582.0,105.0 582.3,104.8 582.7,104.8 583.0,105.0 583.3,104.5 583.7,104.7 584.0,104.8 584.3,105.7 584.6,104.9 585.0,105.7 585.3,104.9 585.6,104.1 586.0,105.1 586.3,105.2 586.6,105.7 587.0,104.9 587.3,105.4 587.6,105.0 587.9,105.4 588.3,105.5 588.6,105.1 588.9,105.7 589.3,105.5 589.6,105.2 589.9,105.8 590.3,105.3 590.6,105.7 590.9,105.4 591.2,105.4 591.6,106.1 591.9,106.3 592.2,106.2 592.6,106.1 592.9,105.9 593.2,106.8 593.6,106.3 593.9,106.4 594.2,106.2 594.5,106.1 594.9,106.7 595.2,106.9 595.5,106.4 595.9,106.7 596.2,106.9 596.5,107.0 596.9,106.7 597.2,106.6 597.5,107.0 597.8,107.3 598.2,107.5 598.5,107.2 598.8,107.9 599.2,107.0 599.5,107.2 599.8,107.4 600.2,107.4 600.5,107.4 600.8,107.0 601.1,106.8 601.5,106.5 601.8,107.0 602.1,106.4 602.5,106.5 602.8,106.5 603.1,106.0 603.5,105.4 603.8,105.5 604.1,105.4 604.4,105.6 604.8,104.9 605.1,104.3 605.4,105.3 605.8,104.3 606.1,103.9 606.4,103.2 606.8,102.9 607.1,103.0 607.4,102.9 607.7,102.4 608.1,102.6 608.4,102.2 608.7,101.6 609.1,102.5 609.4,101.3 609.7,102.1 610.1,101.5 610.4,101.0 610.7,101.4 611.0,102.1 611.4,101.4 611.7,101.8 612.0,102.6 612.4,102.0 612.7,102.8 613.0,102.4 613.4,103.1 613.7,103.4 614.0,103.7 614.3,103.8 614.7,104.8 615.0,104.2 615.3,105.4 615.7,105.3 616.0,105.4 616.3,106.1 616.7,106.4 617.0,106.5 617.3,106.6 617.6,107.5 618.0,107.2 618.3,107.1 618.6,108.3 619.0,108.2 619.3,108.2 619.6,108.1 620.0,109.0 620.3,108.8 620.6,109.1 620.9,109.3 621.3,109.2 621.6,110.4 621.9,110.0 622.3,110.3 622.6,109.9 622.9,110.6 623.3,109.4 623.6,110.2 623.9,109.6 624.2,110.5 624.6,110.7 624.9,110.7 625.2,110.2 625.6,110.7 625.9,110.7 626.2,110.9 626.6,111.2 626.9,110.7 627.2,111.2 627.5,111.2 627.9,111.3 628.2,110.8 628.5,110.9 628.9,111.0 629.2,110.9 629.5,111.0 629.9,111.0 630.2,111.4 630.5,111.1 630.8,111.6 631.2,111.2 631.5,112.0 631.8,111.4 632.2,111.4 632.5,111.1 632.8,111.8 633.2,111.9 633.5,111.5 633.8,111.8 634.1,112.1 634.5,111.4 634.8,111.9 635.1,111.6 635.5,111.6 635.8,111.3 636.1,111.7 636.5,111.7 636.8,111.9 637.1,111.6 637.4,111.6 637.8,112.4 638.1,111.8 638.4,112.0 638.8,111.9 639.1,111.5 639.4,111.8 639.8,111.9 640.1,111.4 640.4,112.5 640.7,111.7 641.1,111.7 641.4,112.0 641.7,112.1 642.1,112.1 642.4,111.9 642.7,112.4 643.1,112.1 643.4,112.0 643.7,112.1 644.0,111.8 644.4,111.9 644.7,112.1 645.0,111.8 645.4,111.8 645.7,112.0 646.0,112.0 646.4,112.0 646.7,111.8 647.0,112.5 647.3,112.0 647.7,112.3 648.0,112.2 648.3,111.8 648.7,112.1 649.0,112.2 649.3,112.4 649.7,111.6 650.0,111.7 650.3,112.4 650.6,111.8 651.0,111.8 651.3,112.3 651.6,112.0 652.0,112.4 652.3,111.5 652.6,112.4 653.0,112.3 653.3,112.0 653.6,111.9 653.9,112.4 654.3,111.7 654.6,112.7 654.9,112.2 655.3,111.4 655.6,111.7 655.9,111.7 656.3,111.7 656.6,111.1 656.9,111.2 657.2,110.9 657.6,110.6 657.9,110.4 658.2,110.5 658.6,110.1 658.9,110.0 659.2,109.8 659.6,109.5 659.9,109.8 660.2,109.4 660.5,109.0 660.9,108.4 661.2,108.8 661.5,108.4 661.9,108.2 662.2,107.8 662.5,107.7 662.9,108.2 663.2,107.8 663.5,107.5 663.8,107.5 664.2,107.3 664.5,107.6 664.8,107.3 665.2,107.2 665.5,107.9 665.8,107.5 666.2,107.9 666.5,107.4 666.8,107.6 667.1,108.0 667.5,108.0 667.8,108.1 668.1,108.2 668.5,107.8 668.8,108.7 669.1,108.7 669.5,108.4 669.8,109.3 670.1,109.6 670.4,110.1 670.8,109.8 671.1,110.2 671.4,109.7 671.8,111.2 672.1,110.8" fill="none" stroke="#3cae5c" stroke-width="1.45" stroke-linejoin="round" /><polyline points="549.0,122.4 549.3,122.3 549.7,122.1 550.0,121.9 550.3,122.5 550.7,121.9 551.0,122.6 551.3,122.2 551.6,122.5 552.0,122.4 552.3,122.2 552.6,122.2 553.0,122.6 553.3,122.7 553.6,122.8 554.0,122.0 554.3,122.4 554.6,122.5 554.9,122.9 555.3,122.5 555.6,122.0 555.9,122.4 556.3,121.9 556.6,122.9 556.9,122.5 557.3,122.7 557.6,121.8 557.9,122.5 558.2,122.3 558.6,122.6 558.9,122.9 559.2,122.3 559.6,123.0 559.9,122.6 560.2,122.9 560.6,122.5 560.9,122.7 561.2,123.1 561.5,121.9 561.9,123.0 562.2,122.9 562.5,123.0 562.9,123.0 563.2,122.6 563.5,122.7 563.9,122.4 564.2,122.9 564.5,123.0 564.8,122.6 565.2,122.5 565.5,122.7 565.8,122.8 566.2,122.9 566.5,123.3 566.8,122.7 567.2,122.9 567.5,123.0 567.8,123.2 568.1,122.6 568.5,123.2 568.8,122.9 569.1,122.5 569.5,123.4 569.8,122.9 570.1,122.8 570.5,123.0 570.8,123.2 571.1,123.1 571.4,123.6 571.8,123.4 572.1,122.9 572.4,123.2 572.8,122.6 573.1,122.9 573.4,123.3 573.8,123.4 574.1,123.5 574.4,123.0 574.7,123.3 575.1,123.3 575.4,123.5 575.7,123.5 576.1,123.3 576.4,123.7 576.7,123.1 577.1,123.5 577.4,123.4 577.7,123.4 578.0,124.3 578.4,123.4 578.7,123.9 579.0,123.5 579.4,123.4 579.7,124.0 580.0,123.3 580.4,123.5 580.7,123.6 581.0,123.3 581.3,124.2 581.7,123.6 582.0,123.9 582.3,123.5 582.7,123.8 583.0,123.8 583.3,124.2 583.7,123.7 584.0,123.7 584.3,124.2 584.6,123.9 585.0,123.6 585.3,124.0 585.6,124.1 586.0,124.4 586.3,124.3 586.6,124.4 587.0,124.6 587.3,123.9 587.6,124.4 587.9,124.2 588.3,124.0 588.6,124.3 588.9,123.9 589.3,124.3 589.6,124.0 589.9,124.5 590.3,124.6 590.6,124.0 590.9,124.7 591.2,124.6 591.6,125.0 591.9,125.2 592.2,124.8 592.6,125.0 592.9,125.0 593.2,125.7 593.6,125.7 593.9,126.1 594.2,125.6 594.5,126.1 594.9,126.0 595.2,126.3 595.5,126.1 595.9,126.1 596.2,126.9 596.5,126.2 596.9,126.8 597.2,127.4 597.5,126.5 597.8,126.8 598.2,127.1 598.5,126.5 598.8,127.2 599.2,126.7 599.5,126.6 599.8,127.1 600.2,126.8 600.5,127.3 600.8,127.2 601.1,127.1 601.5,126.5 601.8,126.4 602.1,126.6 602.5,125.8 602.8,126.4 603.1,126.3 603.5,126.3 603.8,125.7 604.1,125.2 604.4,125.7 604.8,124.8 605.1,125.2 605.4,124.8 605.8,124.0 606.1,124.4 606.4,124.3 606.8,124.2 607.1,124.0 607.4,123.2 607.7,123.7 608.1,123.2 608.4,123.2 608.7,123.5 609.1,122.7 609.4,123.4 609.7,123.1 610.1,122.4 610.4,122.7 610.7,122.6 611.0,122.8 611.4,123.1 611.7,123.4 612.0,123.8 612.4,123.4 612.7,123.9 613.0,123.8 613.4,124.1 613.7,124.4 614.0,125.0 614.3,124.6 614.7,125.1 615.0,125.2 615.3,125.9 615.7,126.1 616.0,126.5 616.3,125.9 616.7,126.6 617.0,126.8 617.3,127.3 617.6,127.0 618.0,127.7 618.3,128.0 618.6,128.0 619.0,127.4 619.3,128.0 619.6,128.9 620.0,128.7 620.3,128.6 620.6,128.7 620.9,129.2 621.3,129.5 621.6,129.0 621.9,129.6 622.3,130.0 622.6,130.2 622.9,129.7 623.3,129.5 623.6,130.0 623.9,129.6 624.2,130.3 624.6,130.2 624.9,129.5 625.2,130.0 625.6,129.9 625.9,129.5 626.2,130.6 626.6,130.1 626.9,130.1 627.2,130.3 627.5,130.1 627.9,130.0 628.2,130.4 628.5,130.1 628.9,130.6 629.2,130.0 629.5,130.1 629.9,130.8 630.2,130.3 630.5,130.2 630.8,130.8 631.2,130.4 631.5,130.0 631.8,130.2 632.2,130.5 632.5,130.6 632.8,130.0 633.2,130.4 633.5,130.2 633.8,130.4 634.1,130.3 634.5,130.6 634.8,130.3 635.1,130.7 635.5,130.3 635.8,130.7 636.1,130.1 636.5,130.0 636.8,130.5 637.1,130.2 637.4,130.3 637.8,130.1 638.1,130.7 638.4,130.4 638.8,130.4 639.1,129.9 639.4,130.1 639.8,130.0 640.1,130.1 640.4,130.2 640.7,130.0 641.1,129.7 641.4,130.4 641.7,130.1 642.1,129.5 642.4,129.4 642.7,129.7 643.1,129.5 643.4,129.5 643.7,129.3 644.0,128.9 644.4,129.0 644.7,128.9 645.0,128.9 645.4,128.8 645.7,128.0 646.0,128.5 646.4,129.0 646.7,128.3 647.0,128.9 647.3,128.2 647.7,127.8 648.0,127.9 648.3,128.1 648.7,127.9 649.0,128.0 649.3,127.7 649.7,127.8 650.0,127.4 650.3,126.9 650.6,127.6 651.0,127.5 651.3,127.1 651.6,126.5 652.0,126.8 652.3,127.0 652.6,126.4 653.0,126.2 653.3,125.9 653.6,126.4 653.9,126.4 654.3,125.9 654.6,126.4 654.9,126.1 655.3,126.8 655.6,126.1 655.9,125.6 656.3,125.8 656.6,126.5 656.9,125.9 657.2,125.6 657.6,126.6 657.9,126.0 658.2,125.9 658.6,126.5 658.9,125.8 659.2,126.6 659.6,127.1 659.9,126.4 660.2,126.2 660.5,126.2 660.9,126.2 661.2,127.3 661.5,126.6 661.9,126.6 662.2,126.4 662.5,126.3 662.9,126.8 663.2,126.5 663.5,126.8 663.8,126.5 664.2,126.6 664.5,126.7 664.8,126.4 665.2,126.8 665.5,127.2 665.8,126.6 666.2,126.9 666.5,126.8 666.8,127.6 667.1,127.2 667.5,126.5 667.8,127.5 668.1,127.8 668.5,127.8 668.8,128.1 669.1,127.9 669.5,128.0 669.8,127.8 670.1,127.9 670.4,128.2 670.8,128.7 671.1,128.8 671.4,128.4 671.8,128.3 672.1,129.1" fill="none" stroke="#a66ee6" stroke-width="1.45" stroke-linejoin="round" /><polyline points="549.0,141.4 549.3,141.1 549.7,141.5 550.0,141.4 550.3,141.0 550.7,141.1 551.0,140.9 551.3,141.7 551.6,141.4 552.0,141.6 552.3,141.4 552.6,141.3 553.0,141.3 553.3,141.3 553.6,140.8 554.0,141.3 554.3,141.3 554.6,141.2 554.9,141.3 555.3,141.3 555.6,141.4 555.9,141.3 556.3,141.7 556.6,141.8 556.9,141.7 557.3,141.3 557.6,141.1 557.9,141.5 558.2,141.3 558.6,141.2 558.9,141.5 559.2,141.5 559.6,141.4 559.9,142.0 560.2,141.5 560.6,141.4 560.9,141.7 561.2,141.7 561.5,141.4 561.9,141.7 562.2,141.3 562.5,141.1 562.9,141.4 563.2,141.8 563.5,141.3 563.9,141.0 564.2,141.3 564.5,141.7 564.8,141.8 565.2,141.7 565.5,141.7 565.8,141.8 566.2,142.0 566.5,141.8 566.8,141.3 567.2,142.1 567.5,142.0 567.8,141.4 568.1,141.2 568.5,141.5 568.8,142.2 569.1,142.0 569.5,141.1 569.8,141.7 570.1,141.9 570.5,141.6 570.8,142.0 571.1,141.2 571.4,141.9 571.8,141.9 572.1,142.0 572.4,141.7 572.8,142.1 573.1,141.5 573.4,142.0 573.8,141.8 574.1,142.1 574.4,142.5 574.7,141.7 575.1,141.7 575.4,142.0 575.7,141.7 576.1,141.9 576.4,142.4 576.7,141.9 577.1,142.3 577.4,142.3 577.7,141.3 578.0,141.6 578.4,142.3 578.7,142.6 579.0,142.3 579.4,142.3 579.7,142.1 580.0,142.4 580.4,142.4 580.7,142.8 581.0,143.0 581.3,142.7 581.7,141.9 582.0,142.7 582.3,143.0 582.7,142.7 583.0,143.3 583.3,142.6 583.7,142.4 584.0,143.2 584.3,142.8 584.6,142.7 585.0,143.0 585.3,142.8 585.6,143.1 586.0,143.0 586.3,143.2 586.6,143.7 587.0,143.1 587.3,143.6 587.6,143.7 587.9,143.5 588.3,143.3 588.6,143.9 588.9,144.1 589.3,143.7 589.6,143.8 589.9,143.9 590.3,144.1 590.6,144.2 590.9,144.2 591.2,144.6 591.6,144.7 591.9,144.6 592.2,145.2 592.6,145.2 592.9,145.7 593.2,145.2 593.6,146.0 593.9,145.7 594.2,145.8 594.5,146.1 594.9,145.7 595.2,146.7 595.5,146.8 595.9,146.6 596.2,146.9 596.5,147.5 596.9,147.3 597.2,147.4 597.5,147.8 597.8,147.6 598.2,147.4 598.5,147.7 598.8,147.4 599.2,147.8 599.5,147.9 599.8,147.9 600.2,147.9 600.5,147.3 600.8,147.9 601.1,148.0 601.5,147.6 601.8,147.4 602.1,147.8 602.5,147.1 602.8,147.5 603.1,146.8 603.5,146.6 603.8,146.5 604.1,146.9 604.4,146.8 604.8,145.8 605.1,146.3 605.4,146.2 605.8,145.2 606.1,145.4 606.4,145.2 606.8,145.7 607.1,144.8 607.4,144.3 607.7,144.5 608.1,144.9 608.4,144.2 608.7,144.8 609.1,144.5 609.4,144.6 609.7,144.0 610.1,144.4 610.4,144.0 610.7,144.1 611.0,144.1 611.4,144.5 611.7,144.4 612.0,145.2 612.4,144.5 612.7,145.1 613.0,145.5 613.4,145.5 613.7,146.5 614.0,146.2 614.3,146.8 614.7,147.0 615.0,147.1 615.3,147.0 615.7,147.3 616.0,147.5 616.3,148.1 616.7,148.3 617.0,148.8 617.3,148.2 617.6,148.5 618.0,149.2 618.3,149.5 618.6,149.3 619.0,149.4 619.3,150.1 619.6,149.7 620.0,149.8 620.3,150.3 620.6,150.5 620.9,150.0 621.3,150.8 621.6,150.4 621.9,150.8 622.3,150.8 622.6,150.3 622.9,151.0 623.3,150.8 623.6,150.8 623.9,150.9 624.2,151.1 624.6,150.9 624.9,151.0 625.2,151.1 625.6,151.7 625.9,151.4 626.2,151.3 626.6,152.1 626.9,151.7 627.2,151.6 627.5,151.5 627.9,151.7 628.2,152.3 628.5,151.8 628.9,151.8 629.2,151.8 629.5,152.4 629.9,152.5 630.2,152.3 630.5,152.5 630.8,152.0 631.2,152.5 631.5,151.9 631.8,152.6 632.2,151.8 632.5,151.9 632.8,152.4 633.2,152.5 633.5,152.7 633.8,152.3 634.1,153.1 634.5,152.1 634.8,152.8 635.1,152.8 635.5,152.6 635.8,152.3 636.1,152.8 636.5,152.8 636.8,152.4 637.1,153.0 637.4,153.5 637.8,152.4 638.1,153.1 638.4,153.1 638.8,152.7 639.1,153.1 639.4,153.0 639.8,152.7 640.1,153.0 640.4,152.4 640.7,152.3 641.1,152.4 641.4,152.5 641.7,153.2 642.1,151.8 642.4,152.8 642.7,152.3 643.1,152.7 643.4,152.9 643.7,152.3 644.0,152.5 644.4,152.8 644.7,152.3 645.0,152.0 645.4,152.3 645.7,152.5 646.0,152.2 646.4,151.9 646.7,152.6 647.0,152.0 647.3,151.7 647.7,151.6 648.0,151.8 648.3,152.2 648.7,151.9 649.0,151.9 649.3,151.7 649.7,151.6 650.0,151.7 650.3,150.9 650.6,150.2 651.0,149.6 651.3,148.3 651.6,147.7 652.0,146.8 652.3,146.7 652.6,146.3 653.0,145.9 653.3,145.9 653.6,145.3 653.9,145.7 654.3,146.2 654.6,146.0 654.9,146.4 655.3,146.1 655.6,146.6 655.9,145.9 656.3,145.7 656.6,145.9 656.9,146.1 657.2,146.4 657.6,146.5 657.9,147.0 658.2,146.9 658.6,147.2 658.9,147.7 659.2,147.4 659.6,146.9 659.9,147.8 660.2,148.0 660.5,148.3 660.9,148.2 661.2,148.4 661.5,148.5 661.9,148.9 662.2,149.2 662.5,148.3 662.9,148.9 663.2,149.3 663.5,149.0 663.8,149.6 664.2,149.8 664.5,149.9 664.8,150.1 665.2,150.0 665.5,150.1 665.8,150.4 666.2,150.5 666.5,150.8 666.8,151.0 667.1,150.9 667.5,151.2 667.8,151.4 668.1,151.3 668.5,151.8 668.8,151.9 669.1,151.8 669.5,152.4 669.8,152.5 670.1,152.1 670.4,152.8 670.8,152.9 671.1,152.9 671.4,153.3 671.8,154.0 672.1,154.5" fill="none" stroke="#c49a2c" stroke-width="1.45" stroke-linejoin="round" /><polyline points="549.0,160.9 549.3,160.9 549.7,160.6 550.0,160.5 550.3,160.8 550.7,160.8 551.0,161.1 551.3,161.5 551.6,160.8 552.0,160.8 552.3,161.2 552.6,160.5 553.0,161.6 553.3,161.2 553.6,161.0 554.0,161.1 554.3,161.1 554.6,160.8 554.9,161.0 555.3,161.2 555.6,161.1 555.9,160.6 556.3,160.8 556.6,160.9 556.9,160.7 557.3,161.1 557.6,160.6 557.9,160.9 558.2,161.0 558.6,160.8 558.9,161.1 559.2,160.6 559.6,161.0 559.9,161.4 560.2,161.2 560.6,161.7 560.9,160.5 561.2,161.0 561.5,161.0 561.9,161.3 562.2,161.3 562.5,160.7 562.9,161.1 563.2,160.7 563.5,160.8 563.9,160.9 564.2,161.0 564.5,160.5 564.8,161.3 565.2,160.6 565.5,161.1 565.8,161.2 566.2,161.1 566.5,161.3 566.8,160.9 567.2,161.1 567.5,161.0 567.8,161.3 568.1,160.7 568.5,161.1 568.8,161.4 569.1,161.8 569.5,161.5 569.8,160.7 570.1,160.9 570.5,161.4 570.8,160.9 571.1,160.8 571.4,161.3 571.8,161.2 572.1,161.1 572.4,161.5 572.8,160.7 573.1,160.6 573.4,161.6 573.8,160.7 574.1,161.0 574.4,160.9 574.7,161.1 575.1,160.9 575.4,161.2 575.7,161.5 576.1,161.4 576.4,161.2 576.7,161.1 577.1,161.6 577.4,160.7 577.7,160.8 578.0,161.4 578.4,161.3 578.7,161.9 579.0,161.8 579.4,161.1 579.7,161.4 580.0,161.2 580.4,162.0 580.7,161.5 581.0,161.7 581.3,161.8 581.7,162.3 582.0,162.2 582.3,161.7 582.7,162.1 583.0,162.5 583.3,161.7 583.7,162.0 584.0,162.9 584.3,162.8 584.6,162.5 585.0,162.5 585.3,162.6 585.6,162.4 586.0,162.1 586.3,163.3 586.6,162.8 587.0,162.5 587.3,163.2 587.6,162.7 587.9,163.5 588.3,163.2 588.6,163.2 588.9,162.8 589.3,163.4 589.6,163.8 589.9,163.7 590.3,163.4 590.6,163.7 590.9,163.7 591.2,164.0 591.6,164.2 591.9,164.0 592.2,164.6 592.6,164.8 592.9,164.8 593.2,164.9 593.6,165.1 593.9,165.3 594.2,165.2 594.5,165.5 594.9,165.8 595.2,166.7 595.5,166.0 595.9,166.4 596.2,166.8 596.5,167.2 596.9,167.1 597.2,167.0 597.5,167.0 597.8,167.4 598.2,167.8 598.5,167.8 598.8,168.0 599.2,168.0 599.5,168.1 599.8,167.9 600.2,167.4 600.5,168.2 600.8,168.2 601.1,167.8 601.5,166.9 601.8,167.1 602.1,167.8 602.5,167.6 602.8,166.8 603.1,166.8 603.5,166.2 603.8,166.6 604.1,166.1 604.4,165.7 604.8,165.1 605.1,165.7 605.4,165.0 605.8,165.1 606.1,165.4 606.4,164.7 606.8,165.0 607.1,164.8 607.4,164.3 607.7,164.2 608.1,163.8 608.4,163.6 608.7,162.9 609.1,163.7 609.4,163.1 609.7,163.1 610.1,163.4 610.4,162.6 610.7,163.1 611.0,163.4 611.4,162.8 611.7,163.4 612.0,163.4 612.4,163.6 612.7,163.8 613.0,163.7 613.4,164.5 613.7,164.9 614.0,164.8 614.3,165.2 614.7,165.4 615.0,165.9 615.3,166.3 615.7,166.9 616.0,167.4 616.3,167.1 616.7,167.4 617.0,167.0 617.3,166.9 617.6,167.8 618.0,167.9 618.3,168.0 618.6,167.9 619.0,168.1 619.3,168.3 619.6,168.8 620.0,168.7 620.3,169.1 620.6,169.2 620.9,169.6 621.3,169.2 621.6,169.0 621.9,169.1 622.3,169.5 622.6,169.6 622.9,170.0 623.3,170.3 623.6,169.6 623.9,169.9 624.2,170.3 624.6,170.2 624.9,170.9 625.2,170.3 625.6,170.6 625.9,169.9 626.2,170.3 626.6,171.0 626.9,171.2 627.2,170.8 627.5,170.3 627.9,170.9 628.2,171.1 628.5,171.0 628.9,170.9 629.2,171.0 629.5,171.0 629.9,171.3 630.2,171.1 630.5,171.5 630.8,171.4 631.2,171.2 631.5,171.2 631.8,171.4 632.2,171.7 632.5,171.4 632.8,171.7 633.2,171.7 633.5,171.5 633.8,171.4 634.1,171.9 634.5,171.8 634.8,171.6 635.1,171.7 635.5,171.2 635.8,171.4 636.1,171.5 636.5,172.0 636.8,171.6 637.1,171.6 637.4,170.9 637.8,171.5 638.1,171.6 638.4,171.6 638.8,171.6 639.1,171.2 639.4,171.6 639.8,171.5 640.1,172.4 640.4,171.8 640.7,171.4 641.1,171.7 641.4,171.5 641.7,171.3 642.1,171.4 642.4,171.6 642.7,171.5 643.1,171.7 643.4,170.9 643.7,171.3 644.0,171.6 644.4,170.7 644.7,170.9 645.0,171.5 645.4,171.0 645.7,171.3 646.0,170.9 646.4,171.0 646.7,170.9 647.0,170.8 647.3,170.8 647.7,170.5 648.0,170.5 648.3,170.8 648.7,170.5 649.0,170.7 649.3,170.0 649.7,170.7 650.0,169.2 650.3,169.6 650.6,168.3 651.0,167.5 651.3,166.4 651.6,165.1 652.0,164.5 652.3,164.1 652.6,163.2 653.0,163.4 653.3,162.7 653.6,162.7 653.9,163.2 654.3,162.8 654.6,163.0 654.9,163.3 655.3,163.4 655.6,163.7 655.9,163.4 656.3,163.1 656.6,163.0 656.9,163.4 657.2,163.3 657.6,164.3 657.9,163.8 658.2,163.9 658.6,163.9 658.9,164.6 659.2,164.2 659.6,164.2 659.9,165.1 660.2,165.0 660.5,165.6 660.9,165.2 661.2,165.8 661.5,165.4 661.9,165.6 662.2,165.8 662.5,165.3 662.9,166.3 663.2,166.4 663.5,166.0 663.8,166.5 664.2,166.5 664.5,166.3 664.8,167.2 665.2,166.9 665.5,167.0 665.8,167.2 666.2,167.3 666.5,167.4 666.8,168.3 667.1,168.1 667.5,168.3 667.8,167.6 668.1,169.2 668.5,169.1 668.8,168.5 669.1,169.1 669.5,169.0 669.8,169.9 670.1,169.6 670.4,170.3 670.8,170.3 671.1,170.6 671.4,170.2 671.8,171.0 672.1,170.8" fill="none" stroke="#4ed8c6" stroke-width="1.45" stroke-linejoin="round" /><polyline points="549.0,181.9 549.3,181.8 549.7,181.5 550.0,182.2 550.3,181.8 550.7,182.0 551.0,181.6 551.3,181.6 551.6,181.8 552.0,181.5 552.3,181.9 552.6,182.1 553.0,181.5 553.3,181.7 553.6,182.2 554.0,181.6 554.3,181.4 554.6,181.3 554.9,181.8 555.3,182.1 555.6,181.4 555.9,181.5 556.3,181.7 556.6,181.3 556.9,181.5 557.3,181.7 557.6,181.4 557.9,181.6 558.2,181.4 558.6,181.7 558.9,181.3 559.2,181.9 559.6,181.3 559.9,180.9 560.2,181.4 560.6,181.6 560.9,181.2 561.2,181.5 561.5,181.5 561.9,181.2 562.2,181.5 562.5,180.6 562.9,181.8 563.2,181.5 563.5,181.0 563.9,181.0 564.2,181.4 564.5,181.7 564.8,181.5 565.2,181.1 565.5,180.7 565.8,181.0 566.2,181.1 566.5,181.2 566.8,180.9 567.2,181.0 567.5,181.3 567.8,181.1 568.1,181.1 568.5,181.3 568.8,181.6 569.1,181.5 569.5,181.9 569.8,180.8 570.1,180.9 570.5,181.0 570.8,181.5 571.1,181.4 571.4,180.8 571.8,180.6 572.1,181.4 572.4,181.2 572.8,181.4 573.1,181.2 573.4,181.6 573.8,181.4 574.1,181.5 574.4,181.0 574.7,181.4 575.1,180.9 575.4,181.6 575.7,180.9 576.1,181.3 576.4,181.0 576.7,180.9 577.1,181.4 577.4,181.5 577.7,181.3 578.0,181.3 578.4,180.9 578.7,181.4 579.0,181.3 579.4,181.3 579.7,181.6 580.0,180.9 580.4,181.2 580.7,181.2 581.0,182.1 581.3,180.9 581.7,181.3 582.0,181.6 582.3,181.6 582.7,181.3 583.0,181.3 583.3,181.1 583.7,181.5 584.0,181.1 584.3,181.3 584.6,181.6 585.0,181.6 585.3,182.4 585.6,181.1 586.0,181.4 586.3,181.4 586.6,182.0 587.0,182.0 587.3,181.3 587.6,181.8 587.9,181.3 588.3,181.9 588.6,181.8 588.9,181.7 589.3,181.9 589.6,182.3 589.9,182.0 590.3,181.5 590.6,182.0 590.9,181.9 591.2,182.4 591.6,182.2 591.9,182.2 592.2,182.2 592.6,182.3 592.9,181.9 593.2,182.3 593.6,182.5 593.9,181.9 594.2,182.2 594.5,183.3 594.9,183.5 595.2,183.0 595.5,183.9 595.9,183.9 596.2,183.8 596.5,184.5 596.9,184.7 597.2,184.9 597.5,184.7 597.8,185.2 598.2,185.5 598.5,185.6 598.8,185.8 599.2,185.6 599.5,186.5 599.8,185.6 600.2,186.3 600.5,185.3 600.8,186.2 601.1,185.5 601.5,185.4 601.8,184.8 602.1,185.3 602.5,184.7 602.8,185.1 603.1,184.8 603.5,184.7 603.8,184.5 604.1,183.6 604.4,183.8 604.8,183.5 605.1,183.2 605.4,183.0 605.8,182.9 606.1,182.1 606.4,181.7 606.8,181.9 607.1,182.3 607.4,181.3 607.7,181.5 608.1,180.8 608.4,181.2 608.7,180.6 609.1,180.7 609.4,180.2 609.7,180.6 610.1,180.6 610.4,180.5 610.7,180.3 611.0,179.8 611.4,180.4 611.7,180.2 612.0,180.3 612.4,180.6 612.7,180.8 613.0,181.6 613.4,181.5 613.7,182.6 614.0,182.0 614.3,182.2 614.7,182.8 615.0,182.5 615.3,183.1 615.7,183.0 616.0,183.5 616.3,183.8 616.7,183.5 617.0,183.9 617.3,183.8 617.6,184.0 618.0,184.1 618.3,184.5 618.6,185.0 619.0,184.9 619.3,184.1 619.6,185.1 620.0,184.8 620.3,185.8 620.6,185.1 620.9,185.1 621.3,185.3 621.6,186.1 621.9,185.7 622.3,186.0 622.6,186.1 622.9,186.1 623.3,186.1 623.6,186.5 623.9,185.3 624.2,186.2 624.6,185.7 624.9,186.0 625.2,186.4 625.6,186.1 625.9,186.4 626.2,186.2 626.6,186.7 626.9,186.7 627.2,185.9 627.5,186.4 627.9,186.4 628.2,186.9 628.5,186.8 628.9,186.7 629.2,187.0 629.5,186.8 629.9,186.8 630.2,186.4 630.5,187.1 630.8,186.6 631.2,186.5 631.5,187.2 631.8,186.9 632.2,187.5 632.5,186.4 632.8,187.1 633.2,187.0 633.5,186.8 633.8,187.0 634.1,186.9 634.5,186.7 634.8,186.8 635.1,186.7 635.5,186.8 635.8,187.0 636.1,187.1 636.5,186.4 636.8,186.7 637.1,186.3 637.4,186.9 637.8,187.3 638.1,186.7 638.4,186.5 638.8,186.4 639.1,186.6 639.4,186.4 639.8,187.2 640.1,186.7 640.4,186.5 640.7,186.7 641.1,186.9 641.4,186.7 641.7,186.8 642.1,186.3 642.4,186.8 642.7,186.2 643.1,186.5 643.4,185.6 643.7,186.0 644.0,185.8 644.4,185.7 644.7,186.0 645.0,185.6 645.4,185.7 645.7,185.3 646.0,185.5 646.4,185.0 646.7,185.3 647.0,184.9 647.3,184.7 647.7,184.9 648.0,185.1 648.3,184.2 648.7,183.9 649.0,184.0 649.3,183.9 649.7,183.6 650.0,183.1 650.3,182.4 650.6,181.7 651.0,179.4 651.3,178.8 651.6,177.2 652.0,176.6 652.3,174.7 652.6,174.1 653.0,173.9 653.3,174.0 653.6,173.5 653.9,173.1 654.3,173.9 654.6,173.7 654.9,173.5 655.3,173.8 655.6,173.9 655.9,173.7 656.3,174.2 656.6,174.1 656.9,174.6 657.2,174.2 657.6,174.0 657.9,174.5 658.2,174.5 658.6,175.0 658.9,174.5 659.2,174.8 659.6,175.5 659.9,175.3 660.2,175.8 660.5,175.9 660.9,175.6 661.2,175.9 661.5,175.7 661.9,176.2 662.2,176.2 662.5,176.2 662.9,176.2 663.2,176.7 663.5,176.8 663.8,176.8 664.2,177.1 664.5,177.4 664.8,176.9 665.2,177.2 665.5,177.5 665.8,178.1 666.2,177.5 666.5,178.4 666.8,178.5 667.1,178.4 667.5,178.5 667.8,178.7 668.1,179.3 668.5,179.2 668.8,179.6 669.1,179.2 669.5,180.0 669.8,180.0 670.1,180.3 670.4,179.9 670.8,181.3 671.1,180.6 671.4,180.4 671.8,181.5 672.1,181.5" fill="none" stroke="#7a4848" stroke-width="1.45" stroke-linejoin="round" /><line x1="599.70" y1="49.50" x2="599.70" y2="192.00" stroke="#333" stroke-width="0.9" stroke-dasharray="3,2.2"/><line x1="610.50" y1="43.50" x2="610.50" y2="193.00" stroke="#333" stroke-width="0.9" stroke-dasharray="3,2.2"/><line x1="623.40" y1="49.50" x2="623.40" y2="192.00" stroke="#333" stroke-width="0.9" stroke-dasharray="3,2.2"/><line x1="653.70" y1="38.60" x2="653.70" y2="186.00" stroke="#333" stroke-width="0.9" stroke-dasharray="3,2.2"/><rect x="548.3" y="6.3" width="124.70000000000005" height="211.2" fill="none" stroke="#111" stroke-width="1.4"/><line x1="560.77" y1="217.50" x2="560.77" y2="215.50" stroke="#111" stroke-width="1" /><line x1="573.24" y1="217.50" x2="573.24" y2="214.00" stroke="#111" stroke-width="1" /><line x1="585.71" y1="217.50" x2="585.71" y2="215.50" stroke="#111" stroke-width="1" /><line x1="598.18" y1="217.50" x2="598.18" y2="214.00" stroke="#111" stroke-width="1" /><line x1="610.65" y1="217.50" x2="610.65" y2="215.50" stroke="#111" stroke-width="1" /><line x1="623.12" y1="217.50" x2="623.12" y2="214.00" stroke="#111" stroke-width="1" /><line x1="635.59" y1="217.50" x2="635.59" y2="215.50" stroke="#111" stroke-width="1" /><line x1="648.06" y1="217.50" x2="648.06" y2="214.00" stroke="#111" stroke-width="1" /><line x1="660.53" y1="217.50" x2="660.53" y2="215.50" stroke="#111" stroke-width="1" /><text x="547.5" y="227.6" font-size="9.8" font-weight="bold" text-anchor="middle" fill="#111" >2250</text><text x="572.2" y="227.6" font-size="9.8" font-weight="bold" text-anchor="middle" fill="#111" >2000</text><text x="597.7" y="227.6" font-size="9.8" font-weight="bold" text-anchor="middle" fill="#111" >1750</text><text x="622.8" y="227.6" font-size="9.8" font-weight="bold" text-anchor="middle" fill="#111" >1500</text><text x="648.0" y="227.6" font-size="9.8" font-weight="bold" text-anchor="middle" fill="#111" >1250</text><text x="673.2" y="227.6" font-size="9.8" font-weight="bold" text-anchor="middle" fill="#111" >1000</text><text x="609.8" y="238.4" font-size="10" font-weight="bold" fill="#111" text-anchor="middle">Wavenumber (cm<tspan font-size="6.5" dy="-4">-1</tspan><tspan dy="4">)</tspan></text><text x="0" y="0" font-size="9.9" font-weight="bold" fill="#111" text-anchor="middle" transform="translate(540.7,112.2) rotate(-90)">Transmittance (arb.units)</text><text x="552.1" y="18.1" font-size="9" font-weight="bold" text-anchor="start" fill="#111" >A-NiCoMn-TAC/LDH</text><text x="530.8" y="38.5" font-size="18" font-weight="bold" text-anchor="start" fill="#111" >c</text><text x="553.3" y="60.5" font-size="8.6" font-weight="bold" text-anchor="start" fill="#111" >OCP</text><text x="553.3" y="80.8" font-size="8.6" font-weight="bold" text-anchor="start" fill="#111" >1.2 V</text><text x="553.3" y="96.9" font-size="8.6" font-weight="bold" text-anchor="start" fill="#111" >1.3 V</text><text x="553.3" y="115.8" font-size="8.6" font-weight="bold" text-anchor="start" fill="#111" >1.4 V</text><text x="553.3" y="133.7" font-size="8.6" font-weight="bold" text-anchor="start" fill="#111" >1.5 V</text><text x="553.3" y="154.6" font-size="8.6" font-weight="bold" text-anchor="start" fill="#111" >1.6 V</text><text x="553.3" y="175.5" font-size="8.6" font-weight="bold" text-anchor="start" fill="#111" >1.7 V</text><text x="553.3" y="195.0" font-size="8.6" font-weight="bold" text-anchor="start" fill="#111" >1.8 V</text><text x="606.7" y="30.5" font-size="8.8" font-weight="normal" text-anchor="middle" fill="#111" stroke="#111" stroke-width="0.35">1650</text><text x="607.8" y="42.9" font-size="8.8" font-weight="normal" text-anchor="middle" fill="#111" stroke="#111" stroke-width="0.35">ν(N-H)</text><text x="593.9" y="202.6" font-size="8.8" font-weight="normal" text-anchor="middle" fill="#111" stroke="#111" stroke-width="0.35">1720</text><text x="596.0" y="215.1" font-size="8.8" font-weight="normal" text-anchor="middle" fill="#111" stroke="#111" stroke-width="0.35">ν(C=O)</text><text x="624.5" y="202.0" font-size="8.8" font-weight="normal" text-anchor="middle" fill="#111" stroke="#111" stroke-width="0.35">1497</text><text x="625.0" y="215.1" font-size="8.8" font-weight="normal" text-anchor="middle" fill="#111" stroke="#111" stroke-width="0.35">ν(C-N)</text><text x="657.3" y="195.4" font-size="8.8" font-weight="normal" text-anchor="middle" fill="#111" stroke="#111" stroke-width="0.35">1205</text><text x="658.4" y="208.7" font-size="8.8" font-weight="normal" text-anchor="middle" fill="#111" stroke="#111" stroke-width="0.35">ν(C-O)</text><polygon points="34.5,20.2 151.6,1.4 151.4,146.2 40.8,188.4" fill="#fff" /><polygon points="151.6,1.4 284.8,17.7 276.5,180.4 151.4,146.2" fill="#fff" /><g stroke-width="0.5" stroke-linejoin="round"><path d="M148.3,147.4L153.8,148.9L159.4,150.5L165.1,152.1L170.8,153.7L176.6,155.3L182.5,157.0L188.5,158.6L194.5,160.3L200.6,162.0L206.8,163.7L213.1,165.5L219.4,167.3L225.9,169.1L232.4,170.9L239.0,172.7L245.7,174.6L252.5,176.5L259.3,178.4L266.3,180.3L273.3,182.3L276.3,180.7L269.2,178.8L262.3,176.9L255.5,175.0L248.7,173.1L242.0,171.3L235.4,169.4L228.9,167.6L222.5,165.9L216.2,164.1L209.9,162.4L203.7,160.7L197.6,159.0L191.6,157.3L185.7,155.7L179.8,154.0L174.0,152.4L168.2,150.8L162.6,149.3L157.0,147.7L151.4,146.2Z" fill="url(#sg0)" stroke="url(#sg0)"/><path d="M145.0,148.6L150.6,150.2L156.2,151.7L161.9,153.3L167.6,155.0L173.5,156.6L179.4,158.3L185.3,159.9L191.4,161.6L197.5,163.4L203.7,165.1L210.0,166.9L216.3,168.7L222.8,170.5L229.3,172.3L235.9,174.2L242.6,176.1L249.4,178.0L256.3,179.9L263.3,181.9L270.3,183.9L273.3,182.3L266.3,180.3L259.3,178.4L252.5,176.5L245.7,174.6L239.0,172.7L232.4,170.9L225.9,169.1L219.4,167.3L213.1,165.5L206.8,163.7L200.6,162.0L194.5,160.3L188.5,158.6L182.5,157.0L176.6,155.3L170.8,153.7L165.1,152.1L159.4,150.5L153.8,148.9L148.3,147.4Z" fill="url(#sg1)" stroke="url(#sg1)"/><path d="M141.8,149.8L147.3,151.4L153.0,153.0L158.7,154.6L164.4,156.3L170.3,157.9L176.2,159.6L182.1,161.3L188.2,163.0L194.3,164.7L200.5,166.5L206.8,168.3L213.2,170.1L219.7,171.9L226.2,173.8L232.8,175.7L239.6,177.6L246.4,179.5L253.3,181.5L260.2,183.4L267.3,185.5L270.3,183.9L263.3,181.9L256.3,179.9L249.4,178.0L242.6,176.1L235.9,174.2L229.3,172.3L222.8,170.5L216.3,168.7L210.0,166.9L203.7,165.1L197.5,163.4L191.4,161.6L185.3,159.9L179.4,158.3L173.5,156.6L167.6,155.0L161.9,153.3L156.2,151.7L150.6,150.2L145.0,148.6Z" fill="url(#sg2)" stroke="url(#sg2)"/><path d="M138.5,151.1L144.1,152.7L149.7,154.3L155.4,155.9L161.2,157.6L167.0,159.2L172.9,160.9L178.9,162.6L185.0,164.4L191.1,166.1L197.4,167.9L203.7,169.7L210.0,171.5L216.5,173.4L223.1,175.3L229.7,177.2L236.4,179.1L243.3,181.0L250.2,183.0L257.2,185.0L264.3,187.1L267.3,185.5L260.2,183.4L253.3,181.5L246.4,179.5L239.6,177.6L232.8,175.7L226.2,173.8L219.7,171.9L213.2,170.1L206.8,168.3L200.5,166.5L194.3,164.7L188.2,163.0L182.1,161.3L176.2,159.6L170.3,157.9L164.4,156.3L158.7,154.6L153.0,153.0L147.3,151.4L141.8,149.8Z" fill="url(#sg3)" stroke="url(#sg3)"/><path d="M135.2,152.3L140.8,153.9L146.4,155.6L152.1,157.2L157.9,158.9L163.7,160.6L169.7,162.3L175.7,164.0L181.7,165.8L187.9,167.5L194.1,169.3L200.4,171.1L206.8,173.0L213.3,174.9L219.9,176.8L226.6,178.7L233.3,180.6L240.1,182.6L247.1,184.6L254.1,186.6L261.2,188.7L264.3,187.1L257.2,185.0L250.2,183.0L243.3,181.0L236.4,179.1L229.7,177.2L223.1,175.3L216.5,173.4L210.0,171.5L203.7,169.7L197.4,167.9L191.1,166.1L185.0,164.4L178.9,162.6L172.9,160.9L167.0,159.2L161.2,157.6L155.4,155.9L149.7,154.3L144.1,152.7L138.5,151.1Z" fill="url(#sg4)" stroke="url(#sg4)"/><path d="M131.9,153.6L137.4,155.2L143.1,156.9L148.8,158.5L154.6,160.2L160.4,161.9L166.4,163.6L172.4,165.4L178.5,167.2L184.6,168.9L190.9,170.8L197.2,172.6L203.6,174.5L210.1,176.4L216.7,178.3L223.4,180.2L230.1,182.2L237.0,184.2L243.9,186.2L251.0,188.2L258.1,190.3L261.2,188.7L254.1,186.6L247.1,184.6L240.1,182.6L233.3,180.6L226.6,178.7L219.9,176.8L213.3,174.9L206.8,173.0L200.4,171.1L194.1,169.3L187.9,167.5L181.7,165.8L175.7,164.0L169.7,162.3L163.7,160.6L157.9,158.9L152.1,157.2L146.4,155.6L140.8,153.9L135.2,152.3Z" fill="url(#sg5)" stroke="url(#sg5)"/><path d="M128.5,154.9L134.1,156.5L139.7,158.2L145.4,159.8L151.2,161.5L157.1,163.3L163.0,165.0L169.1,166.8L175.2,168.6L181.3,170.4L187.6,172.2L193.9,174.1L200.3,176.0L206.9,177.9L213.5,179.8L220.1,181.8L226.9,183.7L233.8,185.8L240.7,187.8L247.8,189.9L255.0,192.0L258.1,190.3L251.0,188.2L243.9,186.2L237.0,184.2L230.1,182.2L223.4,180.2L216.7,178.3L210.1,176.4L203.6,174.5L197.2,172.6L190.9,170.8L184.6,168.9L178.5,167.2L172.4,165.4L166.4,163.6L160.4,161.9L154.6,160.2L148.8,158.5L143.1,156.9L137.4,155.2L131.9,153.6Z" fill="url(#sg6)" stroke="url(#sg6)"/><path d="M125.1,156.2L130.7,157.8L136.3,159.5L142.0,161.2L147.8,162.9L153.7,164.6L159.7,166.4L165.7,168.2L171.8,170.0L178.0,171.8L184.3,173.7L190.6,175.6L197.0,177.5L203.6,179.4L210.2,181.3L216.9,183.3L223.7,185.3L230.5,187.4L237.5,189.4L244.6,191.5L251.8,193.7L255.0,192.0L247.8,189.9L240.7,187.8L233.8,185.8L226.9,183.7L220.1,181.8L213.5,179.8L206.9,177.9L200.3,176.0L193.9,174.1L187.6,172.2L181.3,170.4L175.2,168.6L169.1,166.8L163.0,165.0L157.1,163.3L151.2,161.5L145.4,159.8L139.7,158.2L134.1,156.5L128.5,154.9Z" fill="url(#sg7)" stroke="url(#sg7)"/><path d="M121.6,157.5L127.2,159.1L132.9,160.8L138.6,162.5L144.4,164.3L150.3,166.0L156.3,167.8L162.3,169.6L168.4,171.4L174.6,173.3L180.9,175.2L187.3,177.1L193.7,179.0L200.2,180.9L206.9,182.9L213.6,184.9L220.4,186.9L227.3,189.0L234.3,191.1L241.4,193.2L248.6,195.4L251.8,193.7L244.6,191.5L237.5,189.4L230.5,187.4L223.7,185.3L216.9,183.3L210.2,181.3L203.6,179.4L197.0,177.5L190.6,175.6L184.3,173.7L178.0,171.8L171.8,170.0L165.7,168.2L159.7,166.4L153.7,164.6L147.8,162.9L142.0,161.2L136.3,159.5L130.7,157.8L125.1,156.2Z" fill="url(#sg8)" stroke="url(#sg8)"/><path d="M118.1,158.8L123.7,160.5L129.4,162.2L135.2,163.9L141.0,165.6L146.9,167.4L152.8,169.2L158.9,171.0L165.0,172.9L171.2,174.8L177.5,176.6L183.9,178.6L190.3,180.5L196.9,182.5L203.5,184.5L210.2,186.5L217.1,188.6L224.0,190.6L231.0,192.8L238.1,194.9L245.3,197.1L248.6,195.4L241.4,193.2L234.3,191.1L227.3,189.0L220.4,186.9L213.6,184.9L206.9,182.9L200.2,180.9L193.7,179.0L187.3,177.1L180.9,175.2L174.6,173.3L168.4,171.4L162.3,169.6L156.3,167.8L150.3,166.0L144.4,164.3L138.6,162.5L132.9,160.8L127.2,159.1L121.6,157.5Z" fill="url(#sg9)" stroke="url(#sg9)"/><path d="M114.6,160.1L120.2,161.8L125.9,163.5L131.7,165.3L137.5,167.0L143.4,168.8L149.4,170.7L155.4,172.5L161.6,174.4L167.8,176.2L174.1,178.2L180.5,180.1L186.9,182.1L193.5,184.1L200.1,186.1L206.9,188.1L213.7,190.2L220.6,192.3L227.7,194.4L234.8,196.6L242.0,198.8L245.3,197.1L238.1,194.9L231.0,192.8L224.0,190.6L217.1,188.6L210.2,186.5L203.5,184.5L196.9,182.5L190.3,180.5L183.9,178.6L177.5,176.6L171.2,174.8L165.0,172.9L158.9,171.0L152.8,169.2L146.9,167.4L141.0,165.6L135.2,163.9L129.4,162.2L123.7,160.5L118.1,158.8Z" fill="url(#sg10)" stroke="url(#sg10)"/><path d="M111.1,161.4L116.7,163.2L122.4,164.9L128.1,166.7L134.0,168.5L139.9,170.3L145.9,172.1L151.9,174.0L158.1,175.8L164.3,177.8L170.6,179.7L177.0,181.6L183.5,183.6L190.1,185.6L196.7,187.7L203.5,189.8L210.3,191.9L217.3,194.0L224.3,196.1L231.4,198.3L238.7,200.6L242.0,198.8L234.8,196.6L227.7,194.4L220.6,192.3L213.7,190.2L206.9,188.1L200.1,186.1L193.5,184.1L186.9,182.1L180.5,180.1L174.1,178.2L167.8,176.2L161.6,174.4L155.4,172.5L149.4,170.7L143.4,168.8L137.5,167.0L131.7,165.3L125.9,163.5L120.2,161.8L114.6,160.1Z" fill="url(#sg11)" stroke="url(#sg11)"/><path d="M107.5,162.8L113.1,164.5L118.8,166.3L124.6,168.1L130.4,169.9L136.3,171.7L142.3,173.6L148.4,175.4L154.5,177.3L160.8,179.3L167.1,181.2L173.5,183.2L180.0,185.2L186.6,187.3L193.3,189.3L200.0,191.4L206.9,193.5L213.8,195.7L220.9,197.9L228.1,200.1L235.3,202.3L238.7,200.6L231.4,198.3L224.3,196.1L217.3,194.0L210.3,191.9L203.5,189.8L196.7,187.7L190.1,185.6L183.5,183.6L177.0,181.6L170.6,179.7L164.3,177.8L158.1,175.8L151.9,174.0L145.9,172.1L139.9,170.3L134.0,168.5L128.1,166.7L122.4,164.9L116.7,163.2L111.1,161.4Z" fill="url(#sg12)" stroke="url(#sg12)"/><path d="M103.9,164.2L109.5,165.9L115.2,167.7L121.0,169.5L126.8,171.3L132.7,173.2L138.7,175.0L144.8,176.9L151.0,178.9L157.2,180.8L163.6,182.8L170.0,184.8L176.5,186.8L183.1,188.9L189.8,191.0L196.5,193.1L203.4,195.2L210.4,197.4L217.5,199.6L224.6,201.9L231.9,204.1L235.3,202.3L228.1,200.1L220.9,197.9L213.8,195.7L206.9,193.5L200.0,191.4L193.3,189.3L186.6,187.3L180.0,185.2L173.5,183.2L167.1,181.2L160.8,179.3L154.5,177.3L148.4,175.4L142.3,173.6L136.3,171.7L130.4,169.9L124.6,168.1L118.8,166.3L113.1,164.5L107.5,162.8Z" fill="url(#sg13)" stroke="url(#sg13)"/><path d="M100.2,165.5L105.9,167.3L111.6,169.1L117.3,170.9L123.2,172.8L129.1,174.6L135.1,176.5L141.2,178.5L147.4,180.4L153.6,182.4L160.0,184.4L166.4,186.4L172.9,188.4L179.5,190.5L186.2,192.6L193.0,194.8L199.9,196.9L206.9,199.1L214.0,201.4L221.2,203.6L228.5,205.9L231.9,204.1L224.6,201.9L217.5,199.6L210.4,197.4L203.4,195.2L196.5,193.1L189.8,191.0L183.1,188.9L176.5,186.8L170.0,184.8L163.6,182.8L157.2,180.8L151.0,178.9L144.8,176.9L138.7,175.0L132.7,173.2L126.8,171.3L121.0,169.5L115.2,167.7L109.5,165.9L103.9,164.2Z" fill="url(#sg14)" stroke="url(#sg14)"/><path d="M96.5,166.9L102.2,168.7L107.9,170.5L113.7,172.4L119.5,174.2L125.5,176.1L131.5,178.0L137.6,180.0L143.7,182.0L150.0,183.9L156.4,186.0L162.8,188.0L169.3,190.1L175.9,192.2L182.6,194.3L189.5,196.5L196.4,198.7L203.4,200.9L210.5,203.2L217.7,205.5L225.0,207.8L228.5,205.9L221.2,203.6L214.0,201.4L206.9,199.1L199.9,196.9L193.0,194.8L186.2,192.6L179.5,190.5L172.9,188.4L166.4,186.4L160.0,184.4L153.6,182.4L147.4,180.4L141.2,178.5L135.1,176.5L129.1,174.6L123.2,172.8L117.3,170.9L111.6,169.1L105.9,167.3L100.2,165.5Z" fill="url(#sg15)" stroke="url(#sg15)"/><path d="M92.8,168.4L98.4,170.2L104.2,172.0L109.9,173.9L115.8,175.7L121.8,177.6L127.8,179.6L133.9,181.5L140.1,183.5L146.3,185.5L152.7,187.6L159.1,189.6L165.7,191.7L172.3,193.9L179.0,196.0L185.9,198.2L192.8,200.4L199.8,202.7L206.9,205.0L214.1,207.3L221.5,209.6L225.0,207.8L217.7,205.5L210.5,203.2L203.4,200.9L196.4,198.7L189.5,196.5L182.6,194.3L175.9,192.2L169.3,190.1L162.8,188.0L156.4,186.0L150.0,183.9L143.7,182.0L137.6,180.0L131.5,178.0L125.5,176.1L119.5,174.2L113.7,172.4L107.9,170.5L102.2,168.7L96.5,166.9Z" fill="url(#sg16)" stroke="url(#sg16)"/><path d="M89.0,169.8L94.7,171.6L100.4,173.5L106.2,175.3L112.1,177.2L118.0,179.2L124.0,181.1L130.2,183.1L136.4,185.1L142.6,187.1L149.0,189.2L155.5,191.3L162.0,193.4L168.6,195.6L175.4,197.7L182.2,200.0L189.1,202.2L196.2,204.5L203.3,206.8L210.5,209.1L217.9,211.5L221.5,209.6L214.1,207.3L206.9,205.0L199.8,202.7L192.8,200.4L185.9,198.2L179.0,196.0L172.3,193.9L165.7,191.7L159.1,189.6L152.7,187.6L146.3,185.5L140.1,183.5L133.9,181.5L127.8,179.6L121.8,177.6L115.8,175.7L109.9,173.9L104.2,172.0L98.4,170.2L92.8,168.4Z" fill="url(#sg17)" stroke="url(#sg17)"/><path d="M85.2,171.2L90.9,173.1L96.6,174.9L102.4,176.8L108.3,178.8L114.2,180.7L120.3,182.7L126.4,184.7L132.6,186.7L138.9,188.8L145.3,190.8L151.7,193.0L158.3,195.1L164.9,197.3L171.7,199.5L178.5,201.7L185.5,204.0L192.5,206.3L199.7,208.6L206.9,211.0L214.3,213.4L217.9,211.5L210.5,209.1L203.3,206.8L196.2,204.5L189.1,202.2L182.2,200.0L175.4,197.7L168.6,195.6L162.0,193.4L155.5,191.3L149.0,189.2L142.6,187.1L136.4,185.1L130.2,183.1L124.0,181.1L118.0,179.2L112.1,177.2L106.2,175.3L100.4,173.5L94.7,171.6L89.0,169.8Z" fill="url(#sg18)" stroke="url(#sg18)"/><path d="M81.4,172.7L87.0,174.5L92.8,176.4L98.6,178.3L104.5,180.3L110.4,182.3L116.5,184.3L122.6,186.3L128.8,188.3L135.1,190.4L141.5,192.5L148.0,194.7L154.5,196.8L161.2,199.0L167.9,201.3L174.8,203.5L181.7,205.8L188.8,208.1L196.0,210.5L203.2,212.9L210.6,215.3L214.3,213.4L206.9,211.0L199.7,208.6L192.5,206.3L185.5,204.0L178.5,201.7L171.7,199.5L164.9,197.3L158.3,195.1L151.7,193.0L145.3,190.8L138.9,188.8L132.6,186.7L126.4,184.7L120.3,182.7L114.2,180.7L108.3,178.8L102.4,176.8L96.6,174.9L90.9,173.1L85.2,171.2Z" fill="url(#sg19)" stroke="url(#sg19)"/><path d="M77.5,174.1L83.2,176.0L88.9,177.9L94.7,179.9L100.6,181.8L106.6,183.8L112.6,185.8L118.7,187.9L125.0,190.0L131.3,192.1L137.7,194.2L144.1,196.4L150.7,198.6L157.4,200.8L164.2,203.0L171.0,205.3L178.0,207.7L185.1,210.0L192.2,212.4L199.5,214.8L206.9,217.3L210.6,215.3L203.2,212.9L196.0,210.5L188.8,208.1L181.7,205.8L174.8,203.5L167.9,201.3L161.2,199.0L154.5,196.8L148.0,194.7L141.5,192.5L135.1,190.4L128.8,188.3L122.6,186.3L116.5,184.3L110.4,182.3L104.5,180.3L98.6,178.3L92.8,176.4L87.0,174.5L81.4,172.7Z" fill="url(#sg20)" stroke="url(#sg20)"/><path d="M73.6,175.6L79.2,177.5L85.0,179.5L90.8,181.4L96.7,183.4L102.6,185.4L108.7,187.5L114.8,189.5L121.1,191.6L127.4,193.7L133.8,195.9L140.3,198.1L146.9,200.3L153.5,202.6L160.3,204.8L167.2,207.2L174.2,209.5L181.3,211.9L188.5,214.3L195.8,216.8L203.2,219.3L206.9,217.3L199.5,214.8L192.2,212.4L185.1,210.0L178.0,207.7L171.0,205.3L164.2,203.0L157.4,200.8L150.7,198.6L144.1,196.4L137.7,194.2L131.3,192.1L125.0,190.0L118.7,187.9L112.6,185.8L106.6,183.8L100.6,181.8L94.7,179.9L88.9,177.9L83.2,176.0L77.5,174.1Z" fill="url(#sg21)" stroke="url(#sg21)"/><path d="M69.6,177.1L75.3,179.1L81.0,181.0L86.8,183.0L92.7,185.0L98.7,187.0L104.8,189.1L110.9,191.2L117.1,193.3L123.5,195.4L129.9,197.6L136.4,199.8L143.0,202.1L149.7,204.4L156.5,206.7L163.3,209.0L170.3,211.4L177.4,213.8L184.6,216.3L192.0,218.7L199.4,221.3L203.2,219.3L195.8,216.8L188.5,214.3L181.3,211.9L174.2,209.5L167.2,207.2L160.3,204.8L153.5,202.6L146.9,200.3L140.3,198.1L133.8,195.9L127.4,193.7L121.1,191.6L114.8,189.5L108.7,187.5L102.6,185.4L96.7,183.4L90.8,181.4L85.0,179.5L79.2,177.5L73.6,175.6Z" fill="url(#sg22)" stroke="url(#sg22)"/><path d="M65.6,178.6L71.3,180.6L77.0,182.6L82.8,184.6L88.7,186.6L94.7,188.6L100.8,190.7L106.9,192.8L113.2,195.0L119.5,197.2L125.9,199.4L132.4,201.6L139.0,203.9L145.7,206.2L152.5,208.5L159.4,210.9L166.4,213.3L173.6,215.7L180.8,218.2L188.1,220.7L195.6,223.3L199.4,221.3L192.0,218.7L184.6,216.3L177.4,213.8L170.3,211.4L163.3,209.0L156.5,206.7L149.7,204.4L143.0,202.1L136.4,199.8L129.9,197.6L123.5,195.4L117.1,193.3L110.9,191.2L104.8,189.1L98.7,187.0L92.7,185.0L86.8,183.0L81.0,181.0L75.3,179.1L69.6,177.1Z" fill="url(#sg23)" stroke="url(#sg23)"/><path d="M61.5,180.2L67.2,182.1L72.9,184.1L78.8,186.2L84.7,188.2L90.7,190.3L96.7,192.4L102.9,194.5L109.2,196.7L115.5,198.9L121.9,201.1L128.4,203.4L135.1,205.7L141.8,208.0L148.6,210.4L155.5,212.8L162.5,215.2L169.6,217.7L176.9,220.2L184.2,222.7L191.7,225.3L195.6,223.3L188.1,220.7L180.8,218.2L173.6,215.7L166.4,213.3L159.4,210.9L152.5,208.5L145.7,206.2L139.0,203.9L132.4,201.6L125.9,199.4L119.5,197.2L113.2,195.0L106.9,192.8L100.8,190.7L94.7,188.6L88.7,186.6L82.8,184.6L77.0,182.6L71.3,180.6L65.6,178.6Z" fill="url(#sg24)" stroke="url(#sg24)"/><path d="M57.4,181.7L63.1,183.7L68.9,185.7L74.7,187.8L80.6,189.8L86.6,191.9L92.7,194.1L98.8,196.2L105.1,198.4L111.4,200.7L117.9,202.9L124.4,205.2L131.0,207.5L137.7,209.9L144.6,212.3L151.5,214.7L158.5,217.2L165.7,219.7L172.9,222.2L180.3,224.8L187.7,227.4L191.7,225.3L184.2,222.7L176.9,220.2L169.6,217.7L162.5,215.2L155.5,212.8L148.6,210.4L141.8,208.0L135.1,205.7L128.4,203.4L121.9,201.1L115.5,198.9L109.2,196.7L102.9,194.5L96.7,192.4L90.7,190.3L84.7,188.2L78.8,186.2L72.9,184.1L67.2,182.1L61.5,180.2Z" fill="url(#sg25)" stroke="url(#sg25)"/><path d="M53.3,183.3L59.0,185.3L64.7,187.3L70.6,189.4L76.5,191.5L82.5,193.6L88.6,195.8L94.7,198.0L101.0,200.2L107.3,202.4L113.8,204.7L120.3,207.0L126.9,209.4L133.7,211.8L140.5,214.2L147.4,216.6L154.5,219.1L161.6,221.7L168.9,224.2L176.3,226.9L183.8,229.5L187.7,227.4L180.3,224.8L172.9,222.2L165.7,219.7L158.5,217.2L151.5,214.7L144.6,212.3L137.7,209.9L131.0,207.5L124.4,205.2L117.9,202.9L111.4,200.7L105.1,198.4L98.8,196.2L92.7,194.1L86.6,191.9L80.6,189.8L74.7,187.8L68.9,185.7L63.1,183.7L57.4,181.7Z" fill="url(#sg26)" stroke="url(#sg26)"/><path d="M49.1,184.9L54.8,186.9L60.5,189.0L66.4,191.1L72.3,193.2L78.3,195.3L84.4,197.5L90.6,199.7L96.8,202.0L103.2,204.2L109.6,206.5L116.2,208.9L122.8,211.3L129.6,213.7L136.4,216.1L143.3,218.6L150.4,221.1L157.6,223.7L164.8,226.3L172.2,228.9L179.7,231.6L183.8,229.5L176.3,226.9L168.9,224.2L161.6,221.7L154.5,219.1L147.4,216.6L140.5,214.2L133.7,211.8L126.9,209.4L120.3,207.0L113.8,204.7L107.3,202.4L101.0,200.2L94.7,198.0L88.6,195.8L82.5,193.6L76.5,191.5L70.6,189.4L64.7,187.3L59.0,185.3L53.3,183.3Z" fill="url(#sg27)" stroke="url(#sg27)"/><path d="M44.9,186.5L50.5,188.5L56.3,190.6L62.1,192.7L68.1,194.9L74.1,197.0L80.2,199.2L86.3,201.5L92.6,203.7L99.0,206.0L105.4,208.4L112.0,210.8L118.6,213.2L125.4,215.6L132.2,218.1L139.2,220.6L146.3,223.2L153.4,225.7L160.7,228.4L168.1,231.1L175.7,233.8L179.7,231.6L172.2,228.9L164.8,226.3L157.6,223.7L150.4,221.1L143.3,218.6L136.4,216.1L129.6,213.7L122.8,211.3L116.2,208.9L109.6,206.5L103.2,204.2L96.8,202.0L90.6,199.7L84.4,197.5L78.3,195.3L72.3,193.2L66.4,191.1L60.5,189.0L54.8,186.9L49.1,184.9Z" fill="url(#sg28)" stroke="url(#sg28)"/><path d="M40.6,188.1L46.3,190.2L52.0,192.3L57.9,194.4L63.8,196.6L69.8,198.8L75.9,201.0L82.1,203.3L88.4,205.6L94.7,207.9L101.2,210.3L107.8,212.6L114.4,215.1L121.2,217.6L128.0,220.1L135.0,222.6L142.1,225.2L149.3,227.8L156.6,230.5L164.0,233.2L171.5,236.0L175.7,233.8L168.1,231.1L160.7,228.4L153.4,225.7L146.3,223.2L139.2,220.6L132.2,218.1L125.4,215.6L118.6,213.2L112.0,210.8L105.4,208.4L99.0,206.0L92.6,203.7L86.3,201.5L80.2,199.2L74.1,197.0L68.1,194.9L62.1,192.7L56.3,190.6L50.5,188.5L44.9,186.5Z" fill="url(#sg29)" stroke="url(#sg29)"/></g><line x1="180.8" y1="204.0" x2="246.0" y2="172.4" stroke="#cfe5f3" stroke-width="1.2" opacity="0.3"/><line x1="189.2" y1="206.8" x2="254.1" y2="174.6" stroke="#c8e2f2" stroke-width="1.2" opacity="0.25"/><line x1="197.1" y1="209.3" x2="261.6" y2="176.7" stroke="#d2e7f4" stroke-width="1.2" opacity="0.3"/><line x1="202.2" y1="211.0" x2="266.5" y2="178.0" stroke="#3f7fbf" stroke-width="1.2" opacity="0.18"/><line x1="207.3" y1="212.7" x2="271.3" y2="179.4" stroke="#b8d8ee" stroke-width="1.2" opacity="0.2"/><line x1="151.40" y1="146.20" x2="276.50" y2="180.40" stroke="#7a5050" stroke-width="0.9" /><g stroke-width="0.5" stroke-linejoin="round"><path d="M150.1,28.8L154.6,29.0L159.1,29.2L163.6,30.3L168.2,31.8L172.8,34.1L177.4,37.5L182.0,43.2L186.7,49.2L191.3,55.6L196.1,61.4L200.8,66.1L205.7,69.5L210.6,71.6L215.5,76.2L220.4,80.9L225.3,85.8L230.3,92.9L235.3,96.5L240.4,100.1L245.6,104.0L251.0,101.7L256.5,99.1L262.1,96.9L267.5,101.1L272.8,106.0L278.2,111.4L280.7,92.8L275.2,89.9L269.7,87.3L264.3,85.0L258.6,88.8L253.0,92.9L247.5,96.4L242.3,93.5L237.2,90.8L232.1,87.9L227.1,81.3L222.2,76.8L217.2,72.4L212.4,68.1L207.4,66.1L202.6,62.8L197.8,58.1L193.1,52.2L188.5,45.6L183.8,39.4L179.2,33.4L174.6,29.6L170.0,27.0L165.4,25.0L160.9,23.4L156.4,22.5L151.9,21.7Z" fill="url(#sg30)" stroke="url(#sg30)"/><path d="M148.3,35.1L152.8,34.7L157.2,34.5L161.8,35.1L166.3,36.3L170.9,38.3L175.6,41.4L180.2,46.8L184.9,52.6L189.5,58.9L194.3,64.6L199.0,69.2L203.9,72.7L208.8,74.9L213.7,79.6L218.6,84.5L223.5,89.6L228.5,96.8L233.5,100.7L238.6,104.6L243.8,109.0L249.2,107.1L254.7,105.0L260.2,103.3L265.6,107.9L270.9,113.3L276.2,119.4L278.2,111.4L272.8,106.0L267.5,101.1L262.1,96.9L256.5,99.1L251.0,101.7L245.6,104.0L240.4,100.1L235.3,96.5L230.3,92.9L225.3,85.8L220.4,80.9L215.5,76.2L210.6,71.6L205.7,69.5L200.8,66.1L196.1,61.4L191.3,55.6L186.7,49.2L182.0,43.2L177.4,37.5L172.8,34.1L168.2,31.8L163.6,30.3L159.1,29.2L154.6,29.0L150.1,28.8Z" fill="url(#sg31)" stroke="url(#sg31)"/><path d="M146.5,33.0L151.0,33.2L155.5,33.6L160.0,34.8L164.6,36.4L169.2,38.8L173.8,42.3L178.4,48.1L183.1,54.2L187.8,60.7L192.5,66.6L197.3,71.6L202.1,75.3L207.0,77.9L211.9,83.0L216.8,88.3L221.7,93.8L226.7,101.5L231.7,105.9L236.8,110.6L241.9,115.9L247.2,115.0L252.7,114.0L258.2,113.6L263.4,119.6L268.7,126.6L273.9,134.6L276.2,119.4L270.9,113.3L265.6,107.9L260.2,103.3L254.7,105.0L249.2,107.1L243.8,109.0L238.6,104.6L233.5,100.7L228.5,96.8L223.5,89.6L218.6,84.5L213.7,79.6L208.8,74.9L203.9,72.7L199.0,69.2L194.3,64.6L189.5,58.9L184.9,52.6L180.2,46.8L175.6,41.4L170.9,38.3L166.3,36.3L161.8,35.1L157.2,34.5L152.8,34.7L148.3,35.1Z" fill="url(#sg32)" stroke="url(#sg32)"/><path d="M144.7,30.6L149.2,31.5L153.7,32.5L158.2,34.2L162.8,36.3L167.4,39.2L172.0,43.0L176.7,49.2L181.3,55.6L186.0,62.4L190.7,68.5L195.5,73.7L200.3,77.8L205.2,80.7L210.1,86.0L215.0,91.6L220.0,97.3L224.9,105.2L229.9,110.0L235.0,115.0L240.0,120.8L245.4,120.4L250.8,119.9L256.3,120.0L261.5,126.5L266.7,134.2L271.9,142.8L273.9,134.6L268.7,126.6L263.4,119.6L258.2,113.6L252.7,114.0L247.2,115.0L241.9,115.9L236.8,110.6L231.7,105.9L226.7,101.5L221.7,93.8L216.8,88.3L211.9,83.0L207.0,77.9L202.1,75.3L197.3,71.6L192.5,66.6L187.8,60.7L183.1,54.2L178.4,48.1L173.8,42.3L169.2,38.8L164.6,36.4L160.0,34.8L155.5,33.6L151.0,33.2L146.5,33.0Z" fill="url(#sg33)" stroke="url(#sg33)"/><path d="M142.9,27.5L147.4,29.1L151.9,30.7L156.4,32.9L161.0,35.5L165.6,38.7L170.2,42.9L174.9,49.3L179.5,55.9L184.2,62.9L189.0,69.2L193.7,74.4L198.6,78.6L203.5,81.7L208.4,87.1L213.3,92.7L218.2,98.4L223.1,106.2L228.2,110.9L233.3,115.8L238.4,121.5L243.7,120.9L249.2,120.0L254.6,119.8L259.9,125.7L265.2,132.7L270.4,140.6L271.9,142.8L266.7,134.2L261.5,126.5L256.3,120.0L250.8,119.9L245.4,120.4L240.0,120.8L235.0,115.0L229.9,110.0L224.9,105.2L220.0,97.3L215.0,91.6L210.1,86.0L205.2,80.7L200.3,77.8L195.5,73.7L190.7,68.5L186.0,62.4L181.3,55.6L176.7,49.2L172.0,43.0L167.4,39.2L162.8,36.3L158.2,34.2L153.7,32.5L149.2,31.5L144.7,30.6Z" fill="url(#sg34)" stroke="url(#sg34)"/><path d="M141.1,29.2L145.6,30.8L150.1,32.4L154.6,34.6L159.2,37.1L163.8,40.3L168.4,44.5L173.1,50.8L177.7,57.4L182.4,64.3L187.2,70.5L192.0,75.8L196.8,80.0L201.7,83.0L206.6,88.4L211.5,93.9L216.5,99.6L221.4,107.2L226.5,111.8L231.6,116.7L236.7,122.2L242.0,121.4L247.5,120.2L253.0,119.6L258.3,124.9L263.6,131.3L268.9,138.4L270.4,140.6L265.2,132.7L259.9,125.7L254.6,119.8L249.2,120.0L243.7,120.9L238.4,121.5L233.3,115.8L228.2,110.9L223.1,106.2L218.2,98.4L213.3,92.7L208.4,87.1L203.5,81.7L198.6,78.6L193.7,74.4L189.0,69.2L184.2,62.9L179.5,55.9L174.9,49.3L170.2,42.9L165.6,38.7L161.0,35.5L156.4,32.9L151.9,30.7L147.4,29.1L142.9,27.5Z" fill="url(#sg35)" stroke="url(#sg35)"/><path d="M139.3,31.5L143.7,33.0L148.2,34.5L152.8,36.6L157.3,39.1L162.0,42.2L166.6,46.3L171.3,52.5L175.9,59.0L180.6,65.9L185.4,72.0L190.2,77.1L195.0,81.3L199.9,84.4L204.8,89.7L209.8,95.2L214.7,100.8L219.7,108.3L224.7,112.8L229.8,117.5L235.0,123.0L240.4,121.9L245.8,120.4L251.4,119.3L256.7,124.0L262.1,129.8L267.4,136.1L268.9,138.4L263.6,131.3L258.3,124.9L253.0,119.6L247.5,120.2L242.0,121.4L236.7,122.2L231.6,116.7L226.5,111.8L221.4,107.2L216.5,99.6L211.5,93.9L206.6,88.4L201.7,83.0L196.8,80.0L192.0,75.8L187.2,70.5L182.4,64.3L177.7,57.4L173.1,50.8L168.4,44.5L163.8,40.3L159.2,37.1L154.6,34.6L150.1,32.4L145.6,30.8L141.1,29.2Z" fill="url(#sg36)" stroke="url(#sg36)"/><path d="M137.4,32.6L141.9,34.2L146.4,35.7L150.9,37.9L155.5,40.4L160.1,43.5L164.8,47.6L169.4,53.8L174.1,60.3L178.8,67.1L183.6,73.2L188.4,78.3L193.2,82.5L198.2,85.6L203.1,90.9L208.0,96.4L213.0,101.9L217.9,109.3L223.0,113.6L228.1,118.3L233.3,123.6L238.7,122.3L244.2,120.5L249.7,119.0L255.1,123.1L260.5,128.1L265.9,133.7L267.4,136.1L262.1,129.8L256.7,124.0L251.4,119.3L245.8,120.4L240.4,121.9L235.0,123.0L229.8,117.5L224.7,112.8L219.7,108.3L214.7,100.8L209.8,95.2L204.8,89.7L199.9,84.4L195.0,81.3L190.2,77.1L185.4,72.0L180.6,65.9L175.9,59.0L171.3,52.5L166.6,46.3L162.0,42.2L157.3,39.1L152.8,36.6L148.2,34.5L143.7,33.0L139.3,31.5Z" fill="url(#sg37)" stroke="url(#sg37)"/><path d="M135.6,33.2L140.0,34.8L144.5,36.4L149.1,38.6L153.7,41.1L158.3,44.2L162.9,48.3L167.6,54.5L172.3,60.9L177.0,67.7L181.8,73.8L186.6,78.9L191.5,83.1L196.4,86.2L201.3,91.6L206.2,97.1L211.2,102.6L216.2,109.9L221.3,114.2L226.4,118.9L231.5,124.2L236.9,122.8L242.5,120.9L248.0,119.2L253.4,123.0L258.8,127.7L264.3,132.8L265.9,133.7L260.5,128.1L255.1,123.1L249.7,119.0L244.2,120.5L238.7,122.3L233.3,123.6L228.1,118.3L223.0,113.6L217.9,109.3L213.0,101.9L208.0,96.4L203.1,90.9L198.2,85.6L193.2,82.5L188.4,78.3L183.6,73.2L178.8,67.1L174.1,60.3L169.4,53.8L164.8,47.6L160.1,43.5L155.5,40.4L150.9,37.9L146.4,35.7L141.9,34.2L137.4,32.6Z" fill="url(#sg38)" stroke="url(#sg38)"/><path d="M133.7,33.8L138.2,35.4L142.7,37.0L147.2,39.2L151.8,41.7L156.4,44.9L161.1,49.0L165.8,55.1L170.5,61.5L175.2,68.3L180.0,74.3L184.8,79.4L189.7,83.6L194.6,86.8L199.5,92.2L204.5,97.7L209.5,103.3L214.4,110.6L219.5,115.0L224.7,119.7L229.8,125.2L235.2,123.9L240.7,122.1L246.3,120.4L251.7,124.2L257.1,128.9L262.6,134.0L264.3,132.8L258.8,127.7L253.4,123.0L248.0,119.2L242.5,120.9L236.9,122.8L231.5,124.2L226.4,118.9L221.3,114.2L216.2,109.9L211.2,102.6L206.2,97.1L201.3,91.6L196.4,86.2L191.5,83.1L186.6,78.9L181.8,73.8L177.0,67.7L172.3,60.9L167.6,54.5L162.9,48.3L158.3,44.2L153.7,41.1L149.1,38.6L144.5,36.4L140.0,34.8L135.6,33.2Z" fill="url(#sg39)" stroke="url(#sg39)"/><path d="M131.8,34.4L136.3,36.0L140.8,37.6L145.4,39.9L150.0,42.4L154.6,45.5L159.3,49.6L163.9,55.7L168.7,62.1L173.4,68.8L178.2,74.8L183.0,79.9L187.9,84.2L192.8,87.5L197.7,92.9L202.7,98.5L207.7,104.1L212.7,111.5L217.8,116.0L222.9,121.0L228.0,126.8L233.4,125.7L238.9,124.1L244.5,122.8L249.9,126.8L255.3,131.8L260.8,137.3L262.6,134.0L257.1,128.9L251.7,124.2L246.3,120.4L240.7,122.1L235.2,123.9L229.8,125.2L224.7,119.7L219.5,115.0L214.4,110.6L209.5,103.3L204.5,97.7L199.5,92.2L194.6,86.8L189.7,83.6L184.8,79.4L180.0,74.3L175.2,68.3L170.5,61.5L165.8,55.1L161.1,49.0L156.4,44.9L151.8,41.7L147.2,39.2L142.7,37.0L138.2,35.4L133.7,33.8Z" fill="url(#sg40)" stroke="url(#sg40)"/><path d="M129.9,35.0L134.4,36.6L138.9,38.3L143.5,40.5L148.1,43.1L152.7,46.2L157.4,50.3L162.1,56.4L166.8,62.7L171.6,69.4L176.3,75.4L181.2,80.4L186.0,84.8L191.0,88.2L195.9,93.7L200.9,99.4L205.9,105.1L210.9,112.5L216.0,117.2L221.1,122.4L226.2,128.4L231.7,127.6L237.1,126.3L242.7,125.3L248.1,129.6L253.5,135.0L258.9,141.0L260.8,137.3L255.3,131.8L249.9,126.8L244.5,122.8L238.9,124.1L233.4,125.7L228.0,126.8L222.9,121.0L217.8,116.0L212.7,111.5L207.7,104.1L202.7,98.5L197.7,92.9L192.8,87.5L187.9,84.2L183.0,79.9L178.2,74.8L173.4,68.8L168.7,62.1L163.9,55.7L159.3,49.6L154.6,45.5L150.0,42.4L145.4,39.9L140.8,37.6L136.3,36.0L131.8,34.4Z" fill="url(#sg41)" stroke="url(#sg41)"/><path d="M128.0,35.4L132.5,37.1L137.0,38.8L141.6,41.1L146.2,43.7L150.9,46.8L155.5,50.9L160.2,56.9L165.0,63.3L169.7,69.9L174.5,75.9L179.3,80.9L184.2,85.3L189.2,88.8L194.1,94.3L199.1,100.1L204.1,105.8L209.1,113.3L214.2,118.1L219.3,123.4L224.5,129.7L229.9,129.1L235.4,128.0L240.9,127.2L246.3,131.5L251.7,137.1L257.2,143.4L258.9,141.0L253.5,135.0L248.1,129.6L242.7,125.3L237.1,126.3L231.7,127.6L226.2,128.4L221.1,122.4L216.0,117.2L210.9,112.5L205.9,105.1L200.9,99.4L195.9,93.7L191.0,88.2L186.0,84.8L181.2,80.4L176.3,75.4L171.6,69.4L166.8,62.7L162.1,56.4L157.4,50.3L152.7,46.2L148.1,43.1L143.5,40.5L138.9,38.3L134.4,36.6L129.9,35.0Z" fill="url(#sg42)" stroke="url(#sg42)"/><path d="M126.1,35.8L130.6,37.5L135.2,39.3L139.7,41.6L144.3,44.1L149.0,47.3L153.7,51.4L158.4,57.4L163.1,63.7L167.9,70.3L172.7,76.3L177.5,81.3L182.4,85.8L187.3,89.2L192.3,94.8L197.3,100.7L202.3,106.4L207.3,113.9L212.4,118.7L217.5,124.1L222.7,130.5L228.1,129.9L233.6,128.9L239.1,128.0L244.6,132.3L250.0,137.8L255.4,143.9L257.2,143.4L251.7,137.1L246.3,131.5L240.9,127.2L235.4,128.0L229.9,129.1L224.5,129.7L219.3,123.4L214.2,118.1L209.1,113.3L204.1,105.8L199.1,100.1L194.1,94.3L189.2,88.8L184.2,85.3L179.3,80.9L174.5,75.9L169.7,69.9L165.0,63.3L160.2,56.9L155.5,50.9L150.9,46.8L146.2,43.7L141.6,41.1L137.0,38.8L132.5,37.1L128.0,35.4Z" fill="url(#sg43)" stroke="url(#sg43)"/><path d="M124.2,36.1L128.7,37.9L133.2,39.7L137.8,42.1L142.4,44.6L147.1,47.8L151.8,51.9L156.5,57.9L161.2,64.2L166.0,70.8L170.8,76.7L175.7,81.7L180.6,86.2L185.5,89.8L190.5,95.4L195.4,101.3L200.5,107.0L205.5,114.5L210.6,119.3L215.8,124.8L220.9,131.4L226.3,130.8L231.8,129.7L237.4,128.9L242.8,133.0L248.3,138.5L253.7,144.5L255.4,143.9L250.0,137.8L244.6,132.3L239.1,128.0L233.6,128.9L228.1,129.9L222.7,130.5L217.5,124.1L212.4,118.7L207.3,113.9L202.3,106.4L197.3,100.7L192.3,94.8L187.3,89.2L182.4,85.8L177.5,81.3L172.7,76.3L167.9,70.3L163.1,63.7L158.4,57.4L153.7,51.4L149.0,47.3L144.3,44.1L139.7,41.6L135.2,39.3L130.6,37.5L126.1,35.8Z" fill="url(#sg44)" stroke="url(#sg44)"/><path d="M122.3,36.5L126.8,38.3L131.3,40.2L135.9,42.5L140.5,45.2L145.2,48.3L149.9,52.4L154.6,58.4L159.3,64.7L164.1,71.2L168.9,77.1L173.8,82.1L178.7,86.7L183.7,90.3L188.6,96.0L193.6,101.9L198.6,107.7L203.7,115.1L208.8,120.0L214.0,125.6L219.1,132.3L224.5,131.8L230.0,130.8L235.6,130.0L241.0,134.0L246.5,139.4L252.0,145.4L253.7,144.5L248.3,138.5L242.8,133.0L237.4,128.9L231.8,129.7L226.3,130.8L220.9,131.4L215.8,124.8L210.6,119.3L205.5,114.5L200.5,107.0L195.4,101.3L190.5,95.4L185.5,89.8L180.6,86.2L175.7,81.7L170.8,76.7L166.0,70.8L161.2,64.2L156.5,57.9L151.8,51.9L147.1,47.8L142.4,44.6L137.8,42.1L133.2,39.7L128.7,37.9L124.2,36.1Z" fill="url(#sg45)" stroke="url(#sg45)"/><path d="M120.4,36.9L124.9,38.7L129.4,40.6L134.0,43.0L138.6,45.7L143.3,48.8L148.0,52.9L152.7,58.9L157.4,65.1L162.2,71.7L167.1,77.5L171.9,82.5L176.8,87.1L181.8,90.8L186.8,96.6L191.8,102.5L196.8,108.4L201.9,115.9L207.0,120.8L212.1,126.6L217.3,133.5L222.7,133.2L228.2,132.3L233.8,131.7L239.2,135.8L244.7,141.4L250.1,147.6L252.0,145.4L246.5,139.4L241.0,134.0L235.6,130.0L230.0,130.8L224.5,131.8L219.1,132.3L214.0,125.6L208.8,120.0L203.7,115.1L198.6,107.7L193.6,101.9L188.6,96.0L183.7,90.3L178.7,86.7L173.8,82.1L168.9,77.1L164.1,71.2L159.3,64.7L154.6,58.4L149.9,52.4L145.2,48.3L140.5,45.2L135.9,42.5L131.3,40.2L126.8,38.3L122.3,36.5Z" fill="url(#sg46)" stroke="url(#sg46)"/><path d="M118.4,37.7L122.9,39.6L127.5,41.5L132.0,43.9L136.7,46.5L141.3,49.7L146.0,53.7L150.8,59.7L155.5,65.8L160.3,72.3L165.2,78.1L170.0,83.1L175.0,87.7L179.9,91.5L184.9,97.2L189.9,103.2L195.0,109.1L200.0,116.6L205.2,121.6L210.3,127.5L215.5,134.6L220.9,134.4L226.4,133.7L232.0,133.2L237.4,137.4L242.9,143.1L248.3,149.5L250.1,147.6L244.7,141.4L239.2,135.8L233.8,131.7L228.2,132.3L222.7,133.2L217.3,133.5L212.1,126.6L207.0,120.8L201.9,115.9L196.8,108.4L191.8,102.5L186.8,96.6L181.8,90.8L176.8,87.1L171.9,82.5L167.1,77.5L162.2,71.7L157.4,65.1L152.7,58.9L148.0,52.9L143.3,48.8L138.6,45.7L134.0,43.0L129.4,40.6L124.9,38.7L120.4,36.9Z" fill="url(#sg47)" stroke="url(#sg47)"/><path d="M116.5,38.6L121.0,40.5L125.5,42.4L130.1,44.9L134.7,47.5L139.4,50.6L144.1,54.6L148.8,60.5L153.6,66.6L158.4,73.0L163.3,78.8L168.1,83.7L173.1,88.3L178.0,92.1L183.0,97.9L188.0,103.9L193.1,109.8L198.2,117.2L203.3,122.3L208.5,128.3L213.7,135.5L219.1,135.4L224.6,134.8L230.1,134.3L235.6,138.5L241.1,144.2L246.6,150.6L248.3,149.5L242.9,143.1L237.4,137.4L232.0,133.2L226.4,133.7L220.9,134.4L215.5,134.6L210.3,127.5L205.2,121.6L200.0,116.6L195.0,109.1L189.9,103.2L184.9,97.2L179.9,91.5L175.0,87.7L170.0,83.1L165.2,78.1L160.3,72.3L155.5,65.8L150.8,59.7L146.0,53.7L141.3,49.7L136.7,46.5L132.0,43.9L127.5,41.5L122.9,39.6L118.4,37.7Z" fill="url(#sg48)" stroke="url(#sg48)"/><path d="M114.5,39.6L119.0,41.5L123.6,43.4L128.1,45.8L132.8,48.4L137.5,51.5L142.2,55.5L146.9,61.4L151.7,67.4L156.5,73.8L161.3,79.5L166.2,84.3L171.2,89.0L176.1,92.8L181.1,98.6L186.2,104.6L191.2,110.5L196.3,117.8L201.5,122.9L206.6,129.0L211.8,136.3L217.2,136.2L222.7,135.6L228.3,135.1L233.8,139.2L239.3,144.9L244.8,151.2L246.6,150.6L241.1,144.2L235.6,138.5L230.1,134.3L224.6,134.8L219.1,135.4L213.7,135.5L208.5,128.3L203.3,122.3L198.2,117.2L193.1,109.8L188.0,103.9L183.0,97.9L178.0,92.1L173.1,88.3L168.1,83.7L163.3,78.8L158.4,73.0L153.6,66.6L148.8,60.5L144.1,54.6L139.4,50.6L134.7,47.5L130.1,44.9L125.5,42.4L121.0,40.5L116.5,38.6Z" fill="url(#sg49)" stroke="url(#sg49)"/><path d="M112.5,40.5L117.0,42.4L121.6,44.4L126.2,46.8L130.8,49.4L135.5,52.5L140.2,56.4L145.0,62.2L149.8,68.2L154.6,74.5L159.4,80.2L164.3,85.0L169.3,89.6L174.2,93.5L179.2,99.2L184.3,105.3L189.4,111.2L194.4,118.5L199.6,123.6L204.8,129.7L210.0,137.1L215.4,137.1L220.9,136.4L226.5,136.0L232.0,139.9L237.5,145.5L243.0,151.7L244.8,151.2L239.3,144.9L233.8,139.2L228.3,135.1L222.7,135.6L217.2,136.2L211.8,136.3L206.6,129.0L201.5,122.9L196.3,117.8L191.2,110.5L186.2,104.6L181.1,98.6L176.1,92.8L171.2,89.0L166.2,84.3L161.3,79.5L156.5,73.8L151.7,67.4L146.9,61.4L142.2,55.5L137.5,51.5L132.8,48.4L128.1,45.8L123.6,43.4L119.0,41.5L114.5,39.6Z" fill="url(#sg50)" stroke="url(#sg50)"/><path d="M110.5,41.2L115.1,43.2L119.6,45.2L124.2,47.6L128.8,50.2L133.5,53.3L138.2,57.2L143.0,63.0L147.8,68.9L152.6,75.2L157.5,80.8L162.4,85.5L167.3,90.2L172.3,94.1L177.3,99.9L182.4,106.0L187.5,111.8L192.6,119.1L197.7,124.2L202.9,130.4L208.1,138.0L213.5,138.0L219.1,137.4L224.6,137.0L230.1,140.8L235.6,146.4L241.2,152.6L243.0,151.7L237.5,145.5L232.0,139.9L226.5,136.0L220.9,136.4L215.4,137.1L210.0,137.1L204.8,129.7L199.6,123.6L194.4,118.5L189.4,111.2L184.3,105.3L179.2,99.2L174.2,93.5L169.3,89.6L164.3,85.0L159.4,80.2L154.6,74.5L149.8,68.2L145.0,62.2L140.2,56.4L135.5,52.5L130.8,49.4L126.2,46.8L121.6,44.4L117.0,42.4L112.5,40.5Z" fill="url(#sg51)" stroke="url(#sg51)"/><path d="M108.5,41.6L113.1,43.6L117.6,45.6L122.2,48.1L126.9,50.7L131.5,53.8L136.3,57.7L141.0,63.4L145.8,69.4L150.7,75.5L155.5,81.1L160.5,85.8L165.4,90.6L170.4,94.6L175.4,100.4L180.5,106.5L185.6,112.5L190.7,119.8L195.8,125.0L201.0,131.3L206.2,139.2L211.7,139.4L217.2,139.0L222.8,138.8L228.3,142.8L233.8,148.6L239.3,155.2L241.2,152.6L235.6,146.4L230.1,140.8L224.6,137.0L219.1,137.4L213.5,138.0L208.1,138.0L202.9,130.4L197.7,124.2L192.6,119.1L187.5,111.8L182.4,106.0L177.3,99.9L172.3,94.1L167.3,90.2L162.4,85.5L157.5,80.8L152.6,75.2L147.8,68.9L143.0,63.0L138.2,57.2L133.5,53.3L128.8,50.2L124.2,47.6L119.6,45.2L115.1,43.2L110.5,41.2Z" fill="url(#sg52)" stroke="url(#sg52)"/><path d="M106.5,41.9L111.1,44.0L115.6,46.1L120.2,48.5L124.9,51.2L129.6,54.3L134.3,58.2L139.1,63.9L143.9,69.8L148.7,75.9L153.6,81.5L158.5,86.2L163.5,91.0L168.5,95.0L173.5,100.9L178.6,107.1L183.7,113.0L188.8,120.3L193.9,125.6L199.2,132.1L204.4,140.1L209.8,140.4L215.3,140.2L220.9,140.1L226.4,144.1L231.9,150.0L237.4,156.7L239.3,155.2L233.8,148.6L228.3,142.8L222.8,138.8L217.2,139.0L211.7,139.4L206.2,139.2L201.0,131.3L195.8,125.0L190.7,119.8L185.6,112.5L180.5,106.5L175.4,100.4L170.4,94.6L165.4,90.6L160.5,85.8L155.5,81.1L150.7,75.5L145.8,69.4L141.0,63.4L136.3,57.7L131.5,53.8L126.9,50.7L122.2,48.1L117.6,45.6L113.1,43.6L108.5,41.6Z" fill="url(#sg53)" stroke="url(#sg53)"/><path d="M104.5,42.3L109.0,44.4L113.6,46.5L118.2,49.0L122.9,51.7L127.6,54.8L132.3,58.7L137.1,64.4L141.9,70.2L146.7,76.3L151.6,81.9L156.5,86.5L161.5,91.4L166.5,95.5L171.6,101.4L176.6,107.6L181.7,113.6L186.9,120.9L192.0,126.3L197.3,132.9L202.5,141.1L207.9,141.5L213.4,141.4L219.0,141.4L224.5,145.4L230.0,151.4L235.6,158.2L237.4,156.7L231.9,150.0L226.4,144.1L220.9,140.1L215.3,140.2L209.8,140.4L204.4,140.1L199.2,132.1L193.9,125.6L188.8,120.3L183.7,113.0L178.6,107.1L173.5,100.9L168.5,95.0L163.5,91.0L158.5,86.2L153.6,81.5L148.7,75.9L143.9,69.8L139.1,63.9L134.3,58.2L129.6,54.3L124.9,51.2L120.2,48.5L115.6,46.1L111.1,44.0L106.5,41.9Z" fill="url(#sg54)" stroke="url(#sg54)"/><path d="M102.5,42.7L107.0,44.8L111.6,47.0L116.2,49.5L120.8,52.2L125.5,55.3L130.3,59.2L135.1,64.9L139.9,70.7L144.7,76.8L149.6,82.3L154.6,86.9L159.5,91.8L164.6,96.0L169.6,101.9L174.7,108.2L179.8,114.2L184.9,121.5L190.1,127.0L195.3,133.7L200.6,142.1L206.0,142.7L211.5,142.7L217.1,142.8L222.6,146.9L228.1,153.0L233.7,159.9L235.6,158.2L230.0,151.4L224.5,145.4L219.0,141.4L213.4,141.4L207.9,141.5L202.5,141.1L197.3,132.9L192.0,126.3L186.9,120.9L181.7,113.6L176.6,107.6L171.6,101.4L166.5,95.5L161.5,91.4L156.5,86.5L151.6,81.9L146.7,76.3L141.9,70.2L137.1,64.4L132.3,58.7L127.6,54.8L122.9,51.7L118.2,49.0L113.6,46.5L109.0,44.4L104.5,42.3Z" fill="url(#sg55)" stroke="url(#sg55)"/><path d="M100.4,43.0L105.0,45.2L109.5,47.4L114.1,50.0L118.8,52.7L123.5,55.8L128.3,59.7L133.1,65.4L137.9,71.2L142.7,77.2L147.6,82.7L152.6,87.3L157.6,92.2L162.6,96.5L167.6,102.5L172.7,108.9L177.8,115.0L183.0,122.3L188.2,127.9L193.4,134.8L198.6,143.4L204.1,144.2L209.6,144.5L215.2,144.9L220.7,149.2L226.2,155.6L231.7,162.8L233.7,159.9L228.1,153.0L222.6,146.9L217.1,142.8L211.5,142.7L206.0,142.7L200.6,142.1L195.3,133.7L190.1,127.0L184.9,121.5L179.8,114.2L174.7,108.2L169.6,101.9L164.6,96.0L159.5,91.8L154.6,86.9L149.6,82.3L144.7,76.8L139.9,70.7L135.1,64.9L130.3,59.2L125.5,55.3L120.8,52.2L116.2,49.5L111.6,47.0L107.0,44.8L102.5,42.7Z" fill="url(#sg56)" stroke="url(#sg56)"/><path d="M98.4,43.4L102.9,45.6L107.5,47.9L112.1,50.5L116.8,53.2L121.5,56.3L126.2,60.3L131.0,65.9L135.9,71.7L140.7,77.7L145.6,83.1L150.6,87.8L155.6,92.8L160.6,97.2L165.7,103.3L170.7,109.8L175.9,116.1L181.0,123.5L186.2,129.3L191.5,136.6L196.7,145.8L202.1,147.1L207.6,147.9L213.2,149.0L218.7,153.9L224.2,161.2L229.7,169.5L231.7,162.8L226.2,155.6L220.7,149.2L215.2,144.9L209.6,144.5L204.1,144.2L198.6,143.4L193.4,134.8L188.2,127.9L183.0,122.3L177.8,115.0L172.7,108.9L167.6,102.5L162.6,96.5L157.6,92.2L152.6,87.3L147.6,82.7L142.7,77.2L137.9,71.2L133.1,65.4L128.3,59.7L123.5,55.8L118.8,52.7L114.1,50.0L109.5,47.4L105.0,45.2L100.4,43.0Z" fill="url(#sg57)" stroke="url(#sg57)"/><path d="M96.3,43.8L100.8,46.1L105.4,48.4L110.0,51.0L114.7,53.8L119.4,56.9L124.2,60.8L129.0,66.4L133.8,72.2L138.7,78.1L143.6,83.5L148.6,88.1L153.6,93.1L158.6,97.5L163.7,103.6L168.8,110.1L173.9,116.4L179.1,123.7L184.3,129.5L189.5,136.7L194.8,145.9L200.2,147.0L205.7,147.6L211.3,148.5L216.8,153.0L222.3,159.9L227.9,167.7L229.7,169.5L224.2,161.2L218.7,153.9L213.2,149.0L207.6,147.9L202.1,147.1L196.7,145.8L191.5,136.6L186.2,129.3L181.0,123.5L175.9,116.1L170.7,109.8L165.7,103.3L160.6,97.2L155.6,92.8L150.6,87.8L145.6,83.1L140.7,77.7L135.9,71.7L131.0,65.9L126.2,60.3L121.5,56.3L116.8,53.2L112.1,50.5L107.5,47.9L102.9,45.6L98.4,43.4Z" fill="url(#sg58)" stroke="url(#sg58)"/><path d="M94.2,44.4L98.8,46.7L103.3,49.1L108.0,51.7L112.6,54.5L117.4,57.6L122.1,61.5L126.9,67.1L131.8,72.8L136.7,78.7L141.6,84.1L146.6,88.6L151.6,93.6L156.6,98.1L161.7,104.2L166.8,110.7L171.9,116.9L177.1,124.2L182.3,129.9L187.6,137.2L192.8,146.4L198.3,147.5L203.8,148.1L209.4,148.8L214.9,153.2L220.5,159.9L226.0,167.5L227.9,167.7L222.3,159.9L216.8,153.0L211.3,148.5L205.7,147.6L200.2,147.0L194.8,145.9L189.5,136.7L184.3,129.5L179.1,123.7L173.9,116.4L168.8,110.1L163.7,103.6L158.6,97.5L153.6,93.1L148.6,88.1L143.6,83.5L138.7,78.1L133.8,72.2L129.0,66.4L124.2,60.8L119.4,56.9L114.7,53.8L110.0,51.0L105.4,48.4L100.8,46.1L96.3,43.8Z" fill="url(#sg59)" stroke="url(#sg59)"/><path d="M92.1,45.0L96.7,47.4L101.3,49.8L105.9,52.4L110.6,55.2L115.3,58.3L120.1,62.2L124.9,67.7L129.7,73.4L134.6,79.3L139.6,84.6L144.5,89.1L149.5,94.1L154.6,98.7L159.7,104.8L164.8,111.3L169.9,117.5L175.1,124.7L180.4,130.5L185.6,137.8L190.9,147.1L196.3,148.3L201.8,148.9L207.4,149.6L213.0,153.8L218.5,160.5L224.1,168.0L226.0,167.5L220.5,159.9L214.9,153.2L209.4,148.8L203.8,148.1L198.3,147.5L192.8,146.4L187.6,137.2L182.3,129.9L177.1,124.2L171.9,116.9L166.8,110.7L161.7,104.2L156.6,98.1L151.6,93.6L146.6,88.6L141.6,84.1L136.7,78.7L131.8,72.8L126.9,67.1L122.1,61.5L117.4,57.6L112.6,54.5L108.0,51.7L103.3,49.1L98.8,46.7L94.2,44.4Z" fill="url(#sg60)" stroke="url(#sg60)"/><path d="M90.0,45.6L94.6,48.0L99.2,50.4L103.8,53.2L108.5,55.9L113.2,59.1L118.0,63.0L122.8,68.4L127.7,74.1L132.6,79.9L137.5,85.2L142.5,89.6L147.5,94.7L152.5,99.3L157.6,105.4L162.8,111.9L167.9,118.1L173.1,125.3L178.4,131.1L183.6,138.6L188.9,148.0L194.3,149.3L199.9,149.9L205.5,150.7L211.1,154.8L216.6,161.5L222.2,169.0L224.1,168.0L218.5,160.5L213.0,153.8L207.4,149.6L201.8,148.9L196.3,148.3L190.9,147.1L185.6,137.8L180.4,130.5L175.1,124.7L169.9,117.5L164.8,111.3L159.7,104.8L154.6,98.7L149.5,94.1L144.5,89.1L139.6,84.6L134.6,79.3L129.7,73.4L124.9,67.7L120.1,62.2L115.3,58.3L110.6,55.2L105.9,52.4L101.3,49.8L96.7,47.4L92.1,45.0Z" fill="url(#sg61)" stroke="url(#sg61)"/><path d="M87.9,46.2L92.5,48.7L97.1,51.1L101.7,53.9L106.4,56.7L111.1,59.8L115.9,63.7L120.7,69.1L125.6,74.8L130.5,80.5L135.4,85.7L140.4,90.2L145.4,95.3L150.5,99.9L155.6,106.1L160.7,112.6L165.9,118.8L171.1,126.0L176.4,131.8L181.6,139.4L186.9,149.0L192.4,150.3L197.9,151.0L203.5,151.9L209.1,156.0L214.7,162.7L220.2,170.3L222.2,169.0L216.6,161.5L211.1,154.8L205.5,150.7L199.9,149.9L194.3,149.3L188.9,148.0L183.6,138.6L178.4,131.1L173.1,125.3L167.9,118.1L162.8,111.9L157.6,105.4L152.5,99.3L147.5,94.7L142.5,89.6L137.5,85.2L132.6,79.9L127.7,74.1L122.8,68.4L118.0,63.0L113.2,59.1L108.5,55.9L103.8,53.2L99.2,50.4L94.6,48.0L90.0,45.6Z" fill="url(#sg62)" stroke="url(#sg62)"/><path d="M85.8,46.8L90.3,49.3L94.9,51.9L99.6,54.6L104.3,57.4L109.0,60.6L113.8,64.5L118.6,69.9L123.5,75.4L128.4,81.2L133.4,86.3L138.3,90.8L143.4,95.9L148.4,100.5L153.6,106.7L158.7,113.3L163.9,119.6L169.1,126.7L174.3,132.6L179.6,140.2L184.9,150.0L190.4,151.4L195.9,152.2L201.5,153.1L207.1,157.3L212.7,164.0L218.3,171.6L220.2,170.3L214.7,162.7L209.1,156.0L203.5,151.9L197.9,151.0L192.4,150.3L186.9,149.0L181.6,139.4L176.4,131.8L171.1,126.0L165.9,118.8L160.7,112.6L155.6,106.1L150.5,99.9L145.4,95.3L140.4,90.2L135.4,85.7L130.5,80.5L125.6,74.8L120.7,69.1L115.9,63.7L111.1,59.8L106.4,56.7L101.7,53.9L97.1,51.1L92.5,48.7L87.9,46.2Z" fill="url(#sg63)" stroke="url(#sg63)"/><path d="M83.7,47.4L88.2,49.9L92.8,52.5L97.5,55.3L102.2,58.1L106.9,61.3L111.7,65.2L116.5,70.6L121.4,76.1L126.3,81.8L131.3,86.9L136.3,91.3L141.3,96.4L146.4,101.2L151.5,107.4L156.6,114.0L161.8,120.3L167.0,127.4L172.3,133.3L177.6,141.0L182.9,151.0L188.4,152.5L193.9,153.4L199.5,154.4L205.1,158.5L210.7,165.2L216.3,172.9L218.3,171.6L212.7,164.0L207.1,157.3L201.5,153.1L195.9,152.2L190.4,151.4L184.9,150.0L179.6,140.2L174.3,132.6L169.1,126.7L163.9,119.6L158.7,113.3L153.6,106.7L148.4,100.5L143.4,95.9L138.3,90.8L133.4,86.3L128.4,81.2L123.5,75.4L118.6,69.9L113.8,64.5L109.0,60.6L104.3,57.4L99.6,54.6L94.9,51.9L90.3,49.3L85.8,46.8Z" fill="url(#sg64)" stroke="url(#sg64)"/><path d="M81.5,47.8L86.1,50.4L90.7,53.0L95.3,55.9L100.0,58.7L104.8,61.9L109.6,65.8L114.4,71.1L119.3,76.7L124.2,82.3L129.2,87.4L134.2,91.8L139.2,96.9L144.3,101.7L149.4,108.0L154.6,114.7L159.8,120.9L165.0,128.0L170.3,134.0L175.6,141.8L180.9,151.9L186.4,153.5L191.9,154.5L197.5,155.5L203.1,159.6L208.7,166.4L214.3,174.2L216.3,172.9L210.7,165.2L205.1,158.5L199.5,154.4L193.9,153.4L188.4,152.5L182.9,151.0L177.6,141.0L172.3,133.3L167.0,127.4L161.8,120.3L156.6,114.0L151.5,107.4L146.4,101.2L141.3,96.4L136.3,91.3L131.3,86.9L126.3,81.8L121.4,76.1L116.5,70.6L111.7,65.2L106.9,61.3L102.2,58.1L97.5,55.3L92.8,52.5L88.2,49.9L83.7,47.4Z" fill="url(#sg65)" stroke="url(#sg65)"/><path d="M79.3,48.2L83.9,50.8L88.5,53.5L93.2,56.4L97.9,59.3L102.6,62.5L107.4,66.4L112.3,71.7L117.2,77.2L122.1,82.8L127.1,87.9L132.1,92.2L137.1,97.5L142.2,102.3L147.3,108.6L152.5,115.3L157.7,121.6L162.9,128.7L168.2,134.7L173.5,142.6L178.8,152.9L184.3,154.6L189.9,155.7L195.5,156.8L201.1,160.9L206.7,167.8L212.3,175.6L214.3,174.2L208.7,166.4L203.1,159.6L197.5,155.5L191.9,154.5L186.4,153.5L180.9,151.9L175.6,141.8L170.3,134.0L165.0,128.0L159.8,120.9L154.6,114.7L149.4,108.0L144.3,101.7L139.2,96.9L134.2,91.8L129.2,87.4L124.2,82.3L119.3,76.7L114.4,71.1L109.6,65.8L104.8,61.9L100.0,58.7L95.3,55.9L90.7,53.0L86.1,50.4L81.5,47.8Z" fill="url(#sg66)" stroke="url(#sg66)"/><path d="M77.2,48.6L81.7,51.3L86.3,54.1L91.0,57.0L95.7,59.9L100.5,63.1L105.3,67.0L110.1,72.3L115.0,77.8L120.0,83.4L124.9,88.4L129.9,92.7L135.0,98.0L140.1,102.9L145.2,109.2L150.4,116.0L155.6,122.3L160.9,129.4L166.2,135.5L171.5,143.5L176.8,154.0L182.3,155.8L187.8,157.0L193.4,158.3L199.1,162.4L204.7,169.4L210.3,177.3L212.3,175.6L206.7,167.8L201.1,160.9L195.5,156.8L189.9,155.7L184.3,154.6L178.8,152.9L173.5,142.6L168.2,134.7L162.9,128.7L157.7,121.6L152.5,115.3L147.3,108.6L142.2,102.3L137.1,97.5L132.1,92.2L127.1,87.9L122.1,82.8L117.2,77.2L112.3,71.7L107.4,66.4L102.6,62.5L97.9,59.3L93.2,56.4L88.5,53.5L83.9,50.8L79.3,48.2Z" fill="url(#sg67)" stroke="url(#sg67)"/><path d="M75.0,49.0L79.5,51.8L84.2,54.6L88.8,57.6L93.5,60.5L98.3,63.8L103.1,67.7L108.0,73.0L112.9,78.4L117.8,83.9L122.8,89.0L127.8,93.2L132.9,98.6L138.0,103.6L143.1,109.9L148.3,116.7L153.5,123.1L158.8,130.1L164.1,136.2L169.4,144.5L174.7,155.1L180.2,157.1L185.8,158.3L191.4,159.7L197.0,163.8L202.6,170.9L208.3,179.0L210.3,177.3L204.7,169.4L199.1,162.4L193.4,158.3L187.8,157.0L182.3,155.8L176.8,154.0L171.5,143.5L166.2,135.5L160.9,129.4L155.6,122.3L150.4,116.0L145.2,109.2L140.1,102.9L135.0,98.0L129.9,92.7L124.9,88.4L120.0,83.4L115.0,77.8L110.1,72.3L105.3,67.0L100.5,63.1L95.7,59.9L91.0,57.0L86.3,54.1L81.7,51.3L77.2,48.6Z" fill="url(#sg68)" stroke="url(#sg68)"/><path d="M72.8,49.4L77.3,52.2L82.0,55.1L86.6,58.2L91.3,61.1L96.1,64.4L100.9,68.3L105.8,73.6L110.7,79.0L115.6,84.5L120.6,89.5L125.6,93.8L130.7,99.1L135.8,104.2L141.0,110.6L146.2,117.4L151.4,123.8L156.7,130.8L162.0,137.0L167.3,145.3L172.7,156.2L178.1,158.2L183.7,159.6L189.3,161.1L195.0,165.2L200.6,172.4L206.2,180.6L208.3,179.0L202.6,170.9L197.0,163.8L191.4,159.7L185.8,158.3L180.2,157.1L174.7,155.1L169.4,144.5L164.1,136.2L158.8,130.1L153.5,123.1L148.3,116.7L143.1,109.9L138.0,103.6L132.9,98.6L127.8,93.2L122.8,89.0L117.8,83.9L112.9,78.4L108.0,73.0L103.1,67.7L98.3,63.8L93.5,60.5L88.8,57.6L84.2,54.6L79.5,51.8L75.0,49.0Z" fill="url(#sg69)" stroke="url(#sg69)"/><path d="M70.5,49.6L75.1,52.5L79.7,55.5L84.4,58.6L89.1,61.6L93.9,64.9L98.7,68.8L103.6,74.1L108.5,79.5L113.5,85.0L118.5,89.9L123.5,94.2L128.6,99.6L133.7,104.7L138.8,111.2L144.0,118.1L149.3,124.5L154.6,131.5L159.9,137.8L165.2,146.3L170.6,157.3L176.1,159.5L181.6,161.1L187.3,162.7L192.9,166.9L198.5,174.2L204.2,182.5L206.2,180.6L200.6,172.4L195.0,165.2L189.3,161.1L183.7,159.6L178.1,158.2L172.7,156.2L167.3,145.3L162.0,137.0L156.7,130.8L151.4,123.8L146.2,117.4L141.0,110.6L135.8,104.2L130.7,99.1L125.6,93.8L120.6,89.5L115.6,84.5L110.7,79.0L105.8,73.6L100.9,68.3L96.1,64.4L91.3,61.1L86.6,58.2L82.0,55.1L77.3,52.2L72.8,49.4Z" fill="url(#sg70)" stroke="url(#sg70)"/><path d="M68.3,49.5L72.9,52.5L77.5,55.6L82.2,58.7L86.9,61.8L91.7,65.1L96.5,69.1L101.4,74.4L106.3,79.8L111.3,85.2L116.3,90.2L121.3,94.5L126.4,99.9L131.5,105.2L136.7,111.7L141.9,118.7L147.1,125.2L152.4,132.2L157.8,138.6L163.1,147.3L168.5,158.6L174.0,161.0L179.5,162.7L185.2,164.6L190.8,168.9L196.4,176.5L202.1,185.1L204.2,182.5L198.5,174.2L192.9,166.9L187.3,162.7L181.6,161.1L176.1,159.5L170.6,157.3L165.2,146.3L159.9,137.8L154.6,131.5L149.3,124.5L144.0,118.1L138.8,111.2L133.7,104.7L128.6,99.6L123.5,94.2L118.5,89.9L113.5,85.0L108.5,79.5L103.6,74.1L98.7,68.8L93.9,64.9L89.1,61.6L84.4,58.6L79.7,55.5L75.1,52.5L70.5,49.6Z" fill="url(#sg71)" stroke="url(#sg71)"/><path d="M66.0,49.4L70.6,52.5L75.3,55.7L80.0,58.9L84.7,62.0L89.5,65.4L94.3,69.4L99.2,74.6L104.1,80.0L109.1,85.5L114.1,90.4L119.1,94.6L124.2,100.2L129.3,105.5L134.5,112.1L139.7,119.2L145.0,125.7L150.3,132.8L155.6,139.2L161.0,148.1L166.4,159.6L171.9,162.2L177.4,164.1L183.1,166.1L188.7,170.6L194.4,178.3L200.0,187.2L202.1,185.1L196.4,176.5L190.8,168.9L185.2,164.6L179.5,162.7L174.0,161.0L168.5,158.6L163.1,147.3L157.8,138.6L152.4,132.2L147.1,125.2L141.9,118.7L136.7,111.7L131.5,105.2L126.4,99.9L121.3,94.5L116.3,90.2L111.3,85.2L106.3,79.8L101.4,74.4L96.5,69.1L91.7,65.1L86.9,61.8L82.2,58.7L77.5,55.6L72.9,52.5L68.3,49.5Z" fill="url(#sg72)" stroke="url(#sg72)"/><path d="M63.7,48.9L68.3,52.1L73.0,55.4L77.7,58.7L82.4,61.9L87.2,65.3L92.0,69.3L96.9,74.6L101.9,80.0L106.8,85.4L111.9,90.4L116.9,94.6L122.0,100.2L127.1,105.6L132.3,112.3L137.6,119.4L142.8,126.0L148.1,133.1L153.5,139.6L158.9,148.6L164.2,160.4L169.7,163.1L175.3,165.1L180.9,167.3L186.6,171.7L192.3,179.6L197.9,188.6L200.0,187.2L194.4,178.3L188.7,170.6L183.1,166.1L177.4,164.1L171.9,162.2L166.4,159.6L161.0,148.1L155.6,139.2L150.3,132.8L145.0,125.7L139.7,119.2L134.5,112.1L129.3,105.5L124.2,100.2L119.1,94.6L114.1,90.4L109.1,85.5L104.1,80.0L99.2,74.6L94.3,69.4L89.5,65.4L84.7,62.0L80.0,58.9L75.3,55.7L70.6,52.5L66.0,49.4Z" fill="url(#sg73)" stroke="url(#sg73)"/><path d="M61.4,48.5L66.1,51.7L70.7,55.1L75.4,58.5L80.1,61.7L84.9,65.2L89.8,69.3L94.7,74.5L99.6,79.9L104.6,85.4L109.6,90.3L114.7,94.6L119.8,100.2L124.9,105.8L130.1,112.5L135.4,119.7L140.7,126.3L146.0,133.4L151.3,140.1L156.7,149.2L162.1,161.2L167.6,164.0L173.2,166.2L178.8,168.5L184.5,173.0L190.2,181.0L195.8,190.2L197.9,188.6L192.3,179.6L186.6,171.7L180.9,167.3L175.3,165.1L169.7,163.1L164.2,160.4L158.9,148.6L153.5,139.6L148.1,133.1L142.8,126.0L137.6,119.4L132.3,112.3L127.1,105.6L122.0,100.2L116.9,94.6L111.9,90.4L106.8,85.4L101.9,80.0L96.9,74.6L92.0,69.3L87.2,65.3L82.4,61.9L77.7,58.7L73.0,55.4L68.3,52.1L63.7,48.9Z" fill="url(#sg74)" stroke="url(#sg74)"/><path d="M59.2,48.9L63.8,52.3L68.4,55.7L73.1,59.1L77.9,62.4L82.7,65.9L87.5,70.0L92.4,75.2L97.4,80.6L102.4,86.0L107.4,90.9L112.4,95.1L117.6,100.8L122.7,106.5L127.9,113.2L133.2,120.5L138.5,127.1L143.8,134.3L149.2,141.0L154.5,150.3L160.0,162.6L165.5,165.7L171.0,168.1L176.7,170.7L182.3,175.4L188.0,183.7L193.7,193.3L195.8,190.2L190.2,181.0L184.5,173.0L178.8,168.5L173.2,166.2L167.6,164.0L162.1,161.2L156.7,149.2L151.3,140.1L146.0,133.4L140.7,126.3L135.4,119.7L130.1,112.5L124.9,105.8L119.8,100.2L114.7,94.6L109.6,90.3L104.6,85.4L99.6,79.9L94.7,74.5L89.8,69.3L84.9,65.2L80.1,61.7L75.4,58.5L70.7,55.1L66.1,51.7L61.4,48.5Z" fill="url(#sg75)" stroke="url(#sg75)"/><path d="M56.9,49.8L61.5,53.2L66.2,56.6L70.9,60.1L75.6,63.4L80.4,66.9L85.2,71.0L90.2,76.2L95.1,81.5L100.1,86.9L105.1,91.7L110.2,95.9L115.3,101.7L120.5,107.3L125.7,114.1L131.0,121.4L136.3,128.1L141.6,135.2L147.0,142.0L152.4,151.5L157.8,163.9L163.3,167.1L168.9,169.7L174.5,172.5L180.2,177.3L185.9,185.8L191.5,195.6L193.7,193.3L188.0,183.7L182.3,175.4L176.7,170.7L171.0,168.1L165.5,165.7L160.0,162.6L154.5,150.3L149.2,141.0L143.8,134.3L138.5,127.1L133.2,120.5L127.9,113.2L122.7,106.5L117.6,100.8L112.4,95.1L107.4,90.9L102.4,86.0L97.4,80.6L92.4,75.2L87.5,70.0L82.7,65.9L77.9,62.4L73.1,59.1L68.4,55.7L63.8,52.3L59.2,48.9Z" fill="url(#sg76)" stroke="url(#sg76)"/><path d="M54.6,50.7L59.2,54.1L63.9,57.6L68.6,61.1L73.3,64.5L78.1,68.0L83.0,72.0L87.9,77.2L92.8,82.5L97.8,87.8L102.9,92.6L107.9,96.7L113.1,102.5L118.2,108.2L123.5,115.0L128.7,122.3L134.0,129.0L139.4,136.1L144.8,142.9L150.2,152.5L155.6,165.1L161.1,168.4L166.7,171.1L172.4,173.9L178.0,178.7L183.7,187.3L189.4,197.2L191.5,195.6L185.9,185.8L180.2,177.3L174.5,172.5L168.9,169.7L163.3,167.1L157.8,163.9L152.4,151.5L147.0,142.0L141.6,135.2L136.3,128.1L131.0,121.4L125.7,114.1L120.5,107.3L115.3,101.7L110.2,95.9L105.1,91.7L100.1,86.9L95.1,81.5L90.2,76.2L85.2,71.0L80.4,66.9L75.6,63.4L70.9,60.1L66.2,56.6L61.5,53.2L56.9,49.8Z" fill="url(#sg77)" stroke="url(#sg77)"/><path d="M52.3,51.5L56.9,55.1L61.6,58.6L66.3,62.2L71.0,65.5L75.8,69.0L80.7,73.1L85.6,78.2L90.6,83.5L95.6,88.7L100.6,93.5L105.7,97.6L110.8,103.4L116.0,109.2L121.2,115.9L126.5,123.3L131.8,130.0L137.1,137.1L142.5,144.0L148.0,153.7L153.4,166.6L158.9,170.1L164.5,173.0L170.2,176.0L175.9,180.9L181.5,189.8L187.2,200.0L189.4,197.2L183.7,187.3L178.0,178.7L172.4,173.9L166.7,171.1L161.1,168.4L155.6,165.1L150.2,152.5L144.8,142.9L139.4,136.1L134.0,129.0L128.7,122.3L123.5,115.0L118.2,108.2L113.1,102.5L107.9,96.7L102.9,92.6L97.8,87.8L92.8,82.5L87.9,77.2L83.0,72.0L78.1,68.0L73.3,64.5L68.6,61.1L63.9,57.6L59.2,54.1L54.6,50.7Z" fill="url(#sg78)" stroke="url(#sg78)"/><path d="M49.9,52.4L54.6,56.0L59.2,59.6L63.9,63.2L68.7,66.6L73.5,70.1L78.4,74.2L83.3,79.3L88.3,84.5L93.3,89.6L98.3,94.4L103.4,98.4L108.5,104.2L113.7,110.1L119.0,116.9L124.2,124.3L129.6,131.0L134.9,138.1L140.3,145.1L145.7,154.9L151.2,168.0L156.7,171.6L162.3,174.6L168.0,177.8L173.7,182.8L179.4,191.8L185.1,202.2L187.2,200.0L181.5,189.8L175.9,180.9L170.2,176.0L164.5,173.0L158.9,170.1L153.4,166.6L148.0,153.7L142.5,144.0L137.1,137.1L131.8,130.0L126.5,123.3L121.2,115.9L116.0,109.2L110.8,103.4L105.7,97.6L100.6,93.5L95.6,88.7L90.6,83.5L85.6,78.2L80.7,73.1L75.8,69.0L71.0,65.5L66.3,62.2L61.6,58.6L56.9,55.1L52.3,51.5Z" fill="url(#sg79)" stroke="url(#sg79)"/><path d="M47.6,53.3L52.2,57.0L56.9,60.6L61.6,64.2L66.4,67.7L71.2,71.2L76.0,75.3L81.0,80.3L85.9,85.5L91.0,90.6L96.0,95.3L101.1,99.3L106.2,105.1L111.4,111.0L116.7,117.9L122.0,125.3L127.3,132.0L132.7,139.0L138.1,146.1L143.5,156.0L149.0,169.2L154.5,173.0L160.1,176.1L165.8,179.4L171.5,184.4L177.2,193.5L182.9,204.1L185.1,202.2L179.4,191.8L173.7,182.8L168.0,177.8L162.3,174.6L156.7,171.6L151.2,168.0L145.7,154.9L140.3,145.1L134.9,138.1L129.6,131.0L124.2,124.3L119.0,116.9L113.7,110.1L108.5,104.2L103.4,98.4L98.3,94.4L93.3,89.6L88.3,84.5L83.3,79.3L78.4,74.2L73.5,70.1L68.7,66.6L63.9,63.2L59.2,59.6L54.6,56.0L49.9,52.4Z" fill="url(#sg80)" stroke="url(#sg80)"/><path d="M45.2,54.2L49.9,57.9L54.6,61.7L59.3,65.3L64.0,68.8L68.8,72.3L73.7,76.4L78.6,81.4L83.6,86.6L88.6,91.6L93.7,96.2L98.8,100.2L103.9,106.1L109.1,112.0L114.4,118.8L119.7,126.3L125.0,133.0L130.4,140.0L135.8,147.1L141.3,157.1L146.7,170.5L152.3,174.3L157.9,177.5L163.5,180.9L169.3,186.0L175.0,195.1L180.7,205.8L182.9,204.1L177.2,193.5L171.5,184.4L165.8,179.4L160.1,176.1L154.5,173.0L149.0,169.2L143.5,156.0L138.1,146.1L132.7,139.0L127.3,132.0L122.0,125.3L116.7,117.9L111.4,111.0L106.2,105.1L101.1,99.3L96.0,95.3L91.0,90.6L85.9,85.5L81.0,80.3L76.0,75.3L71.2,71.2L66.4,67.7L61.6,64.2L56.9,60.6L52.2,57.0L47.6,53.3Z" fill="url(#sg81)" stroke="url(#sg81)"/><path d="M42.9,55.2L47.5,58.9L52.2,62.7L56.9,66.4L61.7,69.9L66.5,73.5L71.4,77.5L76.3,82.5L81.3,87.6L86.3,92.6L91.3,97.2L96.4,101.1L101.6,107.0L106.8,112.9L112.1,119.8L117.4,127.2L122.7,133.9L128.1,140.7L133.5,147.7L139.0,157.8L144.5,171.2L150.0,175.0L155.7,178.1L161.3,181.3L167.0,186.1L172.8,195.0L178.5,205.4L180.7,205.8L175.0,195.1L169.3,186.0L163.5,180.9L157.9,177.5L152.3,174.3L146.7,170.5L141.3,157.1L135.8,147.1L130.4,140.0L125.0,133.0L119.7,126.3L114.4,118.8L109.1,112.0L103.9,106.1L98.8,100.2L93.7,96.2L88.6,91.6L83.6,86.6L78.6,81.4L73.7,76.4L68.8,72.3L64.0,68.8L59.3,65.3L54.6,61.7L49.9,57.9L45.2,54.2Z" fill="url(#sg82)" stroke="url(#sg82)"/><path d="M40.5,56.1L45.1,59.9L49.8,63.8L54.6,67.6L59.3,71.1L64.1,74.6L69.0,78.7L73.9,83.7L78.9,88.7L83.9,93.7L89.0,98.2L94.1,102.0L99.3,107.9L104.5,113.9L109.7,120.7L115.1,128.1L120.4,134.7L125.8,141.4L131.2,148.4L136.7,158.4L142.2,171.9L147.8,175.5L153.4,178.5L159.1,181.6L164.8,186.0L170.6,194.6L176.3,204.7L178.5,205.4L172.8,195.0L167.0,186.1L161.3,181.3L155.7,178.1L150.0,175.0L144.5,171.2L139.0,157.8L133.5,147.7L128.1,140.7L122.7,133.9L117.4,127.2L112.1,119.8L106.8,112.9L101.6,107.0L96.4,101.1L91.3,97.2L86.3,92.6L81.3,87.6L76.3,82.5L71.4,77.5L66.5,73.5L61.7,69.9L56.9,66.4L52.2,62.7L47.5,58.9L42.9,55.2Z" fill="url(#sg83)" stroke="url(#sg83)"/><path d="M38.1,57.1L42.7,61.0L47.4,64.9L52.2,68.7L56.9,72.2L61.8,75.8L66.6,79.9L71.6,84.9L76.6,89.9L81.6,94.8L86.6,99.2L91.7,103.0L96.9,108.9L102.1,114.9L107.4,121.7L112.7,129.1L118.1,135.7L123.5,142.3L128.9,149.2L134.4,159.2L139.9,172.8L145.5,176.4L151.1,179.3L156.8,182.3L162.6,186.5L168.3,194.9L174.1,204.8L176.3,204.7L170.6,194.6L164.8,186.0L159.1,181.6L153.4,178.5L147.8,175.5L142.2,171.9L136.7,158.4L131.2,148.4L125.8,141.4L120.4,134.7L115.1,128.1L109.7,120.7L104.5,113.9L99.3,107.9L94.1,102.0L89.0,98.2L83.9,93.7L78.9,88.7L73.9,83.7L69.0,78.7L64.1,74.6L59.3,71.1L54.6,67.6L49.8,63.8L45.1,59.9L40.5,56.1Z" fill="url(#sg84)" stroke="url(#sg84)"/><path d="M35.7,58.0L40.3,62.0L45.0,66.0L49.8,69.9L54.5,73.5L59.4,77.1L64.2,81.2L69.2,86.2L74.2,91.1L79.2,96.0L84.3,100.4L89.4,104.1L94.5,110.0L99.8,116.1L105.1,122.9L110.4,130.3L115.7,136.8L121.2,143.3L126.6,150.2L132.1,160.2L137.7,173.8L143.2,177.4L148.9,180.3L154.5,183.2L160.3,187.1L166.1,195.4L171.9,205.1L174.1,204.8L168.3,194.9L162.6,186.5L156.8,182.3L151.1,179.3L145.5,176.4L139.9,172.8L134.4,159.2L128.9,149.2L123.5,142.3L118.1,135.7L112.7,129.1L107.4,121.7L102.1,114.9L96.9,108.9L91.7,103.0L86.6,99.2L81.6,94.8L76.6,89.9L71.6,84.9L66.6,79.9L61.8,75.8L56.9,72.2L52.2,68.7L47.4,64.9L42.7,61.0L38.1,57.1Z" fill="url(#sg85)" stroke="url(#sg85)"/></g><line x1="34.50" y1="20.20" x2="151.60" y2="1.40" stroke="#3a3a3a" stroke-width="0.8" /><line x1="151.60" y1="1.40" x2="284.80" y2="17.70" stroke="#3a3a3a" stroke-width="0.8" /><line x1="34.50" y1="20.20" x2="40.80" y2="188.40" stroke="#3a3a3a" stroke-width="0.8" /><line x1="284.80" y1="17.70" x2="276.50" y2="180.40" stroke="#3a3a3a" stroke-width="0.8" /><line x1="151.60" y1="1.40" x2="151.60" y2="22.00" stroke="#3a3a3a" stroke-width="0.8" /><line x1="40.80" y1="188.40" x2="171.00" y2="236.00" stroke="#555" stroke-width="0.6" opacity="0.6"/><rect x="289.6" y="19.7" width="16" height="1.6" fill="#c4c4c4"/><rect x="289.6" y="21.2" width="16" height="157.2" fill="url(#cbg)" stroke="#666" stroke-width="0.4"/><line x1="305.60" y1="21.20" x2="308.60" y2="21.20" stroke="#888" stroke-width="1.0" /><text x="312.2" y="24.9" font-size="10.4" font-weight="bold" text-anchor="start" fill="#111" >99.5</text><line x1="305.60" y1="36.80" x2="308.60" y2="36.80" stroke="#888" stroke-width="1.0" /><text x="312.2" y="40.5" font-size="10.4" font-weight="bold" text-anchor="start" fill="#111" >98.9</text><line x1="305.60" y1="52.40" x2="308.60" y2="52.40" stroke="#888" stroke-width="1.0" /><text x="312.2" y="56.1" font-size="10.4" font-weight="bold" text-anchor="start" fill="#111" >98.2</text><line x1="305.60" y1="68.00" x2="308.60" y2="68.00" stroke="#888" stroke-width="1.0" /><text x="312.2" y="71.7" font-size="10.4" font-weight="bold" text-anchor="start" fill="#111" >97.6</text><line x1="305.60" y1="83.60" x2="308.60" y2="83.60" stroke="#888" stroke-width="1.0" /><text x="312.2" y="87.3" font-size="10.4" font-weight="bold" text-anchor="start" fill="#111" >96.9</text><line x1="305.60" y1="99.20" x2="308.60" y2="99.20" stroke="#888" stroke-width="1.0" /><text x="312.2" y="102.9" font-size="10.4" font-weight="bold" text-anchor="start" fill="#111" >96.3</text><line x1="305.60" y1="114.80" x2="308.60" y2="114.80" stroke="#888" stroke-width="1.0" /><text x="312.2" y="118.5" font-size="10.4" font-weight="bold" text-anchor="start" fill="#111" >95.6</text><line x1="305.60" y1="130.40" x2="308.60" y2="130.40" stroke="#888" stroke-width="1.0" /><text x="312.2" y="134.1" font-size="10.4" font-weight="bold" text-anchor="start" fill="#111" >95.0</text><line x1="305.60" y1="146.00" x2="308.60" y2="146.00" stroke="#888" stroke-width="1.0" /><text x="312.2" y="149.7" font-size="10.4" font-weight="bold" text-anchor="start" fill="#111" >94.3</text><line x1="305.60" y1="161.60" x2="308.60" y2="161.60" stroke="#888" stroke-width="1.0" /><text x="312.2" y="165.3" font-size="10.4" font-weight="bold" text-anchor="start" fill="#111" >93.7</text><line x1="305.60" y1="177.20" x2="308.60" y2="177.20" stroke="#888" stroke-width="1.0" /><text x="312.2" y="180.9" font-size="10.4" font-weight="bold" text-anchor="start" fill="#111" >93.0</text><text x="6.0" y="38.9" font-size="18.5" font-weight="bold" text-anchor="start" fill="#111" >a</text><text x="0" y="0" font-size="13" font-weight="bold" fill="#111" text-anchor="middle" transform="translate(33.1,109) rotate(-90) scale(1.15,0.95)">Magnitude</text><text x="0" y="0" font-size="12" font-weight="bold" fill="#111" transform="translate(36.4,34.8) rotate(-7.6)">A-NiCoMn-TAC/LDH</text><text x="0" y="0" font-size="8.6" font-weight="bold" fill="#1a1a1a" text-anchor="end" transform="matrix(0.982,-0.372,0.640,0.480,38.0,191.0)">OCP</text><text x="0" y="0" font-size="8.6" font-weight="bold" fill="#1a1a1a" text-anchor="end" transform="matrix(0.982,-0.372,0.640,0.480,51.3,196.2)">1.2 V</text><text x="0" y="0" font-size="8.6" font-weight="bold" fill="#1a1a1a" text-anchor="end" transform="matrix(0.982,-0.372,0.640,0.480,64.6,201.5)">1.3 V</text><text x="0" y="0" font-size="8.6" font-weight="bold" fill="#1a1a1a" text-anchor="end" transform="matrix(0.982,-0.372,0.640,0.480,77.9,206.8)">1.4 V</text><text x="0" y="0" font-size="8.6" font-weight="bold" fill="#1a1a1a" text-anchor="end" transform="matrix(0.982,-0.372,0.640,0.480,91.2,212.0)">1.5 V</text><text x="0" y="0" font-size="8.6" font-weight="bold" fill="#1a1a1a" text-anchor="end" transform="matrix(0.982,-0.372,0.640,0.480,104.5,217.2)">1.6 V</text><text x="0" y="0" font-size="8.6" font-weight="bold" fill="#1a1a1a" text-anchor="end" transform="matrix(0.982,-0.372,0.640,0.480,117.8,222.5)">1.7 V</text><text x="0" y="0" font-size="8.6" font-weight="bold" fill="#1a1a1a" text-anchor="end" transform="matrix(0.982,-0.372,0.640,0.480,131.1,227.8)">1.8 V</text><text x="0" y="0" font-size="8.6" font-weight="bold" fill="#1a1a1a" text-anchor="end" transform="matrix(0.982,-0.372,0.640,0.480,144.4,233.0)">1.9 V</text><text x="0" y="0" font-size="8.6" font-weight="bold" fill="#1a1a1a" text-anchor="end" transform="matrix(0.982,-0.372,0.640,0.480,157.7,238.2)">2.0 V</text><text x="0" y="0" font-size="12.2" font-weight="bold" fill="#151515" transform="translate(14.2,206.8) rotate(21.5) scale(1,0.82)" textLength="125" lengthAdjust="spacingAndGlyphs">Potential (V. vs RHE)</text><text x="0" y="0" font-size="9" font-weight="bold" fill="#1a1a1a" transform="translate(170.0,245.0) rotate(17) skewX(-28) scale(1.12,0.78)">1000</text><text x="0" y="0" font-size="9" font-weight="bold" fill="#1a1a1a" transform="translate(188.5,235.7) rotate(17) skewX(-28) scale(1.12,0.78)">1500</text><text x="0" y="0" font-size="9" font-weight="bold" fill="#1a1a1a" transform="translate(207.0,226.4) rotate(17) skewX(-28) scale(1.12,0.78)">2000</text><text x="0" y="0" font-size="9" font-weight="bold" fill="#1a1a1a" transform="translate(225.5,217.1) rotate(17) skewX(-28) scale(1.12,0.78)">2500</text><text x="0" y="0" font-size="9" font-weight="bold" fill="#1a1a1a" transform="translate(244.0,207.8) rotate(17) skewX(-28) scale(1.12,0.78)">3000</text><text x="0" y="0" font-size="9" font-weight="bold" fill="#1a1a1a" transform="translate(262.5,198.5) rotate(17) skewX(-28) scale(1.12,0.78)">3500</text><text x="0" y="0" font-size="9" font-weight="bold" fill="#1a1a1a" transform="translate(281.0,189.2) rotate(17) skewX(-28) scale(1.12,0.78)">4000</text><text x="0" y="0" font-size="13" font-weight="bold" fill="#111" transform="translate(222.0,258.8) rotate(-31.5)">wave number (cm<tspan font-size="7.5" dy="-5">-1</tspan><tspan dy="5">)</tspan></text></svg></body></html>
